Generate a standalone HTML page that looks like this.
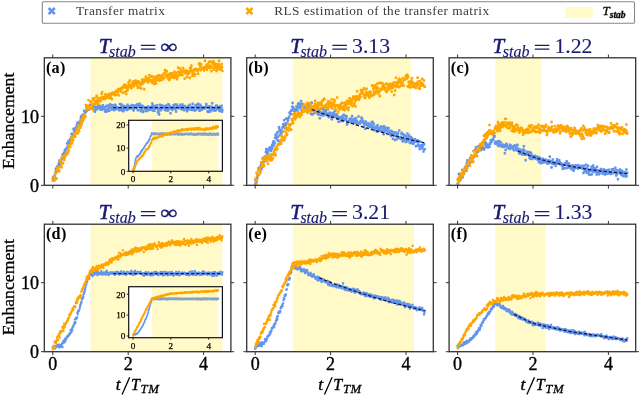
<!DOCTYPE html>
<html><head><meta charset="utf-8"><title>Enhancement vs time</title>
<style>html,body{margin:0;padding:0;background:#fff;}body{width:640px;height:395px;overflow:hidden;position:relative;font-family:"Liberation Serif",serif;}</style>
</head><body>
<svg width="640" height="395" viewBox="0 0 640 395" style="position:absolute;left:0;top:0;will-change:transform"><rect x="42.3" y="1.8" width="592.2" height="21.4" rx="1" fill="#fff" stroke="#888" stroke-width="1.1"/><path d="M48.6 8l6.2 6.2m0-6.2l-6.2 6.2" stroke="#6495ed" stroke-width="2.6"/><path d="M246.3 8l6.2 6.2m0-6.2l-6.2 6.2" stroke="#ffa500" stroke-width="2.6"/><text x="76.0" y="15.1" font-family="Liberation Serif" font-size="13.3" letter-spacing="0.45" fill="#3c3c3c">Transfer matrix</text><text x="274.2" y="15.1" font-family="Liberation Serif" font-size="13.3" letter-spacing="0.44" fill="#3c3c3c">RLS estimation of the transfer matrix</text><rect x="565.3" y="7" width="27.5" height="10.5" fill="#fffac8"/><text x="602.5" y="15.4" font-family="Liberation Serif" font-style="italic" font-size="13" fill="#000" stroke="#000" stroke-width="0.3">T<tspan font-size="9.5" font-weight="bold" dy="2.2">stab</tspan></text><rect x="90.5" y="57.8" width="131.9" height="127.5" fill="#fffac8"/><path d="M51.8 178.1l2.0 2.0m0 -2.0l-2.0 2.0M52.2 176.4l2.0 2.0m0 -2.0l-2.0 2.0M52.6 176.5l2.0 2.0m0 -2.0l-2.0 2.0M53.1 176.7l2.0 2.0m0 -2.0l-2.0 2.0M53.5 174.7l2.0 2.0m0 -2.0l-2.0 2.0M53.9 174.7l2.0 2.0m0 -2.0l-2.0 2.0M54.3 171.5l2.0 2.0m0 -2.0l-2.0 2.0M54.8 167.8l2.0 2.0m0 -2.0l-2.0 2.0M55.2 170.5l2.0 2.0m0 -2.0l-2.0 2.0M55.6 169.6l2.0 2.0m0 -2.0l-2.0 2.0M56.0 166.3l2.0 2.0m0 -2.0l-2.0 2.0M56.5 165.5l2.0 2.0m0 -2.0l-2.0 2.0M56.9 164.9l2.0 2.0m0 -2.0l-2.0 2.0M57.3 166.0l2.0 2.0m0 -2.0l-2.0 2.0M57.7 163.0l2.0 2.0m0 -2.0l-2.0 2.0M58.2 160.4l2.0 2.0m0 -2.0l-2.0 2.0M58.6 163.6l2.0 2.0m0 -2.0l-2.0 2.0M59.0 160.9l2.0 2.0m0 -2.0l-2.0 2.0M59.4 162.9l2.0 2.0m0 -2.0l-2.0 2.0M59.9 160.8l2.0 2.0m0 -2.0l-2.0 2.0M60.3 161.0l2.0 2.0m0 -2.0l-2.0 2.0M60.7 156.8l2.0 2.0m0 -2.0l-2.0 2.0M61.1 158.0l2.0 2.0m0 -2.0l-2.0 2.0M61.6 153.9l2.0 2.0m0 -2.0l-2.0 2.0M62.0 153.3l2.0 2.0m0 -2.0l-2.0 2.0M62.4 153.1l2.0 2.0m0 -2.0l-2.0 2.0M62.8 157.0l2.0 2.0m0 -2.0l-2.0 2.0M63.3 152.0l2.0 2.0m0 -2.0l-2.0 2.0M63.7 150.1l2.0 2.0m0 -2.0l-2.0 2.0M64.1 148.8l2.0 2.0m0 -2.0l-2.0 2.0M64.5 151.3l2.0 2.0m0 -2.0l-2.0 2.0M65.0 148.3l2.0 2.0m0 -2.0l-2.0 2.0M65.4 148.4l2.0 2.0m0 -2.0l-2.0 2.0M65.8 147.1l2.0 2.0m0 -2.0l-2.0 2.0M66.2 142.4l2.0 2.0m0 -2.0l-2.0 2.0M66.7 145.3l2.0 2.0m0 -2.0l-2.0 2.0M67.1 142.8l2.0 2.0m0 -2.0l-2.0 2.0M67.5 140.0l2.0 2.0m0 -2.0l-2.0 2.0M67.9 142.2l2.0 2.0m0 -2.0l-2.0 2.0M68.4 140.4l2.0 2.0m0 -2.0l-2.0 2.0M68.8 139.1l2.0 2.0m0 -2.0l-2.0 2.0M69.2 138.4l2.0 2.0m0 -2.0l-2.0 2.0M69.6 140.2l2.0 2.0m0 -2.0l-2.0 2.0M70.1 136.7l2.0 2.0m0 -2.0l-2.0 2.0M70.5 133.3l2.0 2.0m0 -2.0l-2.0 2.0M70.9 138.5l2.0 2.0m0 -2.0l-2.0 2.0M71.3 132.7l2.0 2.0m0 -2.0l-2.0 2.0M71.8 133.4l2.0 2.0m0 -2.0l-2.0 2.0M72.2 134.2l2.0 2.0m0 -2.0l-2.0 2.0M72.6 127.9l2.0 2.0m0 -2.0l-2.0 2.0M73.0 129.7l2.0 2.0m0 -2.0l-2.0 2.0M73.5 132.9l2.0 2.0m0 -2.0l-2.0 2.0M73.9 129.5l2.0 2.0m0 -2.0l-2.0 2.0M74.3 127.6l2.0 2.0m0 -2.0l-2.0 2.0M74.7 128.4l2.0 2.0m0 -2.0l-2.0 2.0M75.2 125.8l2.0 2.0m0 -2.0l-2.0 2.0M75.6 126.5l2.0 2.0m0 -2.0l-2.0 2.0M76.0 124.2l2.0 2.0m0 -2.0l-2.0 2.0M76.4 121.8l2.0 2.0m0 -2.0l-2.0 2.0M76.9 125.4l2.0 2.0m0 -2.0l-2.0 2.0M77.3 122.7l2.0 2.0m0 -2.0l-2.0 2.0M77.7 123.3l2.0 2.0m0 -2.0l-2.0 2.0M78.1 121.3l2.0 2.0m0 -2.0l-2.0 2.0M78.6 123.2l2.0 2.0m0 -2.0l-2.0 2.0M79.0 121.2l2.0 2.0m0 -2.0l-2.0 2.0M79.4 119.6l2.0 2.0m0 -2.0l-2.0 2.0M79.8 116.6l2.0 2.0m0 -2.0l-2.0 2.0M80.3 115.3l2.0 2.0m0 -2.0l-2.0 2.0M80.7 119.6l2.0 2.0m0 -2.0l-2.0 2.0M81.1 117.8l2.0 2.0m0 -2.0l-2.0 2.0M81.5 114.0l2.0 2.0m0 -2.0l-2.0 2.0M82.0 118.7l2.0 2.0m0 -2.0l-2.0 2.0M82.4 114.7l2.0 2.0m0 -2.0l-2.0 2.0M82.8 113.3l2.0 2.0m0 -2.0l-2.0 2.0M83.2 109.9l2.0 2.0m0 -2.0l-2.0 2.0M83.7 110.4l2.0 2.0m0 -2.0l-2.0 2.0M84.1 111.9l2.0 2.0m0 -2.0l-2.0 2.0M84.5 111.4l2.0 2.0m0 -2.0l-2.0 2.0M84.9 110.6l2.0 2.0m0 -2.0l-2.0 2.0M85.4 106.3l2.0 2.0m0 -2.0l-2.0 2.0M85.8 109.8l2.0 2.0m0 -2.0l-2.0 2.0M86.2 108.9l2.0 2.0m0 -2.0l-2.0 2.0M86.6 106.9l2.0 2.0m0 -2.0l-2.0 2.0M87.1 107.3l2.0 2.0m0 -2.0l-2.0 2.0M87.5 106.9l2.0 2.0m0 -2.0l-2.0 2.0M87.9 108.6l2.0 2.0m0 -2.0l-2.0 2.0M88.3 106.4l2.0 2.0m0 -2.0l-2.0 2.0M88.8 107.3l2.0 2.0m0 -2.0l-2.0 2.0M89.2 103.9l2.0 2.0m0 -2.0l-2.0 2.0M89.6 105.0l2.0 2.0m0 -2.0l-2.0 2.0M90.0 106.4l2.0 2.0m0 -2.0l-2.0 2.0M90.5 105.0l2.0 2.0m0 -2.0l-2.0 2.0M90.9 107.0l2.0 2.0m0 -2.0l-2.0 2.0M91.3 104.2l2.0 2.0m0 -2.0l-2.0 2.0M91.7 106.4l2.0 2.0m0 -2.0l-2.0 2.0M92.2 105.1l2.0 2.0m0 -2.0l-2.0 2.0M92.6 109.0l2.0 2.0m0 -2.0l-2.0 2.0M93.0 105.6l2.0 2.0m0 -2.0l-2.0 2.0M93.4 109.8l2.0 2.0m0 -2.0l-2.0 2.0M93.9 110.6l2.0 2.0m0 -2.0l-2.0 2.0M94.3 107.0l2.0 2.0m0 -2.0l-2.0 2.0M94.7 108.2l2.0 2.0m0 -2.0l-2.0 2.0M95.1 106.0l2.0 2.0m0 -2.0l-2.0 2.0M95.6 101.7l2.0 2.0m0 -2.0l-2.0 2.0M96.0 108.1l2.0 2.0m0 -2.0l-2.0 2.0M96.4 107.7l2.0 2.0m0 -2.0l-2.0 2.0M96.8 105.9l2.0 2.0m0 -2.0l-2.0 2.0M97.3 105.3l2.0 2.0m0 -2.0l-2.0 2.0M97.7 106.7l2.0 2.0m0 -2.0l-2.0 2.0M98.1 106.8l2.0 2.0m0 -2.0l-2.0 2.0M98.5 104.9l2.0 2.0m0 -2.0l-2.0 2.0M99.0 105.3l2.0 2.0m0 -2.0l-2.0 2.0M99.4 108.5l2.0 2.0m0 -2.0l-2.0 2.0M99.8 106.5l2.0 2.0m0 -2.0l-2.0 2.0M100.2 106.3l2.0 2.0m0 -2.0l-2.0 2.0M100.7 108.6l2.0 2.0m0 -2.0l-2.0 2.0M101.1 105.9l2.0 2.0m0 -2.0l-2.0 2.0M101.5 108.2l2.0 2.0m0 -2.0l-2.0 2.0M101.9 104.4l2.0 2.0m0 -2.0l-2.0 2.0M102.4 106.0l2.0 2.0m0 -2.0l-2.0 2.0M102.8 106.2l2.0 2.0m0 -2.0l-2.0 2.0M103.2 107.6l2.0 2.0m0 -2.0l-2.0 2.0M103.7 106.6l2.0 2.0m0 -2.0l-2.0 2.0M104.1 110.5l2.0 2.0m0 -2.0l-2.0 2.0M104.5 108.7l2.0 2.0m0 -2.0l-2.0 2.0M104.9 105.7l2.0 2.0m0 -2.0l-2.0 2.0M105.4 110.8l2.0 2.0m0 -2.0l-2.0 2.0M105.8 104.7l2.0 2.0m0 -2.0l-2.0 2.0M106.2 110.0l2.0 2.0m0 -2.0l-2.0 2.0M106.6 104.9l2.0 2.0m0 -2.0l-2.0 2.0M107.1 108.2l2.0 2.0m0 -2.0l-2.0 2.0M107.5 104.8l2.0 2.0m0 -2.0l-2.0 2.0M107.9 106.2l2.0 2.0m0 -2.0l-2.0 2.0M108.3 109.6l2.0 2.0m0 -2.0l-2.0 2.0M108.8 103.8l2.0 2.0m0 -2.0l-2.0 2.0M109.2 103.4l2.0 2.0m0 -2.0l-2.0 2.0M109.6 106.6l2.0 2.0m0 -2.0l-2.0 2.0M110.0 107.0l2.0 2.0m0 -2.0l-2.0 2.0M110.5 106.8l2.0 2.0m0 -2.0l-2.0 2.0M110.9 108.5l2.0 2.0m0 -2.0l-2.0 2.0M111.3 104.2l2.0 2.0m0 -2.0l-2.0 2.0M111.7 107.6l2.0 2.0m0 -2.0l-2.0 2.0M112.2 106.6l2.0 2.0m0 -2.0l-2.0 2.0M112.6 108.1l2.0 2.0m0 -2.0l-2.0 2.0M113.0 107.7l2.0 2.0m0 -2.0l-2.0 2.0M113.4 109.1l2.0 2.0m0 -2.0l-2.0 2.0M113.9 103.9l2.0 2.0m0 -2.0l-2.0 2.0M114.3 106.8l2.0 2.0m0 -2.0l-2.0 2.0M114.7 104.5l2.0 2.0m0 -2.0l-2.0 2.0M115.1 106.4l2.0 2.0m0 -2.0l-2.0 2.0M115.6 107.9l2.0 2.0m0 -2.0l-2.0 2.0M116.0 107.1l2.0 2.0m0 -2.0l-2.0 2.0M116.4 107.6l2.0 2.0m0 -2.0l-2.0 2.0M116.8 106.5l2.0 2.0m0 -2.0l-2.0 2.0M117.3 107.3l2.0 2.0m0 -2.0l-2.0 2.0M117.7 107.1l2.0 2.0m0 -2.0l-2.0 2.0M118.1 109.3l2.0 2.0m0 -2.0l-2.0 2.0M118.5 108.2l2.0 2.0m0 -2.0l-2.0 2.0M119.0 103.1l2.0 2.0m0 -2.0l-2.0 2.0M119.4 107.9l2.0 2.0m0 -2.0l-2.0 2.0M119.8 108.7l2.0 2.0m0 -2.0l-2.0 2.0M120.2 105.8l2.0 2.0m0 -2.0l-2.0 2.0M120.7 103.6l2.0 2.0m0 -2.0l-2.0 2.0M121.1 109.5l2.0 2.0m0 -2.0l-2.0 2.0M121.5 106.9l2.0 2.0m0 -2.0l-2.0 2.0M121.9 107.8l2.0 2.0m0 -2.0l-2.0 2.0M122.4 110.1l2.0 2.0m0 -2.0l-2.0 2.0M122.8 105.0l2.0 2.0m0 -2.0l-2.0 2.0M123.2 106.6l2.0 2.0m0 -2.0l-2.0 2.0M123.6 106.4l2.0 2.0m0 -2.0l-2.0 2.0M124.1 108.1l2.0 2.0m0 -2.0l-2.0 2.0M124.5 105.6l2.0 2.0m0 -2.0l-2.0 2.0M124.9 107.6l2.0 2.0m0 -2.0l-2.0 2.0M125.3 106.8l2.0 2.0m0 -2.0l-2.0 2.0M125.8 108.8l2.0 2.0m0 -2.0l-2.0 2.0M126.2 109.0l2.0 2.0m0 -2.0l-2.0 2.0M126.6 103.8l2.0 2.0m0 -2.0l-2.0 2.0M127.0 107.6l2.0 2.0m0 -2.0l-2.0 2.0M127.5 105.9l2.0 2.0m0 -2.0l-2.0 2.0M127.9 106.6l2.0 2.0m0 -2.0l-2.0 2.0M128.3 107.4l2.0 2.0m0 -2.0l-2.0 2.0M128.7 107.6l2.0 2.0m0 -2.0l-2.0 2.0M129.2 105.2l2.0 2.0m0 -2.0l-2.0 2.0M129.6 107.2l2.0 2.0m0 -2.0l-2.0 2.0M130.0 106.9l2.0 2.0m0 -2.0l-2.0 2.0M130.4 106.5l2.0 2.0m0 -2.0l-2.0 2.0M130.9 104.1l2.0 2.0m0 -2.0l-2.0 2.0M131.3 105.1l2.0 2.0m0 -2.0l-2.0 2.0M131.7 105.8l2.0 2.0m0 -2.0l-2.0 2.0M132.1 107.7l2.0 2.0m0 -2.0l-2.0 2.0M132.6 109.4l2.0 2.0m0 -2.0l-2.0 2.0M133.0 104.6l2.0 2.0m0 -2.0l-2.0 2.0M133.4 104.6l2.0 2.0m0 -2.0l-2.0 2.0M133.8 106.9l2.0 2.0m0 -2.0l-2.0 2.0M134.3 105.4l2.0 2.0m0 -2.0l-2.0 2.0M134.7 104.9l2.0 2.0m0 -2.0l-2.0 2.0M135.1 104.8l2.0 2.0m0 -2.0l-2.0 2.0M135.5 104.7l2.0 2.0m0 -2.0l-2.0 2.0M136.0 107.5l2.0 2.0m0 -2.0l-2.0 2.0M136.4 103.4l2.0 2.0m0 -2.0l-2.0 2.0M136.8 109.2l2.0 2.0m0 -2.0l-2.0 2.0M137.2 104.8l2.0 2.0m0 -2.0l-2.0 2.0M137.7 105.6l2.0 2.0m0 -2.0l-2.0 2.0M138.1 104.8l2.0 2.0m0 -2.0l-2.0 2.0M138.5 102.7l2.0 2.0m0 -2.0l-2.0 2.0M138.9 103.5l2.0 2.0m0 -2.0l-2.0 2.0M139.4 109.0l2.0 2.0m0 -2.0l-2.0 2.0M139.8 110.1l2.0 2.0m0 -2.0l-2.0 2.0M140.2 104.9l2.0 2.0m0 -2.0l-2.0 2.0M140.6 108.7l2.0 2.0m0 -2.0l-2.0 2.0M141.1 106.6l2.0 2.0m0 -2.0l-2.0 2.0M141.5 104.9l2.0 2.0m0 -2.0l-2.0 2.0M141.9 110.0l2.0 2.0m0 -2.0l-2.0 2.0M142.3 111.0l2.0 2.0m0 -2.0l-2.0 2.0M142.8 106.1l2.0 2.0m0 -2.0l-2.0 2.0M143.2 106.5l2.0 2.0m0 -2.0l-2.0 2.0M143.6 107.1l2.0 2.0m0 -2.0l-2.0 2.0M144.0 106.5l2.0 2.0m0 -2.0l-2.0 2.0M144.5 108.4l2.0 2.0m0 -2.0l-2.0 2.0M144.9 109.8l2.0 2.0m0 -2.0l-2.0 2.0M145.3 107.0l2.0 2.0m0 -2.0l-2.0 2.0M145.7 108.6l2.0 2.0m0 -2.0l-2.0 2.0M146.2 110.0l2.0 2.0m0 -2.0l-2.0 2.0M146.6 105.6l2.0 2.0m0 -2.0l-2.0 2.0M147.0 106.8l2.0 2.0m0 -2.0l-2.0 2.0M147.4 105.8l2.0 2.0m0 -2.0l-2.0 2.0M147.9 108.7l2.0 2.0m0 -2.0l-2.0 2.0M148.3 108.0l2.0 2.0m0 -2.0l-2.0 2.0M148.7 108.7l2.0 2.0m0 -2.0l-2.0 2.0M149.1 108.5l2.0 2.0m0 -2.0l-2.0 2.0M149.6 106.2l2.0 2.0m0 -2.0l-2.0 2.0M150.0 108.3l2.0 2.0m0 -2.0l-2.0 2.0M150.4 105.9l2.0 2.0m0 -2.0l-2.0 2.0M150.8 105.9l2.0 2.0m0 -2.0l-2.0 2.0M151.3 102.5l2.0 2.0m0 -2.0l-2.0 2.0M151.7 109.5l2.0 2.0m0 -2.0l-2.0 2.0M152.1 104.8l2.0 2.0m0 -2.0l-2.0 2.0M152.5 106.8l2.0 2.0m0 -2.0l-2.0 2.0M153.0 106.7l2.0 2.0m0 -2.0l-2.0 2.0M153.4 109.7l2.0 2.0m0 -2.0l-2.0 2.0M153.8 107.6l2.0 2.0m0 -2.0l-2.0 2.0M154.2 105.1l2.0 2.0m0 -2.0l-2.0 2.0M154.7 106.8l2.0 2.0m0 -2.0l-2.0 2.0M155.1 106.5l2.0 2.0m0 -2.0l-2.0 2.0M155.5 107.3l2.0 2.0m0 -2.0l-2.0 2.0M155.9 104.3l2.0 2.0m0 -2.0l-2.0 2.0M156.4 106.7l2.0 2.0m0 -2.0l-2.0 2.0M156.8 111.2l2.0 2.0m0 -2.0l-2.0 2.0M157.2 108.1l2.0 2.0m0 -2.0l-2.0 2.0M157.6 110.8l2.0 2.0m0 -2.0l-2.0 2.0M158.1 113.4l2.0 2.0m0 -2.0l-2.0 2.0M158.5 107.8l2.0 2.0m0 -2.0l-2.0 2.0M158.9 103.9l2.0 2.0m0 -2.0l-2.0 2.0M159.3 106.6l2.0 2.0m0 -2.0l-2.0 2.0M159.8 109.1l2.0 2.0m0 -2.0l-2.0 2.0M160.2 108.6l2.0 2.0m0 -2.0l-2.0 2.0M160.6 104.4l2.0 2.0m0 -2.0l-2.0 2.0M161.0 106.4l2.0 2.0m0 -2.0l-2.0 2.0M161.5 106.6l2.0 2.0m0 -2.0l-2.0 2.0M161.9 106.8l2.0 2.0m0 -2.0l-2.0 2.0M162.3 106.6l2.0 2.0m0 -2.0l-2.0 2.0M162.7 105.0l2.0 2.0m0 -2.0l-2.0 2.0M163.2 105.6l2.0 2.0m0 -2.0l-2.0 2.0M163.6 106.3l2.0 2.0m0 -2.0l-2.0 2.0M164.0 108.9l2.0 2.0m0 -2.0l-2.0 2.0M164.4 105.7l2.0 2.0m0 -2.0l-2.0 2.0M164.9 108.1l2.0 2.0m0 -2.0l-2.0 2.0M165.3 104.5l2.0 2.0m0 -2.0l-2.0 2.0M165.7 109.4l2.0 2.0m0 -2.0l-2.0 2.0M166.1 107.0l2.0 2.0m0 -2.0l-2.0 2.0M166.6 106.8l2.0 2.0m0 -2.0l-2.0 2.0M167.0 109.5l2.0 2.0m0 -2.0l-2.0 2.0M167.4 103.2l2.0 2.0m0 -2.0l-2.0 2.0M167.8 103.7l2.0 2.0m0 -2.0l-2.0 2.0M168.3 107.7l2.0 2.0m0 -2.0l-2.0 2.0M168.7 105.2l2.0 2.0m0 -2.0l-2.0 2.0M169.1 106.0l2.0 2.0m0 -2.0l-2.0 2.0M169.5 112.2l2.0 2.0m0 -2.0l-2.0 2.0M170.0 106.2l2.0 2.0m0 -2.0l-2.0 2.0M170.4 106.9l2.0 2.0m0 -2.0l-2.0 2.0M170.8 106.6l2.0 2.0m0 -2.0l-2.0 2.0M171.3 109.0l2.0 2.0m0 -2.0l-2.0 2.0M171.7 107.3l2.0 2.0m0 -2.0l-2.0 2.0M172.1 107.1l2.0 2.0m0 -2.0l-2.0 2.0M172.5 104.3l2.0 2.0m0 -2.0l-2.0 2.0M173.0 106.1l2.0 2.0m0 -2.0l-2.0 2.0M173.4 106.8l2.0 2.0m0 -2.0l-2.0 2.0M173.8 103.6l2.0 2.0m0 -2.0l-2.0 2.0M174.2 107.9l2.0 2.0m0 -2.0l-2.0 2.0M174.7 107.6l2.0 2.0m0 -2.0l-2.0 2.0M175.1 110.5l2.0 2.0m0 -2.0l-2.0 2.0M175.5 103.5l2.0 2.0m0 -2.0l-2.0 2.0M175.9 104.8l2.0 2.0m0 -2.0l-2.0 2.0M176.4 104.9l2.0 2.0m0 -2.0l-2.0 2.0M176.8 105.4l2.0 2.0m0 -2.0l-2.0 2.0M177.2 106.6l2.0 2.0m0 -2.0l-2.0 2.0M177.6 106.3l2.0 2.0m0 -2.0l-2.0 2.0M178.1 107.3l2.0 2.0m0 -2.0l-2.0 2.0M178.5 107.2l2.0 2.0m0 -2.0l-2.0 2.0M178.9 106.7l2.0 2.0m0 -2.0l-2.0 2.0M179.3 103.7l2.0 2.0m0 -2.0l-2.0 2.0M179.8 105.7l2.0 2.0m0 -2.0l-2.0 2.0M180.2 106.9l2.0 2.0m0 -2.0l-2.0 2.0M180.6 108.0l2.0 2.0m0 -2.0l-2.0 2.0M181.0 108.1l2.0 2.0m0 -2.0l-2.0 2.0M181.5 103.5l2.0 2.0m0 -2.0l-2.0 2.0M181.9 105.8l2.0 2.0m0 -2.0l-2.0 2.0M182.3 106.7l2.0 2.0m0 -2.0l-2.0 2.0M182.7 107.5l2.0 2.0m0 -2.0l-2.0 2.0M183.2 109.1l2.0 2.0m0 -2.0l-2.0 2.0M183.6 107.0l2.0 2.0m0 -2.0l-2.0 2.0M184.0 105.0l2.0 2.0m0 -2.0l-2.0 2.0M184.4 107.6l2.0 2.0m0 -2.0l-2.0 2.0M184.9 107.3l2.0 2.0m0 -2.0l-2.0 2.0M185.3 107.3l2.0 2.0m0 -2.0l-2.0 2.0M185.7 106.6l2.0 2.0m0 -2.0l-2.0 2.0M186.1 110.1l2.0 2.0m0 -2.0l-2.0 2.0M186.6 107.3l2.0 2.0m0 -2.0l-2.0 2.0M187.0 108.6l2.0 2.0m0 -2.0l-2.0 2.0M187.4 105.0l2.0 2.0m0 -2.0l-2.0 2.0M187.8 108.4l2.0 2.0m0 -2.0l-2.0 2.0M188.3 105.7l2.0 2.0m0 -2.0l-2.0 2.0M188.7 103.7l2.0 2.0m0 -2.0l-2.0 2.0M189.1 107.5l2.0 2.0m0 -2.0l-2.0 2.0M189.5 108.1l2.0 2.0m0 -2.0l-2.0 2.0M190.0 106.5l2.0 2.0m0 -2.0l-2.0 2.0M190.4 106.9l2.0 2.0m0 -2.0l-2.0 2.0M190.8 108.9l2.0 2.0m0 -2.0l-2.0 2.0M191.2 105.9l2.0 2.0m0 -2.0l-2.0 2.0M191.7 102.7l2.0 2.0m0 -2.0l-2.0 2.0M192.1 107.4l2.0 2.0m0 -2.0l-2.0 2.0M192.5 107.3l2.0 2.0m0 -2.0l-2.0 2.0M192.9 109.0l2.0 2.0m0 -2.0l-2.0 2.0M193.4 106.2l2.0 2.0m0 -2.0l-2.0 2.0M193.8 109.5l2.0 2.0m0 -2.0l-2.0 2.0M194.2 109.2l2.0 2.0m0 -2.0l-2.0 2.0M194.6 104.2l2.0 2.0m0 -2.0l-2.0 2.0M195.1 108.8l2.0 2.0m0 -2.0l-2.0 2.0M195.5 104.7l2.0 2.0m0 -2.0l-2.0 2.0M195.9 103.7l2.0 2.0m0 -2.0l-2.0 2.0M196.3 106.4l2.0 2.0m0 -2.0l-2.0 2.0M196.8 105.8l2.0 2.0m0 -2.0l-2.0 2.0M197.2 102.9l2.0 2.0m0 -2.0l-2.0 2.0M197.6 107.3l2.0 2.0m0 -2.0l-2.0 2.0M198.0 108.1l2.0 2.0m0 -2.0l-2.0 2.0M198.5 109.7l2.0 2.0m0 -2.0l-2.0 2.0M198.9 106.8l2.0 2.0m0 -2.0l-2.0 2.0M199.3 103.8l2.0 2.0m0 -2.0l-2.0 2.0M199.7 104.9l2.0 2.0m0 -2.0l-2.0 2.0M200.2 108.9l2.0 2.0m0 -2.0l-2.0 2.0M200.6 108.7l2.0 2.0m0 -2.0l-2.0 2.0M201.0 108.0l2.0 2.0m0 -2.0l-2.0 2.0M201.4 106.3l2.0 2.0m0 -2.0l-2.0 2.0M201.9 107.3l2.0 2.0m0 -2.0l-2.0 2.0M202.3 106.5l2.0 2.0m0 -2.0l-2.0 2.0M202.7 106.3l2.0 2.0m0 -2.0l-2.0 2.0M203.1 107.5l2.0 2.0m0 -2.0l-2.0 2.0M203.6 107.0l2.0 2.0m0 -2.0l-2.0 2.0M204.0 106.5l2.0 2.0m0 -2.0l-2.0 2.0M204.4 107.1l2.0 2.0m0 -2.0l-2.0 2.0M204.8 105.9l2.0 2.0m0 -2.0l-2.0 2.0M205.3 103.1l2.0 2.0m0 -2.0l-2.0 2.0M205.7 105.7l2.0 2.0m0 -2.0l-2.0 2.0M206.1 106.8l2.0 2.0m0 -2.0l-2.0 2.0M206.5 110.4l2.0 2.0m0 -2.0l-2.0 2.0M207.0 106.1l2.0 2.0m0 -2.0l-2.0 2.0M207.4 111.0l2.0 2.0m0 -2.0l-2.0 2.0M207.8 109.9l2.0 2.0m0 -2.0l-2.0 2.0M208.2 105.2l2.0 2.0m0 -2.0l-2.0 2.0M208.7 105.5l2.0 2.0m0 -2.0l-2.0 2.0M209.1 107.3l2.0 2.0m0 -2.0l-2.0 2.0M209.5 110.5l2.0 2.0m0 -2.0l-2.0 2.0M209.9 107.7l2.0 2.0m0 -2.0l-2.0 2.0M210.4 108.4l2.0 2.0m0 -2.0l-2.0 2.0M210.8 105.7l2.0 2.0m0 -2.0l-2.0 2.0M211.2 102.3l2.0 2.0m0 -2.0l-2.0 2.0M211.6 106.5l2.0 2.0m0 -2.0l-2.0 2.0M212.1 108.6l2.0 2.0m0 -2.0l-2.0 2.0M212.5 109.4l2.0 2.0m0 -2.0l-2.0 2.0M212.9 107.1l2.0 2.0m0 -2.0l-2.0 2.0M213.3 107.4l2.0 2.0m0 -2.0l-2.0 2.0M213.8 109.4l2.0 2.0m0 -2.0l-2.0 2.0M214.2 106.7l2.0 2.0m0 -2.0l-2.0 2.0M214.6 109.4l2.0 2.0m0 -2.0l-2.0 2.0M215.0 104.7l2.0 2.0m0 -2.0l-2.0 2.0M215.5 104.8l2.0 2.0m0 -2.0l-2.0 2.0M215.9 104.8l2.0 2.0m0 -2.0l-2.0 2.0M216.3 108.0l2.0 2.0m0 -2.0l-2.0 2.0M216.7 105.9l2.0 2.0m0 -2.0l-2.0 2.0M217.2 107.3l2.0 2.0m0 -2.0l-2.0 2.0M217.6 107.8l2.0 2.0m0 -2.0l-2.0 2.0M218.0 107.7l2.0 2.0m0 -2.0l-2.0 2.0M218.4 109.7l2.0 2.0m0 -2.0l-2.0 2.0M218.9 110.0l2.0 2.0m0 -2.0l-2.0 2.0M219.3 105.4l2.0 2.0m0 -2.0l-2.0 2.0M219.7 107.4l2.0 2.0m0 -2.0l-2.0 2.0M220.1 106.6l2.0 2.0m0 -2.0l-2.0 2.0M220.6 104.9l2.0 2.0m0 -2.0l-2.0 2.0M221.0 110.6l2.0 2.0m0 -2.0l-2.0 2.0M221.4 108.7l2.0 2.0m0 -2.0l-2.0 2.0" stroke="#6495ed" stroke-width="1.5" fill="none" opacity="1.0"/><path d="M51.8 179.7l2.0 2.0m0 -2.0l-2.0 2.0M52.2 178.2l2.0 2.0m0 -2.0l-2.0 2.0M52.6 179.5l2.0 2.0m0 -2.0l-2.0 2.0M53.1 174.7l2.0 2.0m0 -2.0l-2.0 2.0M53.5 176.1l2.0 2.0m0 -2.0l-2.0 2.0M53.9 179.2l2.0 2.0m0 -2.0l-2.0 2.0M54.3 177.5l2.0 2.0m0 -2.0l-2.0 2.0M54.8 171.9l2.0 2.0m0 -2.0l-2.0 2.0M55.2 172.0l2.0 2.0m0 -2.0l-2.0 2.0M55.6 177.6l2.0 2.0m0 -2.0l-2.0 2.0M56.0 167.8l2.0 2.0m0 -2.0l-2.0 2.0M56.5 169.0l2.0 2.0m0 -2.0l-2.0 2.0M56.9 166.1l2.0 2.0m0 -2.0l-2.0 2.0M57.3 170.0l2.0 2.0m0 -2.0l-2.0 2.0M57.7 168.9l2.0 2.0m0 -2.0l-2.0 2.0M58.2 170.3l2.0 2.0m0 -2.0l-2.0 2.0M58.6 159.3l2.0 2.0m0 -2.0l-2.0 2.0M59.0 165.9l2.0 2.0m0 -2.0l-2.0 2.0M59.4 160.1l2.0 2.0m0 -2.0l-2.0 2.0M59.9 165.3l2.0 2.0m0 -2.0l-2.0 2.0M60.3 162.1l2.0 2.0m0 -2.0l-2.0 2.0M60.7 166.3l2.0 2.0m0 -2.0l-2.0 2.0M61.1 161.8l2.0 2.0m0 -2.0l-2.0 2.0M61.6 157.1l2.0 2.0m0 -2.0l-2.0 2.0M62.0 162.3l2.0 2.0m0 -2.0l-2.0 2.0M62.4 155.0l2.0 2.0m0 -2.0l-2.0 2.0M62.8 156.1l2.0 2.0m0 -2.0l-2.0 2.0M63.3 158.9l2.0 2.0m0 -2.0l-2.0 2.0M63.7 156.5l2.0 2.0m0 -2.0l-2.0 2.0M64.1 155.5l2.0 2.0m0 -2.0l-2.0 2.0M64.5 153.4l2.0 2.0m0 -2.0l-2.0 2.0M65.0 153.8l2.0 2.0m0 -2.0l-2.0 2.0M65.4 153.7l2.0 2.0m0 -2.0l-2.0 2.0M65.8 151.3l2.0 2.0m0 -2.0l-2.0 2.0M66.2 152.4l2.0 2.0m0 -2.0l-2.0 2.0M66.7 152.1l2.0 2.0m0 -2.0l-2.0 2.0M67.1 147.8l2.0 2.0m0 -2.0l-2.0 2.0M67.5 144.3l2.0 2.0m0 -2.0l-2.0 2.0M67.9 150.0l2.0 2.0m0 -2.0l-2.0 2.0M68.4 144.9l2.0 2.0m0 -2.0l-2.0 2.0M68.8 145.8l2.0 2.0m0 -2.0l-2.0 2.0M69.2 145.9l2.0 2.0m0 -2.0l-2.0 2.0M69.6 139.9l2.0 2.0m0 -2.0l-2.0 2.0M70.1 142.9l2.0 2.0m0 -2.0l-2.0 2.0M70.5 136.4l2.0 2.0m0 -2.0l-2.0 2.0M70.9 141.9l2.0 2.0m0 -2.0l-2.0 2.0M71.3 137.8l2.0 2.0m0 -2.0l-2.0 2.0M71.8 138.6l2.0 2.0m0 -2.0l-2.0 2.0M72.2 139.2l2.0 2.0m0 -2.0l-2.0 2.0M72.6 134.6l2.0 2.0m0 -2.0l-2.0 2.0M73.0 135.8l2.0 2.0m0 -2.0l-2.0 2.0M73.5 132.8l2.0 2.0m0 -2.0l-2.0 2.0M73.9 133.8l2.0 2.0m0 -2.0l-2.0 2.0M74.3 135.8l2.0 2.0m0 -2.0l-2.0 2.0M74.7 132.2l2.0 2.0m0 -2.0l-2.0 2.0M75.2 130.9l2.0 2.0m0 -2.0l-2.0 2.0M75.6 127.5l2.0 2.0m0 -2.0l-2.0 2.0M76.0 131.8l2.0 2.0m0 -2.0l-2.0 2.0M76.4 128.5l2.0 2.0m0 -2.0l-2.0 2.0M76.9 132.3l2.0 2.0m0 -2.0l-2.0 2.0M77.3 124.9l2.0 2.0m0 -2.0l-2.0 2.0M77.7 128.8l2.0 2.0m0 -2.0l-2.0 2.0M78.1 130.0l2.0 2.0m0 -2.0l-2.0 2.0M78.6 124.3l2.0 2.0m0 -2.0l-2.0 2.0M79.0 120.2l2.0 2.0m0 -2.0l-2.0 2.0M79.4 126.7l2.0 2.0m0 -2.0l-2.0 2.0M79.8 124.6l2.0 2.0m0 -2.0l-2.0 2.0M80.3 122.8l2.0 2.0m0 -2.0l-2.0 2.0M80.7 123.1l2.0 2.0m0 -2.0l-2.0 2.0M81.1 118.1l2.0 2.0m0 -2.0l-2.0 2.0M81.5 120.5l2.0 2.0m0 -2.0l-2.0 2.0M82.0 119.4l2.0 2.0m0 -2.0l-2.0 2.0M82.4 115.0l2.0 2.0m0 -2.0l-2.0 2.0M82.8 117.7l2.0 2.0m0 -2.0l-2.0 2.0M83.2 113.1l2.0 2.0m0 -2.0l-2.0 2.0M83.7 115.7l2.0 2.0m0 -2.0l-2.0 2.0M84.1 115.1l2.0 2.0m0 -2.0l-2.0 2.0M84.5 115.5l2.0 2.0m0 -2.0l-2.0 2.0M84.9 104.0l2.0 2.0m0 -2.0l-2.0 2.0M85.4 108.7l2.0 2.0m0 -2.0l-2.0 2.0M85.8 105.9l2.0 2.0m0 -2.0l-2.0 2.0M86.2 105.6l2.0 2.0m0 -2.0l-2.0 2.0M86.6 104.8l2.0 2.0m0 -2.0l-2.0 2.0M87.1 104.8l2.0 2.0m0 -2.0l-2.0 2.0M87.5 99.3l2.0 2.0m0 -2.0l-2.0 2.0M87.9 107.1l2.0 2.0m0 -2.0l-2.0 2.0M88.3 108.2l2.0 2.0m0 -2.0l-2.0 2.0M88.8 106.4l2.0 2.0m0 -2.0l-2.0 2.0M89.2 107.0l2.0 2.0m0 -2.0l-2.0 2.0M89.6 100.9l2.0 2.0m0 -2.0l-2.0 2.0M90.0 100.4l2.0 2.0m0 -2.0l-2.0 2.0M90.5 105.0l2.0 2.0m0 -2.0l-2.0 2.0M90.9 105.9l2.0 2.0m0 -2.0l-2.0 2.0M91.3 102.7l2.0 2.0m0 -2.0l-2.0 2.0M91.7 97.5l2.0 2.0m0 -2.0l-2.0 2.0M92.2 108.8l2.0 2.0m0 -2.0l-2.0 2.0M92.6 99.3l2.0 2.0m0 -2.0l-2.0 2.0M93.0 103.4l2.0 2.0m0 -2.0l-2.0 2.0M93.4 97.2l2.0 2.0m0 -2.0l-2.0 2.0M93.9 102.8l2.0 2.0m0 -2.0l-2.0 2.0M94.3 100.2l2.0 2.0m0 -2.0l-2.0 2.0M94.7 103.3l2.0 2.0m0 -2.0l-2.0 2.0M95.1 101.5l2.0 2.0m0 -2.0l-2.0 2.0M95.6 94.7l2.0 2.0m0 -2.0l-2.0 2.0M96.0 96.1l2.0 2.0m0 -2.0l-2.0 2.0M96.4 99.3l2.0 2.0m0 -2.0l-2.0 2.0M96.8 100.4l2.0 2.0m0 -2.0l-2.0 2.0M97.3 103.1l2.0 2.0m0 -2.0l-2.0 2.0M97.7 98.8l2.0 2.0m0 -2.0l-2.0 2.0M98.1 97.6l2.0 2.0m0 -2.0l-2.0 2.0M98.5 97.6l2.0 2.0m0 -2.0l-2.0 2.0M99.0 97.4l2.0 2.0m0 -2.0l-2.0 2.0M99.4 100.1l2.0 2.0m0 -2.0l-2.0 2.0M99.8 97.0l2.0 2.0m0 -2.0l-2.0 2.0M100.2 96.8l2.0 2.0m0 -2.0l-2.0 2.0M100.7 92.9l2.0 2.0m0 -2.0l-2.0 2.0M101.1 91.2l2.0 2.0m0 -2.0l-2.0 2.0M101.5 96.5l2.0 2.0m0 -2.0l-2.0 2.0M101.9 98.1l2.0 2.0m0 -2.0l-2.0 2.0M102.4 96.0l2.0 2.0m0 -2.0l-2.0 2.0M102.8 97.3l2.0 2.0m0 -2.0l-2.0 2.0M103.2 97.5l2.0 2.0m0 -2.0l-2.0 2.0M103.7 95.5l2.0 2.0m0 -2.0l-2.0 2.0M104.1 98.0l2.0 2.0m0 -2.0l-2.0 2.0M104.5 93.3l2.0 2.0m0 -2.0l-2.0 2.0M104.9 95.1l2.0 2.0m0 -2.0l-2.0 2.0M105.4 94.0l2.0 2.0m0 -2.0l-2.0 2.0M105.8 95.0l2.0 2.0m0 -2.0l-2.0 2.0M106.2 96.3l2.0 2.0m0 -2.0l-2.0 2.0M106.6 96.8l2.0 2.0m0 -2.0l-2.0 2.0M107.1 94.6l2.0 2.0m0 -2.0l-2.0 2.0M107.5 95.3l2.0 2.0m0 -2.0l-2.0 2.0M107.9 93.0l2.0 2.0m0 -2.0l-2.0 2.0M108.3 93.5l2.0 2.0m0 -2.0l-2.0 2.0M108.8 97.0l2.0 2.0m0 -2.0l-2.0 2.0M109.2 92.9l2.0 2.0m0 -2.0l-2.0 2.0M109.6 96.6l2.0 2.0m0 -2.0l-2.0 2.0M110.0 94.4l2.0 2.0m0 -2.0l-2.0 2.0M110.5 93.4l2.0 2.0m0 -2.0l-2.0 2.0M110.9 98.1l2.0 2.0m0 -2.0l-2.0 2.0M111.3 92.0l2.0 2.0m0 -2.0l-2.0 2.0M111.7 91.6l2.0 2.0m0 -2.0l-2.0 2.0M112.2 92.3l2.0 2.0m0 -2.0l-2.0 2.0M112.6 92.9l2.0 2.0m0 -2.0l-2.0 2.0M113.0 92.5l2.0 2.0m0 -2.0l-2.0 2.0M113.4 94.0l2.0 2.0m0 -2.0l-2.0 2.0M113.9 91.9l2.0 2.0m0 -2.0l-2.0 2.0M114.3 92.5l2.0 2.0m0 -2.0l-2.0 2.0M114.7 90.6l2.0 2.0m0 -2.0l-2.0 2.0M115.1 94.0l2.0 2.0m0 -2.0l-2.0 2.0M115.6 89.8l2.0 2.0m0 -2.0l-2.0 2.0M116.0 89.9l2.0 2.0m0 -2.0l-2.0 2.0M116.4 90.5l2.0 2.0m0 -2.0l-2.0 2.0M116.8 91.1l2.0 2.0m0 -2.0l-2.0 2.0M117.3 88.2l2.0 2.0m0 -2.0l-2.0 2.0M117.7 94.2l2.0 2.0m0 -2.0l-2.0 2.0M118.1 88.1l2.0 2.0m0 -2.0l-2.0 2.0M118.5 88.6l2.0 2.0m0 -2.0l-2.0 2.0M119.0 88.3l2.0 2.0m0 -2.0l-2.0 2.0M119.4 87.8l2.0 2.0m0 -2.0l-2.0 2.0M119.8 90.5l2.0 2.0m0 -2.0l-2.0 2.0M120.2 89.2l2.0 2.0m0 -2.0l-2.0 2.0M120.7 86.5l2.0 2.0m0 -2.0l-2.0 2.0M121.1 86.9l2.0 2.0m0 -2.0l-2.0 2.0M121.5 87.3l2.0 2.0m0 -2.0l-2.0 2.0M121.9 91.8l2.0 2.0m0 -2.0l-2.0 2.0M122.4 86.0l2.0 2.0m0 -2.0l-2.0 2.0M122.8 84.0l2.0 2.0m0 -2.0l-2.0 2.0M123.2 84.3l2.0 2.0m0 -2.0l-2.0 2.0M123.6 86.2l2.0 2.0m0 -2.0l-2.0 2.0M124.1 90.9l2.0 2.0m0 -2.0l-2.0 2.0M124.5 83.8l2.0 2.0m0 -2.0l-2.0 2.0M124.9 86.6l2.0 2.0m0 -2.0l-2.0 2.0M125.3 93.0l2.0 2.0m0 -2.0l-2.0 2.0M125.8 84.8l2.0 2.0m0 -2.0l-2.0 2.0M126.2 89.8l2.0 2.0m0 -2.0l-2.0 2.0M126.6 89.0l2.0 2.0m0 -2.0l-2.0 2.0M127.0 87.0l2.0 2.0m0 -2.0l-2.0 2.0M127.5 81.5l2.0 2.0m0 -2.0l-2.0 2.0M127.9 85.9l2.0 2.0m0 -2.0l-2.0 2.0M128.3 83.9l2.0 2.0m0 -2.0l-2.0 2.0M128.7 79.6l2.0 2.0m0 -2.0l-2.0 2.0M129.2 79.8l2.0 2.0m0 -2.0l-2.0 2.0M129.6 84.3l2.0 2.0m0 -2.0l-2.0 2.0M130.0 84.5l2.0 2.0m0 -2.0l-2.0 2.0M130.4 87.1l2.0 2.0m0 -2.0l-2.0 2.0M130.9 85.4l2.0 2.0m0 -2.0l-2.0 2.0M131.3 82.2l2.0 2.0m0 -2.0l-2.0 2.0M131.7 82.2l2.0 2.0m0 -2.0l-2.0 2.0M132.1 82.9l2.0 2.0m0 -2.0l-2.0 2.0M132.6 80.4l2.0 2.0m0 -2.0l-2.0 2.0M133.0 85.1l2.0 2.0m0 -2.0l-2.0 2.0M133.4 83.1l2.0 2.0m0 -2.0l-2.0 2.0M133.8 80.8l2.0 2.0m0 -2.0l-2.0 2.0M134.3 81.1l2.0 2.0m0 -2.0l-2.0 2.0M134.7 79.6l2.0 2.0m0 -2.0l-2.0 2.0M135.1 81.4l2.0 2.0m0 -2.0l-2.0 2.0M135.5 83.2l2.0 2.0m0 -2.0l-2.0 2.0M136.0 81.3l2.0 2.0m0 -2.0l-2.0 2.0M136.4 85.0l2.0 2.0m0 -2.0l-2.0 2.0M136.8 86.6l2.0 2.0m0 -2.0l-2.0 2.0M137.2 80.4l2.0 2.0m0 -2.0l-2.0 2.0M137.7 82.0l2.0 2.0m0 -2.0l-2.0 2.0M138.1 80.9l2.0 2.0m0 -2.0l-2.0 2.0M138.5 86.4l2.0 2.0m0 -2.0l-2.0 2.0M138.9 82.6l2.0 2.0m0 -2.0l-2.0 2.0M139.4 83.1l2.0 2.0m0 -2.0l-2.0 2.0M139.8 83.8l2.0 2.0m0 -2.0l-2.0 2.0M140.2 87.5l2.0 2.0m0 -2.0l-2.0 2.0M140.6 82.1l2.0 2.0m0 -2.0l-2.0 2.0M141.1 78.6l2.0 2.0m0 -2.0l-2.0 2.0M141.5 79.9l2.0 2.0m0 -2.0l-2.0 2.0M141.9 82.5l2.0 2.0m0 -2.0l-2.0 2.0M142.3 80.8l2.0 2.0m0 -2.0l-2.0 2.0M142.8 78.6l2.0 2.0m0 -2.0l-2.0 2.0M143.2 88.3l2.0 2.0m0 -2.0l-2.0 2.0M143.6 80.9l2.0 2.0m0 -2.0l-2.0 2.0M144.0 79.0l2.0 2.0m0 -2.0l-2.0 2.0M144.5 78.5l2.0 2.0m0 -2.0l-2.0 2.0M144.9 75.6l2.0 2.0m0 -2.0l-2.0 2.0M145.3 77.1l2.0 2.0m0 -2.0l-2.0 2.0M145.7 79.3l2.0 2.0m0 -2.0l-2.0 2.0M146.2 79.3l2.0 2.0m0 -2.0l-2.0 2.0M146.6 77.9l2.0 2.0m0 -2.0l-2.0 2.0M147.0 81.5l2.0 2.0m0 -2.0l-2.0 2.0M147.4 80.0l2.0 2.0m0 -2.0l-2.0 2.0M147.9 77.3l2.0 2.0m0 -2.0l-2.0 2.0M148.3 74.3l2.0 2.0m0 -2.0l-2.0 2.0M148.7 80.1l2.0 2.0m0 -2.0l-2.0 2.0M149.1 79.7l2.0 2.0m0 -2.0l-2.0 2.0M149.6 79.0l2.0 2.0m0 -2.0l-2.0 2.0M150.0 75.7l2.0 2.0m0 -2.0l-2.0 2.0M150.4 79.4l2.0 2.0m0 -2.0l-2.0 2.0M150.8 75.2l2.0 2.0m0 -2.0l-2.0 2.0M151.3 81.9l2.0 2.0m0 -2.0l-2.0 2.0M151.7 79.7l2.0 2.0m0 -2.0l-2.0 2.0M152.1 79.6l2.0 2.0m0 -2.0l-2.0 2.0M152.5 76.8l2.0 2.0m0 -2.0l-2.0 2.0M153.0 76.0l2.0 2.0m0 -2.0l-2.0 2.0M153.4 83.0l2.0 2.0m0 -2.0l-2.0 2.0M153.8 81.3l2.0 2.0m0 -2.0l-2.0 2.0M154.2 77.7l2.0 2.0m0 -2.0l-2.0 2.0M154.7 80.3l2.0 2.0m0 -2.0l-2.0 2.0M155.1 82.5l2.0 2.0m0 -2.0l-2.0 2.0M155.5 75.3l2.0 2.0m0 -2.0l-2.0 2.0M155.9 76.7l2.0 2.0m0 -2.0l-2.0 2.0M156.4 76.5l2.0 2.0m0 -2.0l-2.0 2.0M156.8 79.0l2.0 2.0m0 -2.0l-2.0 2.0M157.2 74.7l2.0 2.0m0 -2.0l-2.0 2.0M157.6 78.1l2.0 2.0m0 -2.0l-2.0 2.0M158.1 74.3l2.0 2.0m0 -2.0l-2.0 2.0M158.5 79.6l2.0 2.0m0 -2.0l-2.0 2.0M158.9 79.3l2.0 2.0m0 -2.0l-2.0 2.0M159.3 76.3l2.0 2.0m0 -2.0l-2.0 2.0M159.8 78.6l2.0 2.0m0 -2.0l-2.0 2.0M160.2 74.7l2.0 2.0m0 -2.0l-2.0 2.0M160.6 75.7l2.0 2.0m0 -2.0l-2.0 2.0M161.0 78.8l2.0 2.0m0 -2.0l-2.0 2.0M161.5 75.9l2.0 2.0m0 -2.0l-2.0 2.0M161.9 76.9l2.0 2.0m0 -2.0l-2.0 2.0M162.3 73.2l2.0 2.0m0 -2.0l-2.0 2.0M162.7 77.4l2.0 2.0m0 -2.0l-2.0 2.0M163.2 76.7l2.0 2.0m0 -2.0l-2.0 2.0M163.6 72.0l2.0 2.0m0 -2.0l-2.0 2.0M164.0 69.0l2.0 2.0m0 -2.0l-2.0 2.0M164.4 69.5l2.0 2.0m0 -2.0l-2.0 2.0M164.9 74.7l2.0 2.0m0 -2.0l-2.0 2.0M165.3 74.1l2.0 2.0m0 -2.0l-2.0 2.0M165.7 70.4l2.0 2.0m0 -2.0l-2.0 2.0M166.1 74.9l2.0 2.0m0 -2.0l-2.0 2.0M166.6 77.2l2.0 2.0m0 -2.0l-2.0 2.0M167.0 74.2l2.0 2.0m0 -2.0l-2.0 2.0M167.4 73.2l2.0 2.0m0 -2.0l-2.0 2.0M167.8 76.7l2.0 2.0m0 -2.0l-2.0 2.0M168.3 78.9l2.0 2.0m0 -2.0l-2.0 2.0M168.7 78.3l2.0 2.0m0 -2.0l-2.0 2.0M169.1 72.5l2.0 2.0m0 -2.0l-2.0 2.0M169.5 76.3l2.0 2.0m0 -2.0l-2.0 2.0M170.0 74.6l2.0 2.0m0 -2.0l-2.0 2.0M170.4 73.6l2.0 2.0m0 -2.0l-2.0 2.0M170.8 72.4l2.0 2.0m0 -2.0l-2.0 2.0M171.3 75.0l2.0 2.0m0 -2.0l-2.0 2.0M171.7 72.7l2.0 2.0m0 -2.0l-2.0 2.0M172.1 76.5l2.0 2.0m0 -2.0l-2.0 2.0M172.5 75.0l2.0 2.0m0 -2.0l-2.0 2.0M173.0 76.8l2.0 2.0m0 -2.0l-2.0 2.0M173.4 70.8l2.0 2.0m0 -2.0l-2.0 2.0M173.8 74.0l2.0 2.0m0 -2.0l-2.0 2.0M174.2 75.9l2.0 2.0m0 -2.0l-2.0 2.0M174.7 74.8l2.0 2.0m0 -2.0l-2.0 2.0M175.1 74.4l2.0 2.0m0 -2.0l-2.0 2.0M175.5 71.8l2.0 2.0m0 -2.0l-2.0 2.0M175.9 78.1l2.0 2.0m0 -2.0l-2.0 2.0M176.4 76.5l2.0 2.0m0 -2.0l-2.0 2.0M176.8 74.7l2.0 2.0m0 -2.0l-2.0 2.0M177.2 66.6l2.0 2.0m0 -2.0l-2.0 2.0M177.6 70.8l2.0 2.0m0 -2.0l-2.0 2.0M178.1 73.7l2.0 2.0m0 -2.0l-2.0 2.0M178.5 71.3l2.0 2.0m0 -2.0l-2.0 2.0M178.9 67.5l2.0 2.0m0 -2.0l-2.0 2.0M179.3 73.7l2.0 2.0m0 -2.0l-2.0 2.0M179.8 73.9l2.0 2.0m0 -2.0l-2.0 2.0M180.2 69.5l2.0 2.0m0 -2.0l-2.0 2.0M180.6 71.3l2.0 2.0m0 -2.0l-2.0 2.0M181.0 70.7l2.0 2.0m0 -2.0l-2.0 2.0M181.5 73.9l2.0 2.0m0 -2.0l-2.0 2.0M181.9 67.0l2.0 2.0m0 -2.0l-2.0 2.0M182.3 67.5l2.0 2.0m0 -2.0l-2.0 2.0M182.7 70.6l2.0 2.0m0 -2.0l-2.0 2.0M183.2 70.1l2.0 2.0m0 -2.0l-2.0 2.0M183.6 77.5l2.0 2.0m0 -2.0l-2.0 2.0M184.0 70.0l2.0 2.0m0 -2.0l-2.0 2.0M184.4 72.2l2.0 2.0m0 -2.0l-2.0 2.0M184.9 70.4l2.0 2.0m0 -2.0l-2.0 2.0M185.3 69.6l2.0 2.0m0 -2.0l-2.0 2.0M185.7 72.3l2.0 2.0m0 -2.0l-2.0 2.0M186.1 75.9l2.0 2.0m0 -2.0l-2.0 2.0M186.6 70.1l2.0 2.0m0 -2.0l-2.0 2.0M187.0 73.0l2.0 2.0m0 -2.0l-2.0 2.0M187.4 71.8l2.0 2.0m0 -2.0l-2.0 2.0M187.8 72.4l2.0 2.0m0 -2.0l-2.0 2.0M188.3 71.6l2.0 2.0m0 -2.0l-2.0 2.0M188.7 76.9l2.0 2.0m0 -2.0l-2.0 2.0M189.1 67.1l2.0 2.0m0 -2.0l-2.0 2.0M189.5 69.6l2.0 2.0m0 -2.0l-2.0 2.0M190.0 67.1l2.0 2.0m0 -2.0l-2.0 2.0M190.4 64.6l2.0 2.0m0 -2.0l-2.0 2.0M190.8 69.9l2.0 2.0m0 -2.0l-2.0 2.0M191.2 74.8l2.0 2.0m0 -2.0l-2.0 2.0M191.7 72.1l2.0 2.0m0 -2.0l-2.0 2.0M192.1 72.9l2.0 2.0m0 -2.0l-2.0 2.0M192.5 70.8l2.0 2.0m0 -2.0l-2.0 2.0M192.9 69.1l2.0 2.0m0 -2.0l-2.0 2.0M193.4 74.7l2.0 2.0m0 -2.0l-2.0 2.0M193.8 68.1l2.0 2.0m0 -2.0l-2.0 2.0M194.2 73.1l2.0 2.0m0 -2.0l-2.0 2.0M194.6 68.0l2.0 2.0m0 -2.0l-2.0 2.0M195.1 69.0l2.0 2.0m0 -2.0l-2.0 2.0M195.5 69.4l2.0 2.0m0 -2.0l-2.0 2.0M195.9 68.6l2.0 2.0m0 -2.0l-2.0 2.0M196.3 69.8l2.0 2.0m0 -2.0l-2.0 2.0M196.8 69.9l2.0 2.0m0 -2.0l-2.0 2.0M197.2 72.7l2.0 2.0m0 -2.0l-2.0 2.0M197.6 68.0l2.0 2.0m0 -2.0l-2.0 2.0M198.0 62.7l2.0 2.0m0 -2.0l-2.0 2.0M198.5 62.2l2.0 2.0m0 -2.0l-2.0 2.0M198.9 63.9l2.0 2.0m0 -2.0l-2.0 2.0M199.3 65.5l2.0 2.0m0 -2.0l-2.0 2.0M199.7 69.2l2.0 2.0m0 -2.0l-2.0 2.0M200.2 63.2l2.0 2.0m0 -2.0l-2.0 2.0M200.6 67.2l2.0 2.0m0 -2.0l-2.0 2.0M201.0 67.1l2.0 2.0m0 -2.0l-2.0 2.0M201.4 67.6l2.0 2.0m0 -2.0l-2.0 2.0M201.9 66.5l2.0 2.0m0 -2.0l-2.0 2.0M202.3 67.8l2.0 2.0m0 -2.0l-2.0 2.0M202.7 66.8l2.0 2.0m0 -2.0l-2.0 2.0M203.1 69.4l2.0 2.0m0 -2.0l-2.0 2.0M203.6 67.4l2.0 2.0m0 -2.0l-2.0 2.0M204.0 59.9l2.0 2.0m0 -2.0l-2.0 2.0M204.4 66.3l2.0 2.0m0 -2.0l-2.0 2.0M204.8 66.7l2.0 2.0m0 -2.0l-2.0 2.0M205.3 64.5l2.0 2.0m0 -2.0l-2.0 2.0M205.7 63.9l2.0 2.0m0 -2.0l-2.0 2.0M206.1 68.8l2.0 2.0m0 -2.0l-2.0 2.0M206.5 66.2l2.0 2.0m0 -2.0l-2.0 2.0M207.0 63.0l2.0 2.0m0 -2.0l-2.0 2.0M207.4 64.7l2.0 2.0m0 -2.0l-2.0 2.0M207.8 65.0l2.0 2.0m0 -2.0l-2.0 2.0M208.2 60.9l2.0 2.0m0 -2.0l-2.0 2.0M208.7 67.0l2.0 2.0m0 -2.0l-2.0 2.0M209.1 64.8l2.0 2.0m0 -2.0l-2.0 2.0M209.5 66.4l2.0 2.0m0 -2.0l-2.0 2.0M209.9 60.7l2.0 2.0m0 -2.0l-2.0 2.0M210.4 70.1l2.0 2.0m0 -2.0l-2.0 2.0M210.8 66.5l2.0 2.0m0 -2.0l-2.0 2.0M211.2 66.0l2.0 2.0m0 -2.0l-2.0 2.0M211.6 62.6l2.0 2.0m0 -2.0l-2.0 2.0M212.1 62.7l2.0 2.0m0 -2.0l-2.0 2.0M212.5 60.4l2.0 2.0m0 -2.0l-2.0 2.0M212.9 68.6l2.0 2.0m0 -2.0l-2.0 2.0M213.3 62.2l2.0 2.0m0 -2.0l-2.0 2.0M213.8 65.1l2.0 2.0m0 -2.0l-2.0 2.0M214.2 66.1l2.0 2.0m0 -2.0l-2.0 2.0M214.6 62.8l2.0 2.0m0 -2.0l-2.0 2.0M215.0 66.8l2.0 2.0m0 -2.0l-2.0 2.0M215.5 70.0l2.0 2.0m0 -2.0l-2.0 2.0M215.9 65.3l2.0 2.0m0 -2.0l-2.0 2.0M216.3 68.4l2.0 2.0m0 -2.0l-2.0 2.0M216.7 66.0l2.0 2.0m0 -2.0l-2.0 2.0M217.2 63.2l2.0 2.0m0 -2.0l-2.0 2.0M217.6 63.4l2.0 2.0m0 -2.0l-2.0 2.0M218.0 59.9l2.0 2.0m0 -2.0l-2.0 2.0M218.4 64.8l2.0 2.0m0 -2.0l-2.0 2.0M218.9 68.5l2.0 2.0m0 -2.0l-2.0 2.0M219.3 66.3l2.0 2.0m0 -2.0l-2.0 2.0M219.7 66.8l2.0 2.0m0 -2.0l-2.0 2.0M220.1 67.6l2.0 2.0m0 -2.0l-2.0 2.0M220.6 63.0l2.0 2.0m0 -2.0l-2.0 2.0M221.0 66.0l2.0 2.0m0 -2.0l-2.0 2.0M221.4 69.7l2.0 2.0m0 -2.0l-2.0 2.0" stroke="#ffa500" stroke-width="1.5" fill="none" opacity="1.0"/><polyline points="113.1,107.6 115.9,107.6 118.7,107.6 121.5,107.6 124.3,107.6 127.1,107.6 129.9,107.6 132.7,107.6 135.5,107.6 138.3,107.6 141.1,107.6 143.9,107.6 146.7,107.6 149.5,107.6 152.3,107.6 155.1,107.6 157.9,107.6 160.7,107.6 163.6,107.6 166.4,107.6 169.2,107.6 172.0,107.6 174.8,107.6 177.6,107.6 180.4,107.6 183.2,107.6 186.0,107.6 188.8,107.6 191.6,107.6 194.4,107.6 197.2,107.6 200.0,107.6 202.8,107.6 205.6,107.6 208.4,107.6 211.2,107.6 214.0,107.6 216.8,107.6 219.6,107.6 222.4,107.6" stroke="#14144a" stroke-width="1.3" fill="none" opacity="1.0" stroke-dasharray="3.2,2"/><rect x="44.3" y="57.8" width="186.6" height="127.5" fill="none" stroke="#333" stroke-width="1.3"/><path d="M52.8 185.3v3.3M52.8 57.8v-3.3M128.2 185.3v3.3M128.2 57.8v-3.3M203.6 185.3v3.3M203.6 57.8v-3.3M44.3 185.3h-3.3M230.9 185.3h3.3M44.3 116.3h-3.3M230.9 116.3h3.3" stroke="#333" stroke-width="1"/><text x="45.9" y="72.8" font-family="Liberation Serif" font-weight="bold" font-size="16.2" letter-spacing="0.3">(a)</text><text x="98.8" y="52.9" font-family="Liberation Serif" font-style="italic" font-size="21" fill="#191970" stroke="#191970" stroke-width="0.55">T</text><text x="109.0" y="56.8" font-family="Liberation Serif" font-style="italic" font-size="16" fill="#191970" stroke="#191970" stroke-width="0.15">stab</text><path d="M140.9 45.3h14.5M140.9 49.2h14.5" stroke="#191970" stroke-width="1.3"/><text transform="translate(160.1 52.5) scale(1.08 0.9)" font-family="Liberation Serif" font-size="22" fill="#191970" stroke="#191970" stroke-width="0.5">∞</text><text x="39.1" y="191.6" text-anchor="end" font-family="Liberation Serif" font-size="18" stroke="#000" stroke-width="0.35">0</text><text x="39.1" y="122.6" text-anchor="end" font-family="Liberation Serif" font-size="18" stroke="#000" stroke-width="0.35">10</text><text transform="translate(13.9 120.8) rotate(-90)" text-anchor="middle" font-family="Liberation Serif" font-size="17.7" stroke="#000" stroke-width="0.3">Enhancement</text><rect x="128.7" y="120.3" width="93.7" height="51.0" fill="#fff"/><rect x="151.9" y="120.3" width="66.3" height="51.0" fill="#fffac8"/><path d="M132.4 169.5l1.2 1.2m0 -1.2l-1.2 1.2M132.6 169.2l1.2 1.2m0 -1.2l-1.2 1.2M132.9 168.4l1.2 1.2m0 -1.2l-1.2 1.2M133.2 167.9l1.2 1.2m0 -1.2l-1.2 1.2M133.5 166.4l1.2 1.2m0 -1.2l-1.2 1.2M133.8 165.1l1.2 1.2m0 -1.2l-1.2 1.2M134.1 163.1l1.2 1.2m0 -1.2l-1.2 1.2M134.4 161.9l1.2 1.2m0 -1.2l-1.2 1.2M134.6 160.4l1.2 1.2m0 -1.2l-1.2 1.2M134.9 158.8l1.2 1.2m0 -1.2l-1.2 1.2M135.2 158.0l1.2 1.2m0 -1.2l-1.2 1.2M135.5 157.2l1.2 1.2m0 -1.2l-1.2 1.2M135.8 157.0l1.2 1.2m0 -1.2l-1.2 1.2M136.1 156.5l1.2 1.2m0 -1.2l-1.2 1.2M136.3 156.7l1.2 1.2m0 -1.2l-1.2 1.2M136.6 155.4l1.2 1.2m0 -1.2l-1.2 1.2M136.9 155.6l1.2 1.2m0 -1.2l-1.2 1.2M137.2 155.8l1.2 1.2m0 -1.2l-1.2 1.2M137.5 155.6l1.2 1.2m0 -1.2l-1.2 1.2M137.8 154.8l1.2 1.2m0 -1.2l-1.2 1.2M138.1 154.5l1.2 1.2m0 -1.2l-1.2 1.2M138.3 154.4l1.2 1.2m0 -1.2l-1.2 1.2M138.6 153.8l1.2 1.2m0 -1.2l-1.2 1.2M138.9 153.7l1.2 1.2m0 -1.2l-1.2 1.2M139.2 153.0l1.2 1.2m0 -1.2l-1.2 1.2M139.5 153.1l1.2 1.2m0 -1.2l-1.2 1.2M139.8 152.6l1.2 1.2m0 -1.2l-1.2 1.2M140.1 151.8l1.2 1.2m0 -1.2l-1.2 1.2M140.3 150.7l1.2 1.2m0 -1.2l-1.2 1.2M140.6 151.5l1.2 1.2m0 -1.2l-1.2 1.2M140.9 150.9l1.2 1.2m0 -1.2l-1.2 1.2M141.2 150.5l1.2 1.2m0 -1.2l-1.2 1.2M141.5 149.5l1.2 1.2m0 -1.2l-1.2 1.2M141.8 149.7l1.2 1.2m0 -1.2l-1.2 1.2M142.0 149.0l1.2 1.2m0 -1.2l-1.2 1.2M142.3 148.4l1.2 1.2m0 -1.2l-1.2 1.2M142.6 148.2l1.2 1.2m0 -1.2l-1.2 1.2M142.9 147.7l1.2 1.2m0 -1.2l-1.2 1.2M143.2 147.1l1.2 1.2m0 -1.2l-1.2 1.2M143.5 147.2l1.2 1.2m0 -1.2l-1.2 1.2M143.8 146.5l1.2 1.2m0 -1.2l-1.2 1.2M144.0 145.7l1.2 1.2m0 -1.2l-1.2 1.2M144.3 145.1l1.2 1.2m0 -1.2l-1.2 1.2M144.6 144.8l1.2 1.2m0 -1.2l-1.2 1.2M144.9 145.0l1.2 1.2m0 -1.2l-1.2 1.2M145.2 144.2l1.2 1.2m0 -1.2l-1.2 1.2M145.5 143.4l1.2 1.2m0 -1.2l-1.2 1.2M145.7 143.1l1.2 1.2m0 -1.2l-1.2 1.2M146.0 143.0l1.2 1.2m0 -1.2l-1.2 1.2M146.3 142.9l1.2 1.2m0 -1.2l-1.2 1.2M146.6 142.0l1.2 1.2m0 -1.2l-1.2 1.2M146.9 142.1l1.2 1.2m0 -1.2l-1.2 1.2M147.2 141.9l1.2 1.2m0 -1.2l-1.2 1.2M147.5 141.4l1.2 1.2m0 -1.2l-1.2 1.2M147.7 140.3l1.2 1.2m0 -1.2l-1.2 1.2M148.0 140.3l1.2 1.2m0 -1.2l-1.2 1.2M148.3 139.6l1.2 1.2m0 -1.2l-1.2 1.2M148.6 139.9l1.2 1.2m0 -1.2l-1.2 1.2M148.9 138.6l1.2 1.2m0 -1.2l-1.2 1.2M149.2 138.4l1.2 1.2m0 -1.2l-1.2 1.2M149.5 137.5l1.2 1.2m0 -1.2l-1.2 1.2M149.7 135.8l1.2 1.2m0 -1.2l-1.2 1.2M150.0 135.6l1.2 1.2m0 -1.2l-1.2 1.2M150.3 135.3l1.2 1.2m0 -1.2l-1.2 1.2M150.6 134.4l1.2 1.2m0 -1.2l-1.2 1.2M150.9 133.5l1.2 1.2m0 -1.2l-1.2 1.2M151.2 132.4l1.2 1.2m0 -1.2l-1.2 1.2" stroke="#6495ed" stroke-width="1.1" fill="none" opacity="1.0"/><path d="M151.2 132.6l1.6 1.6m0 -1.6l-1.6 1.6M151.5 133.3l1.6 1.6m0 -1.6l-1.6 1.6M151.8 133.1l1.6 1.6m0 -1.6l-1.6 1.6M152.1 133.2l1.6 1.6m0 -1.6l-1.6 1.6M152.4 133.1l1.6 1.6m0 -1.6l-1.6 1.6M152.7 132.7l1.6 1.6m0 -1.6l-1.6 1.6M153.0 133.1l1.6 1.6m0 -1.6l-1.6 1.6M153.2 132.9l1.6 1.6m0 -1.6l-1.6 1.6M153.5 133.6l1.6 1.6m0 -1.6l-1.6 1.6M153.8 132.9l1.6 1.6m0 -1.6l-1.6 1.6M154.1 132.5l1.6 1.6m0 -1.6l-1.6 1.6M154.4 132.9l1.6 1.6m0 -1.6l-1.6 1.6M154.7 133.1l1.6 1.6m0 -1.6l-1.6 1.6M155.0 133.1l1.6 1.6m0 -1.6l-1.6 1.6M155.2 132.6l1.6 1.6m0 -1.6l-1.6 1.6M155.5 133.5l1.6 1.6m0 -1.6l-1.6 1.6M155.8 133.2l1.6 1.6m0 -1.6l-1.6 1.6M156.1 133.0l1.6 1.6m0 -1.6l-1.6 1.6M156.4 132.9l1.6 1.6m0 -1.6l-1.6 1.6M156.7 133.3l1.6 1.6m0 -1.6l-1.6 1.6M156.9 133.1l1.6 1.6m0 -1.6l-1.6 1.6M157.2 133.3l1.6 1.6m0 -1.6l-1.6 1.6M157.5 133.2l1.6 1.6m0 -1.6l-1.6 1.6M157.8 133.2l1.6 1.6m0 -1.6l-1.6 1.6M158.1 133.6l1.6 1.6m0 -1.6l-1.6 1.6M158.4 133.2l1.6 1.6m0 -1.6l-1.6 1.6M158.7 132.9l1.6 1.6m0 -1.6l-1.6 1.6M158.9 133.5l1.6 1.6m0 -1.6l-1.6 1.6M159.2 133.3l1.6 1.6m0 -1.6l-1.6 1.6M159.5 133.0l1.6 1.6m0 -1.6l-1.6 1.6M159.8 133.6l1.6 1.6m0 -1.6l-1.6 1.6M160.1 133.1l1.6 1.6m0 -1.6l-1.6 1.6M160.4 133.6l1.6 1.6m0 -1.6l-1.6 1.6M160.6 132.8l1.6 1.6m0 -1.6l-1.6 1.6M160.9 132.4l1.6 1.6m0 -1.6l-1.6 1.6M161.2 132.5l1.6 1.6m0 -1.6l-1.6 1.6M161.5 133.3l1.6 1.6m0 -1.6l-1.6 1.6M161.8 133.0l1.6 1.6m0 -1.6l-1.6 1.6M162.1 133.2l1.6 1.6m0 -1.6l-1.6 1.6M162.4 133.2l1.6 1.6m0 -1.6l-1.6 1.6M162.6 132.7l1.6 1.6m0 -1.6l-1.6 1.6M162.9 133.7l1.6 1.6m0 -1.6l-1.6 1.6M163.2 132.8l1.6 1.6m0 -1.6l-1.6 1.6M163.5 133.2l1.6 1.6m0 -1.6l-1.6 1.6M163.8 132.7l1.6 1.6m0 -1.6l-1.6 1.6M164.1 133.2l1.6 1.6m0 -1.6l-1.6 1.6M164.4 133.5l1.6 1.6m0 -1.6l-1.6 1.6M164.6 133.1l1.6 1.6m0 -1.6l-1.6 1.6M164.9 133.0l1.6 1.6m0 -1.6l-1.6 1.6M165.2 133.2l1.6 1.6m0 -1.6l-1.6 1.6M165.5 133.1l1.6 1.6m0 -1.6l-1.6 1.6M165.8 133.4l1.6 1.6m0 -1.6l-1.6 1.6M166.1 134.0l1.6 1.6m0 -1.6l-1.6 1.6M166.3 132.9l1.6 1.6m0 -1.6l-1.6 1.6M166.6 133.0l1.6 1.6m0 -1.6l-1.6 1.6M166.9 133.2l1.6 1.6m0 -1.6l-1.6 1.6M167.2 133.2l1.6 1.6m0 -1.6l-1.6 1.6M167.5 132.9l1.6 1.6m0 -1.6l-1.6 1.6M167.8 133.4l1.6 1.6m0 -1.6l-1.6 1.6M168.1 133.5l1.6 1.6m0 -1.6l-1.6 1.6M168.3 133.3l1.6 1.6m0 -1.6l-1.6 1.6M168.6 132.8l1.6 1.6m0 -1.6l-1.6 1.6M168.9 133.7l1.6 1.6m0 -1.6l-1.6 1.6M169.2 132.8l1.6 1.6m0 -1.6l-1.6 1.6M169.5 133.5l1.6 1.6m0 -1.6l-1.6 1.6M169.8 133.6l1.6 1.6m0 -1.6l-1.6 1.6M170.0 132.8l1.6 1.6m0 -1.6l-1.6 1.6M170.3 133.3l1.6 1.6m0 -1.6l-1.6 1.6M170.6 133.7l1.6 1.6m0 -1.6l-1.6 1.6M170.9 133.4l1.6 1.6m0 -1.6l-1.6 1.6M171.2 132.9l1.6 1.6m0 -1.6l-1.6 1.6M171.5 132.8l1.6 1.6m0 -1.6l-1.6 1.6M171.8 133.4l1.6 1.6m0 -1.6l-1.6 1.6M172.0 133.1l1.6 1.6m0 -1.6l-1.6 1.6M172.3 133.0l1.6 1.6m0 -1.6l-1.6 1.6M172.6 133.5l1.6 1.6m0 -1.6l-1.6 1.6M172.9 133.1l1.6 1.6m0 -1.6l-1.6 1.6M173.2 133.3l1.6 1.6m0 -1.6l-1.6 1.6M173.5 133.4l1.6 1.6m0 -1.6l-1.6 1.6M173.8 133.4l1.6 1.6m0 -1.6l-1.6 1.6M174.0 133.2l1.6 1.6m0 -1.6l-1.6 1.6M174.3 133.2l1.6 1.6m0 -1.6l-1.6 1.6M174.6 133.5l1.6 1.6m0 -1.6l-1.6 1.6M174.9 133.4l1.6 1.6m0 -1.6l-1.6 1.6M175.2 132.9l1.6 1.6m0 -1.6l-1.6 1.6M175.5 133.2l1.6 1.6m0 -1.6l-1.6 1.6M175.7 133.0l1.6 1.6m0 -1.6l-1.6 1.6M176.0 132.8l1.6 1.6m0 -1.6l-1.6 1.6M176.3 133.1l1.6 1.6m0 -1.6l-1.6 1.6M176.6 132.5l1.6 1.6m0 -1.6l-1.6 1.6M176.9 133.6l1.6 1.6m0 -1.6l-1.6 1.6M177.2 133.0l1.6 1.6m0 -1.6l-1.6 1.6M177.5 133.4l1.6 1.6m0 -1.6l-1.6 1.6M177.7 132.6l1.6 1.6m0 -1.6l-1.6 1.6M178.0 132.7l1.6 1.6m0 -1.6l-1.6 1.6M178.3 134.0l1.6 1.6m0 -1.6l-1.6 1.6M178.6 133.6l1.6 1.6m0 -1.6l-1.6 1.6M178.9 133.0l1.6 1.6m0 -1.6l-1.6 1.6M179.2 133.0l1.6 1.6m0 -1.6l-1.6 1.6M179.5 133.0l1.6 1.6m0 -1.6l-1.6 1.6M179.7 133.3l1.6 1.6m0 -1.6l-1.6 1.6M180.0 133.1l1.6 1.6m0 -1.6l-1.6 1.6M180.3 133.1l1.6 1.6m0 -1.6l-1.6 1.6M180.6 133.3l1.6 1.6m0 -1.6l-1.6 1.6M180.9 132.9l1.6 1.6m0 -1.6l-1.6 1.6M181.2 134.1l1.6 1.6m0 -1.6l-1.6 1.6M181.4 133.1l1.6 1.6m0 -1.6l-1.6 1.6M181.7 133.6l1.6 1.6m0 -1.6l-1.6 1.6M182.0 133.0l1.6 1.6m0 -1.6l-1.6 1.6M182.3 133.4l1.6 1.6m0 -1.6l-1.6 1.6M182.6 133.6l1.6 1.6m0 -1.6l-1.6 1.6M182.9 133.2l1.6 1.6m0 -1.6l-1.6 1.6M183.2 133.6l1.6 1.6m0 -1.6l-1.6 1.6M183.4 133.6l1.6 1.6m0 -1.6l-1.6 1.6M183.7 133.8l1.6 1.6m0 -1.6l-1.6 1.6M184.0 133.3l1.6 1.6m0 -1.6l-1.6 1.6M184.3 133.1l1.6 1.6m0 -1.6l-1.6 1.6M184.6 132.9l1.6 1.6m0 -1.6l-1.6 1.6M184.9 133.3l1.6 1.6m0 -1.6l-1.6 1.6M185.1 132.9l1.6 1.6m0 -1.6l-1.6 1.6M185.4 133.3l1.6 1.6m0 -1.6l-1.6 1.6M185.7 133.3l1.6 1.6m0 -1.6l-1.6 1.6M186.0 133.1l1.6 1.6m0 -1.6l-1.6 1.6M186.3 132.9l1.6 1.6m0 -1.6l-1.6 1.6M186.6 133.4l1.6 1.6m0 -1.6l-1.6 1.6M186.9 133.4l1.6 1.6m0 -1.6l-1.6 1.6M187.1 133.4l1.6 1.6m0 -1.6l-1.6 1.6M187.4 133.3l1.6 1.6m0 -1.6l-1.6 1.6M187.7 133.6l1.6 1.6m0 -1.6l-1.6 1.6M188.0 132.9l1.6 1.6m0 -1.6l-1.6 1.6M188.3 133.4l1.6 1.6m0 -1.6l-1.6 1.6M188.6 133.1l1.6 1.6m0 -1.6l-1.6 1.6M188.9 133.6l1.6 1.6m0 -1.6l-1.6 1.6M189.1 133.2l1.6 1.6m0 -1.6l-1.6 1.6M189.4 133.2l1.6 1.6m0 -1.6l-1.6 1.6M189.7 133.5l1.6 1.6m0 -1.6l-1.6 1.6M190.0 132.6l1.6 1.6m0 -1.6l-1.6 1.6M190.3 133.2l1.6 1.6m0 -1.6l-1.6 1.6M190.6 132.7l1.6 1.6m0 -1.6l-1.6 1.6M190.8 133.0l1.6 1.6m0 -1.6l-1.6 1.6M191.1 133.5l1.6 1.6m0 -1.6l-1.6 1.6M191.4 133.4l1.6 1.6m0 -1.6l-1.6 1.6M191.7 133.2l1.6 1.6m0 -1.6l-1.6 1.6M192.0 133.3l1.6 1.6m0 -1.6l-1.6 1.6M192.3 133.3l1.6 1.6m0 -1.6l-1.6 1.6M192.6 133.4l1.6 1.6m0 -1.6l-1.6 1.6M192.8 134.0l1.6 1.6m0 -1.6l-1.6 1.6M193.1 133.4l1.6 1.6m0 -1.6l-1.6 1.6M193.4 134.1l1.6 1.6m0 -1.6l-1.6 1.6M193.7 133.2l1.6 1.6m0 -1.6l-1.6 1.6M194.0 133.6l1.6 1.6m0 -1.6l-1.6 1.6M194.3 133.6l1.6 1.6m0 -1.6l-1.6 1.6M194.5 133.4l1.6 1.6m0 -1.6l-1.6 1.6M194.8 133.2l1.6 1.6m0 -1.6l-1.6 1.6M195.1 133.8l1.6 1.6m0 -1.6l-1.6 1.6M195.4 133.9l1.6 1.6m0 -1.6l-1.6 1.6M195.7 133.7l1.6 1.6m0 -1.6l-1.6 1.6M196.0 134.0l1.6 1.6m0 -1.6l-1.6 1.6M196.3 133.7l1.6 1.6m0 -1.6l-1.6 1.6M196.5 132.8l1.6 1.6m0 -1.6l-1.6 1.6M196.8 133.7l1.6 1.6m0 -1.6l-1.6 1.6M197.1 133.1l1.6 1.6m0 -1.6l-1.6 1.6M197.4 133.8l1.6 1.6m0 -1.6l-1.6 1.6M197.7 133.2l1.6 1.6m0 -1.6l-1.6 1.6M198.0 133.5l1.6 1.6m0 -1.6l-1.6 1.6M198.3 133.4l1.6 1.6m0 -1.6l-1.6 1.6M198.5 133.1l1.6 1.6m0 -1.6l-1.6 1.6M198.8 132.7l1.6 1.6m0 -1.6l-1.6 1.6M199.1 133.3l1.6 1.6m0 -1.6l-1.6 1.6M199.4 133.3l1.6 1.6m0 -1.6l-1.6 1.6M199.7 133.7l1.6 1.6m0 -1.6l-1.6 1.6M200.0 133.1l1.6 1.6m0 -1.6l-1.6 1.6M200.2 133.4l1.6 1.6m0 -1.6l-1.6 1.6M200.5 133.1l1.6 1.6m0 -1.6l-1.6 1.6M200.8 133.4l1.6 1.6m0 -1.6l-1.6 1.6M201.1 132.7l1.6 1.6m0 -1.6l-1.6 1.6M201.4 134.0l1.6 1.6m0 -1.6l-1.6 1.6M201.7 133.5l1.6 1.6m0 -1.6l-1.6 1.6M202.0 133.0l1.6 1.6m0 -1.6l-1.6 1.6M202.2 133.5l1.6 1.6m0 -1.6l-1.6 1.6M202.5 133.6l1.6 1.6m0 -1.6l-1.6 1.6M202.8 133.4l1.6 1.6m0 -1.6l-1.6 1.6M203.1 133.8l1.6 1.6m0 -1.6l-1.6 1.6M203.4 133.3l1.6 1.6m0 -1.6l-1.6 1.6M203.7 132.5l1.6 1.6m0 -1.6l-1.6 1.6M204.0 133.0l1.6 1.6m0 -1.6l-1.6 1.6M204.2 133.7l1.6 1.6m0 -1.6l-1.6 1.6M204.5 133.7l1.6 1.6m0 -1.6l-1.6 1.6M204.8 133.5l1.6 1.6m0 -1.6l-1.6 1.6M205.1 133.0l1.6 1.6m0 -1.6l-1.6 1.6M205.4 133.7l1.6 1.6m0 -1.6l-1.6 1.6M205.7 133.6l1.6 1.6m0 -1.6l-1.6 1.6M205.9 133.1l1.6 1.6m0 -1.6l-1.6 1.6M206.2 133.1l1.6 1.6m0 -1.6l-1.6 1.6M206.5 133.5l1.6 1.6m0 -1.6l-1.6 1.6M206.8 133.8l1.6 1.6m0 -1.6l-1.6 1.6M207.1 133.9l1.6 1.6m0 -1.6l-1.6 1.6M207.4 133.6l1.6 1.6m0 -1.6l-1.6 1.6M207.7 134.2l1.6 1.6m0 -1.6l-1.6 1.6M207.9 133.1l1.6 1.6m0 -1.6l-1.6 1.6M208.2 133.6l1.6 1.6m0 -1.6l-1.6 1.6M208.5 133.2l1.6 1.6m0 -1.6l-1.6 1.6M208.8 132.7l1.6 1.6m0 -1.6l-1.6 1.6M209.1 133.0l1.6 1.6m0 -1.6l-1.6 1.6M209.4 133.8l1.6 1.6m0 -1.6l-1.6 1.6M209.6 133.1l1.6 1.6m0 -1.6l-1.6 1.6M209.9 133.0l1.6 1.6m0 -1.6l-1.6 1.6M210.2 133.6l1.6 1.6m0 -1.6l-1.6 1.6M210.5 133.7l1.6 1.6m0 -1.6l-1.6 1.6M210.8 133.4l1.6 1.6m0 -1.6l-1.6 1.6M211.1 133.9l1.6 1.6m0 -1.6l-1.6 1.6M211.4 132.9l1.6 1.6m0 -1.6l-1.6 1.6M211.6 134.2l1.6 1.6m0 -1.6l-1.6 1.6M211.9 133.8l1.6 1.6m0 -1.6l-1.6 1.6M212.2 133.5l1.6 1.6m0 -1.6l-1.6 1.6M212.5 133.5l1.6 1.6m0 -1.6l-1.6 1.6M212.8 133.3l1.6 1.6m0 -1.6l-1.6 1.6M213.1 133.3l1.6 1.6m0 -1.6l-1.6 1.6M213.4 133.5l1.6 1.6m0 -1.6l-1.6 1.6M213.6 133.0l1.6 1.6m0 -1.6l-1.6 1.6M213.9 134.1l1.6 1.6m0 -1.6l-1.6 1.6M214.2 133.4l1.6 1.6m0 -1.6l-1.6 1.6M214.5 133.6l1.6 1.6m0 -1.6l-1.6 1.6M214.8 133.4l1.6 1.6m0 -1.6l-1.6 1.6M215.1 133.3l1.6 1.6m0 -1.6l-1.6 1.6M215.3 133.7l1.6 1.6m0 -1.6l-1.6 1.6M215.6 133.6l1.6 1.6m0 -1.6l-1.6 1.6M215.9 133.1l1.6 1.6m0 -1.6l-1.6 1.6M216.2 133.3l1.6 1.6m0 -1.6l-1.6 1.6M216.5 133.6l1.6 1.6m0 -1.6l-1.6 1.6M216.8 132.7l1.6 1.6m0 -1.6l-1.6 1.6M217.1 132.6l1.6 1.6m0 -1.6l-1.6 1.6M217.3 133.9l1.6 1.6m0 -1.6l-1.6 1.6" stroke="#86a3c3" stroke-width="1.3" fill="none" opacity="1.0"/><path d="M132.3 169.5l1.4 1.4m0 -1.4l-1.4 1.4M132.5 168.4l1.4 1.4m0 -1.4l-1.4 1.4M132.8 169.2l1.4 1.4m0 -1.4l-1.4 1.4M133.1 169.4l1.4 1.4m0 -1.4l-1.4 1.4M133.4 169.0l1.4 1.4m0 -1.4l-1.4 1.4M133.7 168.3l1.4 1.4m0 -1.4l-1.4 1.4M134.0 167.4l1.4 1.4m0 -1.4l-1.4 1.4M134.3 166.7l1.4 1.4m0 -1.4l-1.4 1.4M134.5 165.3l1.4 1.4m0 -1.4l-1.4 1.4M134.8 165.0l1.4 1.4m0 -1.4l-1.4 1.4M135.1 164.3l1.4 1.4m0 -1.4l-1.4 1.4M135.4 163.8l1.4 1.4m0 -1.4l-1.4 1.4M135.7 162.5l1.4 1.4m0 -1.4l-1.4 1.4M136.0 162.0l1.4 1.4m0 -1.4l-1.4 1.4M136.2 160.9l1.4 1.4m0 -1.4l-1.4 1.4M136.5 160.0l1.4 1.4m0 -1.4l-1.4 1.4M136.8 160.0l1.4 1.4m0 -1.4l-1.4 1.4M137.1 159.6l1.4 1.4m0 -1.4l-1.4 1.4M137.4 159.4l1.4 1.4m0 -1.4l-1.4 1.4M137.7 159.2l1.4 1.4m0 -1.4l-1.4 1.4M138.0 159.0l1.4 1.4m0 -1.4l-1.4 1.4M138.2 158.7l1.4 1.4m0 -1.4l-1.4 1.4M138.5 157.9l1.4 1.4m0 -1.4l-1.4 1.4M138.8 158.4l1.4 1.4m0 -1.4l-1.4 1.4M139.1 157.0l1.4 1.4m0 -1.4l-1.4 1.4M139.4 157.3l1.4 1.4m0 -1.4l-1.4 1.4M139.7 157.3l1.4 1.4m0 -1.4l-1.4 1.4M140.0 156.9l1.4 1.4m0 -1.4l-1.4 1.4M140.2 156.6l1.4 1.4m0 -1.4l-1.4 1.4M140.5 155.9l1.4 1.4m0 -1.4l-1.4 1.4M140.8 156.0l1.4 1.4m0 -1.4l-1.4 1.4M141.1 154.8l1.4 1.4m0 -1.4l-1.4 1.4M141.4 155.4l1.4 1.4m0 -1.4l-1.4 1.4M141.7 155.7l1.4 1.4m0 -1.4l-1.4 1.4M141.9 154.6l1.4 1.4m0 -1.4l-1.4 1.4M142.2 154.9l1.4 1.4m0 -1.4l-1.4 1.4M142.5 153.6l1.4 1.4m0 -1.4l-1.4 1.4M142.8 152.7l1.4 1.4m0 -1.4l-1.4 1.4M143.1 152.5l1.4 1.4m0 -1.4l-1.4 1.4M143.4 153.0l1.4 1.4m0 -1.4l-1.4 1.4M143.7 152.3l1.4 1.4m0 -1.4l-1.4 1.4M143.9 150.8l1.4 1.4m0 -1.4l-1.4 1.4M144.2 151.1l1.4 1.4m0 -1.4l-1.4 1.4M144.5 150.8l1.4 1.4m0 -1.4l-1.4 1.4M144.8 150.0l1.4 1.4m0 -1.4l-1.4 1.4M145.1 148.9l1.4 1.4m0 -1.4l-1.4 1.4M145.4 149.1l1.4 1.4m0 -1.4l-1.4 1.4M145.6 149.3l1.4 1.4m0 -1.4l-1.4 1.4M145.9 148.9l1.4 1.4m0 -1.4l-1.4 1.4M146.2 148.5l1.4 1.4m0 -1.4l-1.4 1.4M146.5 148.7l1.4 1.4m0 -1.4l-1.4 1.4M146.8 148.6l1.4 1.4m0 -1.4l-1.4 1.4M147.1 147.8l1.4 1.4m0 -1.4l-1.4 1.4M147.4 148.0l1.4 1.4m0 -1.4l-1.4 1.4M147.6 147.3l1.4 1.4m0 -1.4l-1.4 1.4M147.9 146.9l1.4 1.4m0 -1.4l-1.4 1.4M148.2 145.5l1.4 1.4m0 -1.4l-1.4 1.4M148.5 146.7l1.4 1.4m0 -1.4l-1.4 1.4M148.8 145.7l1.4 1.4m0 -1.4l-1.4 1.4M149.1 145.0l1.4 1.4m0 -1.4l-1.4 1.4M149.4 144.1l1.4 1.4m0 -1.4l-1.4 1.4M149.6 143.1l1.4 1.4m0 -1.4l-1.4 1.4M149.9 143.1l1.4 1.4m0 -1.4l-1.4 1.4M150.2 142.6l1.4 1.4m0 -1.4l-1.4 1.4M150.5 142.2l1.4 1.4m0 -1.4l-1.4 1.4M150.8 141.2l1.4 1.4m0 -1.4l-1.4 1.4M151.1 139.8l1.4 1.4m0 -1.4l-1.4 1.4M151.3 139.4l1.4 1.4m0 -1.4l-1.4 1.4M151.6 139.2l1.4 1.4m0 -1.4l-1.4 1.4M151.9 138.2l1.4 1.4m0 -1.4l-1.4 1.4M152.2 137.8l1.4 1.4m0 -1.4l-1.4 1.4M152.5 137.5l1.4 1.4m0 -1.4l-1.4 1.4M152.8 138.0l1.4 1.4m0 -1.4l-1.4 1.4M153.1 137.7l1.4 1.4m0 -1.4l-1.4 1.4M153.3 138.4l1.4 1.4m0 -1.4l-1.4 1.4M153.6 138.0l1.4 1.4m0 -1.4l-1.4 1.4M153.9 136.6l1.4 1.4m0 -1.4l-1.4 1.4M154.2 138.3l1.4 1.4m0 -1.4l-1.4 1.4M154.5 137.4l1.4 1.4m0 -1.4l-1.4 1.4M154.8 137.1l1.4 1.4m0 -1.4l-1.4 1.4M155.1 137.3l1.4 1.4m0 -1.4l-1.4 1.4M155.3 137.4l1.4 1.4m0 -1.4l-1.4 1.4M155.6 137.0l1.4 1.4m0 -1.4l-1.4 1.4M155.9 136.9l1.4 1.4m0 -1.4l-1.4 1.4M156.2 136.8l1.4 1.4m0 -1.4l-1.4 1.4M156.5 137.6l1.4 1.4m0 -1.4l-1.4 1.4M156.8 136.7l1.4 1.4m0 -1.4l-1.4 1.4M157.0 137.0l1.4 1.4m0 -1.4l-1.4 1.4M157.3 136.7l1.4 1.4m0 -1.4l-1.4 1.4M157.6 136.3l1.4 1.4m0 -1.4l-1.4 1.4M157.9 136.0l1.4 1.4m0 -1.4l-1.4 1.4M158.2 135.8l1.4 1.4m0 -1.4l-1.4 1.4M158.5 136.3l1.4 1.4m0 -1.4l-1.4 1.4M158.8 135.5l1.4 1.4m0 -1.4l-1.4 1.4M159.0 135.3l1.4 1.4m0 -1.4l-1.4 1.4M159.3 135.2l1.4 1.4m0 -1.4l-1.4 1.4M159.6 135.0l1.4 1.4m0 -1.4l-1.4 1.4M159.9 135.6l1.4 1.4m0 -1.4l-1.4 1.4M160.2 135.5l1.4 1.4m0 -1.4l-1.4 1.4M160.5 135.0l1.4 1.4m0 -1.4l-1.4 1.4M160.7 135.9l1.4 1.4m0 -1.4l-1.4 1.4M161.0 135.0l1.4 1.4m0 -1.4l-1.4 1.4M161.3 135.3l1.4 1.4m0 -1.4l-1.4 1.4M161.6 135.1l1.4 1.4m0 -1.4l-1.4 1.4M161.9 135.6l1.4 1.4m0 -1.4l-1.4 1.4M162.2 135.1l1.4 1.4m0 -1.4l-1.4 1.4M162.5 134.6l1.4 1.4m0 -1.4l-1.4 1.4M162.7 134.1l1.4 1.4m0 -1.4l-1.4 1.4M163.0 134.0l1.4 1.4m0 -1.4l-1.4 1.4M163.3 134.4l1.4 1.4m0 -1.4l-1.4 1.4M163.6 134.3l1.4 1.4m0 -1.4l-1.4 1.4M163.9 134.5l1.4 1.4m0 -1.4l-1.4 1.4M164.2 133.8l1.4 1.4m0 -1.4l-1.4 1.4M164.5 134.0l1.4 1.4m0 -1.4l-1.4 1.4M164.7 133.6l1.4 1.4m0 -1.4l-1.4 1.4M165.0 132.9l1.4 1.4m0 -1.4l-1.4 1.4M165.3 133.7l1.4 1.4m0 -1.4l-1.4 1.4M165.6 134.3l1.4 1.4m0 -1.4l-1.4 1.4M165.9 133.9l1.4 1.4m0 -1.4l-1.4 1.4M166.2 134.1l1.4 1.4m0 -1.4l-1.4 1.4M166.4 133.9l1.4 1.4m0 -1.4l-1.4 1.4M166.7 132.7l1.4 1.4m0 -1.4l-1.4 1.4M167.0 133.1l1.4 1.4m0 -1.4l-1.4 1.4M167.3 133.8l1.4 1.4m0 -1.4l-1.4 1.4M167.6 132.7l1.4 1.4m0 -1.4l-1.4 1.4M167.9 132.4l1.4 1.4m0 -1.4l-1.4 1.4M168.2 133.0l1.4 1.4m0 -1.4l-1.4 1.4M168.4 133.1l1.4 1.4m0 -1.4l-1.4 1.4M168.7 132.9l1.4 1.4m0 -1.4l-1.4 1.4M169.0 132.5l1.4 1.4m0 -1.4l-1.4 1.4M169.3 132.3l1.4 1.4m0 -1.4l-1.4 1.4M169.6 131.9l1.4 1.4m0 -1.4l-1.4 1.4M169.9 131.8l1.4 1.4m0 -1.4l-1.4 1.4M170.1 131.8l1.4 1.4m0 -1.4l-1.4 1.4M170.4 131.6l1.4 1.4m0 -1.4l-1.4 1.4M170.7 131.9l1.4 1.4m0 -1.4l-1.4 1.4M171.0 132.8l1.4 1.4m0 -1.4l-1.4 1.4M171.3 132.1l1.4 1.4m0 -1.4l-1.4 1.4M171.6 131.8l1.4 1.4m0 -1.4l-1.4 1.4M171.9 132.0l1.4 1.4m0 -1.4l-1.4 1.4M172.1 131.3l1.4 1.4m0 -1.4l-1.4 1.4M172.4 131.9l1.4 1.4m0 -1.4l-1.4 1.4M172.7 132.0l1.4 1.4m0 -1.4l-1.4 1.4M173.0 130.9l1.4 1.4m0 -1.4l-1.4 1.4M173.3 131.1l1.4 1.4m0 -1.4l-1.4 1.4M173.6 131.3l1.4 1.4m0 -1.4l-1.4 1.4M173.9 130.9l1.4 1.4m0 -1.4l-1.4 1.4M174.1 130.7l1.4 1.4m0 -1.4l-1.4 1.4M174.4 131.0l1.4 1.4m0 -1.4l-1.4 1.4M174.7 132.2l1.4 1.4m0 -1.4l-1.4 1.4M175.0 131.3l1.4 1.4m0 -1.4l-1.4 1.4M175.3 131.1l1.4 1.4m0 -1.4l-1.4 1.4M175.6 131.3l1.4 1.4m0 -1.4l-1.4 1.4M175.8 130.6l1.4 1.4m0 -1.4l-1.4 1.4M176.1 130.1l1.4 1.4m0 -1.4l-1.4 1.4M176.4 130.8l1.4 1.4m0 -1.4l-1.4 1.4M176.7 131.0l1.4 1.4m0 -1.4l-1.4 1.4M177.0 129.5l1.4 1.4m0 -1.4l-1.4 1.4M177.3 130.5l1.4 1.4m0 -1.4l-1.4 1.4M177.6 130.8l1.4 1.4m0 -1.4l-1.4 1.4M177.8 130.1l1.4 1.4m0 -1.4l-1.4 1.4M178.1 129.9l1.4 1.4m0 -1.4l-1.4 1.4M178.4 130.3l1.4 1.4m0 -1.4l-1.4 1.4M178.7 129.6l1.4 1.4m0 -1.4l-1.4 1.4M179.0 130.1l1.4 1.4m0 -1.4l-1.4 1.4M179.3 130.2l1.4 1.4m0 -1.4l-1.4 1.4M179.6 129.7l1.4 1.4m0 -1.4l-1.4 1.4M179.8 129.4l1.4 1.4m0 -1.4l-1.4 1.4M180.1 130.0l1.4 1.4m0 -1.4l-1.4 1.4M180.4 129.5l1.4 1.4m0 -1.4l-1.4 1.4M180.7 129.7l1.4 1.4m0 -1.4l-1.4 1.4M181.0 128.3l1.4 1.4m0 -1.4l-1.4 1.4M181.3 129.9l1.4 1.4m0 -1.4l-1.4 1.4M181.5 128.9l1.4 1.4m0 -1.4l-1.4 1.4M181.8 129.5l1.4 1.4m0 -1.4l-1.4 1.4M182.1 129.5l1.4 1.4m0 -1.4l-1.4 1.4M182.4 129.1l1.4 1.4m0 -1.4l-1.4 1.4M182.7 129.0l1.4 1.4m0 -1.4l-1.4 1.4M183.0 128.7l1.4 1.4m0 -1.4l-1.4 1.4M183.3 129.1l1.4 1.4m0 -1.4l-1.4 1.4M183.5 129.5l1.4 1.4m0 -1.4l-1.4 1.4M183.8 129.5l1.4 1.4m0 -1.4l-1.4 1.4M184.1 129.0l1.4 1.4m0 -1.4l-1.4 1.4M184.4 128.9l1.4 1.4m0 -1.4l-1.4 1.4M184.7 128.5l1.4 1.4m0 -1.4l-1.4 1.4M185.0 128.9l1.4 1.4m0 -1.4l-1.4 1.4M185.2 128.6l1.4 1.4m0 -1.4l-1.4 1.4M185.5 128.3l1.4 1.4m0 -1.4l-1.4 1.4M185.8 128.9l1.4 1.4m0 -1.4l-1.4 1.4M186.1 129.6l1.4 1.4m0 -1.4l-1.4 1.4M186.4 129.5l1.4 1.4m0 -1.4l-1.4 1.4M186.7 129.5l1.4 1.4m0 -1.4l-1.4 1.4M187.0 128.1l1.4 1.4m0 -1.4l-1.4 1.4M187.2 129.2l1.4 1.4m0 -1.4l-1.4 1.4M187.5 128.2l1.4 1.4m0 -1.4l-1.4 1.4M187.8 128.5l1.4 1.4m0 -1.4l-1.4 1.4M188.1 127.9l1.4 1.4m0 -1.4l-1.4 1.4M188.4 128.2l1.4 1.4m0 -1.4l-1.4 1.4M188.7 128.7l1.4 1.4m0 -1.4l-1.4 1.4M189.0 128.7l1.4 1.4m0 -1.4l-1.4 1.4M189.2 128.5l1.4 1.4m0 -1.4l-1.4 1.4M189.5 128.4l1.4 1.4m0 -1.4l-1.4 1.4M189.8 128.7l1.4 1.4m0 -1.4l-1.4 1.4M190.1 128.5l1.4 1.4m0 -1.4l-1.4 1.4M190.4 127.7l1.4 1.4m0 -1.4l-1.4 1.4M190.7 129.2l1.4 1.4m0 -1.4l-1.4 1.4M190.9 128.2l1.4 1.4m0 -1.4l-1.4 1.4M191.2 128.7l1.4 1.4m0 -1.4l-1.4 1.4M191.5 128.2l1.4 1.4m0 -1.4l-1.4 1.4M191.8 127.8l1.4 1.4m0 -1.4l-1.4 1.4M192.1 128.2l1.4 1.4m0 -1.4l-1.4 1.4M192.4 127.8l1.4 1.4m0 -1.4l-1.4 1.4M192.7 128.9l1.4 1.4m0 -1.4l-1.4 1.4M192.9 127.6l1.4 1.4m0 -1.4l-1.4 1.4M193.2 128.3l1.4 1.4m0 -1.4l-1.4 1.4M193.5 127.7l1.4 1.4m0 -1.4l-1.4 1.4M193.8 127.9l1.4 1.4m0 -1.4l-1.4 1.4M194.1 129.2l1.4 1.4m0 -1.4l-1.4 1.4M194.4 128.3l1.4 1.4m0 -1.4l-1.4 1.4M194.6 127.9l1.4 1.4m0 -1.4l-1.4 1.4M194.9 127.3l1.4 1.4m0 -1.4l-1.4 1.4M195.2 127.9l1.4 1.4m0 -1.4l-1.4 1.4M195.5 127.9l1.4 1.4m0 -1.4l-1.4 1.4M195.8 128.7l1.4 1.4m0 -1.4l-1.4 1.4M196.1 127.4l1.4 1.4m0 -1.4l-1.4 1.4M196.4 127.3l1.4 1.4m0 -1.4l-1.4 1.4M196.6 128.1l1.4 1.4m0 -1.4l-1.4 1.4M196.9 128.2l1.4 1.4m0 -1.4l-1.4 1.4M197.2 128.9l1.4 1.4m0 -1.4l-1.4 1.4M197.5 127.8l1.4 1.4m0 -1.4l-1.4 1.4M197.8 126.9l1.4 1.4m0 -1.4l-1.4 1.4M198.1 127.9l1.4 1.4m0 -1.4l-1.4 1.4M198.4 127.7l1.4 1.4m0 -1.4l-1.4 1.4M198.6 128.0l1.4 1.4m0 -1.4l-1.4 1.4M198.9 128.7l1.4 1.4m0 -1.4l-1.4 1.4M199.2 127.7l1.4 1.4m0 -1.4l-1.4 1.4M199.5 128.9l1.4 1.4m0 -1.4l-1.4 1.4M199.8 128.4l1.4 1.4m0 -1.4l-1.4 1.4M200.1 128.2l1.4 1.4m0 -1.4l-1.4 1.4M200.3 128.0l1.4 1.4m0 -1.4l-1.4 1.4M200.6 128.2l1.4 1.4m0 -1.4l-1.4 1.4M200.9 128.2l1.4 1.4m0 -1.4l-1.4 1.4M201.2 128.8l1.4 1.4m0 -1.4l-1.4 1.4M201.5 129.1l1.4 1.4m0 -1.4l-1.4 1.4M201.8 128.4l1.4 1.4m0 -1.4l-1.4 1.4M202.1 128.8l1.4 1.4m0 -1.4l-1.4 1.4M202.3 129.1l1.4 1.4m0 -1.4l-1.4 1.4M202.6 129.1l1.4 1.4m0 -1.4l-1.4 1.4M202.9 128.8l1.4 1.4m0 -1.4l-1.4 1.4M203.2 129.4l1.4 1.4m0 -1.4l-1.4 1.4M203.5 129.2l1.4 1.4m0 -1.4l-1.4 1.4M203.8 129.4l1.4 1.4m0 -1.4l-1.4 1.4M204.1 128.5l1.4 1.4m0 -1.4l-1.4 1.4M204.3 128.4l1.4 1.4m0 -1.4l-1.4 1.4M204.6 127.6l1.4 1.4m0 -1.4l-1.4 1.4M204.9 129.2l1.4 1.4m0 -1.4l-1.4 1.4M205.2 128.8l1.4 1.4m0 -1.4l-1.4 1.4M205.5 128.0l1.4 1.4m0 -1.4l-1.4 1.4M205.8 128.5l1.4 1.4m0 -1.4l-1.4 1.4M206.0 128.5l1.4 1.4m0 -1.4l-1.4 1.4M206.3 127.5l1.4 1.4m0 -1.4l-1.4 1.4M206.6 128.4l1.4 1.4m0 -1.4l-1.4 1.4M206.9 128.7l1.4 1.4m0 -1.4l-1.4 1.4M207.2 128.7l1.4 1.4m0 -1.4l-1.4 1.4M207.5 127.9l1.4 1.4m0 -1.4l-1.4 1.4M207.8 127.9l1.4 1.4m0 -1.4l-1.4 1.4M208.0 128.6l1.4 1.4m0 -1.4l-1.4 1.4M208.3 128.4l1.4 1.4m0 -1.4l-1.4 1.4M208.6 127.6l1.4 1.4m0 -1.4l-1.4 1.4M208.9 127.5l1.4 1.4m0 -1.4l-1.4 1.4M209.2 128.1l1.4 1.4m0 -1.4l-1.4 1.4M209.5 127.4l1.4 1.4m0 -1.4l-1.4 1.4M209.7 127.4l1.4 1.4m0 -1.4l-1.4 1.4M210.0 128.4l1.4 1.4m0 -1.4l-1.4 1.4M210.3 127.7l1.4 1.4m0 -1.4l-1.4 1.4M210.6 127.3l1.4 1.4m0 -1.4l-1.4 1.4M210.9 127.7l1.4 1.4m0 -1.4l-1.4 1.4M211.2 128.4l1.4 1.4m0 -1.4l-1.4 1.4M211.5 127.5l1.4 1.4m0 -1.4l-1.4 1.4M211.7 127.0l1.4 1.4m0 -1.4l-1.4 1.4M212.0 126.5l1.4 1.4m0 -1.4l-1.4 1.4M212.3 128.2l1.4 1.4m0 -1.4l-1.4 1.4M212.6 125.9l1.4 1.4m0 -1.4l-1.4 1.4M212.9 127.6l1.4 1.4m0 -1.4l-1.4 1.4M213.2 126.6l1.4 1.4m0 -1.4l-1.4 1.4M213.5 126.4l1.4 1.4m0 -1.4l-1.4 1.4M213.7 126.5l1.4 1.4m0 -1.4l-1.4 1.4M214.0 126.8l1.4 1.4m0 -1.4l-1.4 1.4M214.3 127.4l1.4 1.4m0 -1.4l-1.4 1.4M214.6 126.5l1.4 1.4m0 -1.4l-1.4 1.4M214.9 127.1l1.4 1.4m0 -1.4l-1.4 1.4M215.2 127.9l1.4 1.4m0 -1.4l-1.4 1.4M215.4 125.3l1.4 1.4m0 -1.4l-1.4 1.4M215.7 126.3l1.4 1.4m0 -1.4l-1.4 1.4M216.0 125.7l1.4 1.4m0 -1.4l-1.4 1.4M216.3 126.9l1.4 1.4m0 -1.4l-1.4 1.4M216.6 125.8l1.4 1.4m0 -1.4l-1.4 1.4M216.9 125.7l1.4 1.4m0 -1.4l-1.4 1.4M217.2 125.6l1.4 1.4m0 -1.4l-1.4 1.4M217.4 126.3l1.4 1.4m0 -1.4l-1.4 1.4" stroke="#ffa500" stroke-width="1.2" fill="none" opacity="1.0"/><rect x="128.7" y="120.3" width="93.7" height="51.0" fill="none" stroke="#111" stroke-width="1.2"/><path d="M133.0 171.3v2M170.8 171.3v2M208.7 171.3v2M128.7 171.3h-2M128.7 148.1h-2M128.7 124.9h-2" stroke="#111" stroke-width="0.9"/><text x="133.0" y="182.1" text-anchor="middle" font-family="Liberation Serif" font-size="9.2" stroke="#000" stroke-width="0.25">0</text><text x="170.8" y="182.1" text-anchor="middle" font-family="Liberation Serif" font-size="9.2" stroke="#000" stroke-width="0.25">2</text><text x="208.7" y="182.1" text-anchor="middle" font-family="Liberation Serif" font-size="9.2" stroke="#000" stroke-width="0.25">4</text><text x="125.4" y="174.6" text-anchor="end" font-family="Liberation Serif" font-size="9.2" stroke="#000" stroke-width="0.25">0</text><text x="125.4" y="151.4" text-anchor="end" font-family="Liberation Serif" font-size="9.2" stroke="#000" stroke-width="0.25">10</text><text x="125.4" y="128.2" text-anchor="end" font-family="Liberation Serif" font-size="9.2" stroke="#000" stroke-width="0.25">20</text><rect x="292.9" y="57.8" width="118.0" height="127.5" fill="#fffac8"/><path d="M254.2 183.1l2.0 2.0m0 -2.0l-2.0 2.0M254.6 179.6l2.0 2.0m0 -2.0l-2.0 2.0M255.0 183.4l2.0 2.0m0 -2.0l-2.0 2.0M255.5 181.2l2.0 2.0m0 -2.0l-2.0 2.0M255.9 175.8l2.0 2.0m0 -2.0l-2.0 2.0M256.3 177.4l2.0 2.0m0 -2.0l-2.0 2.0M256.7 174.4l2.0 2.0m0 -2.0l-2.0 2.0M257.2 173.2l2.0 2.0m0 -2.0l-2.0 2.0M257.6 167.3l2.0 2.0m0 -2.0l-2.0 2.0M258.0 167.8l2.0 2.0m0 -2.0l-2.0 2.0M258.4 170.0l2.0 2.0m0 -2.0l-2.0 2.0M258.9 165.9l2.0 2.0m0 -2.0l-2.0 2.0M259.3 169.7l2.0 2.0m0 -2.0l-2.0 2.0M259.7 167.6l2.0 2.0m0 -2.0l-2.0 2.0M260.1 163.6l2.0 2.0m0 -2.0l-2.0 2.0M260.6 167.7l2.0 2.0m0 -2.0l-2.0 2.0M261.0 164.4l2.0 2.0m0 -2.0l-2.0 2.0M261.4 165.9l2.0 2.0m0 -2.0l-2.0 2.0M261.8 161.4l2.0 2.0m0 -2.0l-2.0 2.0M262.3 156.7l2.0 2.0m0 -2.0l-2.0 2.0M262.7 161.4l2.0 2.0m0 -2.0l-2.0 2.0M263.1 158.0l2.0 2.0m0 -2.0l-2.0 2.0M263.5 159.7l2.0 2.0m0 -2.0l-2.0 2.0M264.0 159.3l2.0 2.0m0 -2.0l-2.0 2.0M264.4 158.5l2.0 2.0m0 -2.0l-2.0 2.0M264.8 151.0l2.0 2.0m0 -2.0l-2.0 2.0M265.2 148.1l2.0 2.0m0 -2.0l-2.0 2.0M265.7 151.9l2.0 2.0m0 -2.0l-2.0 2.0M266.1 154.1l2.0 2.0m0 -2.0l-2.0 2.0M266.5 149.9l2.0 2.0m0 -2.0l-2.0 2.0M266.9 151.7l2.0 2.0m0 -2.0l-2.0 2.0M267.4 148.2l2.0 2.0m0 -2.0l-2.0 2.0M267.8 148.8l2.0 2.0m0 -2.0l-2.0 2.0M268.2 148.1l2.0 2.0m0 -2.0l-2.0 2.0M268.6 146.6l2.0 2.0m0 -2.0l-2.0 2.0M269.1 148.7l2.0 2.0m0 -2.0l-2.0 2.0M269.5 147.6l2.0 2.0m0 -2.0l-2.0 2.0M269.9 150.0l2.0 2.0m0 -2.0l-2.0 2.0M270.3 146.2l2.0 2.0m0 -2.0l-2.0 2.0M270.8 147.9l2.0 2.0m0 -2.0l-2.0 2.0M271.2 144.1l2.0 2.0m0 -2.0l-2.0 2.0M271.6 145.3l2.0 2.0m0 -2.0l-2.0 2.0M272.0 142.0l2.0 2.0m0 -2.0l-2.0 2.0M272.5 140.4l2.0 2.0m0 -2.0l-2.0 2.0M272.9 144.2l2.0 2.0m0 -2.0l-2.0 2.0M273.3 142.1l2.0 2.0m0 -2.0l-2.0 2.0M273.7 141.7l2.0 2.0m0 -2.0l-2.0 2.0M274.2 136.9l2.0 2.0m0 -2.0l-2.0 2.0M274.6 133.8l2.0 2.0m0 -2.0l-2.0 2.0M275.0 135.2l2.0 2.0m0 -2.0l-2.0 2.0M275.4 137.4l2.0 2.0m0 -2.0l-2.0 2.0M275.9 132.4l2.0 2.0m0 -2.0l-2.0 2.0M276.3 139.0l2.0 2.0m0 -2.0l-2.0 2.0M276.7 131.0l2.0 2.0m0 -2.0l-2.0 2.0M277.1 135.6l2.0 2.0m0 -2.0l-2.0 2.0M277.6 140.1l2.0 2.0m0 -2.0l-2.0 2.0M278.0 126.3l2.0 2.0m0 -2.0l-2.0 2.0M278.4 128.3l2.0 2.0m0 -2.0l-2.0 2.0M278.8 133.9l2.0 2.0m0 -2.0l-2.0 2.0M279.3 130.4l2.0 2.0m0 -2.0l-2.0 2.0M279.7 130.7l2.0 2.0m0 -2.0l-2.0 2.0M280.1 129.3l2.0 2.0m0 -2.0l-2.0 2.0M280.5 132.5l2.0 2.0m0 -2.0l-2.0 2.0M281.0 129.9l2.0 2.0m0 -2.0l-2.0 2.0M281.4 126.5l2.0 2.0m0 -2.0l-2.0 2.0M281.8 126.4l2.0 2.0m0 -2.0l-2.0 2.0M282.2 123.4l2.0 2.0m0 -2.0l-2.0 2.0M282.7 125.5l2.0 2.0m0 -2.0l-2.0 2.0M283.1 119.3l2.0 2.0m0 -2.0l-2.0 2.0M283.5 126.1l2.0 2.0m0 -2.0l-2.0 2.0M283.9 122.9l2.0 2.0m0 -2.0l-2.0 2.0M284.4 127.3l2.0 2.0m0 -2.0l-2.0 2.0M284.8 124.8l2.0 2.0m0 -2.0l-2.0 2.0M285.2 117.6l2.0 2.0m0 -2.0l-2.0 2.0M285.6 122.2l2.0 2.0m0 -2.0l-2.0 2.0M286.1 117.8l2.0 2.0m0 -2.0l-2.0 2.0M286.5 118.3l2.0 2.0m0 -2.0l-2.0 2.0M286.9 119.8l2.0 2.0m0 -2.0l-2.0 2.0M287.3 117.2l2.0 2.0m0 -2.0l-2.0 2.0M287.8 116.7l2.0 2.0m0 -2.0l-2.0 2.0M288.2 115.8l2.0 2.0m0 -2.0l-2.0 2.0M288.6 111.9l2.0 2.0m0 -2.0l-2.0 2.0M289.0 111.2l2.0 2.0m0 -2.0l-2.0 2.0M289.5 113.3l2.0 2.0m0 -2.0l-2.0 2.0M289.9 113.2l2.0 2.0m0 -2.0l-2.0 2.0M290.3 109.4l2.0 2.0m0 -2.0l-2.0 2.0M290.7 109.4l2.0 2.0m0 -2.0l-2.0 2.0M291.2 105.9l2.0 2.0m0 -2.0l-2.0 2.0M291.6 101.9l2.0 2.0m0 -2.0l-2.0 2.0M292.0 106.1l2.0 2.0m0 -2.0l-2.0 2.0M292.4 108.2l2.0 2.0m0 -2.0l-2.0 2.0M292.9 108.4l2.0 2.0m0 -2.0l-2.0 2.0M293.3 109.9l2.0 2.0m0 -2.0l-2.0 2.0M293.7 109.9l2.0 2.0m0 -2.0l-2.0 2.0M294.1 110.1l2.0 2.0m0 -2.0l-2.0 2.0M294.6 108.5l2.0 2.0m0 -2.0l-2.0 2.0M295.0 108.5l2.0 2.0m0 -2.0l-2.0 2.0M295.4 105.5l2.0 2.0m0 -2.0l-2.0 2.0M295.8 108.2l2.0 2.0m0 -2.0l-2.0 2.0M296.3 107.6l2.0 2.0m0 -2.0l-2.0 2.0M296.7 110.0l2.0 2.0m0 -2.0l-2.0 2.0M297.1 102.9l2.0 2.0m0 -2.0l-2.0 2.0M297.5 105.6l2.0 2.0m0 -2.0l-2.0 2.0M298.0 102.4l2.0 2.0m0 -2.0l-2.0 2.0M298.4 104.7l2.0 2.0m0 -2.0l-2.0 2.0M298.8 102.9l2.0 2.0m0 -2.0l-2.0 2.0M299.2 107.0l2.0 2.0m0 -2.0l-2.0 2.0M299.7 104.7l2.0 2.0m0 -2.0l-2.0 2.0M300.1 100.0l2.0 2.0m0 -2.0l-2.0 2.0M300.5 109.5l2.0 2.0m0 -2.0l-2.0 2.0M300.9 103.8l2.0 2.0m0 -2.0l-2.0 2.0M301.4 102.7l2.0 2.0m0 -2.0l-2.0 2.0M301.8 105.8l2.0 2.0m0 -2.0l-2.0 2.0M302.2 105.1l2.0 2.0m0 -2.0l-2.0 2.0M302.6 103.9l2.0 2.0m0 -2.0l-2.0 2.0M303.1 108.7l2.0 2.0m0 -2.0l-2.0 2.0M303.5 106.2l2.0 2.0m0 -2.0l-2.0 2.0M303.9 109.5l2.0 2.0m0 -2.0l-2.0 2.0M304.3 109.1l2.0 2.0m0 -2.0l-2.0 2.0M304.8 109.0l2.0 2.0m0 -2.0l-2.0 2.0M305.2 107.9l2.0 2.0m0 -2.0l-2.0 2.0M305.6 107.3l2.0 2.0m0 -2.0l-2.0 2.0M306.1 106.6l2.0 2.0m0 -2.0l-2.0 2.0M306.5 111.4l2.0 2.0m0 -2.0l-2.0 2.0M306.9 103.1l2.0 2.0m0 -2.0l-2.0 2.0M307.3 105.2l2.0 2.0m0 -2.0l-2.0 2.0M307.8 106.3l2.0 2.0m0 -2.0l-2.0 2.0M308.2 109.1l2.0 2.0m0 -2.0l-2.0 2.0M308.6 108.5l2.0 2.0m0 -2.0l-2.0 2.0M309.0 107.1l2.0 2.0m0 -2.0l-2.0 2.0M309.5 107.5l2.0 2.0m0 -2.0l-2.0 2.0M309.9 112.7l2.0 2.0m0 -2.0l-2.0 2.0M310.3 106.8l2.0 2.0m0 -2.0l-2.0 2.0M310.7 101.6l2.0 2.0m0 -2.0l-2.0 2.0M311.2 113.4l2.0 2.0m0 -2.0l-2.0 2.0M311.6 106.5l2.0 2.0m0 -2.0l-2.0 2.0M312.0 108.1l2.0 2.0m0 -2.0l-2.0 2.0M312.4 109.4l2.0 2.0m0 -2.0l-2.0 2.0M312.9 105.9l2.0 2.0m0 -2.0l-2.0 2.0M313.3 112.3l2.0 2.0m0 -2.0l-2.0 2.0M313.7 109.1l2.0 2.0m0 -2.0l-2.0 2.0M314.1 106.0l2.0 2.0m0 -2.0l-2.0 2.0M314.6 110.2l2.0 2.0m0 -2.0l-2.0 2.0M315.0 110.9l2.0 2.0m0 -2.0l-2.0 2.0M315.4 109.7l2.0 2.0m0 -2.0l-2.0 2.0M315.8 111.2l2.0 2.0m0 -2.0l-2.0 2.0M316.3 106.3l2.0 2.0m0 -2.0l-2.0 2.0M316.7 112.5l2.0 2.0m0 -2.0l-2.0 2.0M317.1 108.2l2.0 2.0m0 -2.0l-2.0 2.0M317.5 113.6l2.0 2.0m0 -2.0l-2.0 2.0M318.0 109.0l2.0 2.0m0 -2.0l-2.0 2.0M318.4 111.0l2.0 2.0m0 -2.0l-2.0 2.0M318.8 117.3l2.0 2.0m0 -2.0l-2.0 2.0M319.2 111.0l2.0 2.0m0 -2.0l-2.0 2.0M319.7 113.7l2.0 2.0m0 -2.0l-2.0 2.0M320.1 112.3l2.0 2.0m0 -2.0l-2.0 2.0M320.5 107.5l2.0 2.0m0 -2.0l-2.0 2.0M320.9 114.2l2.0 2.0m0 -2.0l-2.0 2.0M321.4 114.2l2.0 2.0m0 -2.0l-2.0 2.0M321.8 108.1l2.0 2.0m0 -2.0l-2.0 2.0M322.2 111.5l2.0 2.0m0 -2.0l-2.0 2.0M322.6 108.0l2.0 2.0m0 -2.0l-2.0 2.0M323.1 111.2l2.0 2.0m0 -2.0l-2.0 2.0M323.5 114.3l2.0 2.0m0 -2.0l-2.0 2.0M323.9 112.4l2.0 2.0m0 -2.0l-2.0 2.0M324.3 109.3l2.0 2.0m0 -2.0l-2.0 2.0M324.8 110.1l2.0 2.0m0 -2.0l-2.0 2.0M325.2 112.5l2.0 2.0m0 -2.0l-2.0 2.0M325.6 112.5l2.0 2.0m0 -2.0l-2.0 2.0M326.0 113.0l2.0 2.0m0 -2.0l-2.0 2.0M326.5 114.3l2.0 2.0m0 -2.0l-2.0 2.0M326.9 108.2l2.0 2.0m0 -2.0l-2.0 2.0M327.3 113.1l2.0 2.0m0 -2.0l-2.0 2.0M327.7 116.0l2.0 2.0m0 -2.0l-2.0 2.0M328.2 114.5l2.0 2.0m0 -2.0l-2.0 2.0M328.6 111.6l2.0 2.0m0 -2.0l-2.0 2.0M329.0 112.0l2.0 2.0m0 -2.0l-2.0 2.0M329.4 114.0l2.0 2.0m0 -2.0l-2.0 2.0M329.9 115.4l2.0 2.0m0 -2.0l-2.0 2.0M330.3 113.8l2.0 2.0m0 -2.0l-2.0 2.0M330.7 118.2l2.0 2.0m0 -2.0l-2.0 2.0M331.1 117.4l2.0 2.0m0 -2.0l-2.0 2.0M331.6 112.2l2.0 2.0m0 -2.0l-2.0 2.0M332.0 115.5l2.0 2.0m0 -2.0l-2.0 2.0M332.4 113.5l2.0 2.0m0 -2.0l-2.0 2.0M332.8 111.5l2.0 2.0m0 -2.0l-2.0 2.0M333.3 113.1l2.0 2.0m0 -2.0l-2.0 2.0M333.7 114.7l2.0 2.0m0 -2.0l-2.0 2.0M334.1 109.6l2.0 2.0m0 -2.0l-2.0 2.0M334.5 113.4l2.0 2.0m0 -2.0l-2.0 2.0M335.0 116.0l2.0 2.0m0 -2.0l-2.0 2.0M335.4 113.4l2.0 2.0m0 -2.0l-2.0 2.0M335.8 114.3l2.0 2.0m0 -2.0l-2.0 2.0M336.2 117.6l2.0 2.0m0 -2.0l-2.0 2.0M336.7 115.4l2.0 2.0m0 -2.0l-2.0 2.0M337.1 116.1l2.0 2.0m0 -2.0l-2.0 2.0M337.5 120.7l2.0 2.0m0 -2.0l-2.0 2.0M337.9 116.3l2.0 2.0m0 -2.0l-2.0 2.0M338.4 116.7l2.0 2.0m0 -2.0l-2.0 2.0M338.8 117.2l2.0 2.0m0 -2.0l-2.0 2.0M339.2 120.3l2.0 2.0m0 -2.0l-2.0 2.0M339.6 117.2l2.0 2.0m0 -2.0l-2.0 2.0M340.1 116.5l2.0 2.0m0 -2.0l-2.0 2.0M340.5 116.3l2.0 2.0m0 -2.0l-2.0 2.0M340.9 119.5l2.0 2.0m0 -2.0l-2.0 2.0M341.3 115.2l2.0 2.0m0 -2.0l-2.0 2.0M341.8 119.9l2.0 2.0m0 -2.0l-2.0 2.0M342.2 117.5l2.0 2.0m0 -2.0l-2.0 2.0M342.6 113.8l2.0 2.0m0 -2.0l-2.0 2.0M343.0 118.9l2.0 2.0m0 -2.0l-2.0 2.0M343.5 118.5l2.0 2.0m0 -2.0l-2.0 2.0M343.9 114.7l2.0 2.0m0 -2.0l-2.0 2.0M344.3 118.4l2.0 2.0m0 -2.0l-2.0 2.0M344.7 118.3l2.0 2.0m0 -2.0l-2.0 2.0M345.2 117.2l2.0 2.0m0 -2.0l-2.0 2.0M345.6 115.2l2.0 2.0m0 -2.0l-2.0 2.0M346.0 123.4l2.0 2.0m0 -2.0l-2.0 2.0M346.4 120.1l2.0 2.0m0 -2.0l-2.0 2.0M346.9 120.6l2.0 2.0m0 -2.0l-2.0 2.0M347.3 120.9l2.0 2.0m0 -2.0l-2.0 2.0M347.7 120.5l2.0 2.0m0 -2.0l-2.0 2.0M348.1 120.5l2.0 2.0m0 -2.0l-2.0 2.0M348.6 117.8l2.0 2.0m0 -2.0l-2.0 2.0M349.0 120.9l2.0 2.0m0 -2.0l-2.0 2.0M349.4 118.5l2.0 2.0m0 -2.0l-2.0 2.0M349.8 117.9l2.0 2.0m0 -2.0l-2.0 2.0M350.3 120.8l2.0 2.0m0 -2.0l-2.0 2.0M350.7 118.8l2.0 2.0m0 -2.0l-2.0 2.0M351.1 115.1l2.0 2.0m0 -2.0l-2.0 2.0M351.5 118.5l2.0 2.0m0 -2.0l-2.0 2.0M352.0 121.0l2.0 2.0m0 -2.0l-2.0 2.0M352.4 119.7l2.0 2.0m0 -2.0l-2.0 2.0M352.8 121.9l2.0 2.0m0 -2.0l-2.0 2.0M353.2 119.1l2.0 2.0m0 -2.0l-2.0 2.0M353.7 117.7l2.0 2.0m0 -2.0l-2.0 2.0M354.1 122.0l2.0 2.0m0 -2.0l-2.0 2.0M354.5 120.6l2.0 2.0m0 -2.0l-2.0 2.0M354.9 117.4l2.0 2.0m0 -2.0l-2.0 2.0M355.4 121.5l2.0 2.0m0 -2.0l-2.0 2.0M355.8 119.9l2.0 2.0m0 -2.0l-2.0 2.0M356.2 123.0l2.0 2.0m0 -2.0l-2.0 2.0M356.6 122.6l2.0 2.0m0 -2.0l-2.0 2.0M357.1 122.0l2.0 2.0m0 -2.0l-2.0 2.0M357.5 115.5l2.0 2.0m0 -2.0l-2.0 2.0M357.9 121.9l2.0 2.0m0 -2.0l-2.0 2.0M358.3 122.3l2.0 2.0m0 -2.0l-2.0 2.0M358.8 122.5l2.0 2.0m0 -2.0l-2.0 2.0M359.2 121.6l2.0 2.0m0 -2.0l-2.0 2.0M359.6 119.7l2.0 2.0m0 -2.0l-2.0 2.0M360.0 121.0l2.0 2.0m0 -2.0l-2.0 2.0M360.5 116.6l2.0 2.0m0 -2.0l-2.0 2.0M360.9 121.1l2.0 2.0m0 -2.0l-2.0 2.0M361.3 118.3l2.0 2.0m0 -2.0l-2.0 2.0M361.7 121.2l2.0 2.0m0 -2.0l-2.0 2.0M362.2 120.5l2.0 2.0m0 -2.0l-2.0 2.0M362.6 125.6l2.0 2.0m0 -2.0l-2.0 2.0M363.0 122.5l2.0 2.0m0 -2.0l-2.0 2.0M363.4 122.5l2.0 2.0m0 -2.0l-2.0 2.0M363.9 123.0l2.0 2.0m0 -2.0l-2.0 2.0M364.3 127.7l2.0 2.0m0 -2.0l-2.0 2.0M364.7 120.5l2.0 2.0m0 -2.0l-2.0 2.0M365.1 123.7l2.0 2.0m0 -2.0l-2.0 2.0M365.6 123.9l2.0 2.0m0 -2.0l-2.0 2.0M366.0 123.6l2.0 2.0m0 -2.0l-2.0 2.0M366.4 123.6l2.0 2.0m0 -2.0l-2.0 2.0M366.8 122.2l2.0 2.0m0 -2.0l-2.0 2.0M367.3 126.3l2.0 2.0m0 -2.0l-2.0 2.0M367.7 125.6l2.0 2.0m0 -2.0l-2.0 2.0M368.1 122.8l2.0 2.0m0 -2.0l-2.0 2.0M368.5 123.2l2.0 2.0m0 -2.0l-2.0 2.0M369.0 124.6l2.0 2.0m0 -2.0l-2.0 2.0M369.4 125.2l2.0 2.0m0 -2.0l-2.0 2.0M369.8 125.9l2.0 2.0m0 -2.0l-2.0 2.0M370.2 124.2l2.0 2.0m0 -2.0l-2.0 2.0M370.7 121.3l2.0 2.0m0 -2.0l-2.0 2.0M371.1 126.8l2.0 2.0m0 -2.0l-2.0 2.0M371.5 120.7l2.0 2.0m0 -2.0l-2.0 2.0M371.9 122.4l2.0 2.0m0 -2.0l-2.0 2.0M372.4 125.6l2.0 2.0m0 -2.0l-2.0 2.0M372.8 122.8l2.0 2.0m0 -2.0l-2.0 2.0M373.2 128.3l2.0 2.0m0 -2.0l-2.0 2.0M373.7 129.1l2.0 2.0m0 -2.0l-2.0 2.0M374.1 128.1l2.0 2.0m0 -2.0l-2.0 2.0M374.5 126.1l2.0 2.0m0 -2.0l-2.0 2.0M374.9 126.0l2.0 2.0m0 -2.0l-2.0 2.0M375.4 126.5l2.0 2.0m0 -2.0l-2.0 2.0M375.8 125.2l2.0 2.0m0 -2.0l-2.0 2.0M376.2 130.7l2.0 2.0m0 -2.0l-2.0 2.0M376.6 124.4l2.0 2.0m0 -2.0l-2.0 2.0M377.1 129.2l2.0 2.0m0 -2.0l-2.0 2.0M377.5 127.4l2.0 2.0m0 -2.0l-2.0 2.0M377.9 127.0l2.0 2.0m0 -2.0l-2.0 2.0M378.3 129.0l2.0 2.0m0 -2.0l-2.0 2.0M378.8 129.7l2.0 2.0m0 -2.0l-2.0 2.0M379.2 129.0l2.0 2.0m0 -2.0l-2.0 2.0M379.6 126.8l2.0 2.0m0 -2.0l-2.0 2.0M380.0 125.6l2.0 2.0m0 -2.0l-2.0 2.0M380.5 125.8l2.0 2.0m0 -2.0l-2.0 2.0M380.9 129.8l2.0 2.0m0 -2.0l-2.0 2.0M381.3 129.5l2.0 2.0m0 -2.0l-2.0 2.0M381.7 130.0l2.0 2.0m0 -2.0l-2.0 2.0M382.2 126.9l2.0 2.0m0 -2.0l-2.0 2.0M382.6 133.1l2.0 2.0m0 -2.0l-2.0 2.0M383.0 125.4l2.0 2.0m0 -2.0l-2.0 2.0M383.4 129.8l2.0 2.0m0 -2.0l-2.0 2.0M383.9 130.7l2.0 2.0m0 -2.0l-2.0 2.0M384.3 128.2l2.0 2.0m0 -2.0l-2.0 2.0M384.7 126.7l2.0 2.0m0 -2.0l-2.0 2.0M385.1 128.6l2.0 2.0m0 -2.0l-2.0 2.0M385.6 127.1l2.0 2.0m0 -2.0l-2.0 2.0M386.0 129.5l2.0 2.0m0 -2.0l-2.0 2.0M386.4 127.1l2.0 2.0m0 -2.0l-2.0 2.0M386.8 127.2l2.0 2.0m0 -2.0l-2.0 2.0M387.3 130.7l2.0 2.0m0 -2.0l-2.0 2.0M387.7 127.2l2.0 2.0m0 -2.0l-2.0 2.0M388.1 130.5l2.0 2.0m0 -2.0l-2.0 2.0M388.5 130.9l2.0 2.0m0 -2.0l-2.0 2.0M389.0 133.5l2.0 2.0m0 -2.0l-2.0 2.0M389.4 132.1l2.0 2.0m0 -2.0l-2.0 2.0M389.8 129.7l2.0 2.0m0 -2.0l-2.0 2.0M390.2 134.9l2.0 2.0m0 -2.0l-2.0 2.0M390.7 130.3l2.0 2.0m0 -2.0l-2.0 2.0M391.1 131.2l2.0 2.0m0 -2.0l-2.0 2.0M391.5 131.6l2.0 2.0m0 -2.0l-2.0 2.0M391.9 137.7l2.0 2.0m0 -2.0l-2.0 2.0M392.4 132.8l2.0 2.0m0 -2.0l-2.0 2.0M392.8 131.2l2.0 2.0m0 -2.0l-2.0 2.0M393.2 134.7l2.0 2.0m0 -2.0l-2.0 2.0M393.6 132.9l2.0 2.0m0 -2.0l-2.0 2.0M394.1 139.0l2.0 2.0m0 -2.0l-2.0 2.0M394.5 131.8l2.0 2.0m0 -2.0l-2.0 2.0M394.9 135.2l2.0 2.0m0 -2.0l-2.0 2.0M395.3 131.6l2.0 2.0m0 -2.0l-2.0 2.0M395.8 138.3l2.0 2.0m0 -2.0l-2.0 2.0M396.2 132.4l2.0 2.0m0 -2.0l-2.0 2.0M396.6 134.8l2.0 2.0m0 -2.0l-2.0 2.0M397.0 132.4l2.0 2.0m0 -2.0l-2.0 2.0M397.5 136.8l2.0 2.0m0 -2.0l-2.0 2.0M397.9 136.2l2.0 2.0m0 -2.0l-2.0 2.0M398.3 129.5l2.0 2.0m0 -2.0l-2.0 2.0M398.7 137.1l2.0 2.0m0 -2.0l-2.0 2.0M399.2 136.9l2.0 2.0m0 -2.0l-2.0 2.0M399.6 136.1l2.0 2.0m0 -2.0l-2.0 2.0M400.0 138.0l2.0 2.0m0 -2.0l-2.0 2.0M400.4 132.8l2.0 2.0m0 -2.0l-2.0 2.0M400.9 131.7l2.0 2.0m0 -2.0l-2.0 2.0M401.3 137.7l2.0 2.0m0 -2.0l-2.0 2.0M401.7 140.4l2.0 2.0m0 -2.0l-2.0 2.0M402.1 133.5l2.0 2.0m0 -2.0l-2.0 2.0M402.6 133.9l2.0 2.0m0 -2.0l-2.0 2.0M403.0 134.7l2.0 2.0m0 -2.0l-2.0 2.0M403.4 134.1l2.0 2.0m0 -2.0l-2.0 2.0M403.8 139.1l2.0 2.0m0 -2.0l-2.0 2.0M404.3 137.6l2.0 2.0m0 -2.0l-2.0 2.0M404.7 140.7l2.0 2.0m0 -2.0l-2.0 2.0M405.1 141.0l2.0 2.0m0 -2.0l-2.0 2.0M405.5 135.3l2.0 2.0m0 -2.0l-2.0 2.0M406.0 139.5l2.0 2.0m0 -2.0l-2.0 2.0M406.4 132.5l2.0 2.0m0 -2.0l-2.0 2.0M406.8 138.0l2.0 2.0m0 -2.0l-2.0 2.0M407.2 139.9l2.0 2.0m0 -2.0l-2.0 2.0M407.7 136.6l2.0 2.0m0 -2.0l-2.0 2.0M408.1 134.3l2.0 2.0m0 -2.0l-2.0 2.0M408.5 137.7l2.0 2.0m0 -2.0l-2.0 2.0M408.9 142.0l2.0 2.0m0 -2.0l-2.0 2.0M409.4 138.3l2.0 2.0m0 -2.0l-2.0 2.0M409.8 136.0l2.0 2.0m0 -2.0l-2.0 2.0M410.2 140.7l2.0 2.0m0 -2.0l-2.0 2.0M410.6 141.6l2.0 2.0m0 -2.0l-2.0 2.0M411.1 137.4l2.0 2.0m0 -2.0l-2.0 2.0M411.5 139.7l2.0 2.0m0 -2.0l-2.0 2.0M411.9 142.8l2.0 2.0m0 -2.0l-2.0 2.0M412.3 141.3l2.0 2.0m0 -2.0l-2.0 2.0M412.8 142.3l2.0 2.0m0 -2.0l-2.0 2.0M413.2 140.0l2.0 2.0m0 -2.0l-2.0 2.0M413.6 140.6l2.0 2.0m0 -2.0l-2.0 2.0M414.0 138.2l2.0 2.0m0 -2.0l-2.0 2.0M414.5 139.5l2.0 2.0m0 -2.0l-2.0 2.0M414.9 145.1l2.0 2.0m0 -2.0l-2.0 2.0M415.3 140.5l2.0 2.0m0 -2.0l-2.0 2.0M415.7 139.5l2.0 2.0m0 -2.0l-2.0 2.0M416.2 140.7l2.0 2.0m0 -2.0l-2.0 2.0M416.6 139.5l2.0 2.0m0 -2.0l-2.0 2.0M417.0 143.5l2.0 2.0m0 -2.0l-2.0 2.0M417.4 144.6l2.0 2.0m0 -2.0l-2.0 2.0M417.9 140.2l2.0 2.0m0 -2.0l-2.0 2.0M418.3 145.2l2.0 2.0m0 -2.0l-2.0 2.0M418.7 148.0l2.0 2.0m0 -2.0l-2.0 2.0M419.1 140.6l2.0 2.0m0 -2.0l-2.0 2.0M419.6 145.0l2.0 2.0m0 -2.0l-2.0 2.0M420.0 144.2l2.0 2.0m0 -2.0l-2.0 2.0M420.4 147.1l2.0 2.0m0 -2.0l-2.0 2.0M420.8 147.2l2.0 2.0m0 -2.0l-2.0 2.0M421.3 147.0l2.0 2.0m0 -2.0l-2.0 2.0M421.7 145.3l2.0 2.0m0 -2.0l-2.0 2.0M422.1 143.8l2.0 2.0m0 -2.0l-2.0 2.0M422.5 150.5l2.0 2.0m0 -2.0l-2.0 2.0M423.0 143.4l2.0 2.0m0 -2.0l-2.0 2.0M423.4 148.3l2.0 2.0m0 -2.0l-2.0 2.0M423.8 148.2l2.0 2.0m0 -2.0l-2.0 2.0" stroke="#6495ed" stroke-width="1.5" fill="none" opacity="1.0"/><path d="M254.2 178.1l2.0 2.0m0 -2.0l-2.0 2.0M254.6 179.5l2.0 2.0m0 -2.0l-2.0 2.0M255.0 183.1l2.0 2.0m0 -2.0l-2.0 2.0M255.5 171.7l2.0 2.0m0 -2.0l-2.0 2.0M255.9 179.2l2.0 2.0m0 -2.0l-2.0 2.0M256.3 174.8l2.0 2.0m0 -2.0l-2.0 2.0M256.7 174.0l2.0 2.0m0 -2.0l-2.0 2.0M257.2 169.4l2.0 2.0m0 -2.0l-2.0 2.0M257.6 174.2l2.0 2.0m0 -2.0l-2.0 2.0M258.0 168.8l2.0 2.0m0 -2.0l-2.0 2.0M258.4 173.3l2.0 2.0m0 -2.0l-2.0 2.0M258.9 166.6l2.0 2.0m0 -2.0l-2.0 2.0M259.3 171.5l2.0 2.0m0 -2.0l-2.0 2.0M259.7 169.4l2.0 2.0m0 -2.0l-2.0 2.0M260.1 161.4l2.0 2.0m0 -2.0l-2.0 2.0M260.6 165.4l2.0 2.0m0 -2.0l-2.0 2.0M261.0 165.1l2.0 2.0m0 -2.0l-2.0 2.0M261.4 157.6l2.0 2.0m0 -2.0l-2.0 2.0M261.8 162.5l2.0 2.0m0 -2.0l-2.0 2.0M262.3 165.3l2.0 2.0m0 -2.0l-2.0 2.0M262.7 159.5l2.0 2.0m0 -2.0l-2.0 2.0M263.1 164.6l2.0 2.0m0 -2.0l-2.0 2.0M263.5 156.5l2.0 2.0m0 -2.0l-2.0 2.0M264.0 155.3l2.0 2.0m0 -2.0l-2.0 2.0M264.4 159.9l2.0 2.0m0 -2.0l-2.0 2.0M264.8 159.3l2.0 2.0m0 -2.0l-2.0 2.0M265.2 156.6l2.0 2.0m0 -2.0l-2.0 2.0M265.7 157.0l2.0 2.0m0 -2.0l-2.0 2.0M266.1 159.9l2.0 2.0m0 -2.0l-2.0 2.0M266.5 154.9l2.0 2.0m0 -2.0l-2.0 2.0M266.9 162.8l2.0 2.0m0 -2.0l-2.0 2.0M267.4 157.6l2.0 2.0m0 -2.0l-2.0 2.0M267.8 157.4l2.0 2.0m0 -2.0l-2.0 2.0M268.2 156.8l2.0 2.0m0 -2.0l-2.0 2.0M268.6 154.8l2.0 2.0m0 -2.0l-2.0 2.0M269.1 159.4l2.0 2.0m0 -2.0l-2.0 2.0M269.5 153.6l2.0 2.0m0 -2.0l-2.0 2.0M269.9 155.8l2.0 2.0m0 -2.0l-2.0 2.0M270.3 157.1l2.0 2.0m0 -2.0l-2.0 2.0M270.8 159.1l2.0 2.0m0 -2.0l-2.0 2.0M271.2 158.4l2.0 2.0m0 -2.0l-2.0 2.0M271.6 153.4l2.0 2.0m0 -2.0l-2.0 2.0M272.0 157.3l2.0 2.0m0 -2.0l-2.0 2.0M272.5 154.0l2.0 2.0m0 -2.0l-2.0 2.0M272.9 150.7l2.0 2.0m0 -2.0l-2.0 2.0M273.3 150.2l2.0 2.0m0 -2.0l-2.0 2.0M273.7 147.8l2.0 2.0m0 -2.0l-2.0 2.0M274.2 152.8l2.0 2.0m0 -2.0l-2.0 2.0M274.6 154.5l2.0 2.0m0 -2.0l-2.0 2.0M275.0 147.1l2.0 2.0m0 -2.0l-2.0 2.0M275.4 148.6l2.0 2.0m0 -2.0l-2.0 2.0M275.9 145.3l2.0 2.0m0 -2.0l-2.0 2.0M276.3 147.9l2.0 2.0m0 -2.0l-2.0 2.0M276.7 143.5l2.0 2.0m0 -2.0l-2.0 2.0M277.1 143.8l2.0 2.0m0 -2.0l-2.0 2.0M277.6 143.5l2.0 2.0m0 -2.0l-2.0 2.0M278.0 143.4l2.0 2.0m0 -2.0l-2.0 2.0M278.4 143.0l2.0 2.0m0 -2.0l-2.0 2.0M278.8 142.7l2.0 2.0m0 -2.0l-2.0 2.0M279.3 142.0l2.0 2.0m0 -2.0l-2.0 2.0M279.7 138.9l2.0 2.0m0 -2.0l-2.0 2.0M280.1 142.8l2.0 2.0m0 -2.0l-2.0 2.0M280.5 135.1l2.0 2.0m0 -2.0l-2.0 2.0M281.0 140.0l2.0 2.0m0 -2.0l-2.0 2.0M281.4 135.9l2.0 2.0m0 -2.0l-2.0 2.0M281.8 138.5l2.0 2.0m0 -2.0l-2.0 2.0M282.2 138.2l2.0 2.0m0 -2.0l-2.0 2.0M282.7 130.4l2.0 2.0m0 -2.0l-2.0 2.0M283.1 136.9l2.0 2.0m0 -2.0l-2.0 2.0M283.5 139.2l2.0 2.0m0 -2.0l-2.0 2.0M283.9 136.7l2.0 2.0m0 -2.0l-2.0 2.0M284.4 134.7l2.0 2.0m0 -2.0l-2.0 2.0M284.8 126.3l2.0 2.0m0 -2.0l-2.0 2.0M285.2 131.6l2.0 2.0m0 -2.0l-2.0 2.0M285.6 128.6l2.0 2.0m0 -2.0l-2.0 2.0M286.1 133.8l2.0 2.0m0 -2.0l-2.0 2.0M286.5 128.9l2.0 2.0m0 -2.0l-2.0 2.0M286.9 127.1l2.0 2.0m0 -2.0l-2.0 2.0M287.3 122.7l2.0 2.0m0 -2.0l-2.0 2.0M287.8 129.5l2.0 2.0m0 -2.0l-2.0 2.0M288.2 124.5l2.0 2.0m0 -2.0l-2.0 2.0M288.6 124.5l2.0 2.0m0 -2.0l-2.0 2.0M289.0 127.6l2.0 2.0m0 -2.0l-2.0 2.0M289.5 123.6l2.0 2.0m0 -2.0l-2.0 2.0M289.9 123.4l2.0 2.0m0 -2.0l-2.0 2.0M290.3 128.8l2.0 2.0m0 -2.0l-2.0 2.0M290.7 118.8l2.0 2.0m0 -2.0l-2.0 2.0M291.2 118.0l2.0 2.0m0 -2.0l-2.0 2.0M291.6 120.1l2.0 2.0m0 -2.0l-2.0 2.0M292.0 122.1l2.0 2.0m0 -2.0l-2.0 2.0M292.4 113.1l2.0 2.0m0 -2.0l-2.0 2.0M292.9 116.5l2.0 2.0m0 -2.0l-2.0 2.0M293.3 113.9l2.0 2.0m0 -2.0l-2.0 2.0M293.7 112.4l2.0 2.0m0 -2.0l-2.0 2.0M294.1 118.1l2.0 2.0m0 -2.0l-2.0 2.0M294.6 113.6l2.0 2.0m0 -2.0l-2.0 2.0M295.0 116.6l2.0 2.0m0 -2.0l-2.0 2.0M295.4 115.7l2.0 2.0m0 -2.0l-2.0 2.0M295.8 115.5l2.0 2.0m0 -2.0l-2.0 2.0M296.3 114.9l2.0 2.0m0 -2.0l-2.0 2.0M296.7 111.2l2.0 2.0m0 -2.0l-2.0 2.0M297.1 113.9l2.0 2.0m0 -2.0l-2.0 2.0M297.5 114.5l2.0 2.0m0 -2.0l-2.0 2.0M298.0 114.6l2.0 2.0m0 -2.0l-2.0 2.0M298.4 112.3l2.0 2.0m0 -2.0l-2.0 2.0M298.8 115.9l2.0 2.0m0 -2.0l-2.0 2.0M299.2 114.3l2.0 2.0m0 -2.0l-2.0 2.0M299.7 112.6l2.0 2.0m0 -2.0l-2.0 2.0M300.1 113.9l2.0 2.0m0 -2.0l-2.0 2.0M300.5 112.2l2.0 2.0m0 -2.0l-2.0 2.0M300.9 113.5l2.0 2.0m0 -2.0l-2.0 2.0M301.4 105.1l2.0 2.0m0 -2.0l-2.0 2.0M301.8 107.0l2.0 2.0m0 -2.0l-2.0 2.0M302.2 109.5l2.0 2.0m0 -2.0l-2.0 2.0M302.6 110.8l2.0 2.0m0 -2.0l-2.0 2.0M303.1 103.6l2.0 2.0m0 -2.0l-2.0 2.0M303.5 109.1l2.0 2.0m0 -2.0l-2.0 2.0M303.9 110.1l2.0 2.0m0 -2.0l-2.0 2.0M304.3 108.7l2.0 2.0m0 -2.0l-2.0 2.0M304.8 108.4l2.0 2.0m0 -2.0l-2.0 2.0M305.2 104.7l2.0 2.0m0 -2.0l-2.0 2.0M305.6 108.9l2.0 2.0m0 -2.0l-2.0 2.0M306.1 102.1l2.0 2.0m0 -2.0l-2.0 2.0M306.5 111.1l2.0 2.0m0 -2.0l-2.0 2.0M306.9 106.0l2.0 2.0m0 -2.0l-2.0 2.0M307.3 111.0l2.0 2.0m0 -2.0l-2.0 2.0M307.8 102.0l2.0 2.0m0 -2.0l-2.0 2.0M308.2 108.4l2.0 2.0m0 -2.0l-2.0 2.0M308.6 107.3l2.0 2.0m0 -2.0l-2.0 2.0M309.0 104.0l2.0 2.0m0 -2.0l-2.0 2.0M309.5 102.7l2.0 2.0m0 -2.0l-2.0 2.0M309.9 109.8l2.0 2.0m0 -2.0l-2.0 2.0M310.3 107.2l2.0 2.0m0 -2.0l-2.0 2.0M310.7 110.2l2.0 2.0m0 -2.0l-2.0 2.0M311.2 105.2l2.0 2.0m0 -2.0l-2.0 2.0M311.6 105.7l2.0 2.0m0 -2.0l-2.0 2.0M312.0 106.2l2.0 2.0m0 -2.0l-2.0 2.0M312.4 107.0l2.0 2.0m0 -2.0l-2.0 2.0M312.9 106.0l2.0 2.0m0 -2.0l-2.0 2.0M313.3 107.1l2.0 2.0m0 -2.0l-2.0 2.0M313.7 103.0l2.0 2.0m0 -2.0l-2.0 2.0M314.1 99.9l2.0 2.0m0 -2.0l-2.0 2.0M314.6 110.5l2.0 2.0m0 -2.0l-2.0 2.0M315.0 104.8l2.0 2.0m0 -2.0l-2.0 2.0M315.4 105.6l2.0 2.0m0 -2.0l-2.0 2.0M315.8 102.7l2.0 2.0m0 -2.0l-2.0 2.0M316.3 107.1l2.0 2.0m0 -2.0l-2.0 2.0M316.7 104.5l2.0 2.0m0 -2.0l-2.0 2.0M317.1 107.2l2.0 2.0m0 -2.0l-2.0 2.0M317.5 101.7l2.0 2.0m0 -2.0l-2.0 2.0M318.0 103.5l2.0 2.0m0 -2.0l-2.0 2.0M318.4 104.2l2.0 2.0m0 -2.0l-2.0 2.0M318.8 102.5l2.0 2.0m0 -2.0l-2.0 2.0M319.2 104.3l2.0 2.0m0 -2.0l-2.0 2.0M319.7 108.2l2.0 2.0m0 -2.0l-2.0 2.0M320.1 101.5l2.0 2.0m0 -2.0l-2.0 2.0M320.5 102.4l2.0 2.0m0 -2.0l-2.0 2.0M320.9 103.6l2.0 2.0m0 -2.0l-2.0 2.0M321.4 100.0l2.0 2.0m0 -2.0l-2.0 2.0M321.8 99.2l2.0 2.0m0 -2.0l-2.0 2.0M322.2 106.3l2.0 2.0m0 -2.0l-2.0 2.0M322.6 105.2l2.0 2.0m0 -2.0l-2.0 2.0M323.1 97.9l2.0 2.0m0 -2.0l-2.0 2.0M323.5 98.2l2.0 2.0m0 -2.0l-2.0 2.0M323.9 104.8l2.0 2.0m0 -2.0l-2.0 2.0M324.3 106.3l2.0 2.0m0 -2.0l-2.0 2.0M324.8 104.7l2.0 2.0m0 -2.0l-2.0 2.0M325.2 104.3l2.0 2.0m0 -2.0l-2.0 2.0M325.6 107.8l2.0 2.0m0 -2.0l-2.0 2.0M326.0 102.9l2.0 2.0m0 -2.0l-2.0 2.0M326.5 107.0l2.0 2.0m0 -2.0l-2.0 2.0M326.9 106.9l2.0 2.0m0 -2.0l-2.0 2.0M327.3 100.4l2.0 2.0m0 -2.0l-2.0 2.0M327.7 105.5l2.0 2.0m0 -2.0l-2.0 2.0M328.2 103.6l2.0 2.0m0 -2.0l-2.0 2.0M328.6 101.6l2.0 2.0m0 -2.0l-2.0 2.0M329.0 101.1l2.0 2.0m0 -2.0l-2.0 2.0M329.4 104.7l2.0 2.0m0 -2.0l-2.0 2.0M329.9 103.6l2.0 2.0m0 -2.0l-2.0 2.0M330.3 106.4l2.0 2.0m0 -2.0l-2.0 2.0M330.7 98.5l2.0 2.0m0 -2.0l-2.0 2.0M331.1 102.0l2.0 2.0m0 -2.0l-2.0 2.0M331.6 107.5l2.0 2.0m0 -2.0l-2.0 2.0M332.0 104.2l2.0 2.0m0 -2.0l-2.0 2.0M332.4 102.1l2.0 2.0m0 -2.0l-2.0 2.0M332.8 102.9l2.0 2.0m0 -2.0l-2.0 2.0M333.3 98.8l2.0 2.0m0 -2.0l-2.0 2.0M333.7 100.3l2.0 2.0m0 -2.0l-2.0 2.0M334.1 106.3l2.0 2.0m0 -2.0l-2.0 2.0M334.5 105.0l2.0 2.0m0 -2.0l-2.0 2.0M335.0 108.8l2.0 2.0m0 -2.0l-2.0 2.0M335.4 104.1l2.0 2.0m0 -2.0l-2.0 2.0M335.8 104.5l2.0 2.0m0 -2.0l-2.0 2.0M336.2 96.5l2.0 2.0m0 -2.0l-2.0 2.0M336.7 104.5l2.0 2.0m0 -2.0l-2.0 2.0M337.1 111.3l2.0 2.0m0 -2.0l-2.0 2.0M337.5 106.8l2.0 2.0m0 -2.0l-2.0 2.0M337.9 104.3l2.0 2.0m0 -2.0l-2.0 2.0M338.4 108.5l2.0 2.0m0 -2.0l-2.0 2.0M338.8 107.3l2.0 2.0m0 -2.0l-2.0 2.0M339.2 105.7l2.0 2.0m0 -2.0l-2.0 2.0M339.6 103.4l2.0 2.0m0 -2.0l-2.0 2.0M340.1 104.9l2.0 2.0m0 -2.0l-2.0 2.0M340.5 107.1l2.0 2.0m0 -2.0l-2.0 2.0M340.9 101.9l2.0 2.0m0 -2.0l-2.0 2.0M341.3 106.0l2.0 2.0m0 -2.0l-2.0 2.0M341.8 105.8l2.0 2.0m0 -2.0l-2.0 2.0M342.2 108.5l2.0 2.0m0 -2.0l-2.0 2.0M342.6 106.6l2.0 2.0m0 -2.0l-2.0 2.0M343.0 102.1l2.0 2.0m0 -2.0l-2.0 2.0M343.5 109.1l2.0 2.0m0 -2.0l-2.0 2.0M343.9 104.2l2.0 2.0m0 -2.0l-2.0 2.0M344.3 101.7l2.0 2.0m0 -2.0l-2.0 2.0M344.7 105.0l2.0 2.0m0 -2.0l-2.0 2.0M345.2 103.1l2.0 2.0m0 -2.0l-2.0 2.0M345.6 107.2l2.0 2.0m0 -2.0l-2.0 2.0M346.0 99.7l2.0 2.0m0 -2.0l-2.0 2.0M346.4 100.3l2.0 2.0m0 -2.0l-2.0 2.0M346.9 102.9l2.0 2.0m0 -2.0l-2.0 2.0M347.3 109.0l2.0 2.0m0 -2.0l-2.0 2.0M347.7 106.5l2.0 2.0m0 -2.0l-2.0 2.0M348.1 99.9l2.0 2.0m0 -2.0l-2.0 2.0M348.6 97.3l2.0 2.0m0 -2.0l-2.0 2.0M349.0 101.4l2.0 2.0m0 -2.0l-2.0 2.0M349.4 98.1l2.0 2.0m0 -2.0l-2.0 2.0M349.8 103.5l2.0 2.0m0 -2.0l-2.0 2.0M350.3 101.9l2.0 2.0m0 -2.0l-2.0 2.0M350.7 101.0l2.0 2.0m0 -2.0l-2.0 2.0M351.1 99.3l2.0 2.0m0 -2.0l-2.0 2.0M351.5 105.1l2.0 2.0m0 -2.0l-2.0 2.0M352.0 97.1l2.0 2.0m0 -2.0l-2.0 2.0M352.4 95.6l2.0 2.0m0 -2.0l-2.0 2.0M352.8 102.9l2.0 2.0m0 -2.0l-2.0 2.0M353.2 103.2l2.0 2.0m0 -2.0l-2.0 2.0M353.7 97.6l2.0 2.0m0 -2.0l-2.0 2.0M354.1 100.4l2.0 2.0m0 -2.0l-2.0 2.0M354.5 105.4l2.0 2.0m0 -2.0l-2.0 2.0M354.9 95.2l2.0 2.0m0 -2.0l-2.0 2.0M355.4 96.9l2.0 2.0m0 -2.0l-2.0 2.0M355.8 98.5l2.0 2.0m0 -2.0l-2.0 2.0M356.2 90.2l2.0 2.0m0 -2.0l-2.0 2.0M356.6 96.0l2.0 2.0m0 -2.0l-2.0 2.0M357.1 98.4l2.0 2.0m0 -2.0l-2.0 2.0M357.5 95.4l2.0 2.0m0 -2.0l-2.0 2.0M357.9 98.7l2.0 2.0m0 -2.0l-2.0 2.0M358.3 97.5l2.0 2.0m0 -2.0l-2.0 2.0M358.8 93.6l2.0 2.0m0 -2.0l-2.0 2.0M359.2 96.3l2.0 2.0m0 -2.0l-2.0 2.0M359.6 95.8l2.0 2.0m0 -2.0l-2.0 2.0M360.0 89.0l2.0 2.0m0 -2.0l-2.0 2.0M360.5 91.4l2.0 2.0m0 -2.0l-2.0 2.0M360.9 91.4l2.0 2.0m0 -2.0l-2.0 2.0M361.3 92.1l2.0 2.0m0 -2.0l-2.0 2.0M361.7 92.1l2.0 2.0m0 -2.0l-2.0 2.0M362.2 89.0l2.0 2.0m0 -2.0l-2.0 2.0M362.6 93.4l2.0 2.0m0 -2.0l-2.0 2.0M363.0 87.4l2.0 2.0m0 -2.0l-2.0 2.0M363.4 96.0l2.0 2.0m0 -2.0l-2.0 2.0M363.9 93.7l2.0 2.0m0 -2.0l-2.0 2.0M364.3 97.0l2.0 2.0m0 -2.0l-2.0 2.0M364.7 93.6l2.0 2.0m0 -2.0l-2.0 2.0M365.1 90.8l2.0 2.0m0 -2.0l-2.0 2.0M365.6 87.8l2.0 2.0m0 -2.0l-2.0 2.0M366.0 94.2l2.0 2.0m0 -2.0l-2.0 2.0M366.4 92.0l2.0 2.0m0 -2.0l-2.0 2.0M366.8 92.9l2.0 2.0m0 -2.0l-2.0 2.0M367.3 94.0l2.0 2.0m0 -2.0l-2.0 2.0M367.7 95.2l2.0 2.0m0 -2.0l-2.0 2.0M368.1 91.2l2.0 2.0m0 -2.0l-2.0 2.0M368.5 96.6l2.0 2.0m0 -2.0l-2.0 2.0M369.0 90.7l2.0 2.0m0 -2.0l-2.0 2.0M369.4 90.9l2.0 2.0m0 -2.0l-2.0 2.0M369.8 92.8l2.0 2.0m0 -2.0l-2.0 2.0M370.2 93.8l2.0 2.0m0 -2.0l-2.0 2.0M370.7 94.8l2.0 2.0m0 -2.0l-2.0 2.0M371.1 84.5l2.0 2.0m0 -2.0l-2.0 2.0M371.5 94.4l2.0 2.0m0 -2.0l-2.0 2.0M371.9 85.3l2.0 2.0m0 -2.0l-2.0 2.0M372.4 88.1l2.0 2.0m0 -2.0l-2.0 2.0M372.8 91.0l2.0 2.0m0 -2.0l-2.0 2.0M373.2 93.4l2.0 2.0m0 -2.0l-2.0 2.0M373.7 86.4l2.0 2.0m0 -2.0l-2.0 2.0M374.1 84.2l2.0 2.0m0 -2.0l-2.0 2.0M374.5 92.3l2.0 2.0m0 -2.0l-2.0 2.0M374.9 90.2l2.0 2.0m0 -2.0l-2.0 2.0M375.4 85.9l2.0 2.0m0 -2.0l-2.0 2.0M375.8 88.0l2.0 2.0m0 -2.0l-2.0 2.0M376.2 82.7l2.0 2.0m0 -2.0l-2.0 2.0M376.6 90.6l2.0 2.0m0 -2.0l-2.0 2.0M377.1 87.0l2.0 2.0m0 -2.0l-2.0 2.0M377.5 92.5l2.0 2.0m0 -2.0l-2.0 2.0M377.9 82.0l2.0 2.0m0 -2.0l-2.0 2.0M378.3 90.6l2.0 2.0m0 -2.0l-2.0 2.0M378.8 95.1l2.0 2.0m0 -2.0l-2.0 2.0M379.2 88.5l2.0 2.0m0 -2.0l-2.0 2.0M379.6 88.4l2.0 2.0m0 -2.0l-2.0 2.0M380.0 81.9l2.0 2.0m0 -2.0l-2.0 2.0M380.5 88.8l2.0 2.0m0 -2.0l-2.0 2.0M380.9 87.7l2.0 2.0m0 -2.0l-2.0 2.0M381.3 85.7l2.0 2.0m0 -2.0l-2.0 2.0M381.7 82.5l2.0 2.0m0 -2.0l-2.0 2.0M382.2 87.5l2.0 2.0m0 -2.0l-2.0 2.0M382.6 84.0l2.0 2.0m0 -2.0l-2.0 2.0M383.0 85.5l2.0 2.0m0 -2.0l-2.0 2.0M383.4 87.9l2.0 2.0m0 -2.0l-2.0 2.0M383.9 86.7l2.0 2.0m0 -2.0l-2.0 2.0M384.3 86.8l2.0 2.0m0 -2.0l-2.0 2.0M384.7 89.6l2.0 2.0m0 -2.0l-2.0 2.0M385.1 82.9l2.0 2.0m0 -2.0l-2.0 2.0M385.6 90.9l2.0 2.0m0 -2.0l-2.0 2.0M386.0 82.9l2.0 2.0m0 -2.0l-2.0 2.0M386.4 83.5l2.0 2.0m0 -2.0l-2.0 2.0M386.8 86.6l2.0 2.0m0 -2.0l-2.0 2.0M387.3 88.6l2.0 2.0m0 -2.0l-2.0 2.0M387.7 86.9l2.0 2.0m0 -2.0l-2.0 2.0M388.1 84.6l2.0 2.0m0 -2.0l-2.0 2.0M388.5 83.7l2.0 2.0m0 -2.0l-2.0 2.0M389.0 85.0l2.0 2.0m0 -2.0l-2.0 2.0M389.4 82.8l2.0 2.0m0 -2.0l-2.0 2.0M389.8 87.5l2.0 2.0m0 -2.0l-2.0 2.0M390.2 85.0l2.0 2.0m0 -2.0l-2.0 2.0M390.7 90.5l2.0 2.0m0 -2.0l-2.0 2.0M391.1 83.2l2.0 2.0m0 -2.0l-2.0 2.0M391.5 85.0l2.0 2.0m0 -2.0l-2.0 2.0M391.9 86.6l2.0 2.0m0 -2.0l-2.0 2.0M392.4 81.7l2.0 2.0m0 -2.0l-2.0 2.0M392.8 83.0l2.0 2.0m0 -2.0l-2.0 2.0M393.2 93.9l2.0 2.0m0 -2.0l-2.0 2.0M393.6 84.9l2.0 2.0m0 -2.0l-2.0 2.0M394.1 89.5l2.0 2.0m0 -2.0l-2.0 2.0M394.5 81.4l2.0 2.0m0 -2.0l-2.0 2.0M394.9 76.8l2.0 2.0m0 -2.0l-2.0 2.0M395.3 85.9l2.0 2.0m0 -2.0l-2.0 2.0M395.8 83.8l2.0 2.0m0 -2.0l-2.0 2.0M396.2 84.6l2.0 2.0m0 -2.0l-2.0 2.0M396.6 82.6l2.0 2.0m0 -2.0l-2.0 2.0M397.0 81.4l2.0 2.0m0 -2.0l-2.0 2.0M397.5 79.2l2.0 2.0m0 -2.0l-2.0 2.0M397.9 86.1l2.0 2.0m0 -2.0l-2.0 2.0M398.3 77.9l2.0 2.0m0 -2.0l-2.0 2.0M398.7 85.5l2.0 2.0m0 -2.0l-2.0 2.0M399.2 81.5l2.0 2.0m0 -2.0l-2.0 2.0M399.6 78.5l2.0 2.0m0 -2.0l-2.0 2.0M400.0 79.7l2.0 2.0m0 -2.0l-2.0 2.0M400.4 84.6l2.0 2.0m0 -2.0l-2.0 2.0M400.9 83.7l2.0 2.0m0 -2.0l-2.0 2.0M401.3 82.7l2.0 2.0m0 -2.0l-2.0 2.0M401.7 81.2l2.0 2.0m0 -2.0l-2.0 2.0M402.1 77.3l2.0 2.0m0 -2.0l-2.0 2.0M402.6 84.6l2.0 2.0m0 -2.0l-2.0 2.0M403.0 79.0l2.0 2.0m0 -2.0l-2.0 2.0M403.4 78.3l2.0 2.0m0 -2.0l-2.0 2.0M403.8 78.2l2.0 2.0m0 -2.0l-2.0 2.0M404.3 78.3l2.0 2.0m0 -2.0l-2.0 2.0M404.7 74.8l2.0 2.0m0 -2.0l-2.0 2.0M405.1 77.8l2.0 2.0m0 -2.0l-2.0 2.0M405.5 76.5l2.0 2.0m0 -2.0l-2.0 2.0M406.0 77.4l2.0 2.0m0 -2.0l-2.0 2.0M406.4 73.8l2.0 2.0m0 -2.0l-2.0 2.0M406.8 85.4l2.0 2.0m0 -2.0l-2.0 2.0M407.2 75.8l2.0 2.0m0 -2.0l-2.0 2.0M407.7 80.8l2.0 2.0m0 -2.0l-2.0 2.0M408.1 81.0l2.0 2.0m0 -2.0l-2.0 2.0M408.5 83.4l2.0 2.0m0 -2.0l-2.0 2.0M408.9 86.4l2.0 2.0m0 -2.0l-2.0 2.0M409.4 82.0l2.0 2.0m0 -2.0l-2.0 2.0M409.8 83.1l2.0 2.0m0 -2.0l-2.0 2.0M410.2 79.7l2.0 2.0m0 -2.0l-2.0 2.0M410.6 86.0l2.0 2.0m0 -2.0l-2.0 2.0M411.1 77.2l2.0 2.0m0 -2.0l-2.0 2.0M411.5 81.0l2.0 2.0m0 -2.0l-2.0 2.0M411.9 82.8l2.0 2.0m0 -2.0l-2.0 2.0M412.3 84.5l2.0 2.0m0 -2.0l-2.0 2.0M412.8 84.9l2.0 2.0m0 -2.0l-2.0 2.0M413.2 86.0l2.0 2.0m0 -2.0l-2.0 2.0M413.6 84.2l2.0 2.0m0 -2.0l-2.0 2.0M414.0 82.5l2.0 2.0m0 -2.0l-2.0 2.0M414.5 83.0l2.0 2.0m0 -2.0l-2.0 2.0M414.9 86.9l2.0 2.0m0 -2.0l-2.0 2.0M415.3 83.3l2.0 2.0m0 -2.0l-2.0 2.0M415.7 85.2l2.0 2.0m0 -2.0l-2.0 2.0M416.2 81.9l2.0 2.0m0 -2.0l-2.0 2.0M416.6 76.6l2.0 2.0m0 -2.0l-2.0 2.0M417.0 80.5l2.0 2.0m0 -2.0l-2.0 2.0M417.4 83.4l2.0 2.0m0 -2.0l-2.0 2.0M417.9 87.4l2.0 2.0m0 -2.0l-2.0 2.0M418.3 86.8l2.0 2.0m0 -2.0l-2.0 2.0M418.7 87.6l2.0 2.0m0 -2.0l-2.0 2.0M419.1 80.1l2.0 2.0m0 -2.0l-2.0 2.0M419.6 84.7l2.0 2.0m0 -2.0l-2.0 2.0M420.0 82.1l2.0 2.0m0 -2.0l-2.0 2.0M420.4 84.2l2.0 2.0m0 -2.0l-2.0 2.0M420.8 82.0l2.0 2.0m0 -2.0l-2.0 2.0M421.3 77.9l2.0 2.0m0 -2.0l-2.0 2.0M421.7 84.4l2.0 2.0m0 -2.0l-2.0 2.0M422.1 83.3l2.0 2.0m0 -2.0l-2.0 2.0M422.5 84.7l2.0 2.0m0 -2.0l-2.0 2.0M423.0 79.5l2.0 2.0m0 -2.0l-2.0 2.0M423.4 85.4l2.0 2.0m0 -2.0l-2.0 2.0M423.8 85.7l2.0 2.0m0 -2.0l-2.0 2.0" stroke="#ffa500" stroke-width="1.5" fill="none" opacity="1.0"/><polyline points="311.7,109.4 314.6,110.5 317.5,111.6 320.4,112.7 323.3,113.8 326.2,114.9 329.1,115.9 332.0,116.9 334.9,117.9 337.8,118.9 340.7,119.9 343.6,120.9 346.5,121.8 349.4,122.8 352.3,123.7 355.2,124.6 358.1,125.5 361.0,126.4 363.9,127.3 366.8,128.1 369.7,129.0 372.6,129.8 375.5,130.6 378.4,131.4 381.3,132.2 384.2,133.0 387.1,133.8 390.0,134.6 392.9,135.3 395.8,136.0 398.7,136.8 401.6,137.5 404.5,138.2 407.4,138.9 410.3,139.6 413.2,140.3 416.1,140.9 419.0,141.6 421.9,142.2 424.8,142.9" stroke="#14144a" stroke-width="1.3" fill="none" opacity="1.0" stroke-dasharray="3.2,2"/><rect x="246.7" y="57.8" width="186.6" height="127.5" fill="none" stroke="#333" stroke-width="1.3"/><path d="M255.2 185.3v3.3M255.2 57.8v-3.3M330.6 185.3v3.3M330.6 57.8v-3.3M406.0 185.3v3.3M406.0 57.8v-3.3M246.7 185.3h-3.3M433.3 185.3h3.3M246.7 116.3h-3.3M433.3 116.3h3.3" stroke="#333" stroke-width="1"/><text x="248.3" y="72.8" font-family="Liberation Serif" font-weight="bold" font-size="16.2" letter-spacing="0.3">(b)</text><text x="290.2" y="52.9" font-family="Liberation Serif" font-style="italic" font-size="21" fill="#191970" stroke="#191970" stroke-width="0.55">T</text><text x="300.4" y="56.8" font-family="Liberation Serif" font-style="italic" font-size="16" fill="#191970" stroke="#191970" stroke-width="0.15">stab</text><path d="M332.4 45.3h14.5M332.4 49.2h14.5" stroke="#191970" stroke-width="1.3"/><text x="352.1" y="52.9" font-family="Liberation Serif" font-size="21.7" fill="#191970" stroke="#191970" stroke-width="0.1">3.13</text><rect x="495.3" y="57.8" width="46.0" height="127.5" fill="#fffac8"/><path d="M456.6 183.0l2.0 2.0m0 -2.0l-2.0 2.0M457.0 182.4l2.0 2.0m0 -2.0l-2.0 2.0M457.4 177.9l2.0 2.0m0 -2.0l-2.0 2.0M457.9 172.9l2.0 2.0m0 -2.0l-2.0 2.0M458.3 179.6l2.0 2.0m0 -2.0l-2.0 2.0M458.7 174.9l2.0 2.0m0 -2.0l-2.0 2.0M459.1 175.8l2.0 2.0m0 -2.0l-2.0 2.0M459.6 177.9l2.0 2.0m0 -2.0l-2.0 2.0M460.0 175.5l2.0 2.0m0 -2.0l-2.0 2.0M460.4 174.8l2.0 2.0m0 -2.0l-2.0 2.0M460.8 175.1l2.0 2.0m0 -2.0l-2.0 2.0M461.3 169.0l2.0 2.0m0 -2.0l-2.0 2.0M461.7 176.2l2.0 2.0m0 -2.0l-2.0 2.0M462.1 170.7l2.0 2.0m0 -2.0l-2.0 2.0M462.5 170.1l2.0 2.0m0 -2.0l-2.0 2.0M463.0 171.2l2.0 2.0m0 -2.0l-2.0 2.0M463.4 169.0l2.0 2.0m0 -2.0l-2.0 2.0M463.8 166.7l2.0 2.0m0 -2.0l-2.0 2.0M464.2 167.5l2.0 2.0m0 -2.0l-2.0 2.0M464.7 166.2l2.0 2.0m0 -2.0l-2.0 2.0M465.1 164.9l2.0 2.0m0 -2.0l-2.0 2.0M465.5 169.8l2.0 2.0m0 -2.0l-2.0 2.0M465.9 161.8l2.0 2.0m0 -2.0l-2.0 2.0M466.4 159.4l2.0 2.0m0 -2.0l-2.0 2.0M466.8 161.3l2.0 2.0m0 -2.0l-2.0 2.0M467.2 160.5l2.0 2.0m0 -2.0l-2.0 2.0M467.6 164.8l2.0 2.0m0 -2.0l-2.0 2.0M468.1 161.4l2.0 2.0m0 -2.0l-2.0 2.0M468.5 162.0l2.0 2.0m0 -2.0l-2.0 2.0M468.9 160.8l2.0 2.0m0 -2.0l-2.0 2.0M469.3 156.9l2.0 2.0m0 -2.0l-2.0 2.0M469.8 159.9l2.0 2.0m0 -2.0l-2.0 2.0M470.2 157.9l2.0 2.0m0 -2.0l-2.0 2.0M470.6 160.9l2.0 2.0m0 -2.0l-2.0 2.0M471.0 156.7l2.0 2.0m0 -2.0l-2.0 2.0M471.5 155.5l2.0 2.0m0 -2.0l-2.0 2.0M471.9 156.5l2.0 2.0m0 -2.0l-2.0 2.0M472.3 155.9l2.0 2.0m0 -2.0l-2.0 2.0M472.7 149.9l2.0 2.0m0 -2.0l-2.0 2.0M473.2 155.7l2.0 2.0m0 -2.0l-2.0 2.0M473.6 154.7l2.0 2.0m0 -2.0l-2.0 2.0M474.0 153.6l2.0 2.0m0 -2.0l-2.0 2.0M474.4 148.8l2.0 2.0m0 -2.0l-2.0 2.0M474.9 146.3l2.0 2.0m0 -2.0l-2.0 2.0M475.3 149.3l2.0 2.0m0 -2.0l-2.0 2.0M475.7 151.1l2.0 2.0m0 -2.0l-2.0 2.0M476.1 150.2l2.0 2.0m0 -2.0l-2.0 2.0M476.6 146.8l2.0 2.0m0 -2.0l-2.0 2.0M477.0 150.6l2.0 2.0m0 -2.0l-2.0 2.0M477.4 145.4l2.0 2.0m0 -2.0l-2.0 2.0M477.8 145.2l2.0 2.0m0 -2.0l-2.0 2.0M478.3 147.7l2.0 2.0m0 -2.0l-2.0 2.0M478.7 146.2l2.0 2.0m0 -2.0l-2.0 2.0M479.1 145.7l2.0 2.0m0 -2.0l-2.0 2.0M479.5 143.8l2.0 2.0m0 -2.0l-2.0 2.0M480.0 148.9l2.0 2.0m0 -2.0l-2.0 2.0M480.4 144.0l2.0 2.0m0 -2.0l-2.0 2.0M480.8 146.9l2.0 2.0m0 -2.0l-2.0 2.0M481.2 147.4l2.0 2.0m0 -2.0l-2.0 2.0M481.7 145.4l2.0 2.0m0 -2.0l-2.0 2.0M482.1 145.9l2.0 2.0m0 -2.0l-2.0 2.0M482.5 147.4l2.0 2.0m0 -2.0l-2.0 2.0M482.9 148.5l2.0 2.0m0 -2.0l-2.0 2.0M483.4 147.1l2.0 2.0m0 -2.0l-2.0 2.0M483.8 142.0l2.0 2.0m0 -2.0l-2.0 2.0M484.2 140.8l2.0 2.0m0 -2.0l-2.0 2.0M484.6 143.4l2.0 2.0m0 -2.0l-2.0 2.0M485.1 142.2l2.0 2.0m0 -2.0l-2.0 2.0M485.5 145.6l2.0 2.0m0 -2.0l-2.0 2.0M485.9 144.5l2.0 2.0m0 -2.0l-2.0 2.0M486.3 143.7l2.0 2.0m0 -2.0l-2.0 2.0M486.8 146.4l2.0 2.0m0 -2.0l-2.0 2.0M487.2 146.1l2.0 2.0m0 -2.0l-2.0 2.0M487.6 143.7l2.0 2.0m0 -2.0l-2.0 2.0M488.0 144.4l2.0 2.0m0 -2.0l-2.0 2.0M488.5 145.8l2.0 2.0m0 -2.0l-2.0 2.0M488.9 142.3l2.0 2.0m0 -2.0l-2.0 2.0M489.3 142.9l2.0 2.0m0 -2.0l-2.0 2.0M489.7 139.4l2.0 2.0m0 -2.0l-2.0 2.0M490.2 140.8l2.0 2.0m0 -2.0l-2.0 2.0M490.6 140.6l2.0 2.0m0 -2.0l-2.0 2.0M491.0 138.9l2.0 2.0m0 -2.0l-2.0 2.0M491.4 138.8l2.0 2.0m0 -2.0l-2.0 2.0M491.9 139.0l2.0 2.0m0 -2.0l-2.0 2.0M492.3 137.7l2.0 2.0m0 -2.0l-2.0 2.0M492.7 134.5l2.0 2.0m0 -2.0l-2.0 2.0M493.1 135.6l2.0 2.0m0 -2.0l-2.0 2.0M493.6 135.3l2.0 2.0m0 -2.0l-2.0 2.0M494.0 142.5l2.0 2.0m0 -2.0l-2.0 2.0M494.4 140.8l2.0 2.0m0 -2.0l-2.0 2.0M494.8 141.9l2.0 2.0m0 -2.0l-2.0 2.0M495.3 141.3l2.0 2.0m0 -2.0l-2.0 2.0M495.7 142.8l2.0 2.0m0 -2.0l-2.0 2.0M496.1 143.1l2.0 2.0m0 -2.0l-2.0 2.0M496.5 140.6l2.0 2.0m0 -2.0l-2.0 2.0M497.0 142.0l2.0 2.0m0 -2.0l-2.0 2.0M497.4 145.0l2.0 2.0m0 -2.0l-2.0 2.0M497.8 140.0l2.0 2.0m0 -2.0l-2.0 2.0M498.2 140.9l2.0 2.0m0 -2.0l-2.0 2.0M498.7 144.3l2.0 2.0m0 -2.0l-2.0 2.0M499.1 141.5l2.0 2.0m0 -2.0l-2.0 2.0M499.5 144.9l2.0 2.0m0 -2.0l-2.0 2.0M499.9 141.2l2.0 2.0m0 -2.0l-2.0 2.0M500.4 144.1l2.0 2.0m0 -2.0l-2.0 2.0M500.8 145.4l2.0 2.0m0 -2.0l-2.0 2.0M501.2 144.7l2.0 2.0m0 -2.0l-2.0 2.0M501.6 145.6l2.0 2.0m0 -2.0l-2.0 2.0M502.1 143.7l2.0 2.0m0 -2.0l-2.0 2.0M502.5 143.9l2.0 2.0m0 -2.0l-2.0 2.0M502.9 144.3l2.0 2.0m0 -2.0l-2.0 2.0M503.3 145.7l2.0 2.0m0 -2.0l-2.0 2.0M503.8 152.2l2.0 2.0m0 -2.0l-2.0 2.0M504.2 144.6l2.0 2.0m0 -2.0l-2.0 2.0M504.6 148.9l2.0 2.0m0 -2.0l-2.0 2.0M505.0 144.6l2.0 2.0m0 -2.0l-2.0 2.0M505.5 142.9l2.0 2.0m0 -2.0l-2.0 2.0M505.9 144.8l2.0 2.0m0 -2.0l-2.0 2.0M506.3 146.3l2.0 2.0m0 -2.0l-2.0 2.0M506.7 146.0l2.0 2.0m0 -2.0l-2.0 2.0M507.2 146.0l2.0 2.0m0 -2.0l-2.0 2.0M507.6 147.0l2.0 2.0m0 -2.0l-2.0 2.0M508.0 147.2l2.0 2.0m0 -2.0l-2.0 2.0M508.5 148.0l2.0 2.0m0 -2.0l-2.0 2.0M508.9 143.8l2.0 2.0m0 -2.0l-2.0 2.0M509.3 146.4l2.0 2.0m0 -2.0l-2.0 2.0M509.7 144.5l2.0 2.0m0 -2.0l-2.0 2.0M510.2 147.2l2.0 2.0m0 -2.0l-2.0 2.0M510.6 146.6l2.0 2.0m0 -2.0l-2.0 2.0M511.0 147.3l2.0 2.0m0 -2.0l-2.0 2.0M511.4 146.1l2.0 2.0m0 -2.0l-2.0 2.0M511.9 145.5l2.0 2.0m0 -2.0l-2.0 2.0M512.3 146.9l2.0 2.0m0 -2.0l-2.0 2.0M512.7 148.9l2.0 2.0m0 -2.0l-2.0 2.0M513.1 149.3l2.0 2.0m0 -2.0l-2.0 2.0M513.6 144.4l2.0 2.0m0 -2.0l-2.0 2.0M514.0 148.5l2.0 2.0m0 -2.0l-2.0 2.0M514.4 148.7l2.0 2.0m0 -2.0l-2.0 2.0M514.8 145.2l2.0 2.0m0 -2.0l-2.0 2.0M515.3 146.1l2.0 2.0m0 -2.0l-2.0 2.0M515.7 147.4l2.0 2.0m0 -2.0l-2.0 2.0M516.1 149.5l2.0 2.0m0 -2.0l-2.0 2.0M516.5 143.9l2.0 2.0m0 -2.0l-2.0 2.0M517.0 148.1l2.0 2.0m0 -2.0l-2.0 2.0M517.4 147.9l2.0 2.0m0 -2.0l-2.0 2.0M517.8 149.6l2.0 2.0m0 -2.0l-2.0 2.0M518.2 152.3l2.0 2.0m0 -2.0l-2.0 2.0M518.7 152.3l2.0 2.0m0 -2.0l-2.0 2.0M519.1 148.8l2.0 2.0m0 -2.0l-2.0 2.0M519.5 149.0l2.0 2.0m0 -2.0l-2.0 2.0M519.9 150.4l2.0 2.0m0 -2.0l-2.0 2.0M520.4 152.5l2.0 2.0m0 -2.0l-2.0 2.0M520.8 153.2l2.0 2.0m0 -2.0l-2.0 2.0M521.2 151.1l2.0 2.0m0 -2.0l-2.0 2.0M521.6 153.5l2.0 2.0m0 -2.0l-2.0 2.0M522.1 148.8l2.0 2.0m0 -2.0l-2.0 2.0M522.5 148.5l2.0 2.0m0 -2.0l-2.0 2.0M522.9 145.3l2.0 2.0m0 -2.0l-2.0 2.0M523.3 149.6l2.0 2.0m0 -2.0l-2.0 2.0M523.8 152.8l2.0 2.0m0 -2.0l-2.0 2.0M524.2 153.7l2.0 2.0m0 -2.0l-2.0 2.0M524.6 159.3l2.0 2.0m0 -2.0l-2.0 2.0M525.0 153.6l2.0 2.0m0 -2.0l-2.0 2.0M525.5 153.0l2.0 2.0m0 -2.0l-2.0 2.0M525.9 150.8l2.0 2.0m0 -2.0l-2.0 2.0M526.3 151.8l2.0 2.0m0 -2.0l-2.0 2.0M526.7 152.1l2.0 2.0m0 -2.0l-2.0 2.0M527.2 153.1l2.0 2.0m0 -2.0l-2.0 2.0M527.6 152.5l2.0 2.0m0 -2.0l-2.0 2.0M528.0 151.1l2.0 2.0m0 -2.0l-2.0 2.0M528.4 156.5l2.0 2.0m0 -2.0l-2.0 2.0M528.9 155.5l2.0 2.0m0 -2.0l-2.0 2.0M529.3 157.6l2.0 2.0m0 -2.0l-2.0 2.0M529.7 151.6l2.0 2.0m0 -2.0l-2.0 2.0M530.1 152.4l2.0 2.0m0 -2.0l-2.0 2.0M530.6 153.7l2.0 2.0m0 -2.0l-2.0 2.0M531.0 157.9l2.0 2.0m0 -2.0l-2.0 2.0M531.4 155.2l2.0 2.0m0 -2.0l-2.0 2.0M531.8 156.2l2.0 2.0m0 -2.0l-2.0 2.0M532.3 155.8l2.0 2.0m0 -2.0l-2.0 2.0M532.7 156.5l2.0 2.0m0 -2.0l-2.0 2.0M533.1 155.2l2.0 2.0m0 -2.0l-2.0 2.0M533.5 157.2l2.0 2.0m0 -2.0l-2.0 2.0M534.0 154.8l2.0 2.0m0 -2.0l-2.0 2.0M534.4 156.3l2.0 2.0m0 -2.0l-2.0 2.0M534.8 157.5l2.0 2.0m0 -2.0l-2.0 2.0M535.2 157.3l2.0 2.0m0 -2.0l-2.0 2.0M535.7 158.2l2.0 2.0m0 -2.0l-2.0 2.0M536.1 155.7l2.0 2.0m0 -2.0l-2.0 2.0M536.5 158.2l2.0 2.0m0 -2.0l-2.0 2.0M536.9 157.2l2.0 2.0m0 -2.0l-2.0 2.0M537.4 158.7l2.0 2.0m0 -2.0l-2.0 2.0M537.8 161.2l2.0 2.0m0 -2.0l-2.0 2.0M538.2 156.4l2.0 2.0m0 -2.0l-2.0 2.0M538.6 160.6l2.0 2.0m0 -2.0l-2.0 2.0M539.1 157.2l2.0 2.0m0 -2.0l-2.0 2.0M539.5 157.9l2.0 2.0m0 -2.0l-2.0 2.0M539.9 162.3l2.0 2.0m0 -2.0l-2.0 2.0M540.3 160.9l2.0 2.0m0 -2.0l-2.0 2.0M540.8 160.1l2.0 2.0m0 -2.0l-2.0 2.0M541.2 160.8l2.0 2.0m0 -2.0l-2.0 2.0M541.6 161.7l2.0 2.0m0 -2.0l-2.0 2.0M542.0 157.8l2.0 2.0m0 -2.0l-2.0 2.0M542.5 159.9l2.0 2.0m0 -2.0l-2.0 2.0M542.9 158.7l2.0 2.0m0 -2.0l-2.0 2.0M543.3 160.5l2.0 2.0m0 -2.0l-2.0 2.0M543.7 159.0l2.0 2.0m0 -2.0l-2.0 2.0M544.2 161.3l2.0 2.0m0 -2.0l-2.0 2.0M544.6 159.9l2.0 2.0m0 -2.0l-2.0 2.0M545.0 158.7l2.0 2.0m0 -2.0l-2.0 2.0M545.4 159.9l2.0 2.0m0 -2.0l-2.0 2.0M545.9 161.1l2.0 2.0m0 -2.0l-2.0 2.0M546.3 162.5l2.0 2.0m0 -2.0l-2.0 2.0M546.7 159.9l2.0 2.0m0 -2.0l-2.0 2.0M547.1 159.7l2.0 2.0m0 -2.0l-2.0 2.0M547.6 161.0l2.0 2.0m0 -2.0l-2.0 2.0M548.0 162.2l2.0 2.0m0 -2.0l-2.0 2.0M548.4 159.5l2.0 2.0m0 -2.0l-2.0 2.0M548.8 155.6l2.0 2.0m0 -2.0l-2.0 2.0M549.3 161.5l2.0 2.0m0 -2.0l-2.0 2.0M549.7 160.2l2.0 2.0m0 -2.0l-2.0 2.0M550.1 160.2l2.0 2.0m0 -2.0l-2.0 2.0M550.5 166.4l2.0 2.0m0 -2.0l-2.0 2.0M551.0 160.9l2.0 2.0m0 -2.0l-2.0 2.0M551.4 162.7l2.0 2.0m0 -2.0l-2.0 2.0M551.8 158.5l2.0 2.0m0 -2.0l-2.0 2.0M552.2 162.0l2.0 2.0m0 -2.0l-2.0 2.0M552.7 163.2l2.0 2.0m0 -2.0l-2.0 2.0M553.1 162.1l2.0 2.0m0 -2.0l-2.0 2.0M553.5 161.4l2.0 2.0m0 -2.0l-2.0 2.0M553.9 163.0l2.0 2.0m0 -2.0l-2.0 2.0M554.4 162.0l2.0 2.0m0 -2.0l-2.0 2.0M554.8 164.8l2.0 2.0m0 -2.0l-2.0 2.0M555.2 162.6l2.0 2.0m0 -2.0l-2.0 2.0M555.6 160.6l2.0 2.0m0 -2.0l-2.0 2.0M556.1 158.2l2.0 2.0m0 -2.0l-2.0 2.0M556.5 160.9l2.0 2.0m0 -2.0l-2.0 2.0M556.9 161.9l2.0 2.0m0 -2.0l-2.0 2.0M557.3 160.1l2.0 2.0m0 -2.0l-2.0 2.0M557.8 160.5l2.0 2.0m0 -2.0l-2.0 2.0M558.2 159.3l2.0 2.0m0 -2.0l-2.0 2.0M558.6 160.6l2.0 2.0m0 -2.0l-2.0 2.0M559.0 163.1l2.0 2.0m0 -2.0l-2.0 2.0M559.5 162.4l2.0 2.0m0 -2.0l-2.0 2.0M559.9 162.7l2.0 2.0m0 -2.0l-2.0 2.0M560.3 162.5l2.0 2.0m0 -2.0l-2.0 2.0M560.7 162.8l2.0 2.0m0 -2.0l-2.0 2.0M561.2 165.0l2.0 2.0m0 -2.0l-2.0 2.0M561.6 167.8l2.0 2.0m0 -2.0l-2.0 2.0M562.0 164.9l2.0 2.0m0 -2.0l-2.0 2.0M562.4 167.8l2.0 2.0m0 -2.0l-2.0 2.0M562.9 163.5l2.0 2.0m0 -2.0l-2.0 2.0M563.3 163.8l2.0 2.0m0 -2.0l-2.0 2.0M563.7 167.3l2.0 2.0m0 -2.0l-2.0 2.0M564.1 162.5l2.0 2.0m0 -2.0l-2.0 2.0M564.6 162.2l2.0 2.0m0 -2.0l-2.0 2.0M565.0 163.9l2.0 2.0m0 -2.0l-2.0 2.0M565.4 160.8l2.0 2.0m0 -2.0l-2.0 2.0M565.8 160.4l2.0 2.0m0 -2.0l-2.0 2.0M566.3 166.9l2.0 2.0m0 -2.0l-2.0 2.0M566.7 162.3l2.0 2.0m0 -2.0l-2.0 2.0M567.1 163.6l2.0 2.0m0 -2.0l-2.0 2.0M567.5 163.8l2.0 2.0m0 -2.0l-2.0 2.0M568.0 162.8l2.0 2.0m0 -2.0l-2.0 2.0M568.4 166.3l2.0 2.0m0 -2.0l-2.0 2.0M568.8 166.1l2.0 2.0m0 -2.0l-2.0 2.0M569.2 166.7l2.0 2.0m0 -2.0l-2.0 2.0M569.7 166.6l2.0 2.0m0 -2.0l-2.0 2.0M570.1 165.4l2.0 2.0m0 -2.0l-2.0 2.0M570.5 168.3l2.0 2.0m0 -2.0l-2.0 2.0M570.9 167.5l2.0 2.0m0 -2.0l-2.0 2.0M571.4 164.2l2.0 2.0m0 -2.0l-2.0 2.0M571.8 165.7l2.0 2.0m0 -2.0l-2.0 2.0M572.2 164.8l2.0 2.0m0 -2.0l-2.0 2.0M572.6 169.6l2.0 2.0m0 -2.0l-2.0 2.0M573.1 167.4l2.0 2.0m0 -2.0l-2.0 2.0M573.5 167.0l2.0 2.0m0 -2.0l-2.0 2.0M573.9 165.9l2.0 2.0m0 -2.0l-2.0 2.0M574.3 167.3l2.0 2.0m0 -2.0l-2.0 2.0M574.8 164.2l2.0 2.0m0 -2.0l-2.0 2.0M575.2 166.3l2.0 2.0m0 -2.0l-2.0 2.0M575.6 166.3l2.0 2.0m0 -2.0l-2.0 2.0M576.1 166.4l2.0 2.0m0 -2.0l-2.0 2.0M576.5 165.0l2.0 2.0m0 -2.0l-2.0 2.0M576.9 167.5l2.0 2.0m0 -2.0l-2.0 2.0M577.3 164.3l2.0 2.0m0 -2.0l-2.0 2.0M577.8 165.8l2.0 2.0m0 -2.0l-2.0 2.0M578.2 166.5l2.0 2.0m0 -2.0l-2.0 2.0M578.6 166.8l2.0 2.0m0 -2.0l-2.0 2.0M579.0 165.9l2.0 2.0m0 -2.0l-2.0 2.0M579.5 165.0l2.0 2.0m0 -2.0l-2.0 2.0M579.9 165.2l2.0 2.0m0 -2.0l-2.0 2.0M580.3 166.5l2.0 2.0m0 -2.0l-2.0 2.0M580.7 165.5l2.0 2.0m0 -2.0l-2.0 2.0M581.2 167.2l2.0 2.0m0 -2.0l-2.0 2.0M581.6 164.9l2.0 2.0m0 -2.0l-2.0 2.0M582.0 167.7l2.0 2.0m0 -2.0l-2.0 2.0M582.4 172.0l2.0 2.0m0 -2.0l-2.0 2.0M582.9 165.0l2.0 2.0m0 -2.0l-2.0 2.0M583.3 167.7l2.0 2.0m0 -2.0l-2.0 2.0M583.7 170.4l2.0 2.0m0 -2.0l-2.0 2.0M584.1 168.5l2.0 2.0m0 -2.0l-2.0 2.0M584.6 170.0l2.0 2.0m0 -2.0l-2.0 2.0M585.0 163.9l2.0 2.0m0 -2.0l-2.0 2.0M585.4 167.3l2.0 2.0m0 -2.0l-2.0 2.0M585.8 171.7l2.0 2.0m0 -2.0l-2.0 2.0M586.3 167.4l2.0 2.0m0 -2.0l-2.0 2.0M586.7 169.4l2.0 2.0m0 -2.0l-2.0 2.0M587.1 164.7l2.0 2.0m0 -2.0l-2.0 2.0M587.5 170.9l2.0 2.0m0 -2.0l-2.0 2.0M588.0 173.5l2.0 2.0m0 -2.0l-2.0 2.0M588.4 168.8l2.0 2.0m0 -2.0l-2.0 2.0M588.8 169.7l2.0 2.0m0 -2.0l-2.0 2.0M589.2 170.0l2.0 2.0m0 -2.0l-2.0 2.0M589.7 173.6l2.0 2.0m0 -2.0l-2.0 2.0M590.1 168.3l2.0 2.0m0 -2.0l-2.0 2.0M590.5 165.8l2.0 2.0m0 -2.0l-2.0 2.0M590.9 173.3l2.0 2.0m0 -2.0l-2.0 2.0M591.4 166.9l2.0 2.0m0 -2.0l-2.0 2.0M591.8 170.6l2.0 2.0m0 -2.0l-2.0 2.0M592.2 164.6l2.0 2.0m0 -2.0l-2.0 2.0M592.6 168.6l2.0 2.0m0 -2.0l-2.0 2.0M593.1 169.9l2.0 2.0m0 -2.0l-2.0 2.0M593.5 167.3l2.0 2.0m0 -2.0l-2.0 2.0M593.9 168.5l2.0 2.0m0 -2.0l-2.0 2.0M594.3 170.9l2.0 2.0m0 -2.0l-2.0 2.0M594.8 168.3l2.0 2.0m0 -2.0l-2.0 2.0M595.2 170.8l2.0 2.0m0 -2.0l-2.0 2.0M595.6 173.5l2.0 2.0m0 -2.0l-2.0 2.0M596.0 165.7l2.0 2.0m0 -2.0l-2.0 2.0M596.5 170.6l2.0 2.0m0 -2.0l-2.0 2.0M596.9 171.2l2.0 2.0m0 -2.0l-2.0 2.0M597.3 169.3l2.0 2.0m0 -2.0l-2.0 2.0M597.7 173.3l2.0 2.0m0 -2.0l-2.0 2.0M598.2 172.9l2.0 2.0m0 -2.0l-2.0 2.0M598.6 171.2l2.0 2.0m0 -2.0l-2.0 2.0M599.0 171.3l2.0 2.0m0 -2.0l-2.0 2.0M599.4 170.1l2.0 2.0m0 -2.0l-2.0 2.0M599.9 168.0l2.0 2.0m0 -2.0l-2.0 2.0M600.3 171.3l2.0 2.0m0 -2.0l-2.0 2.0M600.7 169.4l2.0 2.0m0 -2.0l-2.0 2.0M601.1 169.2l2.0 2.0m0 -2.0l-2.0 2.0M601.6 172.7l2.0 2.0m0 -2.0l-2.0 2.0M602.0 170.1l2.0 2.0m0 -2.0l-2.0 2.0M602.4 172.5l2.0 2.0m0 -2.0l-2.0 2.0M602.8 168.4l2.0 2.0m0 -2.0l-2.0 2.0M603.3 169.7l2.0 2.0m0 -2.0l-2.0 2.0M603.7 170.7l2.0 2.0m0 -2.0l-2.0 2.0M604.1 173.5l2.0 2.0m0 -2.0l-2.0 2.0M604.5 170.6l2.0 2.0m0 -2.0l-2.0 2.0M605.0 172.4l2.0 2.0m0 -2.0l-2.0 2.0M605.4 169.4l2.0 2.0m0 -2.0l-2.0 2.0M605.8 171.2l2.0 2.0m0 -2.0l-2.0 2.0M606.2 172.7l2.0 2.0m0 -2.0l-2.0 2.0M606.7 169.1l2.0 2.0m0 -2.0l-2.0 2.0M607.1 169.6l2.0 2.0m0 -2.0l-2.0 2.0M607.5 172.4l2.0 2.0m0 -2.0l-2.0 2.0M607.9 168.8l2.0 2.0m0 -2.0l-2.0 2.0M608.4 171.9l2.0 2.0m0 -2.0l-2.0 2.0M608.8 171.9l2.0 2.0m0 -2.0l-2.0 2.0M609.2 171.1l2.0 2.0m0 -2.0l-2.0 2.0M609.6 172.9l2.0 2.0m0 -2.0l-2.0 2.0M610.1 172.3l2.0 2.0m0 -2.0l-2.0 2.0M610.5 171.8l2.0 2.0m0 -2.0l-2.0 2.0M610.9 168.4l2.0 2.0m0 -2.0l-2.0 2.0M611.3 168.5l2.0 2.0m0 -2.0l-2.0 2.0M611.8 172.2l2.0 2.0m0 -2.0l-2.0 2.0M612.2 168.3l2.0 2.0m0 -2.0l-2.0 2.0M612.6 171.8l2.0 2.0m0 -2.0l-2.0 2.0M613.0 171.0l2.0 2.0m0 -2.0l-2.0 2.0M613.5 170.0l2.0 2.0m0 -2.0l-2.0 2.0M613.9 171.2l2.0 2.0m0 -2.0l-2.0 2.0M614.3 166.9l2.0 2.0m0 -2.0l-2.0 2.0M614.7 171.4l2.0 2.0m0 -2.0l-2.0 2.0M615.2 174.4l2.0 2.0m0 -2.0l-2.0 2.0M615.6 169.2l2.0 2.0m0 -2.0l-2.0 2.0M616.0 172.8l2.0 2.0m0 -2.0l-2.0 2.0M616.4 172.6l2.0 2.0m0 -2.0l-2.0 2.0M616.9 178.2l2.0 2.0m0 -2.0l-2.0 2.0M617.3 169.9l2.0 2.0m0 -2.0l-2.0 2.0M617.7 170.3l2.0 2.0m0 -2.0l-2.0 2.0M618.1 170.3l2.0 2.0m0 -2.0l-2.0 2.0M618.6 170.0l2.0 2.0m0 -2.0l-2.0 2.0M619.0 168.5l2.0 2.0m0 -2.0l-2.0 2.0M619.4 172.1l2.0 2.0m0 -2.0l-2.0 2.0M619.8 170.1l2.0 2.0m0 -2.0l-2.0 2.0M620.3 173.6l2.0 2.0m0 -2.0l-2.0 2.0M620.7 172.8l2.0 2.0m0 -2.0l-2.0 2.0M621.1 169.9l2.0 2.0m0 -2.0l-2.0 2.0M621.5 171.3l2.0 2.0m0 -2.0l-2.0 2.0M622.0 174.9l2.0 2.0m0 -2.0l-2.0 2.0M622.4 171.4l2.0 2.0m0 -2.0l-2.0 2.0M622.8 172.5l2.0 2.0m0 -2.0l-2.0 2.0M623.2 173.8l2.0 2.0m0 -2.0l-2.0 2.0M623.7 171.3l2.0 2.0m0 -2.0l-2.0 2.0M624.1 173.0l2.0 2.0m0 -2.0l-2.0 2.0M624.5 175.4l2.0 2.0m0 -2.0l-2.0 2.0M624.9 174.5l2.0 2.0m0 -2.0l-2.0 2.0M625.4 168.5l2.0 2.0m0 -2.0l-2.0 2.0M625.8 175.3l2.0 2.0m0 -2.0l-2.0 2.0M626.2 171.8l2.0 2.0m0 -2.0l-2.0 2.0" stroke="#6495ed" stroke-width="1.5" fill="none" opacity="1.0"/><path d="M456.6 178.7l2.0 2.0m0 -2.0l-2.0 2.0M457.0 178.0l2.0 2.0m0 -2.0l-2.0 2.0M457.4 182.0l2.0 2.0m0 -2.0l-2.0 2.0M457.9 179.2l2.0 2.0m0 -2.0l-2.0 2.0M458.3 177.5l2.0 2.0m0 -2.0l-2.0 2.0M458.7 175.3l2.0 2.0m0 -2.0l-2.0 2.0M459.1 178.2l2.0 2.0m0 -2.0l-2.0 2.0M459.6 178.9l2.0 2.0m0 -2.0l-2.0 2.0M460.0 173.1l2.0 2.0m0 -2.0l-2.0 2.0M460.4 172.2l2.0 2.0m0 -2.0l-2.0 2.0M460.8 173.4l2.0 2.0m0 -2.0l-2.0 2.0M461.3 175.1l2.0 2.0m0 -2.0l-2.0 2.0M461.7 171.7l2.0 2.0m0 -2.0l-2.0 2.0M462.1 171.5l2.0 2.0m0 -2.0l-2.0 2.0M462.5 168.8l2.0 2.0m0 -2.0l-2.0 2.0M463.0 173.0l2.0 2.0m0 -2.0l-2.0 2.0M463.4 168.7l2.0 2.0m0 -2.0l-2.0 2.0M463.8 168.5l2.0 2.0m0 -2.0l-2.0 2.0M464.2 169.9l2.0 2.0m0 -2.0l-2.0 2.0M464.7 165.7l2.0 2.0m0 -2.0l-2.0 2.0M465.1 165.3l2.0 2.0m0 -2.0l-2.0 2.0M465.5 165.7l2.0 2.0m0 -2.0l-2.0 2.0M465.9 163.3l2.0 2.0m0 -2.0l-2.0 2.0M466.4 167.2l2.0 2.0m0 -2.0l-2.0 2.0M466.8 163.4l2.0 2.0m0 -2.0l-2.0 2.0M467.2 161.7l2.0 2.0m0 -2.0l-2.0 2.0M467.6 161.6l2.0 2.0m0 -2.0l-2.0 2.0M468.1 159.2l2.0 2.0m0 -2.0l-2.0 2.0M468.5 164.2l2.0 2.0m0 -2.0l-2.0 2.0M468.9 164.5l2.0 2.0m0 -2.0l-2.0 2.0M469.3 159.8l2.0 2.0m0 -2.0l-2.0 2.0M469.8 158.8l2.0 2.0m0 -2.0l-2.0 2.0M470.2 154.3l2.0 2.0m0 -2.0l-2.0 2.0M470.6 157.4l2.0 2.0m0 -2.0l-2.0 2.0M471.0 160.5l2.0 2.0m0 -2.0l-2.0 2.0M471.5 156.0l2.0 2.0m0 -2.0l-2.0 2.0M471.9 159.5l2.0 2.0m0 -2.0l-2.0 2.0M472.3 160.6l2.0 2.0m0 -2.0l-2.0 2.0M472.7 150.2l2.0 2.0m0 -2.0l-2.0 2.0M473.2 155.2l2.0 2.0m0 -2.0l-2.0 2.0M473.6 153.7l2.0 2.0m0 -2.0l-2.0 2.0M474.0 153.4l2.0 2.0m0 -2.0l-2.0 2.0M474.4 149.7l2.0 2.0m0 -2.0l-2.0 2.0M474.9 152.8l2.0 2.0m0 -2.0l-2.0 2.0M475.3 149.9l2.0 2.0m0 -2.0l-2.0 2.0M475.7 154.7l2.0 2.0m0 -2.0l-2.0 2.0M476.1 154.9l2.0 2.0m0 -2.0l-2.0 2.0M476.6 147.5l2.0 2.0m0 -2.0l-2.0 2.0M477.0 146.7l2.0 2.0m0 -2.0l-2.0 2.0M477.4 148.4l2.0 2.0m0 -2.0l-2.0 2.0M477.8 148.5l2.0 2.0m0 -2.0l-2.0 2.0M478.3 148.0l2.0 2.0m0 -2.0l-2.0 2.0M478.7 149.4l2.0 2.0m0 -2.0l-2.0 2.0M479.1 143.4l2.0 2.0m0 -2.0l-2.0 2.0M479.5 144.9l2.0 2.0m0 -2.0l-2.0 2.0M480.0 144.6l2.0 2.0m0 -2.0l-2.0 2.0M480.4 144.3l2.0 2.0m0 -2.0l-2.0 2.0M480.8 142.0l2.0 2.0m0 -2.0l-2.0 2.0M481.2 142.7l2.0 2.0m0 -2.0l-2.0 2.0M481.7 141.3l2.0 2.0m0 -2.0l-2.0 2.0M482.1 144.8l2.0 2.0m0 -2.0l-2.0 2.0M482.5 139.7l2.0 2.0m0 -2.0l-2.0 2.0M482.9 134.6l2.0 2.0m0 -2.0l-2.0 2.0M483.4 140.1l2.0 2.0m0 -2.0l-2.0 2.0M483.8 138.1l2.0 2.0m0 -2.0l-2.0 2.0M484.2 134.6l2.0 2.0m0 -2.0l-2.0 2.0M484.6 133.3l2.0 2.0m0 -2.0l-2.0 2.0M485.1 133.1l2.0 2.0m0 -2.0l-2.0 2.0M485.5 137.4l2.0 2.0m0 -2.0l-2.0 2.0M485.9 131.9l2.0 2.0m0 -2.0l-2.0 2.0M486.3 135.7l2.0 2.0m0 -2.0l-2.0 2.0M486.8 134.6l2.0 2.0m0 -2.0l-2.0 2.0M487.2 131.0l2.0 2.0m0 -2.0l-2.0 2.0M487.6 132.8l2.0 2.0m0 -2.0l-2.0 2.0M488.0 129.9l2.0 2.0m0 -2.0l-2.0 2.0M488.5 124.0l2.0 2.0m0 -2.0l-2.0 2.0M488.9 129.5l2.0 2.0m0 -2.0l-2.0 2.0M489.3 129.3l2.0 2.0m0 -2.0l-2.0 2.0M489.7 133.0l2.0 2.0m0 -2.0l-2.0 2.0M490.2 132.1l2.0 2.0m0 -2.0l-2.0 2.0M490.6 132.9l2.0 2.0m0 -2.0l-2.0 2.0M491.0 131.4l2.0 2.0m0 -2.0l-2.0 2.0M491.4 132.5l2.0 2.0m0 -2.0l-2.0 2.0M491.9 131.2l2.0 2.0m0 -2.0l-2.0 2.0M492.3 129.9l2.0 2.0m0 -2.0l-2.0 2.0M492.7 131.5l2.0 2.0m0 -2.0l-2.0 2.0M493.1 132.3l2.0 2.0m0 -2.0l-2.0 2.0M493.6 131.9l2.0 2.0m0 -2.0l-2.0 2.0M494.0 127.3l2.0 2.0m0 -2.0l-2.0 2.0M494.4 127.9l2.0 2.0m0 -2.0l-2.0 2.0M494.8 125.3l2.0 2.0m0 -2.0l-2.0 2.0M495.3 125.0l2.0 2.0m0 -2.0l-2.0 2.0M495.7 128.1l2.0 2.0m0 -2.0l-2.0 2.0M496.1 125.4l2.0 2.0m0 -2.0l-2.0 2.0M496.5 130.2l2.0 2.0m0 -2.0l-2.0 2.0M497.0 121.0l2.0 2.0m0 -2.0l-2.0 2.0M497.4 123.3l2.0 2.0m0 -2.0l-2.0 2.0M497.8 126.5l2.0 2.0m0 -2.0l-2.0 2.0M498.2 128.5l2.0 2.0m0 -2.0l-2.0 2.0M498.7 124.5l2.0 2.0m0 -2.0l-2.0 2.0M499.1 129.6l2.0 2.0m0 -2.0l-2.0 2.0M499.5 126.7l2.0 2.0m0 -2.0l-2.0 2.0M499.9 122.8l2.0 2.0m0 -2.0l-2.0 2.0M500.4 124.1l2.0 2.0m0 -2.0l-2.0 2.0M500.8 125.2l2.0 2.0m0 -2.0l-2.0 2.0M501.2 121.5l2.0 2.0m0 -2.0l-2.0 2.0M501.6 126.0l2.0 2.0m0 -2.0l-2.0 2.0M502.1 122.6l2.0 2.0m0 -2.0l-2.0 2.0M502.5 124.2l2.0 2.0m0 -2.0l-2.0 2.0M502.9 124.7l2.0 2.0m0 -2.0l-2.0 2.0M503.3 121.3l2.0 2.0m0 -2.0l-2.0 2.0M503.8 124.6l2.0 2.0m0 -2.0l-2.0 2.0M504.2 117.8l2.0 2.0m0 -2.0l-2.0 2.0M504.6 124.1l2.0 2.0m0 -2.0l-2.0 2.0M505.0 118.0l2.0 2.0m0 -2.0l-2.0 2.0M505.5 125.7l2.0 2.0m0 -2.0l-2.0 2.0M505.9 121.8l2.0 2.0m0 -2.0l-2.0 2.0M506.3 126.3l2.0 2.0m0 -2.0l-2.0 2.0M506.7 126.9l2.0 2.0m0 -2.0l-2.0 2.0M507.2 123.5l2.0 2.0m0 -2.0l-2.0 2.0M507.6 122.4l2.0 2.0m0 -2.0l-2.0 2.0M508.0 127.3l2.0 2.0m0 -2.0l-2.0 2.0M508.5 121.6l2.0 2.0m0 -2.0l-2.0 2.0M508.9 126.6l2.0 2.0m0 -2.0l-2.0 2.0M509.3 124.5l2.0 2.0m0 -2.0l-2.0 2.0M509.7 124.1l2.0 2.0m0 -2.0l-2.0 2.0M510.2 123.8l2.0 2.0m0 -2.0l-2.0 2.0M510.6 129.8l2.0 2.0m0 -2.0l-2.0 2.0M511.0 121.8l2.0 2.0m0 -2.0l-2.0 2.0M511.4 124.5l2.0 2.0m0 -2.0l-2.0 2.0M511.9 127.1l2.0 2.0m0 -2.0l-2.0 2.0M512.3 128.7l2.0 2.0m0 -2.0l-2.0 2.0M512.7 130.6l2.0 2.0m0 -2.0l-2.0 2.0M513.1 130.0l2.0 2.0m0 -2.0l-2.0 2.0M513.6 125.6l2.0 2.0m0 -2.0l-2.0 2.0M514.0 127.9l2.0 2.0m0 -2.0l-2.0 2.0M514.4 129.9l2.0 2.0m0 -2.0l-2.0 2.0M514.8 128.5l2.0 2.0m0 -2.0l-2.0 2.0M515.3 123.5l2.0 2.0m0 -2.0l-2.0 2.0M515.7 128.1l2.0 2.0m0 -2.0l-2.0 2.0M516.1 128.8l2.0 2.0m0 -2.0l-2.0 2.0M516.5 124.2l2.0 2.0m0 -2.0l-2.0 2.0M517.0 126.4l2.0 2.0m0 -2.0l-2.0 2.0M517.4 127.5l2.0 2.0m0 -2.0l-2.0 2.0M517.8 129.2l2.0 2.0m0 -2.0l-2.0 2.0M518.2 131.5l2.0 2.0m0 -2.0l-2.0 2.0M518.7 130.7l2.0 2.0m0 -2.0l-2.0 2.0M519.1 129.1l2.0 2.0m0 -2.0l-2.0 2.0M519.5 128.5l2.0 2.0m0 -2.0l-2.0 2.0M519.9 127.2l2.0 2.0m0 -2.0l-2.0 2.0M520.4 126.8l2.0 2.0m0 -2.0l-2.0 2.0M520.8 127.7l2.0 2.0m0 -2.0l-2.0 2.0M521.2 127.7l2.0 2.0m0 -2.0l-2.0 2.0M521.6 130.8l2.0 2.0m0 -2.0l-2.0 2.0M522.1 133.6l2.0 2.0m0 -2.0l-2.0 2.0M522.5 129.7l2.0 2.0m0 -2.0l-2.0 2.0M522.9 130.9l2.0 2.0m0 -2.0l-2.0 2.0M523.3 130.2l2.0 2.0m0 -2.0l-2.0 2.0M523.8 129.4l2.0 2.0m0 -2.0l-2.0 2.0M524.2 131.8l2.0 2.0m0 -2.0l-2.0 2.0M524.6 131.5l2.0 2.0m0 -2.0l-2.0 2.0M525.0 129.2l2.0 2.0m0 -2.0l-2.0 2.0M525.5 128.7l2.0 2.0m0 -2.0l-2.0 2.0M525.9 130.6l2.0 2.0m0 -2.0l-2.0 2.0M526.3 127.9l2.0 2.0m0 -2.0l-2.0 2.0M526.7 129.7l2.0 2.0m0 -2.0l-2.0 2.0M527.2 131.7l2.0 2.0m0 -2.0l-2.0 2.0M527.6 129.2l2.0 2.0m0 -2.0l-2.0 2.0M528.0 124.9l2.0 2.0m0 -2.0l-2.0 2.0M528.4 131.0l2.0 2.0m0 -2.0l-2.0 2.0M528.9 126.5l2.0 2.0m0 -2.0l-2.0 2.0M529.3 126.0l2.0 2.0m0 -2.0l-2.0 2.0M529.7 125.6l2.0 2.0m0 -2.0l-2.0 2.0M530.1 131.1l2.0 2.0m0 -2.0l-2.0 2.0M530.6 124.2l2.0 2.0m0 -2.0l-2.0 2.0M531.0 128.7l2.0 2.0m0 -2.0l-2.0 2.0M531.4 129.6l2.0 2.0m0 -2.0l-2.0 2.0M531.8 129.5l2.0 2.0m0 -2.0l-2.0 2.0M532.3 127.4l2.0 2.0m0 -2.0l-2.0 2.0M532.7 128.6l2.0 2.0m0 -2.0l-2.0 2.0M533.1 129.1l2.0 2.0m0 -2.0l-2.0 2.0M533.5 125.5l2.0 2.0m0 -2.0l-2.0 2.0M534.0 130.3l2.0 2.0m0 -2.0l-2.0 2.0M534.4 131.0l2.0 2.0m0 -2.0l-2.0 2.0M534.8 126.5l2.0 2.0m0 -2.0l-2.0 2.0M535.2 126.7l2.0 2.0m0 -2.0l-2.0 2.0M535.7 125.7l2.0 2.0m0 -2.0l-2.0 2.0M536.1 130.8l2.0 2.0m0 -2.0l-2.0 2.0M536.5 125.6l2.0 2.0m0 -2.0l-2.0 2.0M536.9 127.0l2.0 2.0m0 -2.0l-2.0 2.0M537.4 123.8l2.0 2.0m0 -2.0l-2.0 2.0M537.8 131.0l2.0 2.0m0 -2.0l-2.0 2.0M538.2 127.4l2.0 2.0m0 -2.0l-2.0 2.0M538.6 128.5l2.0 2.0m0 -2.0l-2.0 2.0M539.1 131.6l2.0 2.0m0 -2.0l-2.0 2.0M539.5 129.5l2.0 2.0m0 -2.0l-2.0 2.0M539.9 125.0l2.0 2.0m0 -2.0l-2.0 2.0M540.3 128.8l2.0 2.0m0 -2.0l-2.0 2.0M540.8 129.4l2.0 2.0m0 -2.0l-2.0 2.0M541.2 125.6l2.0 2.0m0 -2.0l-2.0 2.0M541.6 125.3l2.0 2.0m0 -2.0l-2.0 2.0M542.0 125.3l2.0 2.0m0 -2.0l-2.0 2.0M542.5 129.6l2.0 2.0m0 -2.0l-2.0 2.0M542.9 127.8l2.0 2.0m0 -2.0l-2.0 2.0M543.3 125.2l2.0 2.0m0 -2.0l-2.0 2.0M543.7 129.2l2.0 2.0m0 -2.0l-2.0 2.0M544.2 129.4l2.0 2.0m0 -2.0l-2.0 2.0M544.6 125.6l2.0 2.0m0 -2.0l-2.0 2.0M545.0 123.8l2.0 2.0m0 -2.0l-2.0 2.0M545.4 130.4l2.0 2.0m0 -2.0l-2.0 2.0M545.9 133.9l2.0 2.0m0 -2.0l-2.0 2.0M546.3 131.1l2.0 2.0m0 -2.0l-2.0 2.0M546.7 130.0l2.0 2.0m0 -2.0l-2.0 2.0M547.1 127.9l2.0 2.0m0 -2.0l-2.0 2.0M547.6 126.1l2.0 2.0m0 -2.0l-2.0 2.0M548.0 127.9l2.0 2.0m0 -2.0l-2.0 2.0M548.4 129.2l2.0 2.0m0 -2.0l-2.0 2.0M548.8 127.2l2.0 2.0m0 -2.0l-2.0 2.0M549.3 129.8l2.0 2.0m0 -2.0l-2.0 2.0M549.7 127.6l2.0 2.0m0 -2.0l-2.0 2.0M550.1 129.1l2.0 2.0m0 -2.0l-2.0 2.0M550.5 121.0l2.0 2.0m0 -2.0l-2.0 2.0M551.0 125.5l2.0 2.0m0 -2.0l-2.0 2.0M551.4 129.5l2.0 2.0m0 -2.0l-2.0 2.0M551.8 129.9l2.0 2.0m0 -2.0l-2.0 2.0M552.2 128.5l2.0 2.0m0 -2.0l-2.0 2.0M552.7 131.4l2.0 2.0m0 -2.0l-2.0 2.0M553.1 129.2l2.0 2.0m0 -2.0l-2.0 2.0M553.5 129.2l2.0 2.0m0 -2.0l-2.0 2.0M553.9 125.3l2.0 2.0m0 -2.0l-2.0 2.0M554.4 128.4l2.0 2.0m0 -2.0l-2.0 2.0M554.8 129.3l2.0 2.0m0 -2.0l-2.0 2.0M555.2 130.6l2.0 2.0m0 -2.0l-2.0 2.0M555.6 130.2l2.0 2.0m0 -2.0l-2.0 2.0M556.1 127.5l2.0 2.0m0 -2.0l-2.0 2.0M556.5 127.9l2.0 2.0m0 -2.0l-2.0 2.0M556.9 124.6l2.0 2.0m0 -2.0l-2.0 2.0M557.3 128.9l2.0 2.0m0 -2.0l-2.0 2.0M557.8 124.8l2.0 2.0m0 -2.0l-2.0 2.0M558.2 126.7l2.0 2.0m0 -2.0l-2.0 2.0M558.6 127.3l2.0 2.0m0 -2.0l-2.0 2.0M559.0 132.2l2.0 2.0m0 -2.0l-2.0 2.0M559.5 130.5l2.0 2.0m0 -2.0l-2.0 2.0M559.9 125.7l2.0 2.0m0 -2.0l-2.0 2.0M560.3 124.3l2.0 2.0m0 -2.0l-2.0 2.0M560.7 127.3l2.0 2.0m0 -2.0l-2.0 2.0M561.2 126.0l2.0 2.0m0 -2.0l-2.0 2.0M561.6 129.0l2.0 2.0m0 -2.0l-2.0 2.0M562.0 129.0l2.0 2.0m0 -2.0l-2.0 2.0M562.4 129.8l2.0 2.0m0 -2.0l-2.0 2.0M562.9 126.0l2.0 2.0m0 -2.0l-2.0 2.0M563.3 127.6l2.0 2.0m0 -2.0l-2.0 2.0M563.7 129.1l2.0 2.0m0 -2.0l-2.0 2.0M564.1 129.5l2.0 2.0m0 -2.0l-2.0 2.0M564.6 127.4l2.0 2.0m0 -2.0l-2.0 2.0M565.0 128.1l2.0 2.0m0 -2.0l-2.0 2.0M565.4 131.0l2.0 2.0m0 -2.0l-2.0 2.0M565.8 125.0l2.0 2.0m0 -2.0l-2.0 2.0M566.3 128.6l2.0 2.0m0 -2.0l-2.0 2.0M566.7 129.3l2.0 2.0m0 -2.0l-2.0 2.0M567.1 125.9l2.0 2.0m0 -2.0l-2.0 2.0M567.5 127.1l2.0 2.0m0 -2.0l-2.0 2.0M568.0 129.9l2.0 2.0m0 -2.0l-2.0 2.0M568.4 128.5l2.0 2.0m0 -2.0l-2.0 2.0M568.8 132.5l2.0 2.0m0 -2.0l-2.0 2.0M569.2 131.6l2.0 2.0m0 -2.0l-2.0 2.0M569.7 135.6l2.0 2.0m0 -2.0l-2.0 2.0M570.1 127.3l2.0 2.0m0 -2.0l-2.0 2.0M570.5 135.0l2.0 2.0m0 -2.0l-2.0 2.0M570.9 128.9l2.0 2.0m0 -2.0l-2.0 2.0M571.4 132.6l2.0 2.0m0 -2.0l-2.0 2.0M571.8 133.1l2.0 2.0m0 -2.0l-2.0 2.0M572.2 131.3l2.0 2.0m0 -2.0l-2.0 2.0M572.6 130.3l2.0 2.0m0 -2.0l-2.0 2.0M573.1 129.6l2.0 2.0m0 -2.0l-2.0 2.0M573.5 126.9l2.0 2.0m0 -2.0l-2.0 2.0M573.9 130.3l2.0 2.0m0 -2.0l-2.0 2.0M574.3 129.0l2.0 2.0m0 -2.0l-2.0 2.0M574.8 132.6l2.0 2.0m0 -2.0l-2.0 2.0M575.2 129.5l2.0 2.0m0 -2.0l-2.0 2.0M575.6 130.8l2.0 2.0m0 -2.0l-2.0 2.0M576.1 132.3l2.0 2.0m0 -2.0l-2.0 2.0M576.5 131.4l2.0 2.0m0 -2.0l-2.0 2.0M576.9 131.3l2.0 2.0m0 -2.0l-2.0 2.0M577.3 130.7l2.0 2.0m0 -2.0l-2.0 2.0M577.8 130.2l2.0 2.0m0 -2.0l-2.0 2.0M578.2 132.4l2.0 2.0m0 -2.0l-2.0 2.0M578.6 133.0l2.0 2.0m0 -2.0l-2.0 2.0M579.0 129.4l2.0 2.0m0 -2.0l-2.0 2.0M579.5 135.3l2.0 2.0m0 -2.0l-2.0 2.0M579.9 132.7l2.0 2.0m0 -2.0l-2.0 2.0M580.3 127.4l2.0 2.0m0 -2.0l-2.0 2.0M580.7 137.7l2.0 2.0m0 -2.0l-2.0 2.0M581.2 132.8l2.0 2.0m0 -2.0l-2.0 2.0M581.6 129.5l2.0 2.0m0 -2.0l-2.0 2.0M582.0 135.2l2.0 2.0m0 -2.0l-2.0 2.0M582.4 124.9l2.0 2.0m0 -2.0l-2.0 2.0M582.9 137.4l2.0 2.0m0 -2.0l-2.0 2.0M583.3 127.7l2.0 2.0m0 -2.0l-2.0 2.0M583.7 127.4l2.0 2.0m0 -2.0l-2.0 2.0M584.1 129.0l2.0 2.0m0 -2.0l-2.0 2.0M584.6 131.7l2.0 2.0m0 -2.0l-2.0 2.0M585.0 130.3l2.0 2.0m0 -2.0l-2.0 2.0M585.4 133.3l2.0 2.0m0 -2.0l-2.0 2.0M585.8 129.2l2.0 2.0m0 -2.0l-2.0 2.0M586.3 133.9l2.0 2.0m0 -2.0l-2.0 2.0M586.7 131.8l2.0 2.0m0 -2.0l-2.0 2.0M587.1 128.8l2.0 2.0m0 -2.0l-2.0 2.0M587.5 133.9l2.0 2.0m0 -2.0l-2.0 2.0M588.0 132.1l2.0 2.0m0 -2.0l-2.0 2.0M588.4 130.8l2.0 2.0m0 -2.0l-2.0 2.0M588.8 134.3l2.0 2.0m0 -2.0l-2.0 2.0M589.2 128.2l2.0 2.0m0 -2.0l-2.0 2.0M589.7 130.1l2.0 2.0m0 -2.0l-2.0 2.0M590.1 134.5l2.0 2.0m0 -2.0l-2.0 2.0M590.5 130.8l2.0 2.0m0 -2.0l-2.0 2.0M590.9 132.5l2.0 2.0m0 -2.0l-2.0 2.0M591.4 132.1l2.0 2.0m0 -2.0l-2.0 2.0M591.8 130.2l2.0 2.0m0 -2.0l-2.0 2.0M592.2 132.0l2.0 2.0m0 -2.0l-2.0 2.0M592.6 127.8l2.0 2.0m0 -2.0l-2.0 2.0M593.1 131.8l2.0 2.0m0 -2.0l-2.0 2.0M593.5 127.6l2.0 2.0m0 -2.0l-2.0 2.0M593.9 130.0l2.0 2.0m0 -2.0l-2.0 2.0M594.3 127.7l2.0 2.0m0 -2.0l-2.0 2.0M594.8 131.0l2.0 2.0m0 -2.0l-2.0 2.0M595.2 130.8l2.0 2.0m0 -2.0l-2.0 2.0M595.6 132.2l2.0 2.0m0 -2.0l-2.0 2.0M596.0 127.9l2.0 2.0m0 -2.0l-2.0 2.0M596.5 127.0l2.0 2.0m0 -2.0l-2.0 2.0M596.9 124.0l2.0 2.0m0 -2.0l-2.0 2.0M597.3 125.9l2.0 2.0m0 -2.0l-2.0 2.0M597.7 128.3l2.0 2.0m0 -2.0l-2.0 2.0M598.2 129.3l2.0 2.0m0 -2.0l-2.0 2.0M598.6 127.8l2.0 2.0m0 -2.0l-2.0 2.0M599.0 128.7l2.0 2.0m0 -2.0l-2.0 2.0M599.4 125.0l2.0 2.0m0 -2.0l-2.0 2.0M599.9 126.1l2.0 2.0m0 -2.0l-2.0 2.0M600.3 130.4l2.0 2.0m0 -2.0l-2.0 2.0M600.7 130.0l2.0 2.0m0 -2.0l-2.0 2.0M601.1 125.0l2.0 2.0m0 -2.0l-2.0 2.0M601.6 127.5l2.0 2.0m0 -2.0l-2.0 2.0M602.0 128.7l2.0 2.0m0 -2.0l-2.0 2.0M602.4 125.3l2.0 2.0m0 -2.0l-2.0 2.0M602.8 129.0l2.0 2.0m0 -2.0l-2.0 2.0M603.3 128.7l2.0 2.0m0 -2.0l-2.0 2.0M603.7 129.1l2.0 2.0m0 -2.0l-2.0 2.0M604.1 132.7l2.0 2.0m0 -2.0l-2.0 2.0M604.5 125.8l2.0 2.0m0 -2.0l-2.0 2.0M605.0 130.8l2.0 2.0m0 -2.0l-2.0 2.0M605.4 129.2l2.0 2.0m0 -2.0l-2.0 2.0M605.8 129.6l2.0 2.0m0 -2.0l-2.0 2.0M606.2 126.0l2.0 2.0m0 -2.0l-2.0 2.0M606.7 127.9l2.0 2.0m0 -2.0l-2.0 2.0M607.1 127.6l2.0 2.0m0 -2.0l-2.0 2.0M607.5 131.7l2.0 2.0m0 -2.0l-2.0 2.0M607.9 127.8l2.0 2.0m0 -2.0l-2.0 2.0M608.4 131.1l2.0 2.0m0 -2.0l-2.0 2.0M608.8 126.7l2.0 2.0m0 -2.0l-2.0 2.0M609.2 126.5l2.0 2.0m0 -2.0l-2.0 2.0M609.6 127.4l2.0 2.0m0 -2.0l-2.0 2.0M610.1 122.4l2.0 2.0m0 -2.0l-2.0 2.0M610.5 126.0l2.0 2.0m0 -2.0l-2.0 2.0M610.9 125.8l2.0 2.0m0 -2.0l-2.0 2.0M611.3 126.9l2.0 2.0m0 -2.0l-2.0 2.0M611.8 127.6l2.0 2.0m0 -2.0l-2.0 2.0M612.2 124.8l2.0 2.0m0 -2.0l-2.0 2.0M612.6 124.4l2.0 2.0m0 -2.0l-2.0 2.0M613.0 130.2l2.0 2.0m0 -2.0l-2.0 2.0M613.5 124.5l2.0 2.0m0 -2.0l-2.0 2.0M613.9 125.9l2.0 2.0m0 -2.0l-2.0 2.0M614.3 124.9l2.0 2.0m0 -2.0l-2.0 2.0M614.7 126.1l2.0 2.0m0 -2.0l-2.0 2.0M615.2 130.3l2.0 2.0m0 -2.0l-2.0 2.0M615.6 130.1l2.0 2.0m0 -2.0l-2.0 2.0M616.0 122.9l2.0 2.0m0 -2.0l-2.0 2.0M616.4 126.8l2.0 2.0m0 -2.0l-2.0 2.0M616.9 130.9l2.0 2.0m0 -2.0l-2.0 2.0M617.3 126.6l2.0 2.0m0 -2.0l-2.0 2.0M617.7 128.4l2.0 2.0m0 -2.0l-2.0 2.0M618.1 132.0l2.0 2.0m0 -2.0l-2.0 2.0M618.6 133.1l2.0 2.0m0 -2.0l-2.0 2.0M619.0 131.5l2.0 2.0m0 -2.0l-2.0 2.0M619.4 127.0l2.0 2.0m0 -2.0l-2.0 2.0M619.8 127.9l2.0 2.0m0 -2.0l-2.0 2.0M620.3 128.4l2.0 2.0m0 -2.0l-2.0 2.0M620.7 127.1l2.0 2.0m0 -2.0l-2.0 2.0M621.1 126.4l2.0 2.0m0 -2.0l-2.0 2.0M621.5 133.0l2.0 2.0m0 -2.0l-2.0 2.0M622.0 128.7l2.0 2.0m0 -2.0l-2.0 2.0M622.4 130.0l2.0 2.0m0 -2.0l-2.0 2.0M622.8 131.0l2.0 2.0m0 -2.0l-2.0 2.0M623.2 129.4l2.0 2.0m0 -2.0l-2.0 2.0M623.7 128.4l2.0 2.0m0 -2.0l-2.0 2.0M624.1 128.8l2.0 2.0m0 -2.0l-2.0 2.0M624.5 131.8l2.0 2.0m0 -2.0l-2.0 2.0M624.9 129.4l2.0 2.0m0 -2.0l-2.0 2.0M625.4 123.5l2.0 2.0m0 -2.0l-2.0 2.0M625.8 130.9l2.0 2.0m0 -2.0l-2.0 2.0M626.2 132.5l2.0 2.0m0 -2.0l-2.0 2.0" stroke="#ffa500" stroke-width="1.5" fill="none" opacity="1.0"/><polyline points="517.9,151.1 520.7,152.2 523.5,153.2 526.3,154.2 529.1,155.3 531.9,156.3 534.7,157.3 537.5,158.3 540.3,159.4 543.1,160.1 545.9,160.8 548.7,161.5 551.5,162.1 554.3,162.8 557.1,163.5 559.9,164.2 562.7,164.7 565.5,165.3 568.4,165.8 571.2,166.3 574.0,166.8 576.8,167.3 579.6,167.8 582.4,168.3 585.2,168.8 588.0,169.4 590.8,169.8 593.6,170.1 596.4,170.5 599.2,170.8 602.0,171.1 604.8,171.4 607.6,171.7 610.4,172.0 613.2,172.3 616.0,172.6 618.8,172.8 621.6,173.1 624.4,173.3 627.2,173.6" stroke="#14144a" stroke-width="1.3" fill="none" opacity="1.0" stroke-dasharray="3.2,2"/><rect x="449.1" y="57.8" width="186.6" height="127.5" fill="none" stroke="#333" stroke-width="1.3"/><path d="M457.6 185.3v3.3M457.6 57.8v-3.3M533.0 185.3v3.3M533.0 57.8v-3.3M608.4 185.3v3.3M608.4 57.8v-3.3M449.1 185.3h-3.3M635.7 185.3h3.3M449.1 116.3h-3.3M635.7 116.3h3.3" stroke="#333" stroke-width="1"/><text x="450.7" y="72.8" font-family="Liberation Serif" font-weight="bold" font-size="16.2" letter-spacing="0.3">(c)</text><text x="492.6" y="52.9" font-family="Liberation Serif" font-style="italic" font-size="21" fill="#191970" stroke="#191970" stroke-width="0.55">T</text><text x="502.8" y="56.8" font-family="Liberation Serif" font-style="italic" font-size="16" fill="#191970" stroke="#191970" stroke-width="0.15">stab</text><path d="M534.8 45.3h14.5M534.8 49.2h14.5" stroke="#191970" stroke-width="1.3"/><text x="554.5" y="52.9" font-family="Liberation Serif" font-size="21.7" fill="#191970" stroke="#191970" stroke-width="0.1">1.22</text><rect x="90.5" y="224.2" width="131.9" height="127.5" fill="#fffac8"/><path d="M51.9 346.4l1.7 1.7m0 -1.7l-1.7 1.7M52.3 346.0l1.7 1.7m0 -1.7l-1.7 1.7M52.7 346.0l1.7 1.7m0 -1.7l-1.7 1.7M53.1 347.5l1.7 1.7m0 -1.7l-1.7 1.7M53.6 345.2l1.7 1.7m0 -1.7l-1.7 1.7M54.0 346.9l1.7 1.7m0 -1.7l-1.7 1.7M54.4 347.2l1.7 1.7m0 -1.7l-1.7 1.7M54.8 346.5l1.7 1.7m0 -1.7l-1.7 1.7M55.2 345.9l1.7 1.7m0 -1.7l-1.7 1.7M55.6 344.9l1.7 1.7m0 -1.7l-1.7 1.7M56.0 344.9l1.7 1.7m0 -1.7l-1.7 1.7M56.4 345.5l1.7 1.7m0 -1.7l-1.7 1.7M56.8 344.3l1.7 1.7m0 -1.7l-1.7 1.7M57.2 345.1l1.7 1.7m0 -1.7l-1.7 1.7M57.6 344.1l1.7 1.7m0 -1.7l-1.7 1.7M58.0 346.4l1.7 1.7m0 -1.7l-1.7 1.7M58.4 346.5l1.7 1.7m0 -1.7l-1.7 1.7M58.8 343.9l1.7 1.7m0 -1.7l-1.7 1.7M59.2 346.0l1.7 1.7m0 -1.7l-1.7 1.7M59.6 344.8l1.7 1.7m0 -1.7l-1.7 1.7M60.0 344.5l1.7 1.7m0 -1.7l-1.7 1.7M60.4 344.8l1.7 1.7m0 -1.7l-1.7 1.7M60.8 344.6l1.7 1.7m0 -1.7l-1.7 1.7M61.2 342.6l1.7 1.7m0 -1.7l-1.7 1.7M61.6 346.3l1.7 1.7m0 -1.7l-1.7 1.7M62.1 342.2l1.7 1.7m0 -1.7l-1.7 1.7M62.5 340.1l1.7 1.7m0 -1.7l-1.7 1.7M62.9 341.8l1.7 1.7m0 -1.7l-1.7 1.7M63.3 341.2l1.7 1.7m0 -1.7l-1.7 1.7M63.7 339.8l1.7 1.7m0 -1.7l-1.7 1.7M64.1 338.0l1.7 1.7m0 -1.7l-1.7 1.7M64.5 340.5l1.7 1.7m0 -1.7l-1.7 1.7M64.9 338.5l1.7 1.7m0 -1.7l-1.7 1.7M65.3 338.2l1.7 1.7m0 -1.7l-1.7 1.7M65.7 336.8l1.7 1.7m0 -1.7l-1.7 1.7M66.1 336.6l1.7 1.7m0 -1.7l-1.7 1.7M66.5 335.4l1.7 1.7m0 -1.7l-1.7 1.7M66.9 335.9l1.7 1.7m0 -1.7l-1.7 1.7M67.3 334.8l1.7 1.7m0 -1.7l-1.7 1.7M67.7 334.9l1.7 1.7m0 -1.7l-1.7 1.7M68.1 334.2l1.7 1.7m0 -1.7l-1.7 1.7M68.5 333.0l1.7 1.7m0 -1.7l-1.7 1.7M68.9 332.4l1.7 1.7m0 -1.7l-1.7 1.7M69.3 332.8l1.7 1.7m0 -1.7l-1.7 1.7M69.7 329.4l1.7 1.7m0 -1.7l-1.7 1.7M70.2 330.5l1.7 1.7m0 -1.7l-1.7 1.7M70.6 331.2l1.7 1.7m0 -1.7l-1.7 1.7M71.0 327.9l1.7 1.7m0 -1.7l-1.7 1.7M71.4 329.0l1.7 1.7m0 -1.7l-1.7 1.7M71.8 326.6l1.7 1.7m0 -1.7l-1.7 1.7M72.2 326.0l1.7 1.7m0 -1.7l-1.7 1.7M72.6 324.7l1.7 1.7m0 -1.7l-1.7 1.7M73.0 323.7l1.7 1.7m0 -1.7l-1.7 1.7M73.4 323.3l1.7 1.7m0 -1.7l-1.7 1.7M73.8 321.6l1.7 1.7m0 -1.7l-1.7 1.7M74.2 318.5l1.7 1.7m0 -1.7l-1.7 1.7M74.6 321.8l1.7 1.7m0 -1.7l-1.7 1.7M75.0 318.3l1.7 1.7m0 -1.7l-1.7 1.7M75.4 316.8l1.7 1.7m0 -1.7l-1.7 1.7M75.8 317.3l1.7 1.7m0 -1.7l-1.7 1.7M76.2 316.5l1.7 1.7m0 -1.7l-1.7 1.7M76.6 311.8l1.7 1.7m0 -1.7l-1.7 1.7M77.0 313.3l1.7 1.7m0 -1.7l-1.7 1.7M77.4 309.7l1.7 1.7m0 -1.7l-1.7 1.7M77.8 310.2l1.7 1.7m0 -1.7l-1.7 1.7M78.2 309.6l1.7 1.7m0 -1.7l-1.7 1.7M78.7 307.8l1.7 1.7m0 -1.7l-1.7 1.7M79.1 306.1l1.7 1.7m0 -1.7l-1.7 1.7M79.5 304.1l1.7 1.7m0 -1.7l-1.7 1.7M79.9 303.4l1.7 1.7m0 -1.7l-1.7 1.7M80.3 302.3l1.7 1.7m0 -1.7l-1.7 1.7M80.7 300.8l1.7 1.7m0 -1.7l-1.7 1.7M81.1 298.1l1.7 1.7m0 -1.7l-1.7 1.7M81.5 297.2l1.7 1.7m0 -1.7l-1.7 1.7M81.9 297.6l1.7 1.7m0 -1.7l-1.7 1.7M82.3 295.7l1.7 1.7m0 -1.7l-1.7 1.7M82.7 293.3l1.7 1.7m0 -1.7l-1.7 1.7M83.1 292.8l1.7 1.7m0 -1.7l-1.7 1.7M83.5 291.1l1.7 1.7m0 -1.7l-1.7 1.7M83.9 290.2l1.7 1.7m0 -1.7l-1.7 1.7M84.3 288.0l1.7 1.7m0 -1.7l-1.7 1.7M84.7 285.9l1.7 1.7m0 -1.7l-1.7 1.7M85.1 283.8l1.7 1.7m0 -1.7l-1.7 1.7M85.5 283.4l1.7 1.7m0 -1.7l-1.7 1.7M85.9 280.1l1.7 1.7m0 -1.7l-1.7 1.7M86.3 281.1l1.7 1.7m0 -1.7l-1.7 1.7M86.7 276.4l1.7 1.7m0 -1.7l-1.7 1.7M87.2 277.5l1.7 1.7m0 -1.7l-1.7 1.7M87.6 276.8l1.7 1.7m0 -1.7l-1.7 1.7M88.0 276.6l1.7 1.7m0 -1.7l-1.7 1.7M88.4 277.8l1.7 1.7m0 -1.7l-1.7 1.7M88.8 273.8l1.7 1.7m0 -1.7l-1.7 1.7M89.2 272.2l1.7 1.7m0 -1.7l-1.7 1.7M89.6 270.3l1.7 1.7m0 -1.7l-1.7 1.7M90.0 273.7l1.7 1.7m0 -1.7l-1.7 1.7M90.4 270.4l1.7 1.7m0 -1.7l-1.7 1.7M90.8 272.7l1.7 1.7m0 -1.7l-1.7 1.7M91.2 271.7l1.7 1.7m0 -1.7l-1.7 1.7M91.6 275.2l1.7 1.7m0 -1.7l-1.7 1.7M92.0 272.4l1.7 1.7m0 -1.7l-1.7 1.7M92.4 272.9l1.7 1.7m0 -1.7l-1.7 1.7M92.8 271.8l1.7 1.7m0 -1.7l-1.7 1.7M93.2 272.5l1.7 1.7m0 -1.7l-1.7 1.7M93.6 273.7l1.7 1.7m0 -1.7l-1.7 1.7M94.0 271.6l1.7 1.7m0 -1.7l-1.7 1.7M94.4 271.8l1.7 1.7m0 -1.7l-1.7 1.7M94.8 271.9l1.7 1.7m0 -1.7l-1.7 1.7M95.3 271.5l1.7 1.7m0 -1.7l-1.7 1.7M95.7 271.4l1.7 1.7m0 -1.7l-1.7 1.7M96.1 272.6l1.7 1.7m0 -1.7l-1.7 1.7M96.5 274.0l1.7 1.7m0 -1.7l-1.7 1.7M96.9 274.0l1.7 1.7m0 -1.7l-1.7 1.7M97.3 271.2l1.7 1.7m0 -1.7l-1.7 1.7M97.7 271.8l1.7 1.7m0 -1.7l-1.7 1.7M98.1 272.5l1.7 1.7m0 -1.7l-1.7 1.7M98.5 273.0l1.7 1.7m0 -1.7l-1.7 1.7M98.9 272.5l1.7 1.7m0 -1.7l-1.7 1.7M99.3 272.5l1.7 1.7m0 -1.7l-1.7 1.7M99.7 272.9l1.7 1.7m0 -1.7l-1.7 1.7M100.1 273.3l1.7 1.7m0 -1.7l-1.7 1.7M100.5 270.3l1.7 1.7m0 -1.7l-1.7 1.7M100.9 272.3l1.7 1.7m0 -1.7l-1.7 1.7M101.3 273.2l1.7 1.7m0 -1.7l-1.7 1.7M101.7 273.9l1.7 1.7m0 -1.7l-1.7 1.7M102.1 273.3l1.7 1.7m0 -1.7l-1.7 1.7M102.5 271.8l1.7 1.7m0 -1.7l-1.7 1.7M102.9 271.8l1.7 1.7m0 -1.7l-1.7 1.7M103.3 272.8l1.7 1.7m0 -1.7l-1.7 1.7M103.8 272.5l1.7 1.7m0 -1.7l-1.7 1.7M104.2 272.9l1.7 1.7m0 -1.7l-1.7 1.7M104.6 273.7l1.7 1.7m0 -1.7l-1.7 1.7M105.0 271.2l1.7 1.7m0 -1.7l-1.7 1.7M105.4 272.2l1.7 1.7m0 -1.7l-1.7 1.7M105.8 270.0l1.7 1.7m0 -1.7l-1.7 1.7M106.2 273.4l1.7 1.7m0 -1.7l-1.7 1.7M106.6 272.7l1.7 1.7m0 -1.7l-1.7 1.7M107.0 271.7l1.7 1.7m0 -1.7l-1.7 1.7M107.4 272.8l1.7 1.7m0 -1.7l-1.7 1.7M107.8 274.0l1.7 1.7m0 -1.7l-1.7 1.7M108.2 273.6l1.7 1.7m0 -1.7l-1.7 1.7M108.6 272.5l1.7 1.7m0 -1.7l-1.7 1.7M109.0 272.2l1.7 1.7m0 -1.7l-1.7 1.7M109.4 272.7l1.7 1.7m0 -1.7l-1.7 1.7M109.8 271.6l1.7 1.7m0 -1.7l-1.7 1.7M110.2 271.6l1.7 1.7m0 -1.7l-1.7 1.7M110.6 272.3l1.7 1.7m0 -1.7l-1.7 1.7M111.0 272.6l1.7 1.7m0 -1.7l-1.7 1.7M111.4 272.9l1.7 1.7m0 -1.7l-1.7 1.7M111.9 272.0l1.7 1.7m0 -1.7l-1.7 1.7M112.3 271.6l1.7 1.7m0 -1.7l-1.7 1.7M112.7 272.5l1.7 1.7m0 -1.7l-1.7 1.7M113.1 272.1l1.7 1.7m0 -1.7l-1.7 1.7M113.5 272.9l1.7 1.7m0 -1.7l-1.7 1.7M113.9 274.1l1.7 1.7m0 -1.7l-1.7 1.7M114.3 273.6l1.7 1.7m0 -1.7l-1.7 1.7M114.7 271.8l1.7 1.7m0 -1.7l-1.7 1.7M115.1 272.1l1.7 1.7m0 -1.7l-1.7 1.7M115.5 271.0l1.7 1.7m0 -1.7l-1.7 1.7M115.9 272.5l1.7 1.7m0 -1.7l-1.7 1.7M116.3 271.7l1.7 1.7m0 -1.7l-1.7 1.7M116.7 271.2l1.7 1.7m0 -1.7l-1.7 1.7M117.1 271.6l1.7 1.7m0 -1.7l-1.7 1.7M117.5 273.2l1.7 1.7m0 -1.7l-1.7 1.7M117.9 272.8l1.7 1.7m0 -1.7l-1.7 1.7M118.3 272.5l1.7 1.7m0 -1.7l-1.7 1.7M118.7 273.6l1.7 1.7m0 -1.7l-1.7 1.7M119.1 272.1l1.7 1.7m0 -1.7l-1.7 1.7M119.5 271.6l1.7 1.7m0 -1.7l-1.7 1.7M119.9 273.1l1.7 1.7m0 -1.7l-1.7 1.7M120.4 270.6l1.7 1.7m0 -1.7l-1.7 1.7M120.8 272.9l1.7 1.7m0 -1.7l-1.7 1.7M121.2 272.8l1.7 1.7m0 -1.7l-1.7 1.7M121.6 272.9l1.7 1.7m0 -1.7l-1.7 1.7M122.0 273.4l1.7 1.7m0 -1.7l-1.7 1.7M122.4 272.2l1.7 1.7m0 -1.7l-1.7 1.7M122.8 272.6l1.7 1.7m0 -1.7l-1.7 1.7M123.2 270.9l1.7 1.7m0 -1.7l-1.7 1.7M123.6 272.0l1.7 1.7m0 -1.7l-1.7 1.7M124.0 272.1l1.7 1.7m0 -1.7l-1.7 1.7M124.4 272.9l1.7 1.7m0 -1.7l-1.7 1.7M124.8 274.1l1.7 1.7m0 -1.7l-1.7 1.7M125.2 272.7l1.7 1.7m0 -1.7l-1.7 1.7M125.6 273.5l1.7 1.7m0 -1.7l-1.7 1.7M126.0 271.6l1.7 1.7m0 -1.7l-1.7 1.7M126.4 272.7l1.7 1.7m0 -1.7l-1.7 1.7M126.8 270.9l1.7 1.7m0 -1.7l-1.7 1.7M127.2 271.9l1.7 1.7m0 -1.7l-1.7 1.7M127.6 271.8l1.7 1.7m0 -1.7l-1.7 1.7M128.0 272.4l1.7 1.7m0 -1.7l-1.7 1.7M128.5 272.4l1.7 1.7m0 -1.7l-1.7 1.7M128.9 272.0l1.7 1.7m0 -1.7l-1.7 1.7M129.3 271.7l1.7 1.7m0 -1.7l-1.7 1.7M129.7 273.4l1.7 1.7m0 -1.7l-1.7 1.7M130.1 272.1l1.7 1.7m0 -1.7l-1.7 1.7M130.5 269.9l1.7 1.7m0 -1.7l-1.7 1.7M130.9 272.7l1.7 1.7m0 -1.7l-1.7 1.7M131.3 272.9l1.7 1.7m0 -1.7l-1.7 1.7M131.7 273.4l1.7 1.7m0 -1.7l-1.7 1.7M132.1 274.1l1.7 1.7m0 -1.7l-1.7 1.7M132.5 271.4l1.7 1.7m0 -1.7l-1.7 1.7M132.9 272.6l1.7 1.7m0 -1.7l-1.7 1.7M133.3 272.3l1.7 1.7m0 -1.7l-1.7 1.7M133.7 270.7l1.7 1.7m0 -1.7l-1.7 1.7M134.1 270.1l1.7 1.7m0 -1.7l-1.7 1.7M134.5 273.6l1.7 1.7m0 -1.7l-1.7 1.7M134.9 271.6l1.7 1.7m0 -1.7l-1.7 1.7M135.3 272.0l1.7 1.7m0 -1.7l-1.7 1.7M135.7 272.2l1.7 1.7m0 -1.7l-1.7 1.7M136.1 272.2l1.7 1.7m0 -1.7l-1.7 1.7M136.5 272.7l1.7 1.7m0 -1.7l-1.7 1.7M137.0 271.0l1.7 1.7m0 -1.7l-1.7 1.7M137.4 272.0l1.7 1.7m0 -1.7l-1.7 1.7M137.8 272.3l1.7 1.7m0 -1.7l-1.7 1.7M138.2 271.4l1.7 1.7m0 -1.7l-1.7 1.7M138.6 271.7l1.7 1.7m0 -1.7l-1.7 1.7M139.0 272.2l1.7 1.7m0 -1.7l-1.7 1.7M139.4 272.3l1.7 1.7m0 -1.7l-1.7 1.7M139.8 270.9l1.7 1.7m0 -1.7l-1.7 1.7M140.2 272.1l1.7 1.7m0 -1.7l-1.7 1.7M140.6 272.8l1.7 1.7m0 -1.7l-1.7 1.7M141.0 273.6l1.7 1.7m0 -1.7l-1.7 1.7M141.4 273.0l1.7 1.7m0 -1.7l-1.7 1.7M141.8 273.8l1.7 1.7m0 -1.7l-1.7 1.7M142.2 272.6l1.7 1.7m0 -1.7l-1.7 1.7M142.6 272.4l1.7 1.7m0 -1.7l-1.7 1.7M143.0 274.8l1.7 1.7m0 -1.7l-1.7 1.7M143.4 272.7l1.7 1.7m0 -1.7l-1.7 1.7M143.8 272.0l1.7 1.7m0 -1.7l-1.7 1.7M144.2 272.5l1.7 1.7m0 -1.7l-1.7 1.7M144.6 273.7l1.7 1.7m0 -1.7l-1.7 1.7M145.0 271.4l1.7 1.7m0 -1.7l-1.7 1.7M145.5 273.4l1.7 1.7m0 -1.7l-1.7 1.7M145.9 274.0l1.7 1.7m0 -1.7l-1.7 1.7M146.3 273.8l1.7 1.7m0 -1.7l-1.7 1.7M146.7 272.7l1.7 1.7m0 -1.7l-1.7 1.7M147.1 271.7l1.7 1.7m0 -1.7l-1.7 1.7M147.5 271.5l1.7 1.7m0 -1.7l-1.7 1.7M147.9 272.5l1.7 1.7m0 -1.7l-1.7 1.7M148.3 273.9l1.7 1.7m0 -1.7l-1.7 1.7M148.7 273.4l1.7 1.7m0 -1.7l-1.7 1.7M149.1 273.6l1.7 1.7m0 -1.7l-1.7 1.7M149.5 272.9l1.7 1.7m0 -1.7l-1.7 1.7M149.9 274.5l1.7 1.7m0 -1.7l-1.7 1.7M150.3 272.6l1.7 1.7m0 -1.7l-1.7 1.7M150.7 272.0l1.7 1.7m0 -1.7l-1.7 1.7M151.1 272.9l1.7 1.7m0 -1.7l-1.7 1.7M151.5 272.2l1.7 1.7m0 -1.7l-1.7 1.7M151.9 273.7l1.7 1.7m0 -1.7l-1.7 1.7M152.3 274.2l1.7 1.7m0 -1.7l-1.7 1.7M152.7 273.4l1.7 1.7m0 -1.7l-1.7 1.7M153.1 271.5l1.7 1.7m0 -1.7l-1.7 1.7M153.6 271.6l1.7 1.7m0 -1.7l-1.7 1.7M154.0 273.2l1.7 1.7m0 -1.7l-1.7 1.7M154.4 271.5l1.7 1.7m0 -1.7l-1.7 1.7M154.8 273.0l1.7 1.7m0 -1.7l-1.7 1.7M155.2 271.1l1.7 1.7m0 -1.7l-1.7 1.7M155.6 272.2l1.7 1.7m0 -1.7l-1.7 1.7M156.0 273.2l1.7 1.7m0 -1.7l-1.7 1.7M156.4 271.9l1.7 1.7m0 -1.7l-1.7 1.7M156.8 273.5l1.7 1.7m0 -1.7l-1.7 1.7M157.2 273.7l1.7 1.7m0 -1.7l-1.7 1.7M157.6 274.2l1.7 1.7m0 -1.7l-1.7 1.7M158.0 272.5l1.7 1.7m0 -1.7l-1.7 1.7M158.4 272.8l1.7 1.7m0 -1.7l-1.7 1.7M158.8 272.8l1.7 1.7m0 -1.7l-1.7 1.7M159.2 273.1l1.7 1.7m0 -1.7l-1.7 1.7M159.6 271.2l1.7 1.7m0 -1.7l-1.7 1.7M160.0 273.2l1.7 1.7m0 -1.7l-1.7 1.7M160.4 273.5l1.7 1.7m0 -1.7l-1.7 1.7M160.8 271.4l1.7 1.7m0 -1.7l-1.7 1.7M161.2 271.3l1.7 1.7m0 -1.7l-1.7 1.7M161.6 272.4l1.7 1.7m0 -1.7l-1.7 1.7M162.1 274.5l1.7 1.7m0 -1.7l-1.7 1.7M162.5 273.4l1.7 1.7m0 -1.7l-1.7 1.7M162.9 272.1l1.7 1.7m0 -1.7l-1.7 1.7M163.3 272.7l1.7 1.7m0 -1.7l-1.7 1.7M163.7 271.1l1.7 1.7m0 -1.7l-1.7 1.7M164.1 274.1l1.7 1.7m0 -1.7l-1.7 1.7M164.5 272.0l1.7 1.7m0 -1.7l-1.7 1.7M164.9 273.4l1.7 1.7m0 -1.7l-1.7 1.7M165.3 271.4l1.7 1.7m0 -1.7l-1.7 1.7M165.7 272.8l1.7 1.7m0 -1.7l-1.7 1.7M166.1 271.7l1.7 1.7m0 -1.7l-1.7 1.7M166.5 273.4l1.7 1.7m0 -1.7l-1.7 1.7M166.9 274.2l1.7 1.7m0 -1.7l-1.7 1.7M167.3 273.9l1.7 1.7m0 -1.7l-1.7 1.7M167.7 273.4l1.7 1.7m0 -1.7l-1.7 1.7M168.1 273.8l1.7 1.7m0 -1.7l-1.7 1.7M168.5 271.5l1.7 1.7m0 -1.7l-1.7 1.7M168.9 271.4l1.7 1.7m0 -1.7l-1.7 1.7M169.3 272.5l1.7 1.7m0 -1.7l-1.7 1.7M169.7 273.8l1.7 1.7m0 -1.7l-1.7 1.7M170.2 272.9l1.7 1.7m0 -1.7l-1.7 1.7M170.6 273.5l1.7 1.7m0 -1.7l-1.7 1.7M171.0 271.2l1.7 1.7m0 -1.7l-1.7 1.7M171.4 272.4l1.7 1.7m0 -1.7l-1.7 1.7M171.8 272.2l1.7 1.7m0 -1.7l-1.7 1.7M172.2 273.2l1.7 1.7m0 -1.7l-1.7 1.7M172.6 274.8l1.7 1.7m0 -1.7l-1.7 1.7M173.0 273.6l1.7 1.7m0 -1.7l-1.7 1.7M173.4 273.9l1.7 1.7m0 -1.7l-1.7 1.7M173.8 272.4l1.7 1.7m0 -1.7l-1.7 1.7M174.2 272.7l1.7 1.7m0 -1.7l-1.7 1.7M174.6 273.6l1.7 1.7m0 -1.7l-1.7 1.7M175.0 273.2l1.7 1.7m0 -1.7l-1.7 1.7M175.4 271.1l1.7 1.7m0 -1.7l-1.7 1.7M175.8 273.8l1.7 1.7m0 -1.7l-1.7 1.7M176.2 273.7l1.7 1.7m0 -1.7l-1.7 1.7M176.6 273.0l1.7 1.7m0 -1.7l-1.7 1.7M177.0 273.5l1.7 1.7m0 -1.7l-1.7 1.7M177.4 273.2l1.7 1.7m0 -1.7l-1.7 1.7M177.8 272.2l1.7 1.7m0 -1.7l-1.7 1.7M178.2 271.0l1.7 1.7m0 -1.7l-1.7 1.7M178.7 274.6l1.7 1.7m0 -1.7l-1.7 1.7M179.1 272.8l1.7 1.7m0 -1.7l-1.7 1.7M179.5 272.7l1.7 1.7m0 -1.7l-1.7 1.7M179.9 272.9l1.7 1.7m0 -1.7l-1.7 1.7M180.3 273.0l1.7 1.7m0 -1.7l-1.7 1.7M180.7 273.1l1.7 1.7m0 -1.7l-1.7 1.7M181.1 271.7l1.7 1.7m0 -1.7l-1.7 1.7M181.5 273.3l1.7 1.7m0 -1.7l-1.7 1.7M181.9 272.9l1.7 1.7m0 -1.7l-1.7 1.7M182.3 272.8l1.7 1.7m0 -1.7l-1.7 1.7M182.7 272.7l1.7 1.7m0 -1.7l-1.7 1.7M183.1 273.0l1.7 1.7m0 -1.7l-1.7 1.7M183.5 271.8l1.7 1.7m0 -1.7l-1.7 1.7M183.9 272.8l1.7 1.7m0 -1.7l-1.7 1.7M184.3 272.6l1.7 1.7m0 -1.7l-1.7 1.7M184.7 272.8l1.7 1.7m0 -1.7l-1.7 1.7M185.1 273.8l1.7 1.7m0 -1.7l-1.7 1.7M185.5 273.7l1.7 1.7m0 -1.7l-1.7 1.7M185.9 273.9l1.7 1.7m0 -1.7l-1.7 1.7M186.3 272.6l1.7 1.7m0 -1.7l-1.7 1.7M186.8 273.5l1.7 1.7m0 -1.7l-1.7 1.7M187.2 273.9l1.7 1.7m0 -1.7l-1.7 1.7M187.6 272.6l1.7 1.7m0 -1.7l-1.7 1.7M188.0 272.3l1.7 1.7m0 -1.7l-1.7 1.7M188.4 274.6l1.7 1.7m0 -1.7l-1.7 1.7M188.8 271.1l1.7 1.7m0 -1.7l-1.7 1.7M189.2 272.8l1.7 1.7m0 -1.7l-1.7 1.7M189.6 272.9l1.7 1.7m0 -1.7l-1.7 1.7M190.0 271.7l1.7 1.7m0 -1.7l-1.7 1.7M190.4 272.7l1.7 1.7m0 -1.7l-1.7 1.7M190.8 273.4l1.7 1.7m0 -1.7l-1.7 1.7M191.2 270.5l1.7 1.7m0 -1.7l-1.7 1.7M191.6 273.9l1.7 1.7m0 -1.7l-1.7 1.7M192.0 272.9l1.7 1.7m0 -1.7l-1.7 1.7M192.4 271.9l1.7 1.7m0 -1.7l-1.7 1.7M192.8 273.9l1.7 1.7m0 -1.7l-1.7 1.7M193.2 272.9l1.7 1.7m0 -1.7l-1.7 1.7M193.6 272.4l1.7 1.7m0 -1.7l-1.7 1.7M194.0 270.3l1.7 1.7m0 -1.7l-1.7 1.7M194.4 273.7l1.7 1.7m0 -1.7l-1.7 1.7M194.8 272.9l1.7 1.7m0 -1.7l-1.7 1.7M195.3 272.1l1.7 1.7m0 -1.7l-1.7 1.7M195.7 272.7l1.7 1.7m0 -1.7l-1.7 1.7M196.1 274.1l1.7 1.7m0 -1.7l-1.7 1.7M196.5 272.4l1.7 1.7m0 -1.7l-1.7 1.7M196.9 272.7l1.7 1.7m0 -1.7l-1.7 1.7M197.3 272.4l1.7 1.7m0 -1.7l-1.7 1.7M197.7 271.7l1.7 1.7m0 -1.7l-1.7 1.7M198.1 271.8l1.7 1.7m0 -1.7l-1.7 1.7M198.5 272.4l1.7 1.7m0 -1.7l-1.7 1.7M198.9 272.5l1.7 1.7m0 -1.7l-1.7 1.7M199.3 274.0l1.7 1.7m0 -1.7l-1.7 1.7M199.7 273.0l1.7 1.7m0 -1.7l-1.7 1.7M200.1 272.6l1.7 1.7m0 -1.7l-1.7 1.7M200.5 273.2l1.7 1.7m0 -1.7l-1.7 1.7M200.9 272.7l1.7 1.7m0 -1.7l-1.7 1.7M201.3 273.7l1.7 1.7m0 -1.7l-1.7 1.7M201.7 271.2l1.7 1.7m0 -1.7l-1.7 1.7M202.1 270.6l1.7 1.7m0 -1.7l-1.7 1.7M202.5 273.2l1.7 1.7m0 -1.7l-1.7 1.7M202.9 272.4l1.7 1.7m0 -1.7l-1.7 1.7M203.3 273.1l1.7 1.7m0 -1.7l-1.7 1.7M203.8 271.5l1.7 1.7m0 -1.7l-1.7 1.7M204.2 272.4l1.7 1.7m0 -1.7l-1.7 1.7M204.6 272.8l1.7 1.7m0 -1.7l-1.7 1.7M205.0 273.1l1.7 1.7m0 -1.7l-1.7 1.7M205.4 272.7l1.7 1.7m0 -1.7l-1.7 1.7M205.8 273.9l1.7 1.7m0 -1.7l-1.7 1.7M206.2 272.1l1.7 1.7m0 -1.7l-1.7 1.7M206.6 273.6l1.7 1.7m0 -1.7l-1.7 1.7M207.0 272.3l1.7 1.7m0 -1.7l-1.7 1.7M207.4 272.7l1.7 1.7m0 -1.7l-1.7 1.7M207.8 271.7l1.7 1.7m0 -1.7l-1.7 1.7M208.2 272.9l1.7 1.7m0 -1.7l-1.7 1.7M208.6 271.8l1.7 1.7m0 -1.7l-1.7 1.7M209.0 273.8l1.7 1.7m0 -1.7l-1.7 1.7M209.4 272.2l1.7 1.7m0 -1.7l-1.7 1.7M209.8 273.1l1.7 1.7m0 -1.7l-1.7 1.7M210.2 272.7l1.7 1.7m0 -1.7l-1.7 1.7M210.6 272.8l1.7 1.7m0 -1.7l-1.7 1.7M211.0 271.9l1.7 1.7m0 -1.7l-1.7 1.7M211.4 275.0l1.7 1.7m0 -1.7l-1.7 1.7M211.9 272.5l1.7 1.7m0 -1.7l-1.7 1.7M212.3 274.4l1.7 1.7m0 -1.7l-1.7 1.7M212.7 271.6l1.7 1.7m0 -1.7l-1.7 1.7M213.1 274.9l1.7 1.7m0 -1.7l-1.7 1.7M213.5 273.9l1.7 1.7m0 -1.7l-1.7 1.7M213.9 274.6l1.7 1.7m0 -1.7l-1.7 1.7M214.3 271.2l1.7 1.7m0 -1.7l-1.7 1.7M214.7 274.2l1.7 1.7m0 -1.7l-1.7 1.7M215.1 272.8l1.7 1.7m0 -1.7l-1.7 1.7M215.5 273.4l1.7 1.7m0 -1.7l-1.7 1.7M215.9 274.7l1.7 1.7m0 -1.7l-1.7 1.7M216.3 273.2l1.7 1.7m0 -1.7l-1.7 1.7M216.7 272.2l1.7 1.7m0 -1.7l-1.7 1.7M217.1 273.1l1.7 1.7m0 -1.7l-1.7 1.7M217.5 271.9l1.7 1.7m0 -1.7l-1.7 1.7M217.9 273.3l1.7 1.7m0 -1.7l-1.7 1.7M218.3 272.9l1.7 1.7m0 -1.7l-1.7 1.7M218.7 273.3l1.7 1.7m0 -1.7l-1.7 1.7M219.1 272.5l1.7 1.7m0 -1.7l-1.7 1.7M219.5 270.9l1.7 1.7m0 -1.7l-1.7 1.7M219.9 272.5l1.7 1.7m0 -1.7l-1.7 1.7M220.4 272.7l1.7 1.7m0 -1.7l-1.7 1.7M220.8 273.5l1.7 1.7m0 -1.7l-1.7 1.7M221.2 273.7l1.7 1.7m0 -1.7l-1.7 1.7M221.6 271.4l1.7 1.7m0 -1.7l-1.7 1.7" stroke="#6495ed" stroke-width="1.45" fill="none" opacity="1.0"/><path d="M51.9 348.2l1.7 1.7m0 -1.7l-1.7 1.7M52.3 347.2l1.7 1.7m0 -1.7l-1.7 1.7M52.7 345.3l1.7 1.7m0 -1.7l-1.7 1.7M53.1 345.0l1.7 1.7m0 -1.7l-1.7 1.7M53.6 341.0l1.7 1.7m0 -1.7l-1.7 1.7M54.0 346.2l1.7 1.7m0 -1.7l-1.7 1.7M54.4 341.7l1.7 1.7m0 -1.7l-1.7 1.7M54.8 340.4l1.7 1.7m0 -1.7l-1.7 1.7M55.2 342.2l1.7 1.7m0 -1.7l-1.7 1.7M55.6 340.8l1.7 1.7m0 -1.7l-1.7 1.7M56.0 338.5l1.7 1.7m0 -1.7l-1.7 1.7M56.4 336.1l1.7 1.7m0 -1.7l-1.7 1.7M56.8 338.9l1.7 1.7m0 -1.7l-1.7 1.7M57.2 339.0l1.7 1.7m0 -1.7l-1.7 1.7M57.6 334.7l1.7 1.7m0 -1.7l-1.7 1.7M58.0 333.2l1.7 1.7m0 -1.7l-1.7 1.7M58.4 335.0l1.7 1.7m0 -1.7l-1.7 1.7M58.8 336.9l1.7 1.7m0 -1.7l-1.7 1.7M59.2 331.1l1.7 1.7m0 -1.7l-1.7 1.7M59.6 332.6l1.7 1.7m0 -1.7l-1.7 1.7M60.0 330.0l1.7 1.7m0 -1.7l-1.7 1.7M60.4 330.8l1.7 1.7m0 -1.7l-1.7 1.7M60.8 330.5l1.7 1.7m0 -1.7l-1.7 1.7M61.2 329.9l1.7 1.7m0 -1.7l-1.7 1.7M61.6 326.5l1.7 1.7m0 -1.7l-1.7 1.7M62.1 325.8l1.7 1.7m0 -1.7l-1.7 1.7M62.5 330.0l1.7 1.7m0 -1.7l-1.7 1.7M62.9 327.5l1.7 1.7m0 -1.7l-1.7 1.7M63.3 323.0l1.7 1.7m0 -1.7l-1.7 1.7M63.7 325.3l1.7 1.7m0 -1.7l-1.7 1.7M64.1 325.9l1.7 1.7m0 -1.7l-1.7 1.7M64.5 323.2l1.7 1.7m0 -1.7l-1.7 1.7M64.9 322.6l1.7 1.7m0 -1.7l-1.7 1.7M65.3 321.9l1.7 1.7m0 -1.7l-1.7 1.7M65.7 321.6l1.7 1.7m0 -1.7l-1.7 1.7M66.1 320.7l1.7 1.7m0 -1.7l-1.7 1.7M66.5 320.1l1.7 1.7m0 -1.7l-1.7 1.7M66.9 318.3l1.7 1.7m0 -1.7l-1.7 1.7M67.3 319.1l1.7 1.7m0 -1.7l-1.7 1.7M67.7 317.6l1.7 1.7m0 -1.7l-1.7 1.7M68.1 316.7l1.7 1.7m0 -1.7l-1.7 1.7M68.5 313.9l1.7 1.7m0 -1.7l-1.7 1.7M68.9 314.4l1.7 1.7m0 -1.7l-1.7 1.7M69.3 314.4l1.7 1.7m0 -1.7l-1.7 1.7M69.7 312.7l1.7 1.7m0 -1.7l-1.7 1.7M70.2 312.1l1.7 1.7m0 -1.7l-1.7 1.7M70.6 310.5l1.7 1.7m0 -1.7l-1.7 1.7M71.0 310.5l1.7 1.7m0 -1.7l-1.7 1.7M71.4 307.9l1.7 1.7m0 -1.7l-1.7 1.7M71.8 307.7l1.7 1.7m0 -1.7l-1.7 1.7M72.2 308.7l1.7 1.7m0 -1.7l-1.7 1.7M72.6 308.4l1.7 1.7m0 -1.7l-1.7 1.7M73.0 305.7l1.7 1.7m0 -1.7l-1.7 1.7M73.4 305.4l1.7 1.7m0 -1.7l-1.7 1.7M73.8 305.4l1.7 1.7m0 -1.7l-1.7 1.7M74.2 306.4l1.7 1.7m0 -1.7l-1.7 1.7M74.6 306.0l1.7 1.7m0 -1.7l-1.7 1.7M75.0 302.2l1.7 1.7m0 -1.7l-1.7 1.7M75.4 300.7l1.7 1.7m0 -1.7l-1.7 1.7M75.8 299.8l1.7 1.7m0 -1.7l-1.7 1.7M76.2 301.9l1.7 1.7m0 -1.7l-1.7 1.7M76.6 297.8l1.7 1.7m0 -1.7l-1.7 1.7M77.0 299.1l1.7 1.7m0 -1.7l-1.7 1.7M77.4 297.0l1.7 1.7m0 -1.7l-1.7 1.7M77.8 296.1l1.7 1.7m0 -1.7l-1.7 1.7M78.2 296.9l1.7 1.7m0 -1.7l-1.7 1.7M78.7 295.7l1.7 1.7m0 -1.7l-1.7 1.7M79.1 296.9l1.7 1.7m0 -1.7l-1.7 1.7M79.5 294.5l1.7 1.7m0 -1.7l-1.7 1.7M79.9 294.8l1.7 1.7m0 -1.7l-1.7 1.7M80.3 290.9l1.7 1.7m0 -1.7l-1.7 1.7M80.7 290.5l1.7 1.7m0 -1.7l-1.7 1.7M81.1 288.4l1.7 1.7m0 -1.7l-1.7 1.7M81.5 288.2l1.7 1.7m0 -1.7l-1.7 1.7M81.9 288.6l1.7 1.7m0 -1.7l-1.7 1.7M82.3 286.3l1.7 1.7m0 -1.7l-1.7 1.7M82.7 286.4l1.7 1.7m0 -1.7l-1.7 1.7M83.1 284.1l1.7 1.7m0 -1.7l-1.7 1.7M83.5 283.5l1.7 1.7m0 -1.7l-1.7 1.7M83.9 284.4l1.7 1.7m0 -1.7l-1.7 1.7M84.3 282.0l1.7 1.7m0 -1.7l-1.7 1.7M84.7 281.0l1.7 1.7m0 -1.7l-1.7 1.7M85.1 280.6l1.7 1.7m0 -1.7l-1.7 1.7M85.5 278.0l1.7 1.7m0 -1.7l-1.7 1.7M85.9 275.9l1.7 1.7m0 -1.7l-1.7 1.7M86.3 277.8l1.7 1.7m0 -1.7l-1.7 1.7M86.7 276.8l1.7 1.7m0 -1.7l-1.7 1.7M87.2 278.5l1.7 1.7m0 -1.7l-1.7 1.7M87.6 274.6l1.7 1.7m0 -1.7l-1.7 1.7M88.0 274.1l1.7 1.7m0 -1.7l-1.7 1.7M88.4 275.7l1.7 1.7m0 -1.7l-1.7 1.7M88.8 271.5l1.7 1.7m0 -1.7l-1.7 1.7M89.2 270.2l1.7 1.7m0 -1.7l-1.7 1.7M89.6 271.2l1.7 1.7m0 -1.7l-1.7 1.7M90.0 270.5l1.7 1.7m0 -1.7l-1.7 1.7M90.4 271.1l1.7 1.7m0 -1.7l-1.7 1.7M90.8 268.5l1.7 1.7m0 -1.7l-1.7 1.7M91.2 271.5l1.7 1.7m0 -1.7l-1.7 1.7M91.6 269.6l1.7 1.7m0 -1.7l-1.7 1.7M92.0 266.3l1.7 1.7m0 -1.7l-1.7 1.7M92.4 268.8l1.7 1.7m0 -1.7l-1.7 1.7M92.8 268.0l1.7 1.7m0 -1.7l-1.7 1.7M93.2 268.6l1.7 1.7m0 -1.7l-1.7 1.7M93.6 269.9l1.7 1.7m0 -1.7l-1.7 1.7M94.0 268.1l1.7 1.7m0 -1.7l-1.7 1.7M94.4 267.3l1.7 1.7m0 -1.7l-1.7 1.7M94.8 269.1l1.7 1.7m0 -1.7l-1.7 1.7M95.3 267.0l1.7 1.7m0 -1.7l-1.7 1.7M95.7 265.6l1.7 1.7m0 -1.7l-1.7 1.7M96.1 265.6l1.7 1.7m0 -1.7l-1.7 1.7M96.5 269.1l1.7 1.7m0 -1.7l-1.7 1.7M96.9 268.1l1.7 1.7m0 -1.7l-1.7 1.7M97.3 268.8l1.7 1.7m0 -1.7l-1.7 1.7M97.7 264.9l1.7 1.7m0 -1.7l-1.7 1.7M98.1 265.3l1.7 1.7m0 -1.7l-1.7 1.7M98.5 265.0l1.7 1.7m0 -1.7l-1.7 1.7M98.9 267.0l1.7 1.7m0 -1.7l-1.7 1.7M99.3 267.2l1.7 1.7m0 -1.7l-1.7 1.7M99.7 265.3l1.7 1.7m0 -1.7l-1.7 1.7M100.1 265.1l1.7 1.7m0 -1.7l-1.7 1.7M100.5 266.2l1.7 1.7m0 -1.7l-1.7 1.7M100.9 264.7l1.7 1.7m0 -1.7l-1.7 1.7M101.3 263.8l1.7 1.7m0 -1.7l-1.7 1.7M101.7 264.2l1.7 1.7m0 -1.7l-1.7 1.7M102.1 265.7l1.7 1.7m0 -1.7l-1.7 1.7M102.5 267.0l1.7 1.7m0 -1.7l-1.7 1.7M102.9 264.3l1.7 1.7m0 -1.7l-1.7 1.7M103.3 263.5l1.7 1.7m0 -1.7l-1.7 1.7M103.8 263.9l1.7 1.7m0 -1.7l-1.7 1.7M104.2 263.9l1.7 1.7m0 -1.7l-1.7 1.7M104.6 264.1l1.7 1.7m0 -1.7l-1.7 1.7M105.0 262.0l1.7 1.7m0 -1.7l-1.7 1.7M105.4 262.8l1.7 1.7m0 -1.7l-1.7 1.7M105.8 262.4l1.7 1.7m0 -1.7l-1.7 1.7M106.2 263.7l1.7 1.7m0 -1.7l-1.7 1.7M106.6 263.1l1.7 1.7m0 -1.7l-1.7 1.7M107.0 261.8l1.7 1.7m0 -1.7l-1.7 1.7M107.4 263.2l1.7 1.7m0 -1.7l-1.7 1.7M107.8 263.3l1.7 1.7m0 -1.7l-1.7 1.7M108.2 261.8l1.7 1.7m0 -1.7l-1.7 1.7M108.6 259.4l1.7 1.7m0 -1.7l-1.7 1.7M109.0 260.6l1.7 1.7m0 -1.7l-1.7 1.7M109.4 258.6l1.7 1.7m0 -1.7l-1.7 1.7M109.8 260.6l1.7 1.7m0 -1.7l-1.7 1.7M110.2 260.6l1.7 1.7m0 -1.7l-1.7 1.7M110.6 261.8l1.7 1.7m0 -1.7l-1.7 1.7M111.0 260.5l1.7 1.7m0 -1.7l-1.7 1.7M111.4 257.4l1.7 1.7m0 -1.7l-1.7 1.7M111.9 258.7l1.7 1.7m0 -1.7l-1.7 1.7M112.3 257.9l1.7 1.7m0 -1.7l-1.7 1.7M112.7 257.7l1.7 1.7m0 -1.7l-1.7 1.7M113.1 258.5l1.7 1.7m0 -1.7l-1.7 1.7M113.5 258.5l1.7 1.7m0 -1.7l-1.7 1.7M113.9 257.8l1.7 1.7m0 -1.7l-1.7 1.7M114.3 256.8l1.7 1.7m0 -1.7l-1.7 1.7M114.7 256.9l1.7 1.7m0 -1.7l-1.7 1.7M115.1 256.6l1.7 1.7m0 -1.7l-1.7 1.7M115.5 256.8l1.7 1.7m0 -1.7l-1.7 1.7M115.9 257.9l1.7 1.7m0 -1.7l-1.7 1.7M116.3 256.9l1.7 1.7m0 -1.7l-1.7 1.7M116.7 257.6l1.7 1.7m0 -1.7l-1.7 1.7M117.1 254.7l1.7 1.7m0 -1.7l-1.7 1.7M117.5 258.7l1.7 1.7m0 -1.7l-1.7 1.7M117.9 255.9l1.7 1.7m0 -1.7l-1.7 1.7M118.3 252.1l1.7 1.7m0 -1.7l-1.7 1.7M118.7 255.6l1.7 1.7m0 -1.7l-1.7 1.7M119.1 256.5l1.7 1.7m0 -1.7l-1.7 1.7M119.5 254.8l1.7 1.7m0 -1.7l-1.7 1.7M119.9 252.8l1.7 1.7m0 -1.7l-1.7 1.7M120.4 254.6l1.7 1.7m0 -1.7l-1.7 1.7M120.8 253.4l1.7 1.7m0 -1.7l-1.7 1.7M121.2 253.9l1.7 1.7m0 -1.7l-1.7 1.7M121.6 254.4l1.7 1.7m0 -1.7l-1.7 1.7M122.0 249.4l1.7 1.7m0 -1.7l-1.7 1.7M122.4 253.5l1.7 1.7m0 -1.7l-1.7 1.7M122.8 254.1l1.7 1.7m0 -1.7l-1.7 1.7M123.2 253.9l1.7 1.7m0 -1.7l-1.7 1.7M123.6 252.5l1.7 1.7m0 -1.7l-1.7 1.7M124.0 252.3l1.7 1.7m0 -1.7l-1.7 1.7M124.4 251.7l1.7 1.7m0 -1.7l-1.7 1.7M124.8 252.4l1.7 1.7m0 -1.7l-1.7 1.7M125.2 254.4l1.7 1.7m0 -1.7l-1.7 1.7M125.6 251.5l1.7 1.7m0 -1.7l-1.7 1.7M126.0 252.5l1.7 1.7m0 -1.7l-1.7 1.7M126.4 252.3l1.7 1.7m0 -1.7l-1.7 1.7M126.8 253.8l1.7 1.7m0 -1.7l-1.7 1.7M127.2 252.4l1.7 1.7m0 -1.7l-1.7 1.7M127.6 252.4l1.7 1.7m0 -1.7l-1.7 1.7M128.0 251.3l1.7 1.7m0 -1.7l-1.7 1.7M128.5 253.1l1.7 1.7m0 -1.7l-1.7 1.7M128.9 250.8l1.7 1.7m0 -1.7l-1.7 1.7M129.3 250.6l1.7 1.7m0 -1.7l-1.7 1.7M129.7 252.1l1.7 1.7m0 -1.7l-1.7 1.7M130.1 251.2l1.7 1.7m0 -1.7l-1.7 1.7M130.5 251.4l1.7 1.7m0 -1.7l-1.7 1.7M130.9 248.8l1.7 1.7m0 -1.7l-1.7 1.7M131.3 253.5l1.7 1.7m0 -1.7l-1.7 1.7M131.7 250.4l1.7 1.7m0 -1.7l-1.7 1.7M132.1 252.1l1.7 1.7m0 -1.7l-1.7 1.7M132.5 250.3l1.7 1.7m0 -1.7l-1.7 1.7M132.9 248.5l1.7 1.7m0 -1.7l-1.7 1.7M133.3 250.5l1.7 1.7m0 -1.7l-1.7 1.7M133.7 249.3l1.7 1.7m0 -1.7l-1.7 1.7M134.1 250.6l1.7 1.7m0 -1.7l-1.7 1.7M134.5 246.7l1.7 1.7m0 -1.7l-1.7 1.7M134.9 248.0l1.7 1.7m0 -1.7l-1.7 1.7M135.3 247.6l1.7 1.7m0 -1.7l-1.7 1.7M135.7 250.9l1.7 1.7m0 -1.7l-1.7 1.7M136.1 250.5l1.7 1.7m0 -1.7l-1.7 1.7M136.5 247.4l1.7 1.7m0 -1.7l-1.7 1.7M137.0 249.1l1.7 1.7m0 -1.7l-1.7 1.7M137.4 249.1l1.7 1.7m0 -1.7l-1.7 1.7M137.8 248.2l1.7 1.7m0 -1.7l-1.7 1.7M138.2 250.3l1.7 1.7m0 -1.7l-1.7 1.7M138.6 247.4l1.7 1.7m0 -1.7l-1.7 1.7M139.0 248.4l1.7 1.7m0 -1.7l-1.7 1.7M139.4 247.7l1.7 1.7m0 -1.7l-1.7 1.7M139.8 249.2l1.7 1.7m0 -1.7l-1.7 1.7M140.2 247.5l1.7 1.7m0 -1.7l-1.7 1.7M140.6 249.1l1.7 1.7m0 -1.7l-1.7 1.7M141.0 246.7l1.7 1.7m0 -1.7l-1.7 1.7M141.4 246.4l1.7 1.7m0 -1.7l-1.7 1.7M141.8 246.6l1.7 1.7m0 -1.7l-1.7 1.7M142.2 247.0l1.7 1.7m0 -1.7l-1.7 1.7M142.6 246.8l1.7 1.7m0 -1.7l-1.7 1.7M143.0 251.3l1.7 1.7m0 -1.7l-1.7 1.7M143.4 246.3l1.7 1.7m0 -1.7l-1.7 1.7M143.8 247.8l1.7 1.7m0 -1.7l-1.7 1.7M144.2 247.2l1.7 1.7m0 -1.7l-1.7 1.7M144.6 247.6l1.7 1.7m0 -1.7l-1.7 1.7M145.0 249.1l1.7 1.7m0 -1.7l-1.7 1.7M145.5 247.8l1.7 1.7m0 -1.7l-1.7 1.7M145.9 246.1l1.7 1.7m0 -1.7l-1.7 1.7M146.3 245.0l1.7 1.7m0 -1.7l-1.7 1.7M146.7 247.7l1.7 1.7m0 -1.7l-1.7 1.7M147.1 248.0l1.7 1.7m0 -1.7l-1.7 1.7M147.5 244.7l1.7 1.7m0 -1.7l-1.7 1.7M147.9 247.8l1.7 1.7m0 -1.7l-1.7 1.7M148.3 243.6l1.7 1.7m0 -1.7l-1.7 1.7M148.7 246.3l1.7 1.7m0 -1.7l-1.7 1.7M149.1 247.5l1.7 1.7m0 -1.7l-1.7 1.7M149.5 244.9l1.7 1.7m0 -1.7l-1.7 1.7M149.9 243.8l1.7 1.7m0 -1.7l-1.7 1.7M150.3 248.1l1.7 1.7m0 -1.7l-1.7 1.7M150.7 243.8l1.7 1.7m0 -1.7l-1.7 1.7M151.1 246.3l1.7 1.7m0 -1.7l-1.7 1.7M151.5 243.8l1.7 1.7m0 -1.7l-1.7 1.7M151.9 246.3l1.7 1.7m0 -1.7l-1.7 1.7M152.3 247.8l1.7 1.7m0 -1.7l-1.7 1.7M152.7 244.9l1.7 1.7m0 -1.7l-1.7 1.7M153.1 244.2l1.7 1.7m0 -1.7l-1.7 1.7M153.6 242.5l1.7 1.7m0 -1.7l-1.7 1.7M154.0 242.9l1.7 1.7m0 -1.7l-1.7 1.7M154.4 244.3l1.7 1.7m0 -1.7l-1.7 1.7M154.8 245.5l1.7 1.7m0 -1.7l-1.7 1.7M155.2 245.8l1.7 1.7m0 -1.7l-1.7 1.7M155.6 245.5l1.7 1.7m0 -1.7l-1.7 1.7M156.0 246.2l1.7 1.7m0 -1.7l-1.7 1.7M156.4 245.3l1.7 1.7m0 -1.7l-1.7 1.7M156.8 248.4l1.7 1.7m0 -1.7l-1.7 1.7M157.2 244.6l1.7 1.7m0 -1.7l-1.7 1.7M157.6 244.8l1.7 1.7m0 -1.7l-1.7 1.7M158.0 241.2l1.7 1.7m0 -1.7l-1.7 1.7M158.4 243.6l1.7 1.7m0 -1.7l-1.7 1.7M158.8 245.3l1.7 1.7m0 -1.7l-1.7 1.7M159.2 243.8l1.7 1.7m0 -1.7l-1.7 1.7M159.6 246.2l1.7 1.7m0 -1.7l-1.7 1.7M160.0 245.2l1.7 1.7m0 -1.7l-1.7 1.7M160.4 246.9l1.7 1.7m0 -1.7l-1.7 1.7M160.8 242.3l1.7 1.7m0 -1.7l-1.7 1.7M161.2 243.4l1.7 1.7m0 -1.7l-1.7 1.7M161.6 245.8l1.7 1.7m0 -1.7l-1.7 1.7M162.1 244.2l1.7 1.7m0 -1.7l-1.7 1.7M162.5 242.7l1.7 1.7m0 -1.7l-1.7 1.7M162.9 243.3l1.7 1.7m0 -1.7l-1.7 1.7M163.3 243.4l1.7 1.7m0 -1.7l-1.7 1.7M163.7 245.1l1.7 1.7m0 -1.7l-1.7 1.7M164.1 244.7l1.7 1.7m0 -1.7l-1.7 1.7M164.5 243.6l1.7 1.7m0 -1.7l-1.7 1.7M164.9 242.4l1.7 1.7m0 -1.7l-1.7 1.7M165.3 244.8l1.7 1.7m0 -1.7l-1.7 1.7M165.7 245.1l1.7 1.7m0 -1.7l-1.7 1.7M166.1 241.9l1.7 1.7m0 -1.7l-1.7 1.7M166.5 244.7l1.7 1.7m0 -1.7l-1.7 1.7M166.9 241.9l1.7 1.7m0 -1.7l-1.7 1.7M167.3 243.0l1.7 1.7m0 -1.7l-1.7 1.7M167.7 242.1l1.7 1.7m0 -1.7l-1.7 1.7M168.1 240.8l1.7 1.7m0 -1.7l-1.7 1.7M168.5 242.2l1.7 1.7m0 -1.7l-1.7 1.7M168.9 242.0l1.7 1.7m0 -1.7l-1.7 1.7M169.3 244.3l1.7 1.7m0 -1.7l-1.7 1.7M169.7 243.9l1.7 1.7m0 -1.7l-1.7 1.7M170.2 242.0l1.7 1.7m0 -1.7l-1.7 1.7M170.6 240.7l1.7 1.7m0 -1.7l-1.7 1.7M171.0 240.9l1.7 1.7m0 -1.7l-1.7 1.7M171.4 239.5l1.7 1.7m0 -1.7l-1.7 1.7M171.8 242.3l1.7 1.7m0 -1.7l-1.7 1.7M172.2 242.3l1.7 1.7m0 -1.7l-1.7 1.7M172.6 241.2l1.7 1.7m0 -1.7l-1.7 1.7M173.0 242.5l1.7 1.7m0 -1.7l-1.7 1.7M173.4 242.5l1.7 1.7m0 -1.7l-1.7 1.7M173.8 243.8l1.7 1.7m0 -1.7l-1.7 1.7M174.2 241.0l1.7 1.7m0 -1.7l-1.7 1.7M174.6 243.7l1.7 1.7m0 -1.7l-1.7 1.7M175.0 241.5l1.7 1.7m0 -1.7l-1.7 1.7M175.4 244.1l1.7 1.7m0 -1.7l-1.7 1.7M175.8 240.6l1.7 1.7m0 -1.7l-1.7 1.7M176.2 243.4l1.7 1.7m0 -1.7l-1.7 1.7M176.6 240.8l1.7 1.7m0 -1.7l-1.7 1.7M177.0 244.1l1.7 1.7m0 -1.7l-1.7 1.7M177.4 242.5l1.7 1.7m0 -1.7l-1.7 1.7M177.8 240.2l1.7 1.7m0 -1.7l-1.7 1.7M178.2 242.9l1.7 1.7m0 -1.7l-1.7 1.7M178.7 241.6l1.7 1.7m0 -1.7l-1.7 1.7M179.1 242.4l1.7 1.7m0 -1.7l-1.7 1.7M179.5 244.8l1.7 1.7m0 -1.7l-1.7 1.7M179.9 241.2l1.7 1.7m0 -1.7l-1.7 1.7M180.3 241.0l1.7 1.7m0 -1.7l-1.7 1.7M180.7 243.1l1.7 1.7m0 -1.7l-1.7 1.7M181.1 240.7l1.7 1.7m0 -1.7l-1.7 1.7M181.5 242.6l1.7 1.7m0 -1.7l-1.7 1.7M181.9 242.8l1.7 1.7m0 -1.7l-1.7 1.7M182.3 241.4l1.7 1.7m0 -1.7l-1.7 1.7M182.7 242.3l1.7 1.7m0 -1.7l-1.7 1.7M183.1 238.2l1.7 1.7m0 -1.7l-1.7 1.7M183.5 243.5l1.7 1.7m0 -1.7l-1.7 1.7M183.9 240.2l1.7 1.7m0 -1.7l-1.7 1.7M184.3 239.9l1.7 1.7m0 -1.7l-1.7 1.7M184.7 243.9l1.7 1.7m0 -1.7l-1.7 1.7M185.1 243.6l1.7 1.7m0 -1.7l-1.7 1.7M185.5 240.3l1.7 1.7m0 -1.7l-1.7 1.7M185.9 241.8l1.7 1.7m0 -1.7l-1.7 1.7M186.3 240.5l1.7 1.7m0 -1.7l-1.7 1.7M186.8 239.4l1.7 1.7m0 -1.7l-1.7 1.7M187.2 241.5l1.7 1.7m0 -1.7l-1.7 1.7M187.6 242.4l1.7 1.7m0 -1.7l-1.7 1.7M188.0 244.7l1.7 1.7m0 -1.7l-1.7 1.7M188.4 240.6l1.7 1.7m0 -1.7l-1.7 1.7M188.8 242.1l1.7 1.7m0 -1.7l-1.7 1.7M189.2 240.4l1.7 1.7m0 -1.7l-1.7 1.7M189.6 240.4l1.7 1.7m0 -1.7l-1.7 1.7M190.0 242.6l1.7 1.7m0 -1.7l-1.7 1.7M190.4 238.3l1.7 1.7m0 -1.7l-1.7 1.7M190.8 239.2l1.7 1.7m0 -1.7l-1.7 1.7M191.2 239.5l1.7 1.7m0 -1.7l-1.7 1.7M191.6 242.2l1.7 1.7m0 -1.7l-1.7 1.7M192.0 241.1l1.7 1.7m0 -1.7l-1.7 1.7M192.4 241.3l1.7 1.7m0 -1.7l-1.7 1.7M192.8 241.1l1.7 1.7m0 -1.7l-1.7 1.7M193.2 242.0l1.7 1.7m0 -1.7l-1.7 1.7M193.6 239.8l1.7 1.7m0 -1.7l-1.7 1.7M194.0 240.1l1.7 1.7m0 -1.7l-1.7 1.7M194.4 239.8l1.7 1.7m0 -1.7l-1.7 1.7M194.8 241.0l1.7 1.7m0 -1.7l-1.7 1.7M195.3 238.5l1.7 1.7m0 -1.7l-1.7 1.7M195.7 240.0l1.7 1.7m0 -1.7l-1.7 1.7M196.1 244.0l1.7 1.7m0 -1.7l-1.7 1.7M196.5 241.0l1.7 1.7m0 -1.7l-1.7 1.7M196.9 240.2l1.7 1.7m0 -1.7l-1.7 1.7M197.3 238.8l1.7 1.7m0 -1.7l-1.7 1.7M197.7 240.5l1.7 1.7m0 -1.7l-1.7 1.7M198.1 240.4l1.7 1.7m0 -1.7l-1.7 1.7M198.5 240.9l1.7 1.7m0 -1.7l-1.7 1.7M198.9 239.0l1.7 1.7m0 -1.7l-1.7 1.7M199.3 240.5l1.7 1.7m0 -1.7l-1.7 1.7M199.7 240.7l1.7 1.7m0 -1.7l-1.7 1.7M200.1 240.9l1.7 1.7m0 -1.7l-1.7 1.7M200.5 239.0l1.7 1.7m0 -1.7l-1.7 1.7M200.9 240.5l1.7 1.7m0 -1.7l-1.7 1.7M201.3 242.0l1.7 1.7m0 -1.7l-1.7 1.7M201.7 238.8l1.7 1.7m0 -1.7l-1.7 1.7M202.1 240.6l1.7 1.7m0 -1.7l-1.7 1.7M202.5 239.1l1.7 1.7m0 -1.7l-1.7 1.7M202.9 239.0l1.7 1.7m0 -1.7l-1.7 1.7M203.3 237.8l1.7 1.7m0 -1.7l-1.7 1.7M203.8 237.9l1.7 1.7m0 -1.7l-1.7 1.7M204.2 240.1l1.7 1.7m0 -1.7l-1.7 1.7M204.6 239.5l1.7 1.7m0 -1.7l-1.7 1.7M205.0 241.0l1.7 1.7m0 -1.7l-1.7 1.7M205.4 236.9l1.7 1.7m0 -1.7l-1.7 1.7M205.8 238.5l1.7 1.7m0 -1.7l-1.7 1.7M206.2 237.1l1.7 1.7m0 -1.7l-1.7 1.7M206.6 239.4l1.7 1.7m0 -1.7l-1.7 1.7M207.0 241.8l1.7 1.7m0 -1.7l-1.7 1.7M207.4 236.8l1.7 1.7m0 -1.7l-1.7 1.7M207.8 238.7l1.7 1.7m0 -1.7l-1.7 1.7M208.2 238.6l1.7 1.7m0 -1.7l-1.7 1.7M208.6 238.7l1.7 1.7m0 -1.7l-1.7 1.7M209.0 237.8l1.7 1.7m0 -1.7l-1.7 1.7M209.4 237.9l1.7 1.7m0 -1.7l-1.7 1.7M209.8 240.8l1.7 1.7m0 -1.7l-1.7 1.7M210.2 237.0l1.7 1.7m0 -1.7l-1.7 1.7M210.6 239.2l1.7 1.7m0 -1.7l-1.7 1.7M211.0 239.1l1.7 1.7m0 -1.7l-1.7 1.7M211.4 236.0l1.7 1.7m0 -1.7l-1.7 1.7M211.9 237.0l1.7 1.7m0 -1.7l-1.7 1.7M212.3 238.7l1.7 1.7m0 -1.7l-1.7 1.7M212.7 240.8l1.7 1.7m0 -1.7l-1.7 1.7M213.1 237.9l1.7 1.7m0 -1.7l-1.7 1.7M213.5 237.3l1.7 1.7m0 -1.7l-1.7 1.7M213.9 238.1l1.7 1.7m0 -1.7l-1.7 1.7M214.3 239.7l1.7 1.7m0 -1.7l-1.7 1.7M214.7 239.0l1.7 1.7m0 -1.7l-1.7 1.7M215.1 239.6l1.7 1.7m0 -1.7l-1.7 1.7M215.5 237.5l1.7 1.7m0 -1.7l-1.7 1.7M215.9 236.6l1.7 1.7m0 -1.7l-1.7 1.7M216.3 236.3l1.7 1.7m0 -1.7l-1.7 1.7M216.7 238.7l1.7 1.7m0 -1.7l-1.7 1.7M217.1 237.3l1.7 1.7m0 -1.7l-1.7 1.7M217.5 236.8l1.7 1.7m0 -1.7l-1.7 1.7M217.9 238.2l1.7 1.7m0 -1.7l-1.7 1.7M218.3 237.6l1.7 1.7m0 -1.7l-1.7 1.7M218.7 234.5l1.7 1.7m0 -1.7l-1.7 1.7M219.1 237.1l1.7 1.7m0 -1.7l-1.7 1.7M219.5 236.1l1.7 1.7m0 -1.7l-1.7 1.7M219.9 237.8l1.7 1.7m0 -1.7l-1.7 1.7M220.4 237.1l1.7 1.7m0 -1.7l-1.7 1.7M220.8 239.5l1.7 1.7m0 -1.7l-1.7 1.7M221.2 237.1l1.7 1.7m0 -1.7l-1.7 1.7M221.6 235.4l1.7 1.7m0 -1.7l-1.7 1.7" stroke="#ffa500" stroke-width="1.45" fill="none" opacity="1.0"/><polyline points="113.1,273.7 115.9,273.7 118.7,273.7 121.5,273.7 124.3,273.7 127.1,273.7 129.9,273.7 132.7,273.7 135.5,273.7 138.3,273.7 141.1,273.7 143.9,273.7 146.7,273.7 149.5,273.7 152.3,273.7 155.1,273.7 157.9,273.7 160.7,273.7 163.6,273.7 166.4,273.7 169.2,273.7 172.0,273.7 174.8,273.7 177.6,273.7 180.4,273.7 183.2,273.7 186.0,273.7 188.8,273.7 191.6,273.7 194.4,273.7 197.2,273.7 200.0,273.7 202.8,273.7 205.6,273.7 208.4,273.7 211.2,273.7 214.0,273.7 216.8,273.7 219.6,273.7 222.4,273.7" stroke="#14144a" stroke-width="1.3" fill="none" opacity="1.0" stroke-dasharray="3.2,2"/><rect x="44.3" y="224.2" width="186.6" height="127.5" fill="none" stroke="#333" stroke-width="1.3"/><path d="M52.8 351.7v3.3M52.8 224.2v-3.3M128.2 351.7v3.3M128.2 224.2v-3.3M203.6 351.7v3.3M203.6 224.2v-3.3M44.3 351.7h-3.3M230.9 351.7h3.3M44.3 282.7h-3.3M230.9 282.7h3.3" stroke="#333" stroke-width="1"/><text x="45.9" y="239.2" font-family="Liberation Serif" font-weight="bold" font-size="16.2" letter-spacing="0.3">(d)</text><text x="98.8" y="219.3" font-family="Liberation Serif" font-style="italic" font-size="21" fill="#191970" stroke="#191970" stroke-width="0.55">T</text><text x="109.0" y="223.2" font-family="Liberation Serif" font-style="italic" font-size="16" fill="#191970" stroke="#191970" stroke-width="0.15">stab</text><path d="M140.9 211.7h14.5M140.9 215.6h14.5" stroke="#191970" stroke-width="1.3"/><text transform="translate(160.1 218.9) scale(1.08 0.9)" font-family="Liberation Serif" font-size="22" fill="#191970" stroke="#191970" stroke-width="0.5">∞</text><text x="39.1" y="358.0" text-anchor="end" font-family="Liberation Serif" font-size="18" stroke="#000" stroke-width="0.35">0</text><text x="39.1" y="289.0" text-anchor="end" font-family="Liberation Serif" font-size="18" stroke="#000" stroke-width="0.35">10</text><text transform="translate(13.9 287.1) rotate(-90)" text-anchor="middle" font-family="Liberation Serif" font-size="17.7" stroke="#000" stroke-width="0.3">Enhancement</text><text x="52.8" y="370.1" text-anchor="middle" font-family="Liberation Serif" font-size="18" stroke="#000" stroke-width="0.35">0</text><text x="128.2" y="370.1" text-anchor="middle" font-family="Liberation Serif" font-size="18" stroke="#000" stroke-width="0.35">2</text><text x="203.6" y="370.1" text-anchor="middle" font-family="Liberation Serif" font-size="18" stroke="#000" stroke-width="0.35">4</text><text x="115.8" y="389.8" font-family="Liberation Serif" font-style="italic" font-size="17.5" stroke="#000" stroke-width="0.4">t</text><path d="M122.1 394.6L129.7 377.2" stroke="#000" stroke-width="1.3"/><text x="130.9" y="389.8" font-family="Liberation Serif" font-style="italic" font-size="16" stroke="#000" stroke-width="0.4">T</text><text x="140.5" y="392.6" font-family="Liberation Serif" font-style="italic" font-size="12.8" letter-spacing="0.6" stroke="#000" stroke-width="0.3">TM</text><rect x="128.7" y="286.7" width="93.7" height="51.0" fill="#fff"/><rect x="151.9" y="286.7" width="66.3" height="51.0" fill="#fffac8"/><path d="M132.4 334.1l1.2 1.2m0 -1.2l-1.2 1.2M132.6 334.2l1.2 1.2m0 -1.2l-1.2 1.2M132.9 334.2l1.2 1.2m0 -1.2l-1.2 1.2M133.2 334.2l1.2 1.2m0 -1.2l-1.2 1.2M133.5 334.3l1.2 1.2m0 -1.2l-1.2 1.2M133.8 334.1l1.2 1.2m0 -1.2l-1.2 1.2M134.1 333.8l1.2 1.2m0 -1.2l-1.2 1.2M134.4 334.0l1.2 1.2m0 -1.2l-1.2 1.2M134.6 333.5l1.2 1.2m0 -1.2l-1.2 1.2M134.9 333.8l1.2 1.2m0 -1.2l-1.2 1.2M135.2 333.9l1.2 1.2m0 -1.2l-1.2 1.2M135.5 333.6l1.2 1.2m0 -1.2l-1.2 1.2M135.8 333.7l1.2 1.2m0 -1.2l-1.2 1.2M136.1 333.5l1.2 1.2m0 -1.2l-1.2 1.2M136.3 332.7l1.2 1.2m0 -1.2l-1.2 1.2M136.6 332.9l1.2 1.2m0 -1.2l-1.2 1.2M136.9 332.7l1.2 1.2m0 -1.2l-1.2 1.2M137.2 332.3l1.2 1.2m0 -1.2l-1.2 1.2M137.5 331.8l1.2 1.2m0 -1.2l-1.2 1.2M137.8 331.8l1.2 1.2m0 -1.2l-1.2 1.2M138.1 331.0l1.2 1.2m0 -1.2l-1.2 1.2M138.3 330.8l1.2 1.2m0 -1.2l-1.2 1.2M138.6 330.5l1.2 1.2m0 -1.2l-1.2 1.2M138.9 329.9l1.2 1.2m0 -1.2l-1.2 1.2M139.2 330.0l1.2 1.2m0 -1.2l-1.2 1.2M139.5 329.4l1.2 1.2m0 -1.2l-1.2 1.2M139.8 328.8l1.2 1.2m0 -1.2l-1.2 1.2M140.1 328.2l1.2 1.2m0 -1.2l-1.2 1.2M140.3 328.1l1.2 1.2m0 -1.2l-1.2 1.2M140.6 327.6l1.2 1.2m0 -1.2l-1.2 1.2M140.9 326.9l1.2 1.2m0 -1.2l-1.2 1.2M141.2 326.4l1.2 1.2m0 -1.2l-1.2 1.2M141.5 326.1l1.2 1.2m0 -1.2l-1.2 1.2M141.8 325.6l1.2 1.2m0 -1.2l-1.2 1.2M142.0 325.4l1.2 1.2m0 -1.2l-1.2 1.2M142.3 324.8l1.2 1.2m0 -1.2l-1.2 1.2M142.6 324.0l1.2 1.2m0 -1.2l-1.2 1.2M142.9 323.5l1.2 1.2m0 -1.2l-1.2 1.2M143.2 322.9l1.2 1.2m0 -1.2l-1.2 1.2M143.5 321.8l1.2 1.2m0 -1.2l-1.2 1.2M143.8 321.6l1.2 1.2m0 -1.2l-1.2 1.2M144.0 321.2l1.2 1.2m0 -1.2l-1.2 1.2M144.3 320.2l1.2 1.2m0 -1.2l-1.2 1.2M144.6 319.2l1.2 1.2m0 -1.2l-1.2 1.2M144.9 319.0l1.2 1.2m0 -1.2l-1.2 1.2M145.2 318.1l1.2 1.2m0 -1.2l-1.2 1.2M145.5 317.9l1.2 1.2m0 -1.2l-1.2 1.2M145.7 317.3l1.2 1.2m0 -1.2l-1.2 1.2M146.0 316.7l1.2 1.2m0 -1.2l-1.2 1.2M146.3 315.9l1.2 1.2m0 -1.2l-1.2 1.2M146.6 314.7l1.2 1.2m0 -1.2l-1.2 1.2M146.9 314.5l1.2 1.2m0 -1.2l-1.2 1.2M147.2 312.8l1.2 1.2m0 -1.2l-1.2 1.2M147.5 312.4l1.2 1.2m0 -1.2l-1.2 1.2M147.7 311.2l1.2 1.2m0 -1.2l-1.2 1.2M148.0 310.0l1.2 1.2m0 -1.2l-1.2 1.2M148.3 309.0l1.2 1.2m0 -1.2l-1.2 1.2M148.6 308.1l1.2 1.2m0 -1.2l-1.2 1.2M148.9 307.6l1.2 1.2m0 -1.2l-1.2 1.2M149.2 306.0l1.2 1.2m0 -1.2l-1.2 1.2M149.5 305.4l1.2 1.2m0 -1.2l-1.2 1.2M149.7 303.5l1.2 1.2m0 -1.2l-1.2 1.2M150.0 303.2l1.2 1.2m0 -1.2l-1.2 1.2M150.3 302.1l1.2 1.2m0 -1.2l-1.2 1.2M150.6 301.4l1.2 1.2m0 -1.2l-1.2 1.2M150.9 300.2l1.2 1.2m0 -1.2l-1.2 1.2M151.2 299.4l1.2 1.2m0 -1.2l-1.2 1.2" stroke="#6495ed" stroke-width="1.1" fill="none" opacity="1.0"/><path d="M151.2 298.1l1.6 1.6m0 -1.6l-1.6 1.6M151.5 298.3l1.6 1.6m0 -1.6l-1.6 1.6M151.8 298.0l1.6 1.6m0 -1.6l-1.6 1.6M152.1 298.2l1.6 1.6m0 -1.6l-1.6 1.6M152.4 298.1l1.6 1.6m0 -1.6l-1.6 1.6M152.7 297.7l1.6 1.6m0 -1.6l-1.6 1.6M153.0 298.3l1.6 1.6m0 -1.6l-1.6 1.6M153.2 298.5l1.6 1.6m0 -1.6l-1.6 1.6M153.5 297.9l1.6 1.6m0 -1.6l-1.6 1.6M153.8 298.3l1.6 1.6m0 -1.6l-1.6 1.6M154.1 298.1l1.6 1.6m0 -1.6l-1.6 1.6M154.4 297.8l1.6 1.6m0 -1.6l-1.6 1.6M154.7 298.2l1.6 1.6m0 -1.6l-1.6 1.6M155.0 297.8l1.6 1.6m0 -1.6l-1.6 1.6M155.2 298.2l1.6 1.6m0 -1.6l-1.6 1.6M155.5 297.7l1.6 1.6m0 -1.6l-1.6 1.6M155.8 297.7l1.6 1.6m0 -1.6l-1.6 1.6M156.1 298.2l1.6 1.6m0 -1.6l-1.6 1.6M156.4 298.1l1.6 1.6m0 -1.6l-1.6 1.6M156.7 298.2l1.6 1.6m0 -1.6l-1.6 1.6M156.9 298.0l1.6 1.6m0 -1.6l-1.6 1.6M157.2 297.8l1.6 1.6m0 -1.6l-1.6 1.6M157.5 298.4l1.6 1.6m0 -1.6l-1.6 1.6M157.8 297.8l1.6 1.6m0 -1.6l-1.6 1.6M158.1 298.4l1.6 1.6m0 -1.6l-1.6 1.6M158.4 298.3l1.6 1.6m0 -1.6l-1.6 1.6M158.7 298.5l1.6 1.6m0 -1.6l-1.6 1.6M158.9 297.5l1.6 1.6m0 -1.6l-1.6 1.6M159.2 298.0l1.6 1.6m0 -1.6l-1.6 1.6M159.5 298.0l1.6 1.6m0 -1.6l-1.6 1.6M159.8 298.2l1.6 1.6m0 -1.6l-1.6 1.6M160.1 297.8l1.6 1.6m0 -1.6l-1.6 1.6M160.4 298.6l1.6 1.6m0 -1.6l-1.6 1.6M160.6 298.0l1.6 1.6m0 -1.6l-1.6 1.6M160.9 297.5l1.6 1.6m0 -1.6l-1.6 1.6M161.2 298.1l1.6 1.6m0 -1.6l-1.6 1.6M161.5 298.0l1.6 1.6m0 -1.6l-1.6 1.6M161.8 297.9l1.6 1.6m0 -1.6l-1.6 1.6M162.1 298.3l1.6 1.6m0 -1.6l-1.6 1.6M162.4 298.1l1.6 1.6m0 -1.6l-1.6 1.6M162.6 297.8l1.6 1.6m0 -1.6l-1.6 1.6M162.9 298.0l1.6 1.6m0 -1.6l-1.6 1.6M163.2 298.0l1.6 1.6m0 -1.6l-1.6 1.6M163.5 298.1l1.6 1.6m0 -1.6l-1.6 1.6M163.8 298.0l1.6 1.6m0 -1.6l-1.6 1.6M164.1 298.0l1.6 1.6m0 -1.6l-1.6 1.6M164.4 297.7l1.6 1.6m0 -1.6l-1.6 1.6M164.6 297.9l1.6 1.6m0 -1.6l-1.6 1.6M164.9 298.1l1.6 1.6m0 -1.6l-1.6 1.6M165.2 298.7l1.6 1.6m0 -1.6l-1.6 1.6M165.5 297.9l1.6 1.6m0 -1.6l-1.6 1.6M165.8 297.9l1.6 1.6m0 -1.6l-1.6 1.6M166.1 298.3l1.6 1.6m0 -1.6l-1.6 1.6M166.3 298.6l1.6 1.6m0 -1.6l-1.6 1.6M166.6 298.4l1.6 1.6m0 -1.6l-1.6 1.6M166.9 297.8l1.6 1.6m0 -1.6l-1.6 1.6M167.2 298.3l1.6 1.6m0 -1.6l-1.6 1.6M167.5 298.2l1.6 1.6m0 -1.6l-1.6 1.6M167.8 298.0l1.6 1.6m0 -1.6l-1.6 1.6M168.1 297.8l1.6 1.6m0 -1.6l-1.6 1.6M168.3 298.1l1.6 1.6m0 -1.6l-1.6 1.6M168.6 298.1l1.6 1.6m0 -1.6l-1.6 1.6M168.9 298.2l1.6 1.6m0 -1.6l-1.6 1.6M169.2 297.7l1.6 1.6m0 -1.6l-1.6 1.6M169.5 297.8l1.6 1.6m0 -1.6l-1.6 1.6M169.8 298.1l1.6 1.6m0 -1.6l-1.6 1.6M170.0 298.4l1.6 1.6m0 -1.6l-1.6 1.6M170.3 298.3l1.6 1.6m0 -1.6l-1.6 1.6M170.6 297.9l1.6 1.6m0 -1.6l-1.6 1.6M170.9 298.3l1.6 1.6m0 -1.6l-1.6 1.6M171.2 297.9l1.6 1.6m0 -1.6l-1.6 1.6M171.5 298.0l1.6 1.6m0 -1.6l-1.6 1.6M171.8 298.0l1.6 1.6m0 -1.6l-1.6 1.6M172.0 297.9l1.6 1.6m0 -1.6l-1.6 1.6M172.3 298.0l1.6 1.6m0 -1.6l-1.6 1.6M172.6 298.3l1.6 1.6m0 -1.6l-1.6 1.6M172.9 298.2l1.6 1.6m0 -1.6l-1.6 1.6M173.2 297.5l1.6 1.6m0 -1.6l-1.6 1.6M173.5 298.4l1.6 1.6m0 -1.6l-1.6 1.6M173.8 298.2l1.6 1.6m0 -1.6l-1.6 1.6M174.0 297.8l1.6 1.6m0 -1.6l-1.6 1.6M174.3 298.1l1.6 1.6m0 -1.6l-1.6 1.6M174.6 298.3l1.6 1.6m0 -1.6l-1.6 1.6M174.9 298.4l1.6 1.6m0 -1.6l-1.6 1.6M175.2 298.0l1.6 1.6m0 -1.6l-1.6 1.6M175.5 297.8l1.6 1.6m0 -1.6l-1.6 1.6M175.7 297.7l1.6 1.6m0 -1.6l-1.6 1.6M176.0 298.1l1.6 1.6m0 -1.6l-1.6 1.6M176.3 297.8l1.6 1.6m0 -1.6l-1.6 1.6M176.6 298.4l1.6 1.6m0 -1.6l-1.6 1.6M176.9 298.1l1.6 1.6m0 -1.6l-1.6 1.6M177.2 298.3l1.6 1.6m0 -1.6l-1.6 1.6M177.5 298.1l1.6 1.6m0 -1.6l-1.6 1.6M177.7 297.9l1.6 1.6m0 -1.6l-1.6 1.6M178.0 297.8l1.6 1.6m0 -1.6l-1.6 1.6M178.3 298.4l1.6 1.6m0 -1.6l-1.6 1.6M178.6 297.8l1.6 1.6m0 -1.6l-1.6 1.6M178.9 298.2l1.6 1.6m0 -1.6l-1.6 1.6M179.2 298.4l1.6 1.6m0 -1.6l-1.6 1.6M179.5 298.2l1.6 1.6m0 -1.6l-1.6 1.6M179.7 298.5l1.6 1.6m0 -1.6l-1.6 1.6M180.0 298.1l1.6 1.6m0 -1.6l-1.6 1.6M180.3 298.0l1.6 1.6m0 -1.6l-1.6 1.6M180.6 298.2l1.6 1.6m0 -1.6l-1.6 1.6M180.9 298.0l1.6 1.6m0 -1.6l-1.6 1.6M181.2 298.2l1.6 1.6m0 -1.6l-1.6 1.6M181.4 298.1l1.6 1.6m0 -1.6l-1.6 1.6M181.7 298.5l1.6 1.6m0 -1.6l-1.6 1.6M182.0 298.1l1.6 1.6m0 -1.6l-1.6 1.6M182.3 298.3l1.6 1.6m0 -1.6l-1.6 1.6M182.6 298.2l1.6 1.6m0 -1.6l-1.6 1.6M182.9 298.1l1.6 1.6m0 -1.6l-1.6 1.6M183.2 298.1l1.6 1.6m0 -1.6l-1.6 1.6M183.4 298.5l1.6 1.6m0 -1.6l-1.6 1.6M183.7 298.5l1.6 1.6m0 -1.6l-1.6 1.6M184.0 298.2l1.6 1.6m0 -1.6l-1.6 1.6M184.3 298.0l1.6 1.6m0 -1.6l-1.6 1.6M184.6 298.0l1.6 1.6m0 -1.6l-1.6 1.6M184.9 297.9l1.6 1.6m0 -1.6l-1.6 1.6M185.1 297.8l1.6 1.6m0 -1.6l-1.6 1.6M185.4 298.0l1.6 1.6m0 -1.6l-1.6 1.6M185.7 298.1l1.6 1.6m0 -1.6l-1.6 1.6M186.0 298.4l1.6 1.6m0 -1.6l-1.6 1.6M186.3 298.4l1.6 1.6m0 -1.6l-1.6 1.6M186.6 298.3l1.6 1.6m0 -1.6l-1.6 1.6M186.9 298.1l1.6 1.6m0 -1.6l-1.6 1.6M187.1 298.1l1.6 1.6m0 -1.6l-1.6 1.6M187.4 298.1l1.6 1.6m0 -1.6l-1.6 1.6M187.7 298.2l1.6 1.6m0 -1.6l-1.6 1.6M188.0 298.0l1.6 1.6m0 -1.6l-1.6 1.6M188.3 298.1l1.6 1.6m0 -1.6l-1.6 1.6M188.6 298.1l1.6 1.6m0 -1.6l-1.6 1.6M188.9 298.1l1.6 1.6m0 -1.6l-1.6 1.6M189.1 298.3l1.6 1.6m0 -1.6l-1.6 1.6M189.4 298.4l1.6 1.6m0 -1.6l-1.6 1.6M189.7 298.0l1.6 1.6m0 -1.6l-1.6 1.6M190.0 298.0l1.6 1.6m0 -1.6l-1.6 1.6M190.3 298.2l1.6 1.6m0 -1.6l-1.6 1.6M190.6 298.3l1.6 1.6m0 -1.6l-1.6 1.6M190.8 297.6l1.6 1.6m0 -1.6l-1.6 1.6M191.1 298.3l1.6 1.6m0 -1.6l-1.6 1.6M191.4 298.2l1.6 1.6m0 -1.6l-1.6 1.6M191.7 298.1l1.6 1.6m0 -1.6l-1.6 1.6M192.0 298.4l1.6 1.6m0 -1.6l-1.6 1.6M192.3 298.1l1.6 1.6m0 -1.6l-1.6 1.6M192.6 297.7l1.6 1.6m0 -1.6l-1.6 1.6M192.8 297.9l1.6 1.6m0 -1.6l-1.6 1.6M193.1 298.0l1.6 1.6m0 -1.6l-1.6 1.6M193.4 298.0l1.6 1.6m0 -1.6l-1.6 1.6M193.7 298.1l1.6 1.6m0 -1.6l-1.6 1.6M194.0 297.9l1.6 1.6m0 -1.6l-1.6 1.6M194.3 298.2l1.6 1.6m0 -1.6l-1.6 1.6M194.5 298.3l1.6 1.6m0 -1.6l-1.6 1.6M194.8 298.1l1.6 1.6m0 -1.6l-1.6 1.6M195.1 297.9l1.6 1.6m0 -1.6l-1.6 1.6M195.4 298.1l1.6 1.6m0 -1.6l-1.6 1.6M195.7 298.0l1.6 1.6m0 -1.6l-1.6 1.6M196.0 298.7l1.6 1.6m0 -1.6l-1.6 1.6M196.3 297.9l1.6 1.6m0 -1.6l-1.6 1.6M196.5 297.6l1.6 1.6m0 -1.6l-1.6 1.6M196.8 297.8l1.6 1.6m0 -1.6l-1.6 1.6M197.1 298.2l1.6 1.6m0 -1.6l-1.6 1.6M197.4 298.4l1.6 1.6m0 -1.6l-1.6 1.6M197.7 298.1l1.6 1.6m0 -1.6l-1.6 1.6M198.0 298.4l1.6 1.6m0 -1.6l-1.6 1.6M198.3 298.0l1.6 1.6m0 -1.6l-1.6 1.6M198.5 298.3l1.6 1.6m0 -1.6l-1.6 1.6M198.8 297.9l1.6 1.6m0 -1.6l-1.6 1.6M199.1 297.8l1.6 1.6m0 -1.6l-1.6 1.6M199.4 298.7l1.6 1.6m0 -1.6l-1.6 1.6M199.7 298.1l1.6 1.6m0 -1.6l-1.6 1.6M200.0 298.4l1.6 1.6m0 -1.6l-1.6 1.6M200.2 298.5l1.6 1.6m0 -1.6l-1.6 1.6M200.5 298.3l1.6 1.6m0 -1.6l-1.6 1.6M200.8 298.2l1.6 1.6m0 -1.6l-1.6 1.6M201.1 297.9l1.6 1.6m0 -1.6l-1.6 1.6M201.4 298.6l1.6 1.6m0 -1.6l-1.6 1.6M201.7 297.9l1.6 1.6m0 -1.6l-1.6 1.6M202.0 297.7l1.6 1.6m0 -1.6l-1.6 1.6M202.2 298.0l1.6 1.6m0 -1.6l-1.6 1.6M202.5 298.0l1.6 1.6m0 -1.6l-1.6 1.6M202.8 298.2l1.6 1.6m0 -1.6l-1.6 1.6M203.1 298.5l1.6 1.6m0 -1.6l-1.6 1.6M203.4 298.1l1.6 1.6m0 -1.6l-1.6 1.6M203.7 298.1l1.6 1.6m0 -1.6l-1.6 1.6M204.0 298.0l1.6 1.6m0 -1.6l-1.6 1.6M204.2 297.5l1.6 1.6m0 -1.6l-1.6 1.6M204.5 298.0l1.6 1.6m0 -1.6l-1.6 1.6M204.8 298.1l1.6 1.6m0 -1.6l-1.6 1.6M205.1 297.8l1.6 1.6m0 -1.6l-1.6 1.6M205.4 298.5l1.6 1.6m0 -1.6l-1.6 1.6M205.7 298.5l1.6 1.6m0 -1.6l-1.6 1.6M205.9 298.3l1.6 1.6m0 -1.6l-1.6 1.6M206.2 298.4l1.6 1.6m0 -1.6l-1.6 1.6M206.5 298.0l1.6 1.6m0 -1.6l-1.6 1.6M206.8 298.3l1.6 1.6m0 -1.6l-1.6 1.6M207.1 297.8l1.6 1.6m0 -1.6l-1.6 1.6M207.4 297.8l1.6 1.6m0 -1.6l-1.6 1.6M207.7 298.0l1.6 1.6m0 -1.6l-1.6 1.6M207.9 298.3l1.6 1.6m0 -1.6l-1.6 1.6M208.2 298.0l1.6 1.6m0 -1.6l-1.6 1.6M208.5 298.0l1.6 1.6m0 -1.6l-1.6 1.6M208.8 298.5l1.6 1.6m0 -1.6l-1.6 1.6M209.1 298.1l1.6 1.6m0 -1.6l-1.6 1.6M209.4 298.0l1.6 1.6m0 -1.6l-1.6 1.6M209.6 298.2l1.6 1.6m0 -1.6l-1.6 1.6M209.9 297.8l1.6 1.6m0 -1.6l-1.6 1.6M210.2 297.9l1.6 1.6m0 -1.6l-1.6 1.6M210.5 298.4l1.6 1.6m0 -1.6l-1.6 1.6M210.8 298.2l1.6 1.6m0 -1.6l-1.6 1.6M211.1 298.4l1.6 1.6m0 -1.6l-1.6 1.6M211.4 298.1l1.6 1.6m0 -1.6l-1.6 1.6M211.6 298.4l1.6 1.6m0 -1.6l-1.6 1.6M211.9 298.0l1.6 1.6m0 -1.6l-1.6 1.6M212.2 298.1l1.6 1.6m0 -1.6l-1.6 1.6M212.5 298.0l1.6 1.6m0 -1.6l-1.6 1.6M212.8 298.3l1.6 1.6m0 -1.6l-1.6 1.6M213.1 298.6l1.6 1.6m0 -1.6l-1.6 1.6M213.4 297.8l1.6 1.6m0 -1.6l-1.6 1.6M213.6 298.3l1.6 1.6m0 -1.6l-1.6 1.6M213.9 297.9l1.6 1.6m0 -1.6l-1.6 1.6M214.2 298.1l1.6 1.6m0 -1.6l-1.6 1.6M214.5 298.1l1.6 1.6m0 -1.6l-1.6 1.6M214.8 297.8l1.6 1.6m0 -1.6l-1.6 1.6M215.1 298.1l1.6 1.6m0 -1.6l-1.6 1.6M215.3 297.9l1.6 1.6m0 -1.6l-1.6 1.6M215.6 298.6l1.6 1.6m0 -1.6l-1.6 1.6M215.9 298.0l1.6 1.6m0 -1.6l-1.6 1.6M216.2 298.3l1.6 1.6m0 -1.6l-1.6 1.6M216.5 298.3l1.6 1.6m0 -1.6l-1.6 1.6M216.8 298.2l1.6 1.6m0 -1.6l-1.6 1.6M217.1 298.1l1.6 1.6m0 -1.6l-1.6 1.6M217.3 297.8l1.6 1.6m0 -1.6l-1.6 1.6" stroke="#86a3c3" stroke-width="1.3" fill="none" opacity="1.0"/><path d="M132.3 335.1l1.4 1.4m0 -1.4l-1.4 1.4M132.5 333.9l1.4 1.4m0 -1.4l-1.4 1.4M132.8 333.6l1.4 1.4m0 -1.4l-1.4 1.4M133.1 332.5l1.4 1.4m0 -1.4l-1.4 1.4M133.4 332.5l1.4 1.4m0 -1.4l-1.4 1.4M133.7 331.6l1.4 1.4m0 -1.4l-1.4 1.4M134.0 331.4l1.4 1.4m0 -1.4l-1.4 1.4M134.3 330.5l1.4 1.4m0 -1.4l-1.4 1.4M134.5 329.8l1.4 1.4m0 -1.4l-1.4 1.4M134.8 329.7l1.4 1.4m0 -1.4l-1.4 1.4M135.1 329.1l1.4 1.4m0 -1.4l-1.4 1.4M135.4 329.0l1.4 1.4m0 -1.4l-1.4 1.4M135.7 327.9l1.4 1.4m0 -1.4l-1.4 1.4M136.0 327.2l1.4 1.4m0 -1.4l-1.4 1.4M136.2 327.1l1.4 1.4m0 -1.4l-1.4 1.4M136.5 326.0l1.4 1.4m0 -1.4l-1.4 1.4M136.8 326.5l1.4 1.4m0 -1.4l-1.4 1.4M137.1 325.9l1.4 1.4m0 -1.4l-1.4 1.4M137.4 325.2l1.4 1.4m0 -1.4l-1.4 1.4M137.7 324.4l1.4 1.4m0 -1.4l-1.4 1.4M138.0 323.7l1.4 1.4m0 -1.4l-1.4 1.4M138.2 323.2l1.4 1.4m0 -1.4l-1.4 1.4M138.5 322.6l1.4 1.4m0 -1.4l-1.4 1.4M138.8 321.8l1.4 1.4m0 -1.4l-1.4 1.4M139.1 321.7l1.4 1.4m0 -1.4l-1.4 1.4M139.4 321.4l1.4 1.4m0 -1.4l-1.4 1.4M139.7 320.8l1.4 1.4m0 -1.4l-1.4 1.4M140.0 319.2l1.4 1.4m0 -1.4l-1.4 1.4M140.2 320.1l1.4 1.4m0 -1.4l-1.4 1.4M140.5 318.9l1.4 1.4m0 -1.4l-1.4 1.4M140.8 317.8l1.4 1.4m0 -1.4l-1.4 1.4M141.1 317.6l1.4 1.4m0 -1.4l-1.4 1.4M141.4 317.4l1.4 1.4m0 -1.4l-1.4 1.4M141.7 316.6l1.4 1.4m0 -1.4l-1.4 1.4M141.9 315.8l1.4 1.4m0 -1.4l-1.4 1.4M142.2 315.1l1.4 1.4m0 -1.4l-1.4 1.4M142.5 315.2l1.4 1.4m0 -1.4l-1.4 1.4M142.8 314.2l1.4 1.4m0 -1.4l-1.4 1.4M143.1 313.8l1.4 1.4m0 -1.4l-1.4 1.4M143.4 312.9l1.4 1.4m0 -1.4l-1.4 1.4M143.7 312.3l1.4 1.4m0 -1.4l-1.4 1.4M143.9 312.3l1.4 1.4m0 -1.4l-1.4 1.4M144.2 312.1l1.4 1.4m0 -1.4l-1.4 1.4M144.5 310.9l1.4 1.4m0 -1.4l-1.4 1.4M144.8 309.9l1.4 1.4m0 -1.4l-1.4 1.4M145.1 309.7l1.4 1.4m0 -1.4l-1.4 1.4M145.4 309.3l1.4 1.4m0 -1.4l-1.4 1.4M145.6 308.0l1.4 1.4m0 -1.4l-1.4 1.4M145.9 308.6l1.4 1.4m0 -1.4l-1.4 1.4M146.2 307.4l1.4 1.4m0 -1.4l-1.4 1.4M146.5 307.3l1.4 1.4m0 -1.4l-1.4 1.4M146.8 306.5l1.4 1.4m0 -1.4l-1.4 1.4M147.1 306.0l1.4 1.4m0 -1.4l-1.4 1.4M147.4 305.0l1.4 1.4m0 -1.4l-1.4 1.4M147.6 305.2l1.4 1.4m0 -1.4l-1.4 1.4M147.9 304.5l1.4 1.4m0 -1.4l-1.4 1.4M148.2 304.3l1.4 1.4m0 -1.4l-1.4 1.4M148.5 303.0l1.4 1.4m0 -1.4l-1.4 1.4M148.8 302.8l1.4 1.4m0 -1.4l-1.4 1.4M149.1 302.0l1.4 1.4m0 -1.4l-1.4 1.4M149.4 301.9l1.4 1.4m0 -1.4l-1.4 1.4M149.6 301.1l1.4 1.4m0 -1.4l-1.4 1.4M149.9 300.1l1.4 1.4m0 -1.4l-1.4 1.4M150.2 299.9l1.4 1.4m0 -1.4l-1.4 1.4M150.5 299.1l1.4 1.4m0 -1.4l-1.4 1.4M150.8 298.6l1.4 1.4m0 -1.4l-1.4 1.4M151.1 298.3l1.4 1.4m0 -1.4l-1.4 1.4M151.3 298.4l1.4 1.4m0 -1.4l-1.4 1.4M151.6 297.5l1.4 1.4m0 -1.4l-1.4 1.4M151.9 297.7l1.4 1.4m0 -1.4l-1.4 1.4M152.2 297.3l1.4 1.4m0 -1.4l-1.4 1.4M152.5 298.2l1.4 1.4m0 -1.4l-1.4 1.4M152.8 298.0l1.4 1.4m0 -1.4l-1.4 1.4M153.1 298.0l1.4 1.4m0 -1.4l-1.4 1.4M153.3 297.6l1.4 1.4m0 -1.4l-1.4 1.4M153.6 296.9l1.4 1.4m0 -1.4l-1.4 1.4M153.9 297.0l1.4 1.4m0 -1.4l-1.4 1.4M154.2 297.1l1.4 1.4m0 -1.4l-1.4 1.4M154.5 296.9l1.4 1.4m0 -1.4l-1.4 1.4M154.8 296.6l1.4 1.4m0 -1.4l-1.4 1.4M155.1 296.9l1.4 1.4m0 -1.4l-1.4 1.4M155.3 296.6l1.4 1.4m0 -1.4l-1.4 1.4M155.6 296.6l1.4 1.4m0 -1.4l-1.4 1.4M155.9 297.2l1.4 1.4m0 -1.4l-1.4 1.4M156.2 296.6l1.4 1.4m0 -1.4l-1.4 1.4M156.5 296.0l1.4 1.4m0 -1.4l-1.4 1.4M156.8 296.4l1.4 1.4m0 -1.4l-1.4 1.4M157.0 296.3l1.4 1.4m0 -1.4l-1.4 1.4M157.3 296.3l1.4 1.4m0 -1.4l-1.4 1.4M157.6 296.2l1.4 1.4m0 -1.4l-1.4 1.4M157.9 295.6l1.4 1.4m0 -1.4l-1.4 1.4M158.2 296.0l1.4 1.4m0 -1.4l-1.4 1.4M158.5 296.1l1.4 1.4m0 -1.4l-1.4 1.4M158.8 296.7l1.4 1.4m0 -1.4l-1.4 1.4M159.0 295.8l1.4 1.4m0 -1.4l-1.4 1.4M159.3 296.2l1.4 1.4m0 -1.4l-1.4 1.4M159.6 296.1l1.4 1.4m0 -1.4l-1.4 1.4M159.9 295.2l1.4 1.4m0 -1.4l-1.4 1.4M160.2 295.1l1.4 1.4m0 -1.4l-1.4 1.4M160.5 295.9l1.4 1.4m0 -1.4l-1.4 1.4M160.7 294.9l1.4 1.4m0 -1.4l-1.4 1.4M161.0 295.0l1.4 1.4m0 -1.4l-1.4 1.4M161.3 295.3l1.4 1.4m0 -1.4l-1.4 1.4M161.6 294.7l1.4 1.4m0 -1.4l-1.4 1.4M161.9 295.4l1.4 1.4m0 -1.4l-1.4 1.4M162.2 295.2l1.4 1.4m0 -1.4l-1.4 1.4M162.5 295.2l1.4 1.4m0 -1.4l-1.4 1.4M162.7 295.0l1.4 1.4m0 -1.4l-1.4 1.4M163.0 294.3l1.4 1.4m0 -1.4l-1.4 1.4M163.3 295.0l1.4 1.4m0 -1.4l-1.4 1.4M163.6 294.8l1.4 1.4m0 -1.4l-1.4 1.4M163.9 294.7l1.4 1.4m0 -1.4l-1.4 1.4M164.2 294.3l1.4 1.4m0 -1.4l-1.4 1.4M164.5 294.4l1.4 1.4m0 -1.4l-1.4 1.4M164.7 293.9l1.4 1.4m0 -1.4l-1.4 1.4M165.0 294.4l1.4 1.4m0 -1.4l-1.4 1.4M165.3 294.5l1.4 1.4m0 -1.4l-1.4 1.4M165.6 294.2l1.4 1.4m0 -1.4l-1.4 1.4M165.9 293.9l1.4 1.4m0 -1.4l-1.4 1.4M166.2 294.2l1.4 1.4m0 -1.4l-1.4 1.4M166.4 293.7l1.4 1.4m0 -1.4l-1.4 1.4M166.7 293.2l1.4 1.4m0 -1.4l-1.4 1.4M167.0 293.8l1.4 1.4m0 -1.4l-1.4 1.4M167.3 293.6l1.4 1.4m0 -1.4l-1.4 1.4M167.6 293.1l1.4 1.4m0 -1.4l-1.4 1.4M167.9 293.6l1.4 1.4m0 -1.4l-1.4 1.4M168.2 293.6l1.4 1.4m0 -1.4l-1.4 1.4M168.4 293.7l1.4 1.4m0 -1.4l-1.4 1.4M168.7 293.1l1.4 1.4m0 -1.4l-1.4 1.4M169.0 293.0l1.4 1.4m0 -1.4l-1.4 1.4M169.3 293.1l1.4 1.4m0 -1.4l-1.4 1.4M169.6 293.0l1.4 1.4m0 -1.4l-1.4 1.4M169.9 292.6l1.4 1.4m0 -1.4l-1.4 1.4M170.1 292.6l1.4 1.4m0 -1.4l-1.4 1.4M170.4 293.3l1.4 1.4m0 -1.4l-1.4 1.4M170.7 292.9l1.4 1.4m0 -1.4l-1.4 1.4M171.0 292.8l1.4 1.4m0 -1.4l-1.4 1.4M171.3 292.6l1.4 1.4m0 -1.4l-1.4 1.4M171.6 292.9l1.4 1.4m0 -1.4l-1.4 1.4M171.9 293.0l1.4 1.4m0 -1.4l-1.4 1.4M172.1 292.9l1.4 1.4m0 -1.4l-1.4 1.4M172.4 293.3l1.4 1.4m0 -1.4l-1.4 1.4M172.7 292.7l1.4 1.4m0 -1.4l-1.4 1.4M173.0 292.9l1.4 1.4m0 -1.4l-1.4 1.4M173.3 292.6l1.4 1.4m0 -1.4l-1.4 1.4M173.6 293.0l1.4 1.4m0 -1.4l-1.4 1.4M173.9 292.8l1.4 1.4m0 -1.4l-1.4 1.4M174.1 292.9l1.4 1.4m0 -1.4l-1.4 1.4M174.4 293.0l1.4 1.4m0 -1.4l-1.4 1.4M174.7 292.4l1.4 1.4m0 -1.4l-1.4 1.4M175.0 292.7l1.4 1.4m0 -1.4l-1.4 1.4M175.3 292.4l1.4 1.4m0 -1.4l-1.4 1.4M175.6 292.9l1.4 1.4m0 -1.4l-1.4 1.4M175.8 292.5l1.4 1.4m0 -1.4l-1.4 1.4M176.1 293.0l1.4 1.4m0 -1.4l-1.4 1.4M176.4 292.6l1.4 1.4m0 -1.4l-1.4 1.4M176.7 292.6l1.4 1.4m0 -1.4l-1.4 1.4M177.0 292.3l1.4 1.4m0 -1.4l-1.4 1.4M177.3 292.4l1.4 1.4m0 -1.4l-1.4 1.4M177.6 292.5l1.4 1.4m0 -1.4l-1.4 1.4M177.8 292.1l1.4 1.4m0 -1.4l-1.4 1.4M178.1 292.3l1.4 1.4m0 -1.4l-1.4 1.4M178.4 292.2l1.4 1.4m0 -1.4l-1.4 1.4M178.7 292.1l1.4 1.4m0 -1.4l-1.4 1.4M179.0 292.3l1.4 1.4m0 -1.4l-1.4 1.4M179.3 292.4l1.4 1.4m0 -1.4l-1.4 1.4M179.6 292.2l1.4 1.4m0 -1.4l-1.4 1.4M179.8 292.4l1.4 1.4m0 -1.4l-1.4 1.4M180.1 292.1l1.4 1.4m0 -1.4l-1.4 1.4M180.4 291.9l1.4 1.4m0 -1.4l-1.4 1.4M180.7 291.9l1.4 1.4m0 -1.4l-1.4 1.4M181.0 292.3l1.4 1.4m0 -1.4l-1.4 1.4M181.3 292.6l1.4 1.4m0 -1.4l-1.4 1.4M181.5 292.2l1.4 1.4m0 -1.4l-1.4 1.4M181.8 292.2l1.4 1.4m0 -1.4l-1.4 1.4M182.1 291.8l1.4 1.4m0 -1.4l-1.4 1.4M182.4 292.2l1.4 1.4m0 -1.4l-1.4 1.4M182.7 292.1l1.4 1.4m0 -1.4l-1.4 1.4M183.0 291.8l1.4 1.4m0 -1.4l-1.4 1.4M183.3 292.2l1.4 1.4m0 -1.4l-1.4 1.4M183.5 292.1l1.4 1.4m0 -1.4l-1.4 1.4M183.8 291.5l1.4 1.4m0 -1.4l-1.4 1.4M184.1 291.5l1.4 1.4m0 -1.4l-1.4 1.4M184.4 291.8l1.4 1.4m0 -1.4l-1.4 1.4M184.7 291.9l1.4 1.4m0 -1.4l-1.4 1.4M185.0 292.2l1.4 1.4m0 -1.4l-1.4 1.4M185.2 291.7l1.4 1.4m0 -1.4l-1.4 1.4M185.5 291.9l1.4 1.4m0 -1.4l-1.4 1.4M185.8 291.8l1.4 1.4m0 -1.4l-1.4 1.4M186.1 292.0l1.4 1.4m0 -1.4l-1.4 1.4M186.4 291.8l1.4 1.4m0 -1.4l-1.4 1.4M186.7 291.9l1.4 1.4m0 -1.4l-1.4 1.4M187.0 291.7l1.4 1.4m0 -1.4l-1.4 1.4M187.2 291.3l1.4 1.4m0 -1.4l-1.4 1.4M187.5 291.6l1.4 1.4m0 -1.4l-1.4 1.4M187.8 292.3l1.4 1.4m0 -1.4l-1.4 1.4M188.1 292.0l1.4 1.4m0 -1.4l-1.4 1.4M188.4 292.2l1.4 1.4m0 -1.4l-1.4 1.4M188.7 291.9l1.4 1.4m0 -1.4l-1.4 1.4M189.0 291.5l1.4 1.4m0 -1.4l-1.4 1.4M189.2 291.5l1.4 1.4m0 -1.4l-1.4 1.4M189.5 291.8l1.4 1.4m0 -1.4l-1.4 1.4M189.8 291.5l1.4 1.4m0 -1.4l-1.4 1.4M190.1 291.8l1.4 1.4m0 -1.4l-1.4 1.4M190.4 292.0l1.4 1.4m0 -1.4l-1.4 1.4M190.7 292.0l1.4 1.4m0 -1.4l-1.4 1.4M190.9 291.8l1.4 1.4m0 -1.4l-1.4 1.4M191.2 291.1l1.4 1.4m0 -1.4l-1.4 1.4M191.5 291.9l1.4 1.4m0 -1.4l-1.4 1.4M191.8 291.1l1.4 1.4m0 -1.4l-1.4 1.4M192.1 291.1l1.4 1.4m0 -1.4l-1.4 1.4M192.4 291.5l1.4 1.4m0 -1.4l-1.4 1.4M192.7 291.5l1.4 1.4m0 -1.4l-1.4 1.4M192.9 291.6l1.4 1.4m0 -1.4l-1.4 1.4M193.2 291.4l1.4 1.4m0 -1.4l-1.4 1.4M193.5 291.2l1.4 1.4m0 -1.4l-1.4 1.4M193.8 291.4l1.4 1.4m0 -1.4l-1.4 1.4M194.1 291.1l1.4 1.4m0 -1.4l-1.4 1.4M194.4 291.0l1.4 1.4m0 -1.4l-1.4 1.4M194.6 291.2l1.4 1.4m0 -1.4l-1.4 1.4M194.9 291.2l1.4 1.4m0 -1.4l-1.4 1.4M195.2 291.3l1.4 1.4m0 -1.4l-1.4 1.4M195.5 291.2l1.4 1.4m0 -1.4l-1.4 1.4M195.8 291.6l1.4 1.4m0 -1.4l-1.4 1.4M196.1 291.1l1.4 1.4m0 -1.4l-1.4 1.4M196.4 291.2l1.4 1.4m0 -1.4l-1.4 1.4M196.6 291.5l1.4 1.4m0 -1.4l-1.4 1.4M196.9 290.6l1.4 1.4m0 -1.4l-1.4 1.4M197.2 291.5l1.4 1.4m0 -1.4l-1.4 1.4M197.5 291.5l1.4 1.4m0 -1.4l-1.4 1.4M197.8 291.1l1.4 1.4m0 -1.4l-1.4 1.4M198.1 291.8l1.4 1.4m0 -1.4l-1.4 1.4M198.4 291.4l1.4 1.4m0 -1.4l-1.4 1.4M198.6 291.6l1.4 1.4m0 -1.4l-1.4 1.4M198.9 291.4l1.4 1.4m0 -1.4l-1.4 1.4M199.2 291.1l1.4 1.4m0 -1.4l-1.4 1.4M199.5 291.0l1.4 1.4m0 -1.4l-1.4 1.4M199.8 290.7l1.4 1.4m0 -1.4l-1.4 1.4M200.1 290.8l1.4 1.4m0 -1.4l-1.4 1.4M200.3 290.7l1.4 1.4m0 -1.4l-1.4 1.4M200.6 290.8l1.4 1.4m0 -1.4l-1.4 1.4M200.9 291.2l1.4 1.4m0 -1.4l-1.4 1.4M201.2 290.6l1.4 1.4m0 -1.4l-1.4 1.4M201.5 291.1l1.4 1.4m0 -1.4l-1.4 1.4M201.8 291.2l1.4 1.4m0 -1.4l-1.4 1.4M202.1 290.5l1.4 1.4m0 -1.4l-1.4 1.4M202.3 290.7l1.4 1.4m0 -1.4l-1.4 1.4M202.6 290.8l1.4 1.4m0 -1.4l-1.4 1.4M202.9 290.7l1.4 1.4m0 -1.4l-1.4 1.4M203.2 290.6l1.4 1.4m0 -1.4l-1.4 1.4M203.5 291.3l1.4 1.4m0 -1.4l-1.4 1.4M203.8 290.9l1.4 1.4m0 -1.4l-1.4 1.4M204.1 291.2l1.4 1.4m0 -1.4l-1.4 1.4M204.3 290.8l1.4 1.4m0 -1.4l-1.4 1.4M204.6 291.0l1.4 1.4m0 -1.4l-1.4 1.4M204.9 290.4l1.4 1.4m0 -1.4l-1.4 1.4M205.2 290.6l1.4 1.4m0 -1.4l-1.4 1.4M205.5 291.0l1.4 1.4m0 -1.4l-1.4 1.4M205.8 290.7l1.4 1.4m0 -1.4l-1.4 1.4M206.0 291.1l1.4 1.4m0 -1.4l-1.4 1.4M206.3 290.7l1.4 1.4m0 -1.4l-1.4 1.4M206.6 290.5l1.4 1.4m0 -1.4l-1.4 1.4M206.9 290.6l1.4 1.4m0 -1.4l-1.4 1.4M207.2 291.3l1.4 1.4m0 -1.4l-1.4 1.4M207.5 290.7l1.4 1.4m0 -1.4l-1.4 1.4M207.8 290.5l1.4 1.4m0 -1.4l-1.4 1.4M208.0 290.5l1.4 1.4m0 -1.4l-1.4 1.4M208.3 290.2l1.4 1.4m0 -1.4l-1.4 1.4M208.6 291.0l1.4 1.4m0 -1.4l-1.4 1.4M208.9 290.4l1.4 1.4m0 -1.4l-1.4 1.4M209.2 290.7l1.4 1.4m0 -1.4l-1.4 1.4M209.5 290.5l1.4 1.4m0 -1.4l-1.4 1.4M209.7 290.4l1.4 1.4m0 -1.4l-1.4 1.4M210.0 290.3l1.4 1.4m0 -1.4l-1.4 1.4M210.3 290.6l1.4 1.4m0 -1.4l-1.4 1.4M210.6 290.4l1.4 1.4m0 -1.4l-1.4 1.4M210.9 290.8l1.4 1.4m0 -1.4l-1.4 1.4M211.2 290.8l1.4 1.4m0 -1.4l-1.4 1.4M211.5 290.2l1.4 1.4m0 -1.4l-1.4 1.4M211.7 290.4l1.4 1.4m0 -1.4l-1.4 1.4M212.0 290.9l1.4 1.4m0 -1.4l-1.4 1.4M212.3 290.6l1.4 1.4m0 -1.4l-1.4 1.4M212.6 290.3l1.4 1.4m0 -1.4l-1.4 1.4M212.9 289.8l1.4 1.4m0 -1.4l-1.4 1.4M213.2 289.9l1.4 1.4m0 -1.4l-1.4 1.4M213.5 290.0l1.4 1.4m0 -1.4l-1.4 1.4M213.7 290.8l1.4 1.4m0 -1.4l-1.4 1.4M214.0 290.2l1.4 1.4m0 -1.4l-1.4 1.4M214.3 290.0l1.4 1.4m0 -1.4l-1.4 1.4M214.6 290.1l1.4 1.4m0 -1.4l-1.4 1.4M214.9 290.0l1.4 1.4m0 -1.4l-1.4 1.4M215.2 290.2l1.4 1.4m0 -1.4l-1.4 1.4M215.4 289.6l1.4 1.4m0 -1.4l-1.4 1.4M215.7 289.6l1.4 1.4m0 -1.4l-1.4 1.4M216.0 290.1l1.4 1.4m0 -1.4l-1.4 1.4M216.3 290.4l1.4 1.4m0 -1.4l-1.4 1.4M216.6 289.4l1.4 1.4m0 -1.4l-1.4 1.4M216.9 290.2l1.4 1.4m0 -1.4l-1.4 1.4M217.2 289.6l1.4 1.4m0 -1.4l-1.4 1.4M217.4 289.4l1.4 1.4m0 -1.4l-1.4 1.4" stroke="#ffa500" stroke-width="1.2" fill="none" opacity="1.0"/><rect x="128.7" y="286.7" width="93.7" height="51.0" fill="none" stroke="#111" stroke-width="1.2"/><path d="M133.0 337.7v2M170.8 337.7v2M208.7 337.7v2M128.7 336.0h-2M128.7 315.1h-2M128.7 294.2h-2" stroke="#111" stroke-width="0.9"/><text x="133.0" y="348.5" text-anchor="middle" font-family="Liberation Serif" font-size="9.2" stroke="#000" stroke-width="0.25">0</text><text x="170.8" y="348.5" text-anchor="middle" font-family="Liberation Serif" font-size="9.2" stroke="#000" stroke-width="0.25">2</text><text x="208.7" y="348.5" text-anchor="middle" font-family="Liberation Serif" font-size="9.2" stroke="#000" stroke-width="0.25">4</text><text x="125.4" y="339.3" text-anchor="end" font-family="Liberation Serif" font-size="9.2" stroke="#000" stroke-width="0.25">0</text><text x="125.4" y="318.4" text-anchor="end" font-family="Liberation Serif" font-size="9.2" stroke="#000" stroke-width="0.25">10</text><text x="125.4" y="297.5" text-anchor="end" font-family="Liberation Serif" font-size="9.2" stroke="#000" stroke-width="0.25">20</text><rect x="292.9" y="224.2" width="121.0" height="127.5" fill="#fffac8"/><path d="M254.3 347.7l1.7 1.7m0 -1.7l-1.7 1.7M254.7 346.2l1.7 1.7m0 -1.7l-1.7 1.7M255.1 346.7l1.7 1.7m0 -1.7l-1.7 1.7M255.5 345.5l1.7 1.7m0 -1.7l-1.7 1.7M256.0 345.5l1.7 1.7m0 -1.7l-1.7 1.7M256.4 343.6l1.7 1.7m0 -1.7l-1.7 1.7M256.8 344.7l1.7 1.7m0 -1.7l-1.7 1.7M257.2 345.1l1.7 1.7m0 -1.7l-1.7 1.7M257.6 343.7l1.7 1.7m0 -1.7l-1.7 1.7M258.0 344.9l1.7 1.7m0 -1.7l-1.7 1.7M258.4 344.8l1.7 1.7m0 -1.7l-1.7 1.7M258.8 341.8l1.7 1.7m0 -1.7l-1.7 1.7M259.2 344.8l1.7 1.7m0 -1.7l-1.7 1.7M259.6 344.2l1.7 1.7m0 -1.7l-1.7 1.7M260.0 343.4l1.7 1.7m0 -1.7l-1.7 1.7M260.4 344.3l1.7 1.7m0 -1.7l-1.7 1.7M260.8 345.2l1.7 1.7m0 -1.7l-1.7 1.7M261.2 341.6l1.7 1.7m0 -1.7l-1.7 1.7M261.6 343.3l1.7 1.7m0 -1.7l-1.7 1.7M262.0 342.8l1.7 1.7m0 -1.7l-1.7 1.7M262.4 342.4l1.7 1.7m0 -1.7l-1.7 1.7M262.8 342.8l1.7 1.7m0 -1.7l-1.7 1.7M263.2 342.7l1.7 1.7m0 -1.7l-1.7 1.7M263.6 341.2l1.7 1.7m0 -1.7l-1.7 1.7M264.0 338.3l1.7 1.7m0 -1.7l-1.7 1.7M264.5 339.3l1.7 1.7m0 -1.7l-1.7 1.7M264.9 338.5l1.7 1.7m0 -1.7l-1.7 1.7M265.3 340.2l1.7 1.7m0 -1.7l-1.7 1.7M265.7 337.9l1.7 1.7m0 -1.7l-1.7 1.7M266.1 338.4l1.7 1.7m0 -1.7l-1.7 1.7M266.5 335.7l1.7 1.7m0 -1.7l-1.7 1.7M266.9 336.0l1.7 1.7m0 -1.7l-1.7 1.7M267.3 335.0l1.7 1.7m0 -1.7l-1.7 1.7M267.7 334.4l1.7 1.7m0 -1.7l-1.7 1.7M268.1 334.2l1.7 1.7m0 -1.7l-1.7 1.7M268.5 334.5l1.7 1.7m0 -1.7l-1.7 1.7M268.9 331.6l1.7 1.7m0 -1.7l-1.7 1.7M269.3 332.9l1.7 1.7m0 -1.7l-1.7 1.7M269.7 332.0l1.7 1.7m0 -1.7l-1.7 1.7M270.1 330.4l1.7 1.7m0 -1.7l-1.7 1.7M270.5 330.1l1.7 1.7m0 -1.7l-1.7 1.7M270.9 328.4l1.7 1.7m0 -1.7l-1.7 1.7M271.3 326.9l1.7 1.7m0 -1.7l-1.7 1.7M271.7 327.0l1.7 1.7m0 -1.7l-1.7 1.7M272.1 326.3l1.7 1.7m0 -1.7l-1.7 1.7M272.6 325.8l1.7 1.7m0 -1.7l-1.7 1.7M273.0 324.2l1.7 1.7m0 -1.7l-1.7 1.7M273.4 326.2l1.7 1.7m0 -1.7l-1.7 1.7M273.8 322.9l1.7 1.7m0 -1.7l-1.7 1.7M274.2 323.2l1.7 1.7m0 -1.7l-1.7 1.7M274.6 322.5l1.7 1.7m0 -1.7l-1.7 1.7M275.0 320.2l1.7 1.7m0 -1.7l-1.7 1.7M275.4 319.6l1.7 1.7m0 -1.7l-1.7 1.7M275.8 317.6l1.7 1.7m0 -1.7l-1.7 1.7M276.2 316.1l1.7 1.7m0 -1.7l-1.7 1.7M276.6 318.6l1.7 1.7m0 -1.7l-1.7 1.7M277.0 315.3l1.7 1.7m0 -1.7l-1.7 1.7M277.4 312.1l1.7 1.7m0 -1.7l-1.7 1.7M277.8 312.3l1.7 1.7m0 -1.7l-1.7 1.7M278.2 310.7l1.7 1.7m0 -1.7l-1.7 1.7M278.6 311.0l1.7 1.7m0 -1.7l-1.7 1.7M279.0 311.6l1.7 1.7m0 -1.7l-1.7 1.7M279.4 310.3l1.7 1.7m0 -1.7l-1.7 1.7M279.8 307.4l1.7 1.7m0 -1.7l-1.7 1.7M280.2 306.1l1.7 1.7m0 -1.7l-1.7 1.7M280.6 306.9l1.7 1.7m0 -1.7l-1.7 1.7M281.1 305.4l1.7 1.7m0 -1.7l-1.7 1.7M281.5 303.8l1.7 1.7m0 -1.7l-1.7 1.7M281.9 304.9l1.7 1.7m0 -1.7l-1.7 1.7M282.3 302.4l1.7 1.7m0 -1.7l-1.7 1.7M282.7 299.3l1.7 1.7m0 -1.7l-1.7 1.7M283.1 297.1l1.7 1.7m0 -1.7l-1.7 1.7M283.5 297.9l1.7 1.7m0 -1.7l-1.7 1.7M283.9 294.3l1.7 1.7m0 -1.7l-1.7 1.7M284.3 295.1l1.7 1.7m0 -1.7l-1.7 1.7M284.7 293.8l1.7 1.7m0 -1.7l-1.7 1.7M285.1 293.7l1.7 1.7m0 -1.7l-1.7 1.7M285.5 288.8l1.7 1.7m0 -1.7l-1.7 1.7M285.9 288.6l1.7 1.7m0 -1.7l-1.7 1.7M286.3 284.1l1.7 1.7m0 -1.7l-1.7 1.7M286.7 284.6l1.7 1.7m0 -1.7l-1.7 1.7M287.1 283.2l1.7 1.7m0 -1.7l-1.7 1.7M287.5 283.6l1.7 1.7m0 -1.7l-1.7 1.7M287.9 278.6l1.7 1.7m0 -1.7l-1.7 1.7M288.3 278.9l1.7 1.7m0 -1.7l-1.7 1.7M288.7 277.1l1.7 1.7m0 -1.7l-1.7 1.7M289.1 277.6l1.7 1.7m0 -1.7l-1.7 1.7M289.6 272.8l1.7 1.7m0 -1.7l-1.7 1.7M290.0 271.1l1.7 1.7m0 -1.7l-1.7 1.7M290.4 271.2l1.7 1.7m0 -1.7l-1.7 1.7M290.8 268.9l1.7 1.7m0 -1.7l-1.7 1.7M291.2 267.0l1.7 1.7m0 -1.7l-1.7 1.7M291.6 264.8l1.7 1.7m0 -1.7l-1.7 1.7M292.0 264.0l1.7 1.7m0 -1.7l-1.7 1.7M292.4 262.4l1.7 1.7m0 -1.7l-1.7 1.7M292.8 264.6l1.7 1.7m0 -1.7l-1.7 1.7M293.2 265.2l1.7 1.7m0 -1.7l-1.7 1.7M293.6 265.3l1.7 1.7m0 -1.7l-1.7 1.7M294.0 267.7l1.7 1.7m0 -1.7l-1.7 1.7M294.4 266.1l1.7 1.7m0 -1.7l-1.7 1.7M294.8 264.5l1.7 1.7m0 -1.7l-1.7 1.7M295.2 265.5l1.7 1.7m0 -1.7l-1.7 1.7M295.6 266.8l1.7 1.7m0 -1.7l-1.7 1.7M296.0 265.8l1.7 1.7m0 -1.7l-1.7 1.7M296.4 268.5l1.7 1.7m0 -1.7l-1.7 1.7M296.8 266.9l1.7 1.7m0 -1.7l-1.7 1.7M297.2 266.3l1.7 1.7m0 -1.7l-1.7 1.7M297.7 266.3l1.7 1.7m0 -1.7l-1.7 1.7M298.1 268.1l1.7 1.7m0 -1.7l-1.7 1.7M298.5 266.6l1.7 1.7m0 -1.7l-1.7 1.7M298.9 265.8l1.7 1.7m0 -1.7l-1.7 1.7M299.3 268.4l1.7 1.7m0 -1.7l-1.7 1.7M299.7 267.4l1.7 1.7m0 -1.7l-1.7 1.7M300.1 270.0l1.7 1.7m0 -1.7l-1.7 1.7M300.5 270.6l1.7 1.7m0 -1.7l-1.7 1.7M300.9 268.2l1.7 1.7m0 -1.7l-1.7 1.7M301.3 269.0l1.7 1.7m0 -1.7l-1.7 1.7M301.7 269.1l1.7 1.7m0 -1.7l-1.7 1.7M302.1 270.1l1.7 1.7m0 -1.7l-1.7 1.7M302.5 270.0l1.7 1.7m0 -1.7l-1.7 1.7M302.9 269.1l1.7 1.7m0 -1.7l-1.7 1.7M303.3 268.4l1.7 1.7m0 -1.7l-1.7 1.7M303.7 270.6l1.7 1.7m0 -1.7l-1.7 1.7M304.1 272.3l1.7 1.7m0 -1.7l-1.7 1.7M304.5 269.5l1.7 1.7m0 -1.7l-1.7 1.7M304.9 270.4l1.7 1.7m0 -1.7l-1.7 1.7M305.3 270.6l1.7 1.7m0 -1.7l-1.7 1.7M305.7 271.3l1.7 1.7m0 -1.7l-1.7 1.7M306.2 269.3l1.7 1.7m0 -1.7l-1.7 1.7M306.6 271.9l1.7 1.7m0 -1.7l-1.7 1.7M307.0 271.6l1.7 1.7m0 -1.7l-1.7 1.7M307.4 274.3l1.7 1.7m0 -1.7l-1.7 1.7M307.8 273.2l1.7 1.7m0 -1.7l-1.7 1.7M308.2 273.5l1.7 1.7m0 -1.7l-1.7 1.7M308.6 273.1l1.7 1.7m0 -1.7l-1.7 1.7M309.0 272.9l1.7 1.7m0 -1.7l-1.7 1.7M309.4 274.3l1.7 1.7m0 -1.7l-1.7 1.7M309.8 271.9l1.7 1.7m0 -1.7l-1.7 1.7M310.2 275.1l1.7 1.7m0 -1.7l-1.7 1.7M310.6 274.6l1.7 1.7m0 -1.7l-1.7 1.7M311.0 274.1l1.7 1.7m0 -1.7l-1.7 1.7M311.4 275.9l1.7 1.7m0 -1.7l-1.7 1.7M311.8 274.2l1.7 1.7m0 -1.7l-1.7 1.7M312.2 274.3l1.7 1.7m0 -1.7l-1.7 1.7M312.6 275.5l1.7 1.7m0 -1.7l-1.7 1.7M313.0 273.4l1.7 1.7m0 -1.7l-1.7 1.7M313.4 275.5l1.7 1.7m0 -1.7l-1.7 1.7M313.8 275.4l1.7 1.7m0 -1.7l-1.7 1.7M314.3 276.9l1.7 1.7m0 -1.7l-1.7 1.7M314.7 277.9l1.7 1.7m0 -1.7l-1.7 1.7M315.1 277.0l1.7 1.7m0 -1.7l-1.7 1.7M315.5 276.8l1.7 1.7m0 -1.7l-1.7 1.7M315.9 277.2l1.7 1.7m0 -1.7l-1.7 1.7M316.3 276.1l1.7 1.7m0 -1.7l-1.7 1.7M316.7 279.6l1.7 1.7m0 -1.7l-1.7 1.7M317.1 278.4l1.7 1.7m0 -1.7l-1.7 1.7M317.5 279.4l1.7 1.7m0 -1.7l-1.7 1.7M317.9 276.3l1.7 1.7m0 -1.7l-1.7 1.7M318.3 278.4l1.7 1.7m0 -1.7l-1.7 1.7M318.7 278.6l1.7 1.7m0 -1.7l-1.7 1.7M319.1 279.4l1.7 1.7m0 -1.7l-1.7 1.7M319.5 277.5l1.7 1.7m0 -1.7l-1.7 1.7M319.9 279.0l1.7 1.7m0 -1.7l-1.7 1.7M320.3 278.6l1.7 1.7m0 -1.7l-1.7 1.7M320.7 281.1l1.7 1.7m0 -1.7l-1.7 1.7M321.1 278.0l1.7 1.7m0 -1.7l-1.7 1.7M321.5 279.0l1.7 1.7m0 -1.7l-1.7 1.7M321.9 279.0l1.7 1.7m0 -1.7l-1.7 1.7M322.3 278.5l1.7 1.7m0 -1.7l-1.7 1.7M322.8 280.2l1.7 1.7m0 -1.7l-1.7 1.7M323.2 280.3l1.7 1.7m0 -1.7l-1.7 1.7M323.6 279.6l1.7 1.7m0 -1.7l-1.7 1.7M324.0 280.1l1.7 1.7m0 -1.7l-1.7 1.7M324.4 281.0l1.7 1.7m0 -1.7l-1.7 1.7M324.8 280.9l1.7 1.7m0 -1.7l-1.7 1.7M325.2 281.6l1.7 1.7m0 -1.7l-1.7 1.7M325.6 280.6l1.7 1.7m0 -1.7l-1.7 1.7M326.0 280.5l1.7 1.7m0 -1.7l-1.7 1.7M326.4 281.7l1.7 1.7m0 -1.7l-1.7 1.7M326.8 279.9l1.7 1.7m0 -1.7l-1.7 1.7M327.2 283.7l1.7 1.7m0 -1.7l-1.7 1.7M327.6 282.5l1.7 1.7m0 -1.7l-1.7 1.7M328.0 280.7l1.7 1.7m0 -1.7l-1.7 1.7M328.4 283.1l1.7 1.7m0 -1.7l-1.7 1.7M328.8 284.5l1.7 1.7m0 -1.7l-1.7 1.7M329.2 281.6l1.7 1.7m0 -1.7l-1.7 1.7M329.6 282.7l1.7 1.7m0 -1.7l-1.7 1.7M330.0 284.6l1.7 1.7m0 -1.7l-1.7 1.7M330.4 282.7l1.7 1.7m0 -1.7l-1.7 1.7M330.9 284.7l1.7 1.7m0 -1.7l-1.7 1.7M331.3 285.1l1.7 1.7m0 -1.7l-1.7 1.7M331.7 284.0l1.7 1.7m0 -1.7l-1.7 1.7M332.1 284.4l1.7 1.7m0 -1.7l-1.7 1.7M332.5 285.2l1.7 1.7m0 -1.7l-1.7 1.7M332.9 284.6l1.7 1.7m0 -1.7l-1.7 1.7M333.3 285.3l1.7 1.7m0 -1.7l-1.7 1.7M333.7 284.3l1.7 1.7m0 -1.7l-1.7 1.7M334.1 284.5l1.7 1.7m0 -1.7l-1.7 1.7M334.5 283.9l1.7 1.7m0 -1.7l-1.7 1.7M334.9 285.2l1.7 1.7m0 -1.7l-1.7 1.7M335.3 286.2l1.7 1.7m0 -1.7l-1.7 1.7M335.7 286.3l1.7 1.7m0 -1.7l-1.7 1.7M336.1 285.3l1.7 1.7m0 -1.7l-1.7 1.7M336.5 283.6l1.7 1.7m0 -1.7l-1.7 1.7M336.9 284.4l1.7 1.7m0 -1.7l-1.7 1.7M337.3 286.1l1.7 1.7m0 -1.7l-1.7 1.7M337.7 284.6l1.7 1.7m0 -1.7l-1.7 1.7M338.1 286.9l1.7 1.7m0 -1.7l-1.7 1.7M338.5 284.7l1.7 1.7m0 -1.7l-1.7 1.7M338.9 286.3l1.7 1.7m0 -1.7l-1.7 1.7M339.4 285.2l1.7 1.7m0 -1.7l-1.7 1.7M339.8 285.5l1.7 1.7m0 -1.7l-1.7 1.7M340.2 286.5l1.7 1.7m0 -1.7l-1.7 1.7M340.6 286.0l1.7 1.7m0 -1.7l-1.7 1.7M341.0 287.6l1.7 1.7m0 -1.7l-1.7 1.7M341.4 286.6l1.7 1.7m0 -1.7l-1.7 1.7M341.8 285.6l1.7 1.7m0 -1.7l-1.7 1.7M342.2 282.5l1.7 1.7m0 -1.7l-1.7 1.7M342.6 286.2l1.7 1.7m0 -1.7l-1.7 1.7M343.0 286.9l1.7 1.7m0 -1.7l-1.7 1.7M343.4 288.2l1.7 1.7m0 -1.7l-1.7 1.7M343.8 286.2l1.7 1.7m0 -1.7l-1.7 1.7M344.2 289.1l1.7 1.7m0 -1.7l-1.7 1.7M344.6 288.3l1.7 1.7m0 -1.7l-1.7 1.7M345.0 287.2l1.7 1.7m0 -1.7l-1.7 1.7M345.4 289.0l1.7 1.7m0 -1.7l-1.7 1.7M345.8 286.2l1.7 1.7m0 -1.7l-1.7 1.7M346.2 286.8l1.7 1.7m0 -1.7l-1.7 1.7M346.6 288.6l1.7 1.7m0 -1.7l-1.7 1.7M347.0 288.7l1.7 1.7m0 -1.7l-1.7 1.7M347.4 289.6l1.7 1.7m0 -1.7l-1.7 1.7M347.9 289.8l1.7 1.7m0 -1.7l-1.7 1.7M348.3 288.0l1.7 1.7m0 -1.7l-1.7 1.7M348.7 288.0l1.7 1.7m0 -1.7l-1.7 1.7M349.1 288.4l1.7 1.7m0 -1.7l-1.7 1.7M349.5 288.6l1.7 1.7m0 -1.7l-1.7 1.7M349.9 289.5l1.7 1.7m0 -1.7l-1.7 1.7M350.3 288.7l1.7 1.7m0 -1.7l-1.7 1.7M350.7 290.7l1.7 1.7m0 -1.7l-1.7 1.7M351.1 289.3l1.7 1.7m0 -1.7l-1.7 1.7M351.5 287.9l1.7 1.7m0 -1.7l-1.7 1.7M351.9 288.2l1.7 1.7m0 -1.7l-1.7 1.7M352.3 290.1l1.7 1.7m0 -1.7l-1.7 1.7M352.7 290.1l1.7 1.7m0 -1.7l-1.7 1.7M353.1 288.4l1.7 1.7m0 -1.7l-1.7 1.7M353.5 288.1l1.7 1.7m0 -1.7l-1.7 1.7M353.9 291.7l1.7 1.7m0 -1.7l-1.7 1.7M354.3 290.7l1.7 1.7m0 -1.7l-1.7 1.7M354.7 290.1l1.7 1.7m0 -1.7l-1.7 1.7M355.1 289.2l1.7 1.7m0 -1.7l-1.7 1.7M355.5 291.4l1.7 1.7m0 -1.7l-1.7 1.7M356.0 290.0l1.7 1.7m0 -1.7l-1.7 1.7M356.4 291.1l1.7 1.7m0 -1.7l-1.7 1.7M356.8 288.4l1.7 1.7m0 -1.7l-1.7 1.7M357.2 290.6l1.7 1.7m0 -1.7l-1.7 1.7M357.6 291.3l1.7 1.7m0 -1.7l-1.7 1.7M358.0 291.6l1.7 1.7m0 -1.7l-1.7 1.7M358.4 290.3l1.7 1.7m0 -1.7l-1.7 1.7M358.8 290.8l1.7 1.7m0 -1.7l-1.7 1.7M359.2 292.7l1.7 1.7m0 -1.7l-1.7 1.7M359.6 291.5l1.7 1.7m0 -1.7l-1.7 1.7M360.0 293.2l1.7 1.7m0 -1.7l-1.7 1.7M360.4 292.7l1.7 1.7m0 -1.7l-1.7 1.7M360.8 293.4l1.7 1.7m0 -1.7l-1.7 1.7M361.2 293.5l1.7 1.7m0 -1.7l-1.7 1.7M361.6 293.0l1.7 1.7m0 -1.7l-1.7 1.7M362.0 293.4l1.7 1.7m0 -1.7l-1.7 1.7M362.4 292.0l1.7 1.7m0 -1.7l-1.7 1.7M362.8 291.8l1.7 1.7m0 -1.7l-1.7 1.7M363.2 293.0l1.7 1.7m0 -1.7l-1.7 1.7M363.6 294.0l1.7 1.7m0 -1.7l-1.7 1.7M364.0 292.1l1.7 1.7m0 -1.7l-1.7 1.7M364.5 295.2l1.7 1.7m0 -1.7l-1.7 1.7M364.9 295.2l1.7 1.7m0 -1.7l-1.7 1.7M365.3 292.5l1.7 1.7m0 -1.7l-1.7 1.7M365.7 292.7l1.7 1.7m0 -1.7l-1.7 1.7M366.1 292.5l1.7 1.7m0 -1.7l-1.7 1.7M366.5 293.9l1.7 1.7m0 -1.7l-1.7 1.7M366.9 295.1l1.7 1.7m0 -1.7l-1.7 1.7M367.3 294.4l1.7 1.7m0 -1.7l-1.7 1.7M367.7 293.4l1.7 1.7m0 -1.7l-1.7 1.7M368.1 294.9l1.7 1.7m0 -1.7l-1.7 1.7M368.5 294.9l1.7 1.7m0 -1.7l-1.7 1.7M368.9 295.8l1.7 1.7m0 -1.7l-1.7 1.7M369.3 295.6l1.7 1.7m0 -1.7l-1.7 1.7M369.7 293.6l1.7 1.7m0 -1.7l-1.7 1.7M370.1 294.2l1.7 1.7m0 -1.7l-1.7 1.7M370.5 295.9l1.7 1.7m0 -1.7l-1.7 1.7M370.9 296.0l1.7 1.7m0 -1.7l-1.7 1.7M371.3 295.5l1.7 1.7m0 -1.7l-1.7 1.7M371.7 294.5l1.7 1.7m0 -1.7l-1.7 1.7M372.1 296.4l1.7 1.7m0 -1.7l-1.7 1.7M372.6 295.5l1.7 1.7m0 -1.7l-1.7 1.7M373.0 297.6l1.7 1.7m0 -1.7l-1.7 1.7M373.4 296.8l1.7 1.7m0 -1.7l-1.7 1.7M373.8 295.2l1.7 1.7m0 -1.7l-1.7 1.7M374.2 294.8l1.7 1.7m0 -1.7l-1.7 1.7M374.6 297.0l1.7 1.7m0 -1.7l-1.7 1.7M375.0 296.7l1.7 1.7m0 -1.7l-1.7 1.7M375.4 295.2l1.7 1.7m0 -1.7l-1.7 1.7M375.8 296.5l1.7 1.7m0 -1.7l-1.7 1.7M376.2 296.8l1.7 1.7m0 -1.7l-1.7 1.7M376.6 295.8l1.7 1.7m0 -1.7l-1.7 1.7M377.0 296.3l1.7 1.7m0 -1.7l-1.7 1.7M377.4 295.4l1.7 1.7m0 -1.7l-1.7 1.7M377.8 295.9l1.7 1.7m0 -1.7l-1.7 1.7M378.2 297.4l1.7 1.7m0 -1.7l-1.7 1.7M378.6 297.0l1.7 1.7m0 -1.7l-1.7 1.7M379.0 297.1l1.7 1.7m0 -1.7l-1.7 1.7M379.4 298.5l1.7 1.7m0 -1.7l-1.7 1.7M379.8 298.2l1.7 1.7m0 -1.7l-1.7 1.7M380.2 296.3l1.7 1.7m0 -1.7l-1.7 1.7M380.6 299.1l1.7 1.7m0 -1.7l-1.7 1.7M381.1 296.5l1.7 1.7m0 -1.7l-1.7 1.7M381.5 297.4l1.7 1.7m0 -1.7l-1.7 1.7M381.9 297.9l1.7 1.7m0 -1.7l-1.7 1.7M382.3 297.3l1.7 1.7m0 -1.7l-1.7 1.7M382.7 297.5l1.7 1.7m0 -1.7l-1.7 1.7M383.1 296.8l1.7 1.7m0 -1.7l-1.7 1.7M383.5 298.6l1.7 1.7m0 -1.7l-1.7 1.7M383.9 298.5l1.7 1.7m0 -1.7l-1.7 1.7M384.3 298.7l1.7 1.7m0 -1.7l-1.7 1.7M384.7 296.6l1.7 1.7m0 -1.7l-1.7 1.7M385.1 297.6l1.7 1.7m0 -1.7l-1.7 1.7M385.5 299.7l1.7 1.7m0 -1.7l-1.7 1.7M385.9 299.2l1.7 1.7m0 -1.7l-1.7 1.7M386.3 299.7l1.7 1.7m0 -1.7l-1.7 1.7M386.7 299.0l1.7 1.7m0 -1.7l-1.7 1.7M387.1 298.9l1.7 1.7m0 -1.7l-1.7 1.7M387.5 296.9l1.7 1.7m0 -1.7l-1.7 1.7M387.9 301.3l1.7 1.7m0 -1.7l-1.7 1.7M388.3 298.4l1.7 1.7m0 -1.7l-1.7 1.7M388.7 299.1l1.7 1.7m0 -1.7l-1.7 1.7M389.2 300.4l1.7 1.7m0 -1.7l-1.7 1.7M389.6 300.0l1.7 1.7m0 -1.7l-1.7 1.7M390.0 300.4l1.7 1.7m0 -1.7l-1.7 1.7M390.4 300.0l1.7 1.7m0 -1.7l-1.7 1.7M390.8 299.1l1.7 1.7m0 -1.7l-1.7 1.7M391.2 301.8l1.7 1.7m0 -1.7l-1.7 1.7M391.6 299.0l1.7 1.7m0 -1.7l-1.7 1.7M392.0 300.9l1.7 1.7m0 -1.7l-1.7 1.7M392.4 299.0l1.7 1.7m0 -1.7l-1.7 1.7M392.8 300.3l1.7 1.7m0 -1.7l-1.7 1.7M393.2 299.5l1.7 1.7m0 -1.7l-1.7 1.7M393.6 300.3l1.7 1.7m0 -1.7l-1.7 1.7M394.0 299.9l1.7 1.7m0 -1.7l-1.7 1.7M394.4 301.1l1.7 1.7m0 -1.7l-1.7 1.7M394.8 302.1l1.7 1.7m0 -1.7l-1.7 1.7M395.2 300.6l1.7 1.7m0 -1.7l-1.7 1.7M395.6 300.7l1.7 1.7m0 -1.7l-1.7 1.7M396.0 299.4l1.7 1.7m0 -1.7l-1.7 1.7M396.4 303.7l1.7 1.7m0 -1.7l-1.7 1.7M396.8 302.0l1.7 1.7m0 -1.7l-1.7 1.7M397.2 300.8l1.7 1.7m0 -1.7l-1.7 1.7M397.7 303.3l1.7 1.7m0 -1.7l-1.7 1.7M398.1 302.3l1.7 1.7m0 -1.7l-1.7 1.7M398.5 300.0l1.7 1.7m0 -1.7l-1.7 1.7M398.9 300.8l1.7 1.7m0 -1.7l-1.7 1.7M399.3 303.3l1.7 1.7m0 -1.7l-1.7 1.7M399.7 301.0l1.7 1.7m0 -1.7l-1.7 1.7M400.1 301.4l1.7 1.7m0 -1.7l-1.7 1.7M400.5 301.9l1.7 1.7m0 -1.7l-1.7 1.7M400.9 302.4l1.7 1.7m0 -1.7l-1.7 1.7M401.3 302.7l1.7 1.7m0 -1.7l-1.7 1.7M401.7 304.0l1.7 1.7m0 -1.7l-1.7 1.7M402.1 303.7l1.7 1.7m0 -1.7l-1.7 1.7M402.5 302.5l1.7 1.7m0 -1.7l-1.7 1.7M402.9 303.2l1.7 1.7m0 -1.7l-1.7 1.7M403.3 301.6l1.7 1.7m0 -1.7l-1.7 1.7M403.7 303.9l1.7 1.7m0 -1.7l-1.7 1.7M404.1 306.2l1.7 1.7m0 -1.7l-1.7 1.7M404.5 304.2l1.7 1.7m0 -1.7l-1.7 1.7M404.9 303.6l1.7 1.7m0 -1.7l-1.7 1.7M405.3 303.6l1.7 1.7m0 -1.7l-1.7 1.7M405.7 304.1l1.7 1.7m0 -1.7l-1.7 1.7M406.2 305.2l1.7 1.7m0 -1.7l-1.7 1.7M406.6 302.9l1.7 1.7m0 -1.7l-1.7 1.7M407.0 305.3l1.7 1.7m0 -1.7l-1.7 1.7M407.4 304.0l1.7 1.7m0 -1.7l-1.7 1.7M407.8 305.1l1.7 1.7m0 -1.7l-1.7 1.7M408.2 306.2l1.7 1.7m0 -1.7l-1.7 1.7M408.6 303.6l1.7 1.7m0 -1.7l-1.7 1.7M409.0 307.8l1.7 1.7m0 -1.7l-1.7 1.7M409.4 306.3l1.7 1.7m0 -1.7l-1.7 1.7M409.8 305.1l1.7 1.7m0 -1.7l-1.7 1.7M410.2 306.0l1.7 1.7m0 -1.7l-1.7 1.7M410.6 305.0l1.7 1.7m0 -1.7l-1.7 1.7M411.0 306.0l1.7 1.7m0 -1.7l-1.7 1.7M411.4 306.5l1.7 1.7m0 -1.7l-1.7 1.7M411.8 303.9l1.7 1.7m0 -1.7l-1.7 1.7M412.2 306.5l1.7 1.7m0 -1.7l-1.7 1.7M412.6 306.6l1.7 1.7m0 -1.7l-1.7 1.7M413.0 307.7l1.7 1.7m0 -1.7l-1.7 1.7M413.4 307.5l1.7 1.7m0 -1.7l-1.7 1.7M413.8 306.2l1.7 1.7m0 -1.7l-1.7 1.7M414.3 306.4l1.7 1.7m0 -1.7l-1.7 1.7M414.7 307.1l1.7 1.7m0 -1.7l-1.7 1.7M415.1 308.0l1.7 1.7m0 -1.7l-1.7 1.7M415.5 306.7l1.7 1.7m0 -1.7l-1.7 1.7M415.9 309.3l1.7 1.7m0 -1.7l-1.7 1.7M416.3 308.0l1.7 1.7m0 -1.7l-1.7 1.7M416.7 308.0l1.7 1.7m0 -1.7l-1.7 1.7M417.1 308.8l1.7 1.7m0 -1.7l-1.7 1.7M417.5 307.9l1.7 1.7m0 -1.7l-1.7 1.7M417.9 308.9l1.7 1.7m0 -1.7l-1.7 1.7M418.3 309.1l1.7 1.7m0 -1.7l-1.7 1.7M418.7 306.6l1.7 1.7m0 -1.7l-1.7 1.7M419.1 307.8l1.7 1.7m0 -1.7l-1.7 1.7M419.5 307.5l1.7 1.7m0 -1.7l-1.7 1.7M419.9 308.8l1.7 1.7m0 -1.7l-1.7 1.7M420.3 308.0l1.7 1.7m0 -1.7l-1.7 1.7M420.7 308.3l1.7 1.7m0 -1.7l-1.7 1.7M421.1 308.0l1.7 1.7m0 -1.7l-1.7 1.7M421.5 306.9l1.7 1.7m0 -1.7l-1.7 1.7M421.9 309.7l1.7 1.7m0 -1.7l-1.7 1.7M422.3 309.4l1.7 1.7m0 -1.7l-1.7 1.7M422.8 309.8l1.7 1.7m0 -1.7l-1.7 1.7M423.2 313.5l1.7 1.7m0 -1.7l-1.7 1.7M423.6 311.5l1.7 1.7m0 -1.7l-1.7 1.7M424.0 310.1l1.7 1.7m0 -1.7l-1.7 1.7" stroke="#6495ed" stroke-width="1.45" fill="none" opacity="1.0"/><path d="M254.3 345.8l1.7 1.7m0 -1.7l-1.7 1.7M254.7 346.6l1.7 1.7m0 -1.7l-1.7 1.7M255.1 343.4l1.7 1.7m0 -1.7l-1.7 1.7M255.5 342.3l1.7 1.7m0 -1.7l-1.7 1.7M256.0 343.7l1.7 1.7m0 -1.7l-1.7 1.7M256.4 340.3l1.7 1.7m0 -1.7l-1.7 1.7M256.8 339.0l1.7 1.7m0 -1.7l-1.7 1.7M257.2 339.9l1.7 1.7m0 -1.7l-1.7 1.7M257.6 341.0l1.7 1.7m0 -1.7l-1.7 1.7M258.0 336.7l1.7 1.7m0 -1.7l-1.7 1.7M258.4 338.0l1.7 1.7m0 -1.7l-1.7 1.7M258.8 337.5l1.7 1.7m0 -1.7l-1.7 1.7M259.2 335.9l1.7 1.7m0 -1.7l-1.7 1.7M259.6 335.9l1.7 1.7m0 -1.7l-1.7 1.7M260.0 332.8l1.7 1.7m0 -1.7l-1.7 1.7M260.4 332.3l1.7 1.7m0 -1.7l-1.7 1.7M260.8 330.8l1.7 1.7m0 -1.7l-1.7 1.7M261.2 330.8l1.7 1.7m0 -1.7l-1.7 1.7M261.6 331.8l1.7 1.7m0 -1.7l-1.7 1.7M262.0 330.0l1.7 1.7m0 -1.7l-1.7 1.7M262.4 327.7l1.7 1.7m0 -1.7l-1.7 1.7M262.8 328.6l1.7 1.7m0 -1.7l-1.7 1.7M263.2 323.1l1.7 1.7m0 -1.7l-1.7 1.7M263.6 326.6l1.7 1.7m0 -1.7l-1.7 1.7M264.0 326.2l1.7 1.7m0 -1.7l-1.7 1.7M264.5 322.9l1.7 1.7m0 -1.7l-1.7 1.7M264.9 322.6l1.7 1.7m0 -1.7l-1.7 1.7M265.3 322.7l1.7 1.7m0 -1.7l-1.7 1.7M265.7 322.1l1.7 1.7m0 -1.7l-1.7 1.7M266.1 320.3l1.7 1.7m0 -1.7l-1.7 1.7M266.5 318.9l1.7 1.7m0 -1.7l-1.7 1.7M266.9 318.1l1.7 1.7m0 -1.7l-1.7 1.7M267.3 318.7l1.7 1.7m0 -1.7l-1.7 1.7M267.7 316.8l1.7 1.7m0 -1.7l-1.7 1.7M268.1 315.3l1.7 1.7m0 -1.7l-1.7 1.7M268.5 314.5l1.7 1.7m0 -1.7l-1.7 1.7M268.9 319.0l1.7 1.7m0 -1.7l-1.7 1.7M269.3 315.0l1.7 1.7m0 -1.7l-1.7 1.7M269.7 314.0l1.7 1.7m0 -1.7l-1.7 1.7M270.1 312.4l1.7 1.7m0 -1.7l-1.7 1.7M270.5 310.9l1.7 1.7m0 -1.7l-1.7 1.7M270.9 309.0l1.7 1.7m0 -1.7l-1.7 1.7M271.3 308.5l1.7 1.7m0 -1.7l-1.7 1.7M271.7 308.7l1.7 1.7m0 -1.7l-1.7 1.7M272.1 307.6l1.7 1.7m0 -1.7l-1.7 1.7M272.6 304.3l1.7 1.7m0 -1.7l-1.7 1.7M273.0 306.7l1.7 1.7m0 -1.7l-1.7 1.7M273.4 304.5l1.7 1.7m0 -1.7l-1.7 1.7M273.8 301.9l1.7 1.7m0 -1.7l-1.7 1.7M274.2 302.7l1.7 1.7m0 -1.7l-1.7 1.7M274.6 305.1l1.7 1.7m0 -1.7l-1.7 1.7M275.0 300.8l1.7 1.7m0 -1.7l-1.7 1.7M275.4 301.0l1.7 1.7m0 -1.7l-1.7 1.7M275.8 299.7l1.7 1.7m0 -1.7l-1.7 1.7M276.2 297.2l1.7 1.7m0 -1.7l-1.7 1.7M276.6 297.2l1.7 1.7m0 -1.7l-1.7 1.7M277.0 297.3l1.7 1.7m0 -1.7l-1.7 1.7M277.4 294.8l1.7 1.7m0 -1.7l-1.7 1.7M277.8 294.5l1.7 1.7m0 -1.7l-1.7 1.7M278.2 294.1l1.7 1.7m0 -1.7l-1.7 1.7M278.6 292.9l1.7 1.7m0 -1.7l-1.7 1.7M279.0 292.1l1.7 1.7m0 -1.7l-1.7 1.7M279.4 292.0l1.7 1.7m0 -1.7l-1.7 1.7M279.8 291.3l1.7 1.7m0 -1.7l-1.7 1.7M280.2 289.8l1.7 1.7m0 -1.7l-1.7 1.7M280.6 290.2l1.7 1.7m0 -1.7l-1.7 1.7M281.1 289.8l1.7 1.7m0 -1.7l-1.7 1.7M281.5 285.3l1.7 1.7m0 -1.7l-1.7 1.7M281.9 286.6l1.7 1.7m0 -1.7l-1.7 1.7M282.3 285.4l1.7 1.7m0 -1.7l-1.7 1.7M282.7 284.7l1.7 1.7m0 -1.7l-1.7 1.7M283.1 283.5l1.7 1.7m0 -1.7l-1.7 1.7M283.5 282.7l1.7 1.7m0 -1.7l-1.7 1.7M283.9 281.7l1.7 1.7m0 -1.7l-1.7 1.7M284.3 282.0l1.7 1.7m0 -1.7l-1.7 1.7M284.7 278.7l1.7 1.7m0 -1.7l-1.7 1.7M285.1 280.1l1.7 1.7m0 -1.7l-1.7 1.7M285.5 276.8l1.7 1.7m0 -1.7l-1.7 1.7M285.9 280.0l1.7 1.7m0 -1.7l-1.7 1.7M286.3 277.9l1.7 1.7m0 -1.7l-1.7 1.7M286.7 274.2l1.7 1.7m0 -1.7l-1.7 1.7M287.1 274.9l1.7 1.7m0 -1.7l-1.7 1.7M287.5 274.7l1.7 1.7m0 -1.7l-1.7 1.7M287.9 272.4l1.7 1.7m0 -1.7l-1.7 1.7M288.3 273.5l1.7 1.7m0 -1.7l-1.7 1.7M288.7 271.0l1.7 1.7m0 -1.7l-1.7 1.7M289.1 273.3l1.7 1.7m0 -1.7l-1.7 1.7M289.6 270.0l1.7 1.7m0 -1.7l-1.7 1.7M290.0 269.4l1.7 1.7m0 -1.7l-1.7 1.7M290.4 266.8l1.7 1.7m0 -1.7l-1.7 1.7M290.8 265.5l1.7 1.7m0 -1.7l-1.7 1.7M291.2 267.0l1.7 1.7m0 -1.7l-1.7 1.7M291.6 262.7l1.7 1.7m0 -1.7l-1.7 1.7M292.0 264.8l1.7 1.7m0 -1.7l-1.7 1.7M292.4 266.7l1.7 1.7m0 -1.7l-1.7 1.7M292.8 267.1l1.7 1.7m0 -1.7l-1.7 1.7M293.2 261.6l1.7 1.7m0 -1.7l-1.7 1.7M293.6 263.8l1.7 1.7m0 -1.7l-1.7 1.7M294.0 264.4l1.7 1.7m0 -1.7l-1.7 1.7M294.4 264.5l1.7 1.7m0 -1.7l-1.7 1.7M294.8 264.9l1.7 1.7m0 -1.7l-1.7 1.7M295.2 261.5l1.7 1.7m0 -1.7l-1.7 1.7M295.6 263.4l1.7 1.7m0 -1.7l-1.7 1.7M296.0 260.7l1.7 1.7m0 -1.7l-1.7 1.7M296.4 263.4l1.7 1.7m0 -1.7l-1.7 1.7M296.8 266.3l1.7 1.7m0 -1.7l-1.7 1.7M297.2 261.8l1.7 1.7m0 -1.7l-1.7 1.7M297.7 263.4l1.7 1.7m0 -1.7l-1.7 1.7M298.1 263.1l1.7 1.7m0 -1.7l-1.7 1.7M298.5 260.6l1.7 1.7m0 -1.7l-1.7 1.7M298.9 263.0l1.7 1.7m0 -1.7l-1.7 1.7M299.3 261.0l1.7 1.7m0 -1.7l-1.7 1.7M299.7 262.5l1.7 1.7m0 -1.7l-1.7 1.7M300.1 263.5l1.7 1.7m0 -1.7l-1.7 1.7M300.5 261.7l1.7 1.7m0 -1.7l-1.7 1.7M300.9 263.1l1.7 1.7m0 -1.7l-1.7 1.7M301.3 260.5l1.7 1.7m0 -1.7l-1.7 1.7M301.7 260.8l1.7 1.7m0 -1.7l-1.7 1.7M302.1 262.0l1.7 1.7m0 -1.7l-1.7 1.7M302.5 261.2l1.7 1.7m0 -1.7l-1.7 1.7M302.9 261.1l1.7 1.7m0 -1.7l-1.7 1.7M303.3 262.2l1.7 1.7m0 -1.7l-1.7 1.7M303.7 260.5l1.7 1.7m0 -1.7l-1.7 1.7M304.1 262.0l1.7 1.7m0 -1.7l-1.7 1.7M304.5 260.8l1.7 1.7m0 -1.7l-1.7 1.7M304.9 262.9l1.7 1.7m0 -1.7l-1.7 1.7M305.3 261.3l1.7 1.7m0 -1.7l-1.7 1.7M305.7 260.8l1.7 1.7m0 -1.7l-1.7 1.7M306.2 262.4l1.7 1.7m0 -1.7l-1.7 1.7M306.6 261.8l1.7 1.7m0 -1.7l-1.7 1.7M307.0 261.9l1.7 1.7m0 -1.7l-1.7 1.7M307.4 260.1l1.7 1.7m0 -1.7l-1.7 1.7M307.8 262.0l1.7 1.7m0 -1.7l-1.7 1.7M308.2 260.4l1.7 1.7m0 -1.7l-1.7 1.7M308.6 258.8l1.7 1.7m0 -1.7l-1.7 1.7M309.0 260.3l1.7 1.7m0 -1.7l-1.7 1.7M309.4 263.0l1.7 1.7m0 -1.7l-1.7 1.7M309.8 260.5l1.7 1.7m0 -1.7l-1.7 1.7M310.2 259.1l1.7 1.7m0 -1.7l-1.7 1.7M310.6 260.9l1.7 1.7m0 -1.7l-1.7 1.7M311.0 258.9l1.7 1.7m0 -1.7l-1.7 1.7M311.4 259.4l1.7 1.7m0 -1.7l-1.7 1.7M311.8 259.6l1.7 1.7m0 -1.7l-1.7 1.7M312.2 260.4l1.7 1.7m0 -1.7l-1.7 1.7M312.6 260.7l1.7 1.7m0 -1.7l-1.7 1.7M313.0 260.2l1.7 1.7m0 -1.7l-1.7 1.7M313.4 259.6l1.7 1.7m0 -1.7l-1.7 1.7M313.8 258.9l1.7 1.7m0 -1.7l-1.7 1.7M314.3 258.9l1.7 1.7m0 -1.7l-1.7 1.7M314.7 259.8l1.7 1.7m0 -1.7l-1.7 1.7M315.1 259.1l1.7 1.7m0 -1.7l-1.7 1.7M315.5 258.6l1.7 1.7m0 -1.7l-1.7 1.7M315.9 261.2l1.7 1.7m0 -1.7l-1.7 1.7M316.3 259.9l1.7 1.7m0 -1.7l-1.7 1.7M316.7 259.9l1.7 1.7m0 -1.7l-1.7 1.7M317.1 258.9l1.7 1.7m0 -1.7l-1.7 1.7M317.5 258.9l1.7 1.7m0 -1.7l-1.7 1.7M317.9 258.8l1.7 1.7m0 -1.7l-1.7 1.7M318.3 259.5l1.7 1.7m0 -1.7l-1.7 1.7M318.7 257.2l1.7 1.7m0 -1.7l-1.7 1.7M319.1 257.7l1.7 1.7m0 -1.7l-1.7 1.7M319.5 260.2l1.7 1.7m0 -1.7l-1.7 1.7M319.9 257.8l1.7 1.7m0 -1.7l-1.7 1.7M320.3 259.2l1.7 1.7m0 -1.7l-1.7 1.7M320.7 255.2l1.7 1.7m0 -1.7l-1.7 1.7M321.1 258.1l1.7 1.7m0 -1.7l-1.7 1.7M321.5 257.9l1.7 1.7m0 -1.7l-1.7 1.7M321.9 257.1l1.7 1.7m0 -1.7l-1.7 1.7M322.3 257.4l1.7 1.7m0 -1.7l-1.7 1.7M322.8 257.0l1.7 1.7m0 -1.7l-1.7 1.7M323.2 254.7l1.7 1.7m0 -1.7l-1.7 1.7M323.6 256.4l1.7 1.7m0 -1.7l-1.7 1.7M324.0 255.5l1.7 1.7m0 -1.7l-1.7 1.7M324.4 254.9l1.7 1.7m0 -1.7l-1.7 1.7M324.8 257.7l1.7 1.7m0 -1.7l-1.7 1.7M325.2 253.9l1.7 1.7m0 -1.7l-1.7 1.7M325.6 255.2l1.7 1.7m0 -1.7l-1.7 1.7M326.0 254.7l1.7 1.7m0 -1.7l-1.7 1.7M326.4 257.1l1.7 1.7m0 -1.7l-1.7 1.7M326.8 254.7l1.7 1.7m0 -1.7l-1.7 1.7M327.2 255.1l1.7 1.7m0 -1.7l-1.7 1.7M327.6 256.3l1.7 1.7m0 -1.7l-1.7 1.7M328.0 252.3l1.7 1.7m0 -1.7l-1.7 1.7M328.4 254.5l1.7 1.7m0 -1.7l-1.7 1.7M328.8 255.5l1.7 1.7m0 -1.7l-1.7 1.7M329.2 254.8l1.7 1.7m0 -1.7l-1.7 1.7M329.6 253.7l1.7 1.7m0 -1.7l-1.7 1.7M330.0 253.3l1.7 1.7m0 -1.7l-1.7 1.7M330.4 254.1l1.7 1.7m0 -1.7l-1.7 1.7M330.9 253.2l1.7 1.7m0 -1.7l-1.7 1.7M331.3 252.8l1.7 1.7m0 -1.7l-1.7 1.7M331.7 256.5l1.7 1.7m0 -1.7l-1.7 1.7M332.1 255.4l1.7 1.7m0 -1.7l-1.7 1.7M332.5 256.0l1.7 1.7m0 -1.7l-1.7 1.7M332.9 254.6l1.7 1.7m0 -1.7l-1.7 1.7M333.3 252.7l1.7 1.7m0 -1.7l-1.7 1.7M333.7 253.7l1.7 1.7m0 -1.7l-1.7 1.7M334.1 256.0l1.7 1.7m0 -1.7l-1.7 1.7M334.5 255.0l1.7 1.7m0 -1.7l-1.7 1.7M334.9 253.1l1.7 1.7m0 -1.7l-1.7 1.7M335.3 255.2l1.7 1.7m0 -1.7l-1.7 1.7M335.7 254.6l1.7 1.7m0 -1.7l-1.7 1.7M336.1 254.0l1.7 1.7m0 -1.7l-1.7 1.7M336.5 256.9l1.7 1.7m0 -1.7l-1.7 1.7M336.9 253.3l1.7 1.7m0 -1.7l-1.7 1.7M337.3 253.9l1.7 1.7m0 -1.7l-1.7 1.7M337.7 253.6l1.7 1.7m0 -1.7l-1.7 1.7M338.1 255.7l1.7 1.7m0 -1.7l-1.7 1.7M338.5 255.3l1.7 1.7m0 -1.7l-1.7 1.7M338.9 255.1l1.7 1.7m0 -1.7l-1.7 1.7M339.4 253.9l1.7 1.7m0 -1.7l-1.7 1.7M339.8 254.1l1.7 1.7m0 -1.7l-1.7 1.7M340.2 254.0l1.7 1.7m0 -1.7l-1.7 1.7M340.6 251.7l1.7 1.7m0 -1.7l-1.7 1.7M341.0 252.3l1.7 1.7m0 -1.7l-1.7 1.7M341.4 255.1l1.7 1.7m0 -1.7l-1.7 1.7M341.8 254.9l1.7 1.7m0 -1.7l-1.7 1.7M342.2 251.6l1.7 1.7m0 -1.7l-1.7 1.7M342.6 254.4l1.7 1.7m0 -1.7l-1.7 1.7M343.0 252.0l1.7 1.7m0 -1.7l-1.7 1.7M343.4 251.7l1.7 1.7m0 -1.7l-1.7 1.7M343.8 254.6l1.7 1.7m0 -1.7l-1.7 1.7M344.2 254.2l1.7 1.7m0 -1.7l-1.7 1.7M344.6 253.7l1.7 1.7m0 -1.7l-1.7 1.7M345.0 255.0l1.7 1.7m0 -1.7l-1.7 1.7M345.4 255.1l1.7 1.7m0 -1.7l-1.7 1.7M345.8 254.3l1.7 1.7m0 -1.7l-1.7 1.7M346.2 252.5l1.7 1.7m0 -1.7l-1.7 1.7M346.6 254.3l1.7 1.7m0 -1.7l-1.7 1.7M347.0 253.9l1.7 1.7m0 -1.7l-1.7 1.7M347.4 254.3l1.7 1.7m0 -1.7l-1.7 1.7M347.9 255.5l1.7 1.7m0 -1.7l-1.7 1.7M348.3 251.5l1.7 1.7m0 -1.7l-1.7 1.7M348.7 256.8l1.7 1.7m0 -1.7l-1.7 1.7M349.1 254.4l1.7 1.7m0 -1.7l-1.7 1.7M349.5 252.7l1.7 1.7m0 -1.7l-1.7 1.7M349.9 255.4l1.7 1.7m0 -1.7l-1.7 1.7M350.3 252.6l1.7 1.7m0 -1.7l-1.7 1.7M350.7 251.7l1.7 1.7m0 -1.7l-1.7 1.7M351.1 254.5l1.7 1.7m0 -1.7l-1.7 1.7M351.5 253.0l1.7 1.7m0 -1.7l-1.7 1.7M351.9 254.8l1.7 1.7m0 -1.7l-1.7 1.7M352.3 252.6l1.7 1.7m0 -1.7l-1.7 1.7M352.7 253.1l1.7 1.7m0 -1.7l-1.7 1.7M353.1 252.9l1.7 1.7m0 -1.7l-1.7 1.7M353.5 251.3l1.7 1.7m0 -1.7l-1.7 1.7M353.9 252.5l1.7 1.7m0 -1.7l-1.7 1.7M354.3 251.3l1.7 1.7m0 -1.7l-1.7 1.7M354.7 252.2l1.7 1.7m0 -1.7l-1.7 1.7M355.1 254.7l1.7 1.7m0 -1.7l-1.7 1.7M355.5 252.7l1.7 1.7m0 -1.7l-1.7 1.7M356.0 252.3l1.7 1.7m0 -1.7l-1.7 1.7M356.4 255.0l1.7 1.7m0 -1.7l-1.7 1.7M356.8 251.1l1.7 1.7m0 -1.7l-1.7 1.7M357.2 252.8l1.7 1.7m0 -1.7l-1.7 1.7M357.6 252.4l1.7 1.7m0 -1.7l-1.7 1.7M358.0 254.1l1.7 1.7m0 -1.7l-1.7 1.7M358.4 252.7l1.7 1.7m0 -1.7l-1.7 1.7M358.8 252.4l1.7 1.7m0 -1.7l-1.7 1.7M359.2 253.2l1.7 1.7m0 -1.7l-1.7 1.7M359.6 252.6l1.7 1.7m0 -1.7l-1.7 1.7M360.0 255.6l1.7 1.7m0 -1.7l-1.7 1.7M360.4 250.8l1.7 1.7m0 -1.7l-1.7 1.7M360.8 254.2l1.7 1.7m0 -1.7l-1.7 1.7M361.2 255.6l1.7 1.7m0 -1.7l-1.7 1.7M361.6 253.9l1.7 1.7m0 -1.7l-1.7 1.7M362.0 253.7l1.7 1.7m0 -1.7l-1.7 1.7M362.4 251.8l1.7 1.7m0 -1.7l-1.7 1.7M362.8 253.8l1.7 1.7m0 -1.7l-1.7 1.7M363.2 252.1l1.7 1.7m0 -1.7l-1.7 1.7M363.6 253.8l1.7 1.7m0 -1.7l-1.7 1.7M364.0 249.4l1.7 1.7m0 -1.7l-1.7 1.7M364.5 251.6l1.7 1.7m0 -1.7l-1.7 1.7M364.9 249.7l1.7 1.7m0 -1.7l-1.7 1.7M365.3 253.7l1.7 1.7m0 -1.7l-1.7 1.7M365.7 251.4l1.7 1.7m0 -1.7l-1.7 1.7M366.1 253.6l1.7 1.7m0 -1.7l-1.7 1.7M366.5 251.4l1.7 1.7m0 -1.7l-1.7 1.7M366.9 251.3l1.7 1.7m0 -1.7l-1.7 1.7M367.3 254.4l1.7 1.7m0 -1.7l-1.7 1.7M367.7 253.7l1.7 1.7m0 -1.7l-1.7 1.7M368.1 253.7l1.7 1.7m0 -1.7l-1.7 1.7M368.5 254.2l1.7 1.7m0 -1.7l-1.7 1.7M368.9 253.1l1.7 1.7m0 -1.7l-1.7 1.7M369.3 253.4l1.7 1.7m0 -1.7l-1.7 1.7M369.7 254.0l1.7 1.7m0 -1.7l-1.7 1.7M370.1 251.8l1.7 1.7m0 -1.7l-1.7 1.7M370.5 251.2l1.7 1.7m0 -1.7l-1.7 1.7M370.9 253.7l1.7 1.7m0 -1.7l-1.7 1.7M371.3 252.7l1.7 1.7m0 -1.7l-1.7 1.7M371.7 251.8l1.7 1.7m0 -1.7l-1.7 1.7M372.1 252.1l1.7 1.7m0 -1.7l-1.7 1.7M372.6 252.8l1.7 1.7m0 -1.7l-1.7 1.7M373.0 250.6l1.7 1.7m0 -1.7l-1.7 1.7M373.4 250.6l1.7 1.7m0 -1.7l-1.7 1.7M373.8 250.8l1.7 1.7m0 -1.7l-1.7 1.7M374.2 252.0l1.7 1.7m0 -1.7l-1.7 1.7M374.6 248.9l1.7 1.7m0 -1.7l-1.7 1.7M375.0 249.2l1.7 1.7m0 -1.7l-1.7 1.7M375.4 252.1l1.7 1.7m0 -1.7l-1.7 1.7M375.8 251.7l1.7 1.7m0 -1.7l-1.7 1.7M376.2 249.9l1.7 1.7m0 -1.7l-1.7 1.7M376.6 252.6l1.7 1.7m0 -1.7l-1.7 1.7M377.0 250.9l1.7 1.7m0 -1.7l-1.7 1.7M377.4 251.4l1.7 1.7m0 -1.7l-1.7 1.7M377.8 252.4l1.7 1.7m0 -1.7l-1.7 1.7M378.2 251.7l1.7 1.7m0 -1.7l-1.7 1.7M378.6 253.5l1.7 1.7m0 -1.7l-1.7 1.7M379.0 252.1l1.7 1.7m0 -1.7l-1.7 1.7M379.4 254.0l1.7 1.7m0 -1.7l-1.7 1.7M379.8 248.1l1.7 1.7m0 -1.7l-1.7 1.7M380.2 249.2l1.7 1.7m0 -1.7l-1.7 1.7M380.6 249.5l1.7 1.7m0 -1.7l-1.7 1.7M381.1 250.8l1.7 1.7m0 -1.7l-1.7 1.7M381.5 249.8l1.7 1.7m0 -1.7l-1.7 1.7M381.9 249.4l1.7 1.7m0 -1.7l-1.7 1.7M382.3 249.7l1.7 1.7m0 -1.7l-1.7 1.7M382.7 249.8l1.7 1.7m0 -1.7l-1.7 1.7M383.1 252.3l1.7 1.7m0 -1.7l-1.7 1.7M383.5 250.4l1.7 1.7m0 -1.7l-1.7 1.7M383.9 251.7l1.7 1.7m0 -1.7l-1.7 1.7M384.3 252.6l1.7 1.7m0 -1.7l-1.7 1.7M384.7 252.5l1.7 1.7m0 -1.7l-1.7 1.7M385.1 250.3l1.7 1.7m0 -1.7l-1.7 1.7M385.5 249.4l1.7 1.7m0 -1.7l-1.7 1.7M385.9 252.7l1.7 1.7m0 -1.7l-1.7 1.7M386.3 248.4l1.7 1.7m0 -1.7l-1.7 1.7M386.7 248.7l1.7 1.7m0 -1.7l-1.7 1.7M387.1 251.3l1.7 1.7m0 -1.7l-1.7 1.7M387.5 251.4l1.7 1.7m0 -1.7l-1.7 1.7M387.9 250.8l1.7 1.7m0 -1.7l-1.7 1.7M388.3 249.3l1.7 1.7m0 -1.7l-1.7 1.7M388.7 251.2l1.7 1.7m0 -1.7l-1.7 1.7M389.2 252.1l1.7 1.7m0 -1.7l-1.7 1.7M389.6 250.1l1.7 1.7m0 -1.7l-1.7 1.7M390.0 253.4l1.7 1.7m0 -1.7l-1.7 1.7M390.4 250.3l1.7 1.7m0 -1.7l-1.7 1.7M390.8 248.9l1.7 1.7m0 -1.7l-1.7 1.7M391.2 250.0l1.7 1.7m0 -1.7l-1.7 1.7M391.6 249.3l1.7 1.7m0 -1.7l-1.7 1.7M392.0 249.7l1.7 1.7m0 -1.7l-1.7 1.7M392.4 249.4l1.7 1.7m0 -1.7l-1.7 1.7M392.8 250.1l1.7 1.7m0 -1.7l-1.7 1.7M393.2 251.4l1.7 1.7m0 -1.7l-1.7 1.7M393.6 250.6l1.7 1.7m0 -1.7l-1.7 1.7M394.0 250.3l1.7 1.7m0 -1.7l-1.7 1.7M394.4 248.5l1.7 1.7m0 -1.7l-1.7 1.7M394.8 247.9l1.7 1.7m0 -1.7l-1.7 1.7M395.2 249.6l1.7 1.7m0 -1.7l-1.7 1.7M395.6 251.2l1.7 1.7m0 -1.7l-1.7 1.7M396.0 251.1l1.7 1.7m0 -1.7l-1.7 1.7M396.4 250.3l1.7 1.7m0 -1.7l-1.7 1.7M396.8 248.1l1.7 1.7m0 -1.7l-1.7 1.7M397.2 249.5l1.7 1.7m0 -1.7l-1.7 1.7M397.7 250.1l1.7 1.7m0 -1.7l-1.7 1.7M398.1 251.0l1.7 1.7m0 -1.7l-1.7 1.7M398.5 248.7l1.7 1.7m0 -1.7l-1.7 1.7M398.9 249.5l1.7 1.7m0 -1.7l-1.7 1.7M399.3 249.9l1.7 1.7m0 -1.7l-1.7 1.7M399.7 249.7l1.7 1.7m0 -1.7l-1.7 1.7M400.1 247.5l1.7 1.7m0 -1.7l-1.7 1.7M400.5 250.0l1.7 1.7m0 -1.7l-1.7 1.7M400.9 247.4l1.7 1.7m0 -1.7l-1.7 1.7M401.3 248.0l1.7 1.7m0 -1.7l-1.7 1.7M401.7 249.6l1.7 1.7m0 -1.7l-1.7 1.7M402.1 248.4l1.7 1.7m0 -1.7l-1.7 1.7M402.5 249.8l1.7 1.7m0 -1.7l-1.7 1.7M402.9 250.7l1.7 1.7m0 -1.7l-1.7 1.7M403.3 249.9l1.7 1.7m0 -1.7l-1.7 1.7M403.7 250.8l1.7 1.7m0 -1.7l-1.7 1.7M404.1 248.8l1.7 1.7m0 -1.7l-1.7 1.7M404.5 249.5l1.7 1.7m0 -1.7l-1.7 1.7M404.9 248.7l1.7 1.7m0 -1.7l-1.7 1.7M405.3 248.3l1.7 1.7m0 -1.7l-1.7 1.7M405.7 253.7l1.7 1.7m0 -1.7l-1.7 1.7M406.2 249.0l1.7 1.7m0 -1.7l-1.7 1.7M406.6 251.9l1.7 1.7m0 -1.7l-1.7 1.7M407.0 249.2l1.7 1.7m0 -1.7l-1.7 1.7M407.4 250.6l1.7 1.7m0 -1.7l-1.7 1.7M407.8 249.3l1.7 1.7m0 -1.7l-1.7 1.7M408.2 247.5l1.7 1.7m0 -1.7l-1.7 1.7M408.6 251.8l1.7 1.7m0 -1.7l-1.7 1.7M409.0 249.2l1.7 1.7m0 -1.7l-1.7 1.7M409.4 249.5l1.7 1.7m0 -1.7l-1.7 1.7M409.8 252.0l1.7 1.7m0 -1.7l-1.7 1.7M410.2 248.5l1.7 1.7m0 -1.7l-1.7 1.7M410.6 249.4l1.7 1.7m0 -1.7l-1.7 1.7M411.0 250.1l1.7 1.7m0 -1.7l-1.7 1.7M411.4 250.4l1.7 1.7m0 -1.7l-1.7 1.7M411.8 245.0l1.7 1.7m0 -1.7l-1.7 1.7M412.2 250.0l1.7 1.7m0 -1.7l-1.7 1.7M412.6 251.9l1.7 1.7m0 -1.7l-1.7 1.7M413.0 250.7l1.7 1.7m0 -1.7l-1.7 1.7M413.4 249.9l1.7 1.7m0 -1.7l-1.7 1.7M413.8 250.0l1.7 1.7m0 -1.7l-1.7 1.7M414.3 249.5l1.7 1.7m0 -1.7l-1.7 1.7M414.7 250.9l1.7 1.7m0 -1.7l-1.7 1.7M415.1 248.7l1.7 1.7m0 -1.7l-1.7 1.7M415.5 250.1l1.7 1.7m0 -1.7l-1.7 1.7M415.9 251.3l1.7 1.7m0 -1.7l-1.7 1.7M416.3 250.6l1.7 1.7m0 -1.7l-1.7 1.7M416.7 250.0l1.7 1.7m0 -1.7l-1.7 1.7M417.1 248.3l1.7 1.7m0 -1.7l-1.7 1.7M417.5 248.8l1.7 1.7m0 -1.7l-1.7 1.7M417.9 249.9l1.7 1.7m0 -1.7l-1.7 1.7M418.3 249.4l1.7 1.7m0 -1.7l-1.7 1.7M418.7 249.1l1.7 1.7m0 -1.7l-1.7 1.7M419.1 246.6l1.7 1.7m0 -1.7l-1.7 1.7M419.5 250.3l1.7 1.7m0 -1.7l-1.7 1.7M419.9 248.8l1.7 1.7m0 -1.7l-1.7 1.7M420.3 248.4l1.7 1.7m0 -1.7l-1.7 1.7M420.7 250.7l1.7 1.7m0 -1.7l-1.7 1.7M421.1 249.2l1.7 1.7m0 -1.7l-1.7 1.7M421.5 249.2l1.7 1.7m0 -1.7l-1.7 1.7M421.9 250.1l1.7 1.7m0 -1.7l-1.7 1.7M422.3 248.6l1.7 1.7m0 -1.7l-1.7 1.7M422.8 248.0l1.7 1.7m0 -1.7l-1.7 1.7M423.2 247.9l1.7 1.7m0 -1.7l-1.7 1.7M423.6 249.7l1.7 1.7m0 -1.7l-1.7 1.7M424.0 249.2l1.7 1.7m0 -1.7l-1.7 1.7" stroke="#ffa500" stroke-width="1.45" fill="none" opacity="1.0"/><polyline points="319.3,277.9 322.0,279.0 324.7,280.1 327.4,281.1 330.1,282.2 332.8,283.2 335.5,284.3 338.2,285.3 340.9,286.2 343.6,287.2 346.3,288.2 349.0,289.1 351.7,290.1 354.5,291.0 357.2,291.9 359.9,292.8 362.6,293.7 365.3,294.5 368.0,295.4 370.7,296.2 373.4,297.1 376.1,297.9 378.8,298.7 381.5,299.5 384.2,300.3 386.9,301.0 389.6,301.8 392.3,302.5 395.0,303.3 397.8,304.0 400.5,304.7 403.2,305.4 405.9,306.1 408.6,306.8 411.3,307.4 414.0,308.1 416.7,308.8 419.4,309.4 422.1,310.0 424.8,310.6" stroke="#14144a" stroke-width="1.3" fill="none" opacity="1.0" stroke-dasharray="3.2,2"/><rect x="246.7" y="224.2" width="186.6" height="127.5" fill="none" stroke="#333" stroke-width="1.3"/><path d="M255.2 351.7v3.3M255.2 224.2v-3.3M330.6 351.7v3.3M330.6 224.2v-3.3M406.0 351.7v3.3M406.0 224.2v-3.3M246.7 351.7h-3.3M433.3 351.7h3.3M246.7 282.7h-3.3M433.3 282.7h3.3" stroke="#333" stroke-width="1"/><text x="248.3" y="239.2" font-family="Liberation Serif" font-weight="bold" font-size="16.2" letter-spacing="0.3">(e)</text><text x="290.2" y="219.3" font-family="Liberation Serif" font-style="italic" font-size="21" fill="#191970" stroke="#191970" stroke-width="0.55">T</text><text x="300.4" y="223.2" font-family="Liberation Serif" font-style="italic" font-size="16" fill="#191970" stroke="#191970" stroke-width="0.15">stab</text><path d="M332.4 211.7h14.5M332.4 215.6h14.5" stroke="#191970" stroke-width="1.3"/><text x="352.1" y="219.3" font-family="Liberation Serif" font-size="21.7" fill="#191970" stroke="#191970" stroke-width="0.1">3.21</text><text x="255.2" y="370.1" text-anchor="middle" font-family="Liberation Serif" font-size="18" stroke="#000" stroke-width="0.35">0</text><text x="330.6" y="370.1" text-anchor="middle" font-family="Liberation Serif" font-size="18" stroke="#000" stroke-width="0.35">2</text><text x="406.0" y="370.1" text-anchor="middle" font-family="Liberation Serif" font-size="18" stroke="#000" stroke-width="0.35">4</text><text x="318.2" y="389.8" font-family="Liberation Serif" font-style="italic" font-size="17.5" stroke="#000" stroke-width="0.4">t</text><path d="M324.5 394.6L332.1 377.2" stroke="#000" stroke-width="1.3"/><text x="333.3" y="389.8" font-family="Liberation Serif" font-style="italic" font-size="16" stroke="#000" stroke-width="0.4">T</text><text x="342.9" y="392.6" font-family="Liberation Serif" font-style="italic" font-size="12.8" letter-spacing="0.6" stroke="#000" stroke-width="0.3">TM</text><rect x="495.3" y="224.2" width="50.1" height="127.5" fill="#fffac8"/><path d="M456.7 344.8l1.7 1.7m0 -1.7l-1.7 1.7M457.1 347.4l1.7 1.7m0 -1.7l-1.7 1.7M457.5 346.1l1.7 1.7m0 -1.7l-1.7 1.7M457.9 345.3l1.7 1.7m0 -1.7l-1.7 1.7M458.4 345.7l1.7 1.7m0 -1.7l-1.7 1.7M458.8 345.0l1.7 1.7m0 -1.7l-1.7 1.7M459.2 345.2l1.7 1.7m0 -1.7l-1.7 1.7M459.6 344.5l1.7 1.7m0 -1.7l-1.7 1.7M460.0 343.8l1.7 1.7m0 -1.7l-1.7 1.7M460.4 344.8l1.7 1.7m0 -1.7l-1.7 1.7M460.8 344.2l1.7 1.7m0 -1.7l-1.7 1.7M461.2 344.2l1.7 1.7m0 -1.7l-1.7 1.7M461.6 344.3l1.7 1.7m0 -1.7l-1.7 1.7M462.0 343.7l1.7 1.7m0 -1.7l-1.7 1.7M462.4 344.4l1.7 1.7m0 -1.7l-1.7 1.7M462.8 342.6l1.7 1.7m0 -1.7l-1.7 1.7M463.2 341.6l1.7 1.7m0 -1.7l-1.7 1.7M463.6 341.4l1.7 1.7m0 -1.7l-1.7 1.7M464.0 341.5l1.7 1.7m0 -1.7l-1.7 1.7M464.4 343.1l1.7 1.7m0 -1.7l-1.7 1.7M464.8 340.9l1.7 1.7m0 -1.7l-1.7 1.7M465.2 342.5l1.7 1.7m0 -1.7l-1.7 1.7M465.6 341.7l1.7 1.7m0 -1.7l-1.7 1.7M466.0 339.9l1.7 1.7m0 -1.7l-1.7 1.7M466.4 342.1l1.7 1.7m0 -1.7l-1.7 1.7M466.9 340.3l1.7 1.7m0 -1.7l-1.7 1.7M467.3 340.5l1.7 1.7m0 -1.7l-1.7 1.7M467.7 340.6l1.7 1.7m0 -1.7l-1.7 1.7M468.1 340.8l1.7 1.7m0 -1.7l-1.7 1.7M468.5 339.3l1.7 1.7m0 -1.7l-1.7 1.7M468.9 339.6l1.7 1.7m0 -1.7l-1.7 1.7M469.3 337.9l1.7 1.7m0 -1.7l-1.7 1.7M469.7 337.4l1.7 1.7m0 -1.7l-1.7 1.7M470.1 339.1l1.7 1.7m0 -1.7l-1.7 1.7M470.5 338.0l1.7 1.7m0 -1.7l-1.7 1.7M470.9 337.4l1.7 1.7m0 -1.7l-1.7 1.7M471.3 337.7l1.7 1.7m0 -1.7l-1.7 1.7M471.7 337.2l1.7 1.7m0 -1.7l-1.7 1.7M472.1 335.8l1.7 1.7m0 -1.7l-1.7 1.7M472.5 335.6l1.7 1.7m0 -1.7l-1.7 1.7M472.9 336.4l1.7 1.7m0 -1.7l-1.7 1.7M473.3 335.0l1.7 1.7m0 -1.7l-1.7 1.7M473.7 333.7l1.7 1.7m0 -1.7l-1.7 1.7M474.1 334.7l1.7 1.7m0 -1.7l-1.7 1.7M474.5 334.1l1.7 1.7m0 -1.7l-1.7 1.7M475.0 331.6l1.7 1.7m0 -1.7l-1.7 1.7M475.4 331.4l1.7 1.7m0 -1.7l-1.7 1.7M475.8 333.3l1.7 1.7m0 -1.7l-1.7 1.7M476.2 332.3l1.7 1.7m0 -1.7l-1.7 1.7M476.6 330.2l1.7 1.7m0 -1.7l-1.7 1.7M477.0 330.8l1.7 1.7m0 -1.7l-1.7 1.7M477.4 329.4l1.7 1.7m0 -1.7l-1.7 1.7M477.8 328.8l1.7 1.7m0 -1.7l-1.7 1.7M478.2 327.3l1.7 1.7m0 -1.7l-1.7 1.7M478.6 329.2l1.7 1.7m0 -1.7l-1.7 1.7M479.0 328.2l1.7 1.7m0 -1.7l-1.7 1.7M479.4 326.7l1.7 1.7m0 -1.7l-1.7 1.7M479.8 324.2l1.7 1.7m0 -1.7l-1.7 1.7M480.2 324.4l1.7 1.7m0 -1.7l-1.7 1.7M480.6 325.0l1.7 1.7m0 -1.7l-1.7 1.7M481.0 322.5l1.7 1.7m0 -1.7l-1.7 1.7M481.4 321.7l1.7 1.7m0 -1.7l-1.7 1.7M481.8 321.8l1.7 1.7m0 -1.7l-1.7 1.7M482.2 321.1l1.7 1.7m0 -1.7l-1.7 1.7M482.6 319.8l1.7 1.7m0 -1.7l-1.7 1.7M483.0 318.5l1.7 1.7m0 -1.7l-1.7 1.7M483.5 318.7l1.7 1.7m0 -1.7l-1.7 1.7M483.9 317.7l1.7 1.7m0 -1.7l-1.7 1.7M484.3 317.5l1.7 1.7m0 -1.7l-1.7 1.7M484.7 317.2l1.7 1.7m0 -1.7l-1.7 1.7M485.1 317.1l1.7 1.7m0 -1.7l-1.7 1.7M485.5 315.5l1.7 1.7m0 -1.7l-1.7 1.7M485.9 315.4l1.7 1.7m0 -1.7l-1.7 1.7M486.3 314.7l1.7 1.7m0 -1.7l-1.7 1.7M486.7 313.2l1.7 1.7m0 -1.7l-1.7 1.7M487.1 312.9l1.7 1.7m0 -1.7l-1.7 1.7M487.5 312.0l1.7 1.7m0 -1.7l-1.7 1.7M487.9 313.4l1.7 1.7m0 -1.7l-1.7 1.7M488.3 311.1l1.7 1.7m0 -1.7l-1.7 1.7M488.7 311.4l1.7 1.7m0 -1.7l-1.7 1.7M489.1 311.0l1.7 1.7m0 -1.7l-1.7 1.7M489.5 310.5l1.7 1.7m0 -1.7l-1.7 1.7M489.9 308.1l1.7 1.7m0 -1.7l-1.7 1.7M490.3 307.9l1.7 1.7m0 -1.7l-1.7 1.7M490.7 308.5l1.7 1.7m0 -1.7l-1.7 1.7M491.1 308.2l1.7 1.7m0 -1.7l-1.7 1.7M491.5 306.6l1.7 1.7m0 -1.7l-1.7 1.7M492.0 306.3l1.7 1.7m0 -1.7l-1.7 1.7M492.4 303.9l1.7 1.7m0 -1.7l-1.7 1.7M492.8 305.8l1.7 1.7m0 -1.7l-1.7 1.7M493.2 305.5l1.7 1.7m0 -1.7l-1.7 1.7M493.6 303.5l1.7 1.7m0 -1.7l-1.7 1.7M494.0 302.6l1.7 1.7m0 -1.7l-1.7 1.7M494.4 301.8l1.7 1.7m0 -1.7l-1.7 1.7M494.8 301.5l1.7 1.7m0 -1.7l-1.7 1.7M495.2 300.6l1.7 1.7m0 -1.7l-1.7 1.7M495.6 302.9l1.7 1.7m0 -1.7l-1.7 1.7M496.0 303.3l1.7 1.7m0 -1.7l-1.7 1.7M496.4 304.6l1.7 1.7m0 -1.7l-1.7 1.7M496.8 303.1l1.7 1.7m0 -1.7l-1.7 1.7M497.2 302.9l1.7 1.7m0 -1.7l-1.7 1.7M497.6 304.1l1.7 1.7m0 -1.7l-1.7 1.7M498.0 303.1l1.7 1.7m0 -1.7l-1.7 1.7M498.4 304.3l1.7 1.7m0 -1.7l-1.7 1.7M498.8 303.4l1.7 1.7m0 -1.7l-1.7 1.7M499.2 304.6l1.7 1.7m0 -1.7l-1.7 1.7M499.6 306.0l1.7 1.7m0 -1.7l-1.7 1.7M500.1 305.9l1.7 1.7m0 -1.7l-1.7 1.7M500.5 306.9l1.7 1.7m0 -1.7l-1.7 1.7M500.9 307.3l1.7 1.7m0 -1.7l-1.7 1.7M501.3 305.9l1.7 1.7m0 -1.7l-1.7 1.7M501.7 305.7l1.7 1.7m0 -1.7l-1.7 1.7M502.1 305.0l1.7 1.7m0 -1.7l-1.7 1.7M502.5 306.9l1.7 1.7m0 -1.7l-1.7 1.7M502.9 307.3l1.7 1.7m0 -1.7l-1.7 1.7M503.3 308.3l1.7 1.7m0 -1.7l-1.7 1.7M503.7 306.8l1.7 1.7m0 -1.7l-1.7 1.7M504.1 307.6l1.7 1.7m0 -1.7l-1.7 1.7M504.5 308.6l1.7 1.7m0 -1.7l-1.7 1.7M504.9 307.8l1.7 1.7m0 -1.7l-1.7 1.7M505.3 308.2l1.7 1.7m0 -1.7l-1.7 1.7M505.7 310.4l1.7 1.7m0 -1.7l-1.7 1.7M506.1 308.5l1.7 1.7m0 -1.7l-1.7 1.7M506.5 309.3l1.7 1.7m0 -1.7l-1.7 1.7M506.9 310.0l1.7 1.7m0 -1.7l-1.7 1.7M507.3 310.2l1.7 1.7m0 -1.7l-1.7 1.7M507.7 308.7l1.7 1.7m0 -1.7l-1.7 1.7M508.1 309.1l1.7 1.7m0 -1.7l-1.7 1.7M508.6 309.1l1.7 1.7m0 -1.7l-1.7 1.7M509.0 311.9l1.7 1.7m0 -1.7l-1.7 1.7M509.4 311.7l1.7 1.7m0 -1.7l-1.7 1.7M509.8 310.7l1.7 1.7m0 -1.7l-1.7 1.7M510.2 312.7l1.7 1.7m0 -1.7l-1.7 1.7M510.6 312.5l1.7 1.7m0 -1.7l-1.7 1.7M511.0 313.7l1.7 1.7m0 -1.7l-1.7 1.7M511.4 310.9l1.7 1.7m0 -1.7l-1.7 1.7M511.8 311.8l1.7 1.7m0 -1.7l-1.7 1.7M512.2 312.5l1.7 1.7m0 -1.7l-1.7 1.7M512.6 313.0l1.7 1.7m0 -1.7l-1.7 1.7M513.0 313.8l1.7 1.7m0 -1.7l-1.7 1.7M513.4 314.0l1.7 1.7m0 -1.7l-1.7 1.7M513.8 313.3l1.7 1.7m0 -1.7l-1.7 1.7M514.2 314.6l1.7 1.7m0 -1.7l-1.7 1.7M514.6 313.2l1.7 1.7m0 -1.7l-1.7 1.7M515.0 314.8l1.7 1.7m0 -1.7l-1.7 1.7M515.4 315.3l1.7 1.7m0 -1.7l-1.7 1.7M515.8 313.7l1.7 1.7m0 -1.7l-1.7 1.7M516.2 315.1l1.7 1.7m0 -1.7l-1.7 1.7M516.7 314.7l1.7 1.7m0 -1.7l-1.7 1.7M517.1 315.7l1.7 1.7m0 -1.7l-1.7 1.7M517.5 317.4l1.7 1.7m0 -1.7l-1.7 1.7M517.9 315.3l1.7 1.7m0 -1.7l-1.7 1.7M518.3 317.1l1.7 1.7m0 -1.7l-1.7 1.7M518.7 315.3l1.7 1.7m0 -1.7l-1.7 1.7M519.1 317.6l1.7 1.7m0 -1.7l-1.7 1.7M519.5 318.1l1.7 1.7m0 -1.7l-1.7 1.7M519.9 316.5l1.7 1.7m0 -1.7l-1.7 1.7M520.3 316.6l1.7 1.7m0 -1.7l-1.7 1.7M520.7 317.0l1.7 1.7m0 -1.7l-1.7 1.7M521.1 318.3l1.7 1.7m0 -1.7l-1.7 1.7M521.5 316.8l1.7 1.7m0 -1.7l-1.7 1.7M521.9 318.9l1.7 1.7m0 -1.7l-1.7 1.7M522.3 318.3l1.7 1.7m0 -1.7l-1.7 1.7M522.7 318.7l1.7 1.7m0 -1.7l-1.7 1.7M523.1 318.6l1.7 1.7m0 -1.7l-1.7 1.7M523.5 317.8l1.7 1.7m0 -1.7l-1.7 1.7M523.9 319.2l1.7 1.7m0 -1.7l-1.7 1.7M524.3 318.4l1.7 1.7m0 -1.7l-1.7 1.7M524.7 318.5l1.7 1.7m0 -1.7l-1.7 1.7M525.2 320.7l1.7 1.7m0 -1.7l-1.7 1.7M525.6 320.4l1.7 1.7m0 -1.7l-1.7 1.7M526.0 319.9l1.7 1.7m0 -1.7l-1.7 1.7M526.4 320.3l1.7 1.7m0 -1.7l-1.7 1.7M526.8 319.8l1.7 1.7m0 -1.7l-1.7 1.7M527.2 321.8l1.7 1.7m0 -1.7l-1.7 1.7M527.6 319.8l1.7 1.7m0 -1.7l-1.7 1.7M528.0 320.0l1.7 1.7m0 -1.7l-1.7 1.7M528.4 320.9l1.7 1.7m0 -1.7l-1.7 1.7M528.8 322.1l1.7 1.7m0 -1.7l-1.7 1.7M529.2 321.2l1.7 1.7m0 -1.7l-1.7 1.7M529.6 321.8l1.7 1.7m0 -1.7l-1.7 1.7M530.0 321.1l1.7 1.7m0 -1.7l-1.7 1.7M530.4 321.8l1.7 1.7m0 -1.7l-1.7 1.7M530.8 321.3l1.7 1.7m0 -1.7l-1.7 1.7M531.2 322.5l1.7 1.7m0 -1.7l-1.7 1.7M531.6 321.1l1.7 1.7m0 -1.7l-1.7 1.7M532.0 324.4l1.7 1.7m0 -1.7l-1.7 1.7M532.4 323.5l1.7 1.7m0 -1.7l-1.7 1.7M532.8 322.3l1.7 1.7m0 -1.7l-1.7 1.7M533.3 324.1l1.7 1.7m0 -1.7l-1.7 1.7M533.7 322.3l1.7 1.7m0 -1.7l-1.7 1.7M534.1 324.0l1.7 1.7m0 -1.7l-1.7 1.7M534.5 323.0l1.7 1.7m0 -1.7l-1.7 1.7M534.9 323.9l1.7 1.7m0 -1.7l-1.7 1.7M535.3 323.6l1.7 1.7m0 -1.7l-1.7 1.7M535.7 323.2l1.7 1.7m0 -1.7l-1.7 1.7M536.1 323.5l1.7 1.7m0 -1.7l-1.7 1.7M536.5 323.8l1.7 1.7m0 -1.7l-1.7 1.7M536.9 321.8l1.7 1.7m0 -1.7l-1.7 1.7M537.3 323.7l1.7 1.7m0 -1.7l-1.7 1.7M537.7 324.6l1.7 1.7m0 -1.7l-1.7 1.7M538.1 323.1l1.7 1.7m0 -1.7l-1.7 1.7M538.5 323.3l1.7 1.7m0 -1.7l-1.7 1.7M538.9 323.0l1.7 1.7m0 -1.7l-1.7 1.7M539.3 322.7l1.7 1.7m0 -1.7l-1.7 1.7M539.7 325.0l1.7 1.7m0 -1.7l-1.7 1.7M540.1 323.4l1.7 1.7m0 -1.7l-1.7 1.7M540.5 323.5l1.7 1.7m0 -1.7l-1.7 1.7M540.9 324.5l1.7 1.7m0 -1.7l-1.7 1.7M541.3 324.4l1.7 1.7m0 -1.7l-1.7 1.7M541.8 327.2l1.7 1.7m0 -1.7l-1.7 1.7M542.2 325.2l1.7 1.7m0 -1.7l-1.7 1.7M542.6 323.4l1.7 1.7m0 -1.7l-1.7 1.7M543.0 326.4l1.7 1.7m0 -1.7l-1.7 1.7M543.4 325.5l1.7 1.7m0 -1.7l-1.7 1.7M543.8 324.9l1.7 1.7m0 -1.7l-1.7 1.7M544.2 324.7l1.7 1.7m0 -1.7l-1.7 1.7M544.6 323.9l1.7 1.7m0 -1.7l-1.7 1.7M545.0 326.8l1.7 1.7m0 -1.7l-1.7 1.7M545.4 325.4l1.7 1.7m0 -1.7l-1.7 1.7M545.8 324.9l1.7 1.7m0 -1.7l-1.7 1.7M546.2 326.7l1.7 1.7m0 -1.7l-1.7 1.7M546.6 325.8l1.7 1.7m0 -1.7l-1.7 1.7M547.0 324.3l1.7 1.7m0 -1.7l-1.7 1.7M547.4 324.8l1.7 1.7m0 -1.7l-1.7 1.7M547.8 325.6l1.7 1.7m0 -1.7l-1.7 1.7M548.2 328.3l1.7 1.7m0 -1.7l-1.7 1.7M548.6 326.3l1.7 1.7m0 -1.7l-1.7 1.7M549.0 326.0l1.7 1.7m0 -1.7l-1.7 1.7M549.4 326.6l1.7 1.7m0 -1.7l-1.7 1.7M549.8 326.5l1.7 1.7m0 -1.7l-1.7 1.7M550.3 324.0l1.7 1.7m0 -1.7l-1.7 1.7M550.7 326.8l1.7 1.7m0 -1.7l-1.7 1.7M551.1 327.5l1.7 1.7m0 -1.7l-1.7 1.7M551.5 326.6l1.7 1.7m0 -1.7l-1.7 1.7M551.9 327.2l1.7 1.7m0 -1.7l-1.7 1.7M552.3 327.2l1.7 1.7m0 -1.7l-1.7 1.7M552.7 327.1l1.7 1.7m0 -1.7l-1.7 1.7M553.1 326.5l1.7 1.7m0 -1.7l-1.7 1.7M553.5 327.1l1.7 1.7m0 -1.7l-1.7 1.7M553.9 328.3l1.7 1.7m0 -1.7l-1.7 1.7M554.3 327.5l1.7 1.7m0 -1.7l-1.7 1.7M554.7 327.1l1.7 1.7m0 -1.7l-1.7 1.7M555.1 328.0l1.7 1.7m0 -1.7l-1.7 1.7M555.5 326.7l1.7 1.7m0 -1.7l-1.7 1.7M555.9 327.1l1.7 1.7m0 -1.7l-1.7 1.7M556.3 328.7l1.7 1.7m0 -1.7l-1.7 1.7M556.7 327.7l1.7 1.7m0 -1.7l-1.7 1.7M557.1 326.4l1.7 1.7m0 -1.7l-1.7 1.7M557.5 326.9l1.7 1.7m0 -1.7l-1.7 1.7M557.9 328.3l1.7 1.7m0 -1.7l-1.7 1.7M558.4 327.6l1.7 1.7m0 -1.7l-1.7 1.7M558.8 329.0l1.7 1.7m0 -1.7l-1.7 1.7M559.2 329.7l1.7 1.7m0 -1.7l-1.7 1.7M559.6 328.1l1.7 1.7m0 -1.7l-1.7 1.7M560.0 328.5l1.7 1.7m0 -1.7l-1.7 1.7M560.4 328.3l1.7 1.7m0 -1.7l-1.7 1.7M560.8 328.9l1.7 1.7m0 -1.7l-1.7 1.7M561.2 328.7l1.7 1.7m0 -1.7l-1.7 1.7M561.6 329.5l1.7 1.7m0 -1.7l-1.7 1.7M562.0 328.7l1.7 1.7m0 -1.7l-1.7 1.7M562.4 328.5l1.7 1.7m0 -1.7l-1.7 1.7M562.8 329.3l1.7 1.7m0 -1.7l-1.7 1.7M563.2 328.7l1.7 1.7m0 -1.7l-1.7 1.7M563.6 330.9l1.7 1.7m0 -1.7l-1.7 1.7M564.0 330.2l1.7 1.7m0 -1.7l-1.7 1.7M564.4 328.5l1.7 1.7m0 -1.7l-1.7 1.7M564.8 328.3l1.7 1.7m0 -1.7l-1.7 1.7M565.2 329.6l1.7 1.7m0 -1.7l-1.7 1.7M565.6 330.0l1.7 1.7m0 -1.7l-1.7 1.7M566.0 331.1l1.7 1.7m0 -1.7l-1.7 1.7M566.4 329.8l1.7 1.7m0 -1.7l-1.7 1.7M566.9 329.5l1.7 1.7m0 -1.7l-1.7 1.7M567.3 331.5l1.7 1.7m0 -1.7l-1.7 1.7M567.7 329.9l1.7 1.7m0 -1.7l-1.7 1.7M568.1 330.1l1.7 1.7m0 -1.7l-1.7 1.7M568.5 330.2l1.7 1.7m0 -1.7l-1.7 1.7M568.9 331.6l1.7 1.7m0 -1.7l-1.7 1.7M569.3 330.3l1.7 1.7m0 -1.7l-1.7 1.7M569.7 332.1l1.7 1.7m0 -1.7l-1.7 1.7M570.1 329.6l1.7 1.7m0 -1.7l-1.7 1.7M570.5 330.8l1.7 1.7m0 -1.7l-1.7 1.7M570.9 332.0l1.7 1.7m0 -1.7l-1.7 1.7M571.3 329.9l1.7 1.7m0 -1.7l-1.7 1.7M571.7 330.2l1.7 1.7m0 -1.7l-1.7 1.7M572.1 331.7l1.7 1.7m0 -1.7l-1.7 1.7M572.5 329.4l1.7 1.7m0 -1.7l-1.7 1.7M572.9 332.1l1.7 1.7m0 -1.7l-1.7 1.7M573.3 331.1l1.7 1.7m0 -1.7l-1.7 1.7M573.7 330.4l1.7 1.7m0 -1.7l-1.7 1.7M574.1 333.4l1.7 1.7m0 -1.7l-1.7 1.7M574.5 330.7l1.7 1.7m0 -1.7l-1.7 1.7M575.0 331.6l1.7 1.7m0 -1.7l-1.7 1.7M575.4 331.7l1.7 1.7m0 -1.7l-1.7 1.7M575.8 332.6l1.7 1.7m0 -1.7l-1.7 1.7M576.2 331.5l1.7 1.7m0 -1.7l-1.7 1.7M576.6 332.7l1.7 1.7m0 -1.7l-1.7 1.7M577.0 332.7l1.7 1.7m0 -1.7l-1.7 1.7M577.4 332.3l1.7 1.7m0 -1.7l-1.7 1.7M577.8 333.0l1.7 1.7m0 -1.7l-1.7 1.7M578.2 330.8l1.7 1.7m0 -1.7l-1.7 1.7M578.6 333.2l1.7 1.7m0 -1.7l-1.7 1.7M579.0 332.8l1.7 1.7m0 -1.7l-1.7 1.7M579.4 332.5l1.7 1.7m0 -1.7l-1.7 1.7M579.8 332.3l1.7 1.7m0 -1.7l-1.7 1.7M580.2 331.7l1.7 1.7m0 -1.7l-1.7 1.7M580.6 331.7l1.7 1.7m0 -1.7l-1.7 1.7M581.0 332.7l1.7 1.7m0 -1.7l-1.7 1.7M581.4 332.9l1.7 1.7m0 -1.7l-1.7 1.7M581.8 332.6l1.7 1.7m0 -1.7l-1.7 1.7M582.2 332.0l1.7 1.7m0 -1.7l-1.7 1.7M582.6 332.1l1.7 1.7m0 -1.7l-1.7 1.7M583.0 333.2l1.7 1.7m0 -1.7l-1.7 1.7M583.5 334.5l1.7 1.7m0 -1.7l-1.7 1.7M583.9 331.1l1.7 1.7m0 -1.7l-1.7 1.7M584.3 332.2l1.7 1.7m0 -1.7l-1.7 1.7M584.7 332.8l1.7 1.7m0 -1.7l-1.7 1.7M585.1 332.8l1.7 1.7m0 -1.7l-1.7 1.7M585.5 333.6l1.7 1.7m0 -1.7l-1.7 1.7M585.9 334.0l1.7 1.7m0 -1.7l-1.7 1.7M586.3 333.5l1.7 1.7m0 -1.7l-1.7 1.7M586.7 333.5l1.7 1.7m0 -1.7l-1.7 1.7M587.1 333.9l1.7 1.7m0 -1.7l-1.7 1.7M587.5 334.6l1.7 1.7m0 -1.7l-1.7 1.7M587.9 333.7l1.7 1.7m0 -1.7l-1.7 1.7M588.3 333.1l1.7 1.7m0 -1.7l-1.7 1.7M588.7 334.0l1.7 1.7m0 -1.7l-1.7 1.7M589.1 333.6l1.7 1.7m0 -1.7l-1.7 1.7M589.5 335.4l1.7 1.7m0 -1.7l-1.7 1.7M589.9 334.0l1.7 1.7m0 -1.7l-1.7 1.7M590.3 333.9l1.7 1.7m0 -1.7l-1.7 1.7M590.7 334.9l1.7 1.7m0 -1.7l-1.7 1.7M591.1 335.4l1.7 1.7m0 -1.7l-1.7 1.7M591.6 333.7l1.7 1.7m0 -1.7l-1.7 1.7M592.0 334.8l1.7 1.7m0 -1.7l-1.7 1.7M592.4 333.7l1.7 1.7m0 -1.7l-1.7 1.7M592.8 334.5l1.7 1.7m0 -1.7l-1.7 1.7M593.2 333.7l1.7 1.7m0 -1.7l-1.7 1.7M593.6 334.6l1.7 1.7m0 -1.7l-1.7 1.7M594.0 335.6l1.7 1.7m0 -1.7l-1.7 1.7M594.4 334.5l1.7 1.7m0 -1.7l-1.7 1.7M594.8 334.8l1.7 1.7m0 -1.7l-1.7 1.7M595.2 334.0l1.7 1.7m0 -1.7l-1.7 1.7M595.6 335.0l1.7 1.7m0 -1.7l-1.7 1.7M596.0 335.0l1.7 1.7m0 -1.7l-1.7 1.7M596.4 334.0l1.7 1.7m0 -1.7l-1.7 1.7M596.8 333.8l1.7 1.7m0 -1.7l-1.7 1.7M597.2 334.2l1.7 1.7m0 -1.7l-1.7 1.7M597.6 334.1l1.7 1.7m0 -1.7l-1.7 1.7M598.0 334.6l1.7 1.7m0 -1.7l-1.7 1.7M598.4 334.4l1.7 1.7m0 -1.7l-1.7 1.7M598.8 334.4l1.7 1.7m0 -1.7l-1.7 1.7M599.2 334.8l1.7 1.7m0 -1.7l-1.7 1.7M599.6 335.2l1.7 1.7m0 -1.7l-1.7 1.7M600.1 335.2l1.7 1.7m0 -1.7l-1.7 1.7M600.5 333.3l1.7 1.7m0 -1.7l-1.7 1.7M600.9 335.4l1.7 1.7m0 -1.7l-1.7 1.7M601.3 335.6l1.7 1.7m0 -1.7l-1.7 1.7M601.7 335.8l1.7 1.7m0 -1.7l-1.7 1.7M602.1 335.6l1.7 1.7m0 -1.7l-1.7 1.7M602.5 335.4l1.7 1.7m0 -1.7l-1.7 1.7M602.9 336.6l1.7 1.7m0 -1.7l-1.7 1.7M603.3 337.4l1.7 1.7m0 -1.7l-1.7 1.7M603.7 335.6l1.7 1.7m0 -1.7l-1.7 1.7M604.1 337.2l1.7 1.7m0 -1.7l-1.7 1.7M604.5 335.7l1.7 1.7m0 -1.7l-1.7 1.7M604.9 335.9l1.7 1.7m0 -1.7l-1.7 1.7M605.3 335.1l1.7 1.7m0 -1.7l-1.7 1.7M605.7 334.7l1.7 1.7m0 -1.7l-1.7 1.7M606.1 335.9l1.7 1.7m0 -1.7l-1.7 1.7M606.5 336.7l1.7 1.7m0 -1.7l-1.7 1.7M606.9 337.2l1.7 1.7m0 -1.7l-1.7 1.7M607.3 337.0l1.7 1.7m0 -1.7l-1.7 1.7M607.7 336.4l1.7 1.7m0 -1.7l-1.7 1.7M608.1 338.2l1.7 1.7m0 -1.7l-1.7 1.7M608.6 336.5l1.7 1.7m0 -1.7l-1.7 1.7M609.0 336.6l1.7 1.7m0 -1.7l-1.7 1.7M609.4 336.1l1.7 1.7m0 -1.7l-1.7 1.7M609.8 337.0l1.7 1.7m0 -1.7l-1.7 1.7M610.2 336.7l1.7 1.7m0 -1.7l-1.7 1.7M610.6 337.4l1.7 1.7m0 -1.7l-1.7 1.7M611.0 337.3l1.7 1.7m0 -1.7l-1.7 1.7M611.4 338.4l1.7 1.7m0 -1.7l-1.7 1.7M611.8 336.9l1.7 1.7m0 -1.7l-1.7 1.7M612.2 335.8l1.7 1.7m0 -1.7l-1.7 1.7M612.6 337.0l1.7 1.7m0 -1.7l-1.7 1.7M613.0 336.9l1.7 1.7m0 -1.7l-1.7 1.7M613.4 338.0l1.7 1.7m0 -1.7l-1.7 1.7M613.8 336.1l1.7 1.7m0 -1.7l-1.7 1.7M614.2 338.0l1.7 1.7m0 -1.7l-1.7 1.7M614.6 336.7l1.7 1.7m0 -1.7l-1.7 1.7M615.0 337.4l1.7 1.7m0 -1.7l-1.7 1.7M615.4 338.3l1.7 1.7m0 -1.7l-1.7 1.7M615.8 336.7l1.7 1.7m0 -1.7l-1.7 1.7M616.2 337.6l1.7 1.7m0 -1.7l-1.7 1.7M616.7 337.6l1.7 1.7m0 -1.7l-1.7 1.7M617.1 337.4l1.7 1.7m0 -1.7l-1.7 1.7M617.5 337.8l1.7 1.7m0 -1.7l-1.7 1.7M617.9 338.2l1.7 1.7m0 -1.7l-1.7 1.7M618.3 337.5l1.7 1.7m0 -1.7l-1.7 1.7M618.7 338.3l1.7 1.7m0 -1.7l-1.7 1.7M619.1 338.0l1.7 1.7m0 -1.7l-1.7 1.7M619.5 338.7l1.7 1.7m0 -1.7l-1.7 1.7M619.9 339.4l1.7 1.7m0 -1.7l-1.7 1.7M620.3 338.8l1.7 1.7m0 -1.7l-1.7 1.7M620.7 338.7l1.7 1.7m0 -1.7l-1.7 1.7M621.1 338.3l1.7 1.7m0 -1.7l-1.7 1.7M621.5 337.4l1.7 1.7m0 -1.7l-1.7 1.7M621.9 339.9l1.7 1.7m0 -1.7l-1.7 1.7M622.3 338.4l1.7 1.7m0 -1.7l-1.7 1.7M622.7 340.4l1.7 1.7m0 -1.7l-1.7 1.7M623.1 339.5l1.7 1.7m0 -1.7l-1.7 1.7M623.5 339.1l1.7 1.7m0 -1.7l-1.7 1.7M623.9 340.6l1.7 1.7m0 -1.7l-1.7 1.7M624.3 340.4l1.7 1.7m0 -1.7l-1.7 1.7M624.7 338.8l1.7 1.7m0 -1.7l-1.7 1.7M625.2 338.9l1.7 1.7m0 -1.7l-1.7 1.7M625.6 339.1l1.7 1.7m0 -1.7l-1.7 1.7M626.0 339.7l1.7 1.7m0 -1.7l-1.7 1.7M626.4 337.3l1.7 1.7m0 -1.7l-1.7 1.7" stroke="#6495ed" stroke-width="1.45" fill="none" opacity="1.0"/><path d="M456.7 346.9l1.7 1.7m0 -1.7l-1.7 1.7M457.1 346.8l1.7 1.7m0 -1.7l-1.7 1.7M457.5 343.5l1.7 1.7m0 -1.7l-1.7 1.7M457.9 343.8l1.7 1.7m0 -1.7l-1.7 1.7M458.4 344.1l1.7 1.7m0 -1.7l-1.7 1.7M458.8 341.7l1.7 1.7m0 -1.7l-1.7 1.7M459.2 342.0l1.7 1.7m0 -1.7l-1.7 1.7M459.6 340.7l1.7 1.7m0 -1.7l-1.7 1.7M460.0 340.4l1.7 1.7m0 -1.7l-1.7 1.7M460.4 340.9l1.7 1.7m0 -1.7l-1.7 1.7M460.8 338.1l1.7 1.7m0 -1.7l-1.7 1.7M461.2 338.2l1.7 1.7m0 -1.7l-1.7 1.7M461.6 338.6l1.7 1.7m0 -1.7l-1.7 1.7M462.0 337.6l1.7 1.7m0 -1.7l-1.7 1.7M462.4 335.1l1.7 1.7m0 -1.7l-1.7 1.7M462.8 335.7l1.7 1.7m0 -1.7l-1.7 1.7M463.2 334.5l1.7 1.7m0 -1.7l-1.7 1.7M463.6 333.1l1.7 1.7m0 -1.7l-1.7 1.7M464.0 332.9l1.7 1.7m0 -1.7l-1.7 1.7M464.4 333.9l1.7 1.7m0 -1.7l-1.7 1.7M464.8 331.0l1.7 1.7m0 -1.7l-1.7 1.7M465.2 330.1l1.7 1.7m0 -1.7l-1.7 1.7M465.6 329.6l1.7 1.7m0 -1.7l-1.7 1.7M466.0 328.3l1.7 1.7m0 -1.7l-1.7 1.7M466.4 329.0l1.7 1.7m0 -1.7l-1.7 1.7M466.9 328.0l1.7 1.7m0 -1.7l-1.7 1.7M467.3 326.5l1.7 1.7m0 -1.7l-1.7 1.7M467.7 327.9l1.7 1.7m0 -1.7l-1.7 1.7M468.1 325.2l1.7 1.7m0 -1.7l-1.7 1.7M468.5 324.6l1.7 1.7m0 -1.7l-1.7 1.7M468.9 325.0l1.7 1.7m0 -1.7l-1.7 1.7M469.3 323.3l1.7 1.7m0 -1.7l-1.7 1.7M469.7 323.8l1.7 1.7m0 -1.7l-1.7 1.7M470.1 325.0l1.7 1.7m0 -1.7l-1.7 1.7M470.5 322.3l1.7 1.7m0 -1.7l-1.7 1.7M470.9 322.6l1.7 1.7m0 -1.7l-1.7 1.7M471.3 321.9l1.7 1.7m0 -1.7l-1.7 1.7M471.7 321.6l1.7 1.7m0 -1.7l-1.7 1.7M472.1 319.7l1.7 1.7m0 -1.7l-1.7 1.7M472.5 320.0l1.7 1.7m0 -1.7l-1.7 1.7M472.9 320.8l1.7 1.7m0 -1.7l-1.7 1.7M473.3 319.1l1.7 1.7m0 -1.7l-1.7 1.7M473.7 318.4l1.7 1.7m0 -1.7l-1.7 1.7M474.1 319.4l1.7 1.7m0 -1.7l-1.7 1.7M474.5 318.6l1.7 1.7m0 -1.7l-1.7 1.7M475.0 318.1l1.7 1.7m0 -1.7l-1.7 1.7M475.4 317.9l1.7 1.7m0 -1.7l-1.7 1.7M475.8 316.4l1.7 1.7m0 -1.7l-1.7 1.7M476.2 315.2l1.7 1.7m0 -1.7l-1.7 1.7M476.6 313.9l1.7 1.7m0 -1.7l-1.7 1.7M477.0 314.1l1.7 1.7m0 -1.7l-1.7 1.7M477.4 313.8l1.7 1.7m0 -1.7l-1.7 1.7M477.8 313.2l1.7 1.7m0 -1.7l-1.7 1.7M478.2 312.6l1.7 1.7m0 -1.7l-1.7 1.7M478.6 313.9l1.7 1.7m0 -1.7l-1.7 1.7M479.0 312.3l1.7 1.7m0 -1.7l-1.7 1.7M479.4 312.2l1.7 1.7m0 -1.7l-1.7 1.7M479.8 312.2l1.7 1.7m0 -1.7l-1.7 1.7M480.2 312.1l1.7 1.7m0 -1.7l-1.7 1.7M480.6 311.6l1.7 1.7m0 -1.7l-1.7 1.7M481.0 311.0l1.7 1.7m0 -1.7l-1.7 1.7M481.4 311.6l1.7 1.7m0 -1.7l-1.7 1.7M481.8 309.4l1.7 1.7m0 -1.7l-1.7 1.7M482.2 309.6l1.7 1.7m0 -1.7l-1.7 1.7M482.6 309.1l1.7 1.7m0 -1.7l-1.7 1.7M483.0 308.5l1.7 1.7m0 -1.7l-1.7 1.7M483.5 307.7l1.7 1.7m0 -1.7l-1.7 1.7M483.9 308.7l1.7 1.7m0 -1.7l-1.7 1.7M484.3 307.8l1.7 1.7m0 -1.7l-1.7 1.7M484.7 309.0l1.7 1.7m0 -1.7l-1.7 1.7M485.1 309.3l1.7 1.7m0 -1.7l-1.7 1.7M485.5 308.6l1.7 1.7m0 -1.7l-1.7 1.7M485.9 304.6l1.7 1.7m0 -1.7l-1.7 1.7M486.3 307.8l1.7 1.7m0 -1.7l-1.7 1.7M486.7 305.0l1.7 1.7m0 -1.7l-1.7 1.7M487.1 303.6l1.7 1.7m0 -1.7l-1.7 1.7M487.5 305.2l1.7 1.7m0 -1.7l-1.7 1.7M487.9 302.7l1.7 1.7m0 -1.7l-1.7 1.7M488.3 302.1l1.7 1.7m0 -1.7l-1.7 1.7M488.7 302.7l1.7 1.7m0 -1.7l-1.7 1.7M489.1 300.9l1.7 1.7m0 -1.7l-1.7 1.7M489.5 302.4l1.7 1.7m0 -1.7l-1.7 1.7M489.9 303.6l1.7 1.7m0 -1.7l-1.7 1.7M490.3 302.0l1.7 1.7m0 -1.7l-1.7 1.7M490.7 302.7l1.7 1.7m0 -1.7l-1.7 1.7M491.1 303.3l1.7 1.7m0 -1.7l-1.7 1.7M491.5 303.0l1.7 1.7m0 -1.7l-1.7 1.7M492.0 299.1l1.7 1.7m0 -1.7l-1.7 1.7M492.4 301.7l1.7 1.7m0 -1.7l-1.7 1.7M492.8 300.9l1.7 1.7m0 -1.7l-1.7 1.7M493.2 301.3l1.7 1.7m0 -1.7l-1.7 1.7M493.6 300.2l1.7 1.7m0 -1.7l-1.7 1.7M494.0 300.3l1.7 1.7m0 -1.7l-1.7 1.7M494.4 300.2l1.7 1.7m0 -1.7l-1.7 1.7M494.8 301.0l1.7 1.7m0 -1.7l-1.7 1.7M495.2 301.1l1.7 1.7m0 -1.7l-1.7 1.7M495.6 300.3l1.7 1.7m0 -1.7l-1.7 1.7M496.0 299.2l1.7 1.7m0 -1.7l-1.7 1.7M496.4 297.3l1.7 1.7m0 -1.7l-1.7 1.7M496.8 298.3l1.7 1.7m0 -1.7l-1.7 1.7M497.2 297.4l1.7 1.7m0 -1.7l-1.7 1.7M497.6 298.7l1.7 1.7m0 -1.7l-1.7 1.7M498.0 299.2l1.7 1.7m0 -1.7l-1.7 1.7M498.4 300.4l1.7 1.7m0 -1.7l-1.7 1.7M498.8 299.0l1.7 1.7m0 -1.7l-1.7 1.7M499.2 301.1l1.7 1.7m0 -1.7l-1.7 1.7M499.6 299.1l1.7 1.7m0 -1.7l-1.7 1.7M500.1 297.1l1.7 1.7m0 -1.7l-1.7 1.7M500.5 298.3l1.7 1.7m0 -1.7l-1.7 1.7M500.9 297.4l1.7 1.7m0 -1.7l-1.7 1.7M501.3 298.9l1.7 1.7m0 -1.7l-1.7 1.7M501.7 299.9l1.7 1.7m0 -1.7l-1.7 1.7M502.1 298.9l1.7 1.7m0 -1.7l-1.7 1.7M502.5 298.7l1.7 1.7m0 -1.7l-1.7 1.7M502.9 297.0l1.7 1.7m0 -1.7l-1.7 1.7M503.3 296.1l1.7 1.7m0 -1.7l-1.7 1.7M503.7 298.8l1.7 1.7m0 -1.7l-1.7 1.7M504.1 298.4l1.7 1.7m0 -1.7l-1.7 1.7M504.5 298.1l1.7 1.7m0 -1.7l-1.7 1.7M504.9 298.2l1.7 1.7m0 -1.7l-1.7 1.7M505.3 299.1l1.7 1.7m0 -1.7l-1.7 1.7M505.7 297.6l1.7 1.7m0 -1.7l-1.7 1.7M506.1 297.3l1.7 1.7m0 -1.7l-1.7 1.7M506.5 297.2l1.7 1.7m0 -1.7l-1.7 1.7M506.9 298.7l1.7 1.7m0 -1.7l-1.7 1.7M507.3 297.5l1.7 1.7m0 -1.7l-1.7 1.7M507.7 299.1l1.7 1.7m0 -1.7l-1.7 1.7M508.1 296.3l1.7 1.7m0 -1.7l-1.7 1.7M508.6 298.2l1.7 1.7m0 -1.7l-1.7 1.7M509.0 297.4l1.7 1.7m0 -1.7l-1.7 1.7M509.4 297.5l1.7 1.7m0 -1.7l-1.7 1.7M509.8 297.6l1.7 1.7m0 -1.7l-1.7 1.7M510.2 298.0l1.7 1.7m0 -1.7l-1.7 1.7M510.6 298.6l1.7 1.7m0 -1.7l-1.7 1.7M511.0 294.9l1.7 1.7m0 -1.7l-1.7 1.7M511.4 296.4l1.7 1.7m0 -1.7l-1.7 1.7M511.8 296.3l1.7 1.7m0 -1.7l-1.7 1.7M512.2 294.3l1.7 1.7m0 -1.7l-1.7 1.7M512.6 296.5l1.7 1.7m0 -1.7l-1.7 1.7M513.0 295.8l1.7 1.7m0 -1.7l-1.7 1.7M513.4 296.3l1.7 1.7m0 -1.7l-1.7 1.7M513.8 295.0l1.7 1.7m0 -1.7l-1.7 1.7M514.2 295.7l1.7 1.7m0 -1.7l-1.7 1.7M514.6 295.8l1.7 1.7m0 -1.7l-1.7 1.7M515.0 296.3l1.7 1.7m0 -1.7l-1.7 1.7M515.4 295.7l1.7 1.7m0 -1.7l-1.7 1.7M515.8 294.8l1.7 1.7m0 -1.7l-1.7 1.7M516.2 298.1l1.7 1.7m0 -1.7l-1.7 1.7M516.7 296.0l1.7 1.7m0 -1.7l-1.7 1.7M517.1 296.2l1.7 1.7m0 -1.7l-1.7 1.7M517.5 296.1l1.7 1.7m0 -1.7l-1.7 1.7M517.9 297.8l1.7 1.7m0 -1.7l-1.7 1.7M518.3 294.9l1.7 1.7m0 -1.7l-1.7 1.7M518.7 296.5l1.7 1.7m0 -1.7l-1.7 1.7M519.1 295.8l1.7 1.7m0 -1.7l-1.7 1.7M519.5 296.0l1.7 1.7m0 -1.7l-1.7 1.7M519.9 297.2l1.7 1.7m0 -1.7l-1.7 1.7M520.3 295.8l1.7 1.7m0 -1.7l-1.7 1.7M520.7 297.2l1.7 1.7m0 -1.7l-1.7 1.7M521.1 296.3l1.7 1.7m0 -1.7l-1.7 1.7M521.5 295.6l1.7 1.7m0 -1.7l-1.7 1.7M521.9 295.2l1.7 1.7m0 -1.7l-1.7 1.7M522.3 295.1l1.7 1.7m0 -1.7l-1.7 1.7M522.7 295.2l1.7 1.7m0 -1.7l-1.7 1.7M523.1 292.8l1.7 1.7m0 -1.7l-1.7 1.7M523.5 294.5l1.7 1.7m0 -1.7l-1.7 1.7M523.9 296.2l1.7 1.7m0 -1.7l-1.7 1.7M524.3 295.5l1.7 1.7m0 -1.7l-1.7 1.7M524.7 295.5l1.7 1.7m0 -1.7l-1.7 1.7M525.2 294.9l1.7 1.7m0 -1.7l-1.7 1.7M525.6 295.3l1.7 1.7m0 -1.7l-1.7 1.7M526.0 295.5l1.7 1.7m0 -1.7l-1.7 1.7M526.4 292.9l1.7 1.7m0 -1.7l-1.7 1.7M526.8 294.5l1.7 1.7m0 -1.7l-1.7 1.7M527.2 294.8l1.7 1.7m0 -1.7l-1.7 1.7M527.6 294.7l1.7 1.7m0 -1.7l-1.7 1.7M528.0 294.6l1.7 1.7m0 -1.7l-1.7 1.7M528.4 292.9l1.7 1.7m0 -1.7l-1.7 1.7M528.8 293.8l1.7 1.7m0 -1.7l-1.7 1.7M529.2 293.0l1.7 1.7m0 -1.7l-1.7 1.7M529.6 297.4l1.7 1.7m0 -1.7l-1.7 1.7M530.0 293.8l1.7 1.7m0 -1.7l-1.7 1.7M530.4 293.0l1.7 1.7m0 -1.7l-1.7 1.7M530.8 292.0l1.7 1.7m0 -1.7l-1.7 1.7M531.2 293.9l1.7 1.7m0 -1.7l-1.7 1.7M531.6 295.7l1.7 1.7m0 -1.7l-1.7 1.7M532.0 293.2l1.7 1.7m0 -1.7l-1.7 1.7M532.4 294.4l1.7 1.7m0 -1.7l-1.7 1.7M532.8 295.7l1.7 1.7m0 -1.7l-1.7 1.7M533.3 294.4l1.7 1.7m0 -1.7l-1.7 1.7M533.7 292.7l1.7 1.7m0 -1.7l-1.7 1.7M534.1 292.5l1.7 1.7m0 -1.7l-1.7 1.7M534.5 293.0l1.7 1.7m0 -1.7l-1.7 1.7M534.9 294.8l1.7 1.7m0 -1.7l-1.7 1.7M535.3 291.1l1.7 1.7m0 -1.7l-1.7 1.7M535.7 294.9l1.7 1.7m0 -1.7l-1.7 1.7M536.1 293.8l1.7 1.7m0 -1.7l-1.7 1.7M536.5 295.2l1.7 1.7m0 -1.7l-1.7 1.7M536.9 292.3l1.7 1.7m0 -1.7l-1.7 1.7M537.3 293.2l1.7 1.7m0 -1.7l-1.7 1.7M537.7 292.8l1.7 1.7m0 -1.7l-1.7 1.7M538.1 293.6l1.7 1.7m0 -1.7l-1.7 1.7M538.5 293.7l1.7 1.7m0 -1.7l-1.7 1.7M538.9 293.5l1.7 1.7m0 -1.7l-1.7 1.7M539.3 295.6l1.7 1.7m0 -1.7l-1.7 1.7M539.7 292.6l1.7 1.7m0 -1.7l-1.7 1.7M540.1 292.7l1.7 1.7m0 -1.7l-1.7 1.7M540.5 294.0l1.7 1.7m0 -1.7l-1.7 1.7M540.9 293.6l1.7 1.7m0 -1.7l-1.7 1.7M541.3 293.3l1.7 1.7m0 -1.7l-1.7 1.7M541.8 291.9l1.7 1.7m0 -1.7l-1.7 1.7M542.2 293.1l1.7 1.7m0 -1.7l-1.7 1.7M542.6 293.5l1.7 1.7m0 -1.7l-1.7 1.7M543.0 294.1l1.7 1.7m0 -1.7l-1.7 1.7M543.4 295.1l1.7 1.7m0 -1.7l-1.7 1.7M543.8 294.1l1.7 1.7m0 -1.7l-1.7 1.7M544.2 293.4l1.7 1.7m0 -1.7l-1.7 1.7M544.6 293.8l1.7 1.7m0 -1.7l-1.7 1.7M545.0 293.4l1.7 1.7m0 -1.7l-1.7 1.7M545.4 292.7l1.7 1.7m0 -1.7l-1.7 1.7M545.8 293.0l1.7 1.7m0 -1.7l-1.7 1.7M546.2 293.2l1.7 1.7m0 -1.7l-1.7 1.7M546.6 292.8l1.7 1.7m0 -1.7l-1.7 1.7M547.0 293.2l1.7 1.7m0 -1.7l-1.7 1.7M547.4 293.5l1.7 1.7m0 -1.7l-1.7 1.7M547.8 292.9l1.7 1.7m0 -1.7l-1.7 1.7M548.2 295.2l1.7 1.7m0 -1.7l-1.7 1.7M548.6 292.1l1.7 1.7m0 -1.7l-1.7 1.7M549.0 294.7l1.7 1.7m0 -1.7l-1.7 1.7M549.4 292.5l1.7 1.7m0 -1.7l-1.7 1.7M549.8 293.3l1.7 1.7m0 -1.7l-1.7 1.7M550.3 292.2l1.7 1.7m0 -1.7l-1.7 1.7M550.7 293.3l1.7 1.7m0 -1.7l-1.7 1.7M551.1 294.3l1.7 1.7m0 -1.7l-1.7 1.7M551.5 292.2l1.7 1.7m0 -1.7l-1.7 1.7M551.9 293.1l1.7 1.7m0 -1.7l-1.7 1.7M552.3 293.2l1.7 1.7m0 -1.7l-1.7 1.7M552.7 293.2l1.7 1.7m0 -1.7l-1.7 1.7M553.1 292.2l1.7 1.7m0 -1.7l-1.7 1.7M553.5 292.4l1.7 1.7m0 -1.7l-1.7 1.7M553.9 293.0l1.7 1.7m0 -1.7l-1.7 1.7M554.3 294.8l1.7 1.7m0 -1.7l-1.7 1.7M554.7 293.6l1.7 1.7m0 -1.7l-1.7 1.7M555.1 293.1l1.7 1.7m0 -1.7l-1.7 1.7M555.5 291.4l1.7 1.7m0 -1.7l-1.7 1.7M555.9 292.8l1.7 1.7m0 -1.7l-1.7 1.7M556.3 293.3l1.7 1.7m0 -1.7l-1.7 1.7M556.7 291.9l1.7 1.7m0 -1.7l-1.7 1.7M557.1 293.3l1.7 1.7m0 -1.7l-1.7 1.7M557.5 293.2l1.7 1.7m0 -1.7l-1.7 1.7M557.9 293.0l1.7 1.7m0 -1.7l-1.7 1.7M558.4 294.7l1.7 1.7m0 -1.7l-1.7 1.7M558.8 292.1l1.7 1.7m0 -1.7l-1.7 1.7M559.2 292.7l1.7 1.7m0 -1.7l-1.7 1.7M559.6 293.4l1.7 1.7m0 -1.7l-1.7 1.7M560.0 294.3l1.7 1.7m0 -1.7l-1.7 1.7M560.4 292.9l1.7 1.7m0 -1.7l-1.7 1.7M560.8 291.6l1.7 1.7m0 -1.7l-1.7 1.7M561.2 293.7l1.7 1.7m0 -1.7l-1.7 1.7M561.6 294.1l1.7 1.7m0 -1.7l-1.7 1.7M562.0 292.6l1.7 1.7m0 -1.7l-1.7 1.7M562.4 294.7l1.7 1.7m0 -1.7l-1.7 1.7M562.8 295.3l1.7 1.7m0 -1.7l-1.7 1.7M563.2 293.5l1.7 1.7m0 -1.7l-1.7 1.7M563.6 293.7l1.7 1.7m0 -1.7l-1.7 1.7M564.0 293.3l1.7 1.7m0 -1.7l-1.7 1.7M564.4 293.5l1.7 1.7m0 -1.7l-1.7 1.7M564.8 292.6l1.7 1.7m0 -1.7l-1.7 1.7M565.2 293.2l1.7 1.7m0 -1.7l-1.7 1.7M565.6 293.6l1.7 1.7m0 -1.7l-1.7 1.7M566.0 293.4l1.7 1.7m0 -1.7l-1.7 1.7M566.4 292.3l1.7 1.7m0 -1.7l-1.7 1.7M566.9 291.9l1.7 1.7m0 -1.7l-1.7 1.7M567.3 292.0l1.7 1.7m0 -1.7l-1.7 1.7M567.7 292.2l1.7 1.7m0 -1.7l-1.7 1.7M568.1 296.3l1.7 1.7m0 -1.7l-1.7 1.7M568.5 293.9l1.7 1.7m0 -1.7l-1.7 1.7M568.9 293.2l1.7 1.7m0 -1.7l-1.7 1.7M569.3 292.6l1.7 1.7m0 -1.7l-1.7 1.7M569.7 294.5l1.7 1.7m0 -1.7l-1.7 1.7M570.1 291.4l1.7 1.7m0 -1.7l-1.7 1.7M570.5 292.5l1.7 1.7m0 -1.7l-1.7 1.7M570.9 293.5l1.7 1.7m0 -1.7l-1.7 1.7M571.3 292.6l1.7 1.7m0 -1.7l-1.7 1.7M571.7 293.2l1.7 1.7m0 -1.7l-1.7 1.7M572.1 293.6l1.7 1.7m0 -1.7l-1.7 1.7M572.5 292.3l1.7 1.7m0 -1.7l-1.7 1.7M572.9 293.2l1.7 1.7m0 -1.7l-1.7 1.7M573.3 294.2l1.7 1.7m0 -1.7l-1.7 1.7M573.7 293.4l1.7 1.7m0 -1.7l-1.7 1.7M574.1 292.9l1.7 1.7m0 -1.7l-1.7 1.7M574.5 293.9l1.7 1.7m0 -1.7l-1.7 1.7M575.0 291.4l1.7 1.7m0 -1.7l-1.7 1.7M575.4 293.9l1.7 1.7m0 -1.7l-1.7 1.7M575.8 290.9l1.7 1.7m0 -1.7l-1.7 1.7M576.2 291.8l1.7 1.7m0 -1.7l-1.7 1.7M576.6 293.7l1.7 1.7m0 -1.7l-1.7 1.7M577.0 292.6l1.7 1.7m0 -1.7l-1.7 1.7M577.4 291.5l1.7 1.7m0 -1.7l-1.7 1.7M577.8 292.9l1.7 1.7m0 -1.7l-1.7 1.7M578.2 293.9l1.7 1.7m0 -1.7l-1.7 1.7M578.6 292.6l1.7 1.7m0 -1.7l-1.7 1.7M579.0 290.6l1.7 1.7m0 -1.7l-1.7 1.7M579.4 294.2l1.7 1.7m0 -1.7l-1.7 1.7M579.8 292.1l1.7 1.7m0 -1.7l-1.7 1.7M580.2 292.6l1.7 1.7m0 -1.7l-1.7 1.7M580.6 292.8l1.7 1.7m0 -1.7l-1.7 1.7M581.0 293.0l1.7 1.7m0 -1.7l-1.7 1.7M581.4 292.9l1.7 1.7m0 -1.7l-1.7 1.7M581.8 291.5l1.7 1.7m0 -1.7l-1.7 1.7M582.2 292.0l1.7 1.7m0 -1.7l-1.7 1.7M582.6 293.6l1.7 1.7m0 -1.7l-1.7 1.7M583.0 291.0l1.7 1.7m0 -1.7l-1.7 1.7M583.5 293.9l1.7 1.7m0 -1.7l-1.7 1.7M583.9 291.9l1.7 1.7m0 -1.7l-1.7 1.7M584.3 292.4l1.7 1.7m0 -1.7l-1.7 1.7M584.7 291.3l1.7 1.7m0 -1.7l-1.7 1.7M585.1 292.2l1.7 1.7m0 -1.7l-1.7 1.7M585.5 291.4l1.7 1.7m0 -1.7l-1.7 1.7M585.9 292.6l1.7 1.7m0 -1.7l-1.7 1.7M586.3 291.5l1.7 1.7m0 -1.7l-1.7 1.7M586.7 292.2l1.7 1.7m0 -1.7l-1.7 1.7M587.1 290.3l1.7 1.7m0 -1.7l-1.7 1.7M587.5 293.2l1.7 1.7m0 -1.7l-1.7 1.7M587.9 291.3l1.7 1.7m0 -1.7l-1.7 1.7M588.3 292.0l1.7 1.7m0 -1.7l-1.7 1.7M588.7 292.3l1.7 1.7m0 -1.7l-1.7 1.7M589.1 293.1l1.7 1.7m0 -1.7l-1.7 1.7M589.5 292.0l1.7 1.7m0 -1.7l-1.7 1.7M589.9 294.0l1.7 1.7m0 -1.7l-1.7 1.7M590.3 293.9l1.7 1.7m0 -1.7l-1.7 1.7M590.7 291.7l1.7 1.7m0 -1.7l-1.7 1.7M591.1 294.0l1.7 1.7m0 -1.7l-1.7 1.7M591.6 290.9l1.7 1.7m0 -1.7l-1.7 1.7M592.0 292.7l1.7 1.7m0 -1.7l-1.7 1.7M592.4 292.1l1.7 1.7m0 -1.7l-1.7 1.7M592.8 292.3l1.7 1.7m0 -1.7l-1.7 1.7M593.2 292.0l1.7 1.7m0 -1.7l-1.7 1.7M593.6 292.7l1.7 1.7m0 -1.7l-1.7 1.7M594.0 292.8l1.7 1.7m0 -1.7l-1.7 1.7M594.4 292.5l1.7 1.7m0 -1.7l-1.7 1.7M594.8 291.3l1.7 1.7m0 -1.7l-1.7 1.7M595.2 291.2l1.7 1.7m0 -1.7l-1.7 1.7M595.6 291.0l1.7 1.7m0 -1.7l-1.7 1.7M596.0 292.0l1.7 1.7m0 -1.7l-1.7 1.7M596.4 292.5l1.7 1.7m0 -1.7l-1.7 1.7M596.8 294.1l1.7 1.7m0 -1.7l-1.7 1.7M597.2 291.7l1.7 1.7m0 -1.7l-1.7 1.7M597.6 291.4l1.7 1.7m0 -1.7l-1.7 1.7M598.0 292.7l1.7 1.7m0 -1.7l-1.7 1.7M598.4 291.5l1.7 1.7m0 -1.7l-1.7 1.7M598.8 291.0l1.7 1.7m0 -1.7l-1.7 1.7M599.2 292.2l1.7 1.7m0 -1.7l-1.7 1.7M599.6 291.2l1.7 1.7m0 -1.7l-1.7 1.7M600.1 291.9l1.7 1.7m0 -1.7l-1.7 1.7M600.5 294.1l1.7 1.7m0 -1.7l-1.7 1.7M600.9 292.7l1.7 1.7m0 -1.7l-1.7 1.7M601.3 292.7l1.7 1.7m0 -1.7l-1.7 1.7M601.7 291.7l1.7 1.7m0 -1.7l-1.7 1.7M602.1 293.1l1.7 1.7m0 -1.7l-1.7 1.7M602.5 292.7l1.7 1.7m0 -1.7l-1.7 1.7M602.9 293.2l1.7 1.7m0 -1.7l-1.7 1.7M603.3 292.2l1.7 1.7m0 -1.7l-1.7 1.7M603.7 292.1l1.7 1.7m0 -1.7l-1.7 1.7M604.1 291.2l1.7 1.7m0 -1.7l-1.7 1.7M604.5 291.4l1.7 1.7m0 -1.7l-1.7 1.7M604.9 292.0l1.7 1.7m0 -1.7l-1.7 1.7M605.3 291.9l1.7 1.7m0 -1.7l-1.7 1.7M605.7 292.0l1.7 1.7m0 -1.7l-1.7 1.7M606.1 292.0l1.7 1.7m0 -1.7l-1.7 1.7M606.5 290.5l1.7 1.7m0 -1.7l-1.7 1.7M606.9 294.7l1.7 1.7m0 -1.7l-1.7 1.7M607.3 292.3l1.7 1.7m0 -1.7l-1.7 1.7M607.7 291.8l1.7 1.7m0 -1.7l-1.7 1.7M608.1 291.0l1.7 1.7m0 -1.7l-1.7 1.7M608.6 293.3l1.7 1.7m0 -1.7l-1.7 1.7M609.0 291.8l1.7 1.7m0 -1.7l-1.7 1.7M609.4 291.3l1.7 1.7m0 -1.7l-1.7 1.7M609.8 292.7l1.7 1.7m0 -1.7l-1.7 1.7M610.2 294.2l1.7 1.7m0 -1.7l-1.7 1.7M610.6 292.6l1.7 1.7m0 -1.7l-1.7 1.7M611.0 293.5l1.7 1.7m0 -1.7l-1.7 1.7M611.4 291.6l1.7 1.7m0 -1.7l-1.7 1.7M611.8 293.2l1.7 1.7m0 -1.7l-1.7 1.7M612.2 290.5l1.7 1.7m0 -1.7l-1.7 1.7M612.6 292.2l1.7 1.7m0 -1.7l-1.7 1.7M613.0 293.2l1.7 1.7m0 -1.7l-1.7 1.7M613.4 292.9l1.7 1.7m0 -1.7l-1.7 1.7M613.8 293.5l1.7 1.7m0 -1.7l-1.7 1.7M614.2 292.0l1.7 1.7m0 -1.7l-1.7 1.7M614.6 290.8l1.7 1.7m0 -1.7l-1.7 1.7M615.0 292.6l1.7 1.7m0 -1.7l-1.7 1.7M615.4 291.5l1.7 1.7m0 -1.7l-1.7 1.7M615.8 293.4l1.7 1.7m0 -1.7l-1.7 1.7M616.2 292.1l1.7 1.7m0 -1.7l-1.7 1.7M616.7 290.1l1.7 1.7m0 -1.7l-1.7 1.7M617.1 293.9l1.7 1.7m0 -1.7l-1.7 1.7M617.5 291.2l1.7 1.7m0 -1.7l-1.7 1.7M617.9 291.3l1.7 1.7m0 -1.7l-1.7 1.7M618.3 294.5l1.7 1.7m0 -1.7l-1.7 1.7M618.7 294.0l1.7 1.7m0 -1.7l-1.7 1.7M619.1 293.6l1.7 1.7m0 -1.7l-1.7 1.7M619.5 291.6l1.7 1.7m0 -1.7l-1.7 1.7M619.9 293.0l1.7 1.7m0 -1.7l-1.7 1.7M620.3 292.8l1.7 1.7m0 -1.7l-1.7 1.7M620.7 291.9l1.7 1.7m0 -1.7l-1.7 1.7M621.1 292.5l1.7 1.7m0 -1.7l-1.7 1.7M621.5 292.4l1.7 1.7m0 -1.7l-1.7 1.7M621.9 293.0l1.7 1.7m0 -1.7l-1.7 1.7M622.3 291.5l1.7 1.7m0 -1.7l-1.7 1.7M622.7 293.5l1.7 1.7m0 -1.7l-1.7 1.7M623.1 291.0l1.7 1.7m0 -1.7l-1.7 1.7M623.5 293.1l1.7 1.7m0 -1.7l-1.7 1.7M623.9 293.6l1.7 1.7m0 -1.7l-1.7 1.7M624.3 292.1l1.7 1.7m0 -1.7l-1.7 1.7M624.7 292.3l1.7 1.7m0 -1.7l-1.7 1.7M625.2 294.8l1.7 1.7m0 -1.7l-1.7 1.7M625.6 292.6l1.7 1.7m0 -1.7l-1.7 1.7M626.0 294.2l1.7 1.7m0 -1.7l-1.7 1.7M626.4 293.7l1.7 1.7m0 -1.7l-1.7 1.7" stroke="#ffa500" stroke-width="1.45" fill="none" opacity="1.0"/><polyline points="514.1,314.4 517.0,315.8 519.9,317.2 522.8,318.6 525.7,320.0 528.6,321.3 531.5,322.7 534.4,323.7 537.3,324.4 540.2,325.0 543.1,325.6 546.0,326.3 548.9,326.9 551.8,327.6 554.7,328.2 557.6,328.8 560.5,329.5 563.4,330.1 566.3,330.7 569.2,331.4 572.1,331.9 575.0,332.3 577.9,332.8 580.8,333.2 583.7,333.6 586.6,334.0 589.5,334.5 592.4,334.9 595.3,335.3 598.2,335.7 601.1,336.1 604.0,336.6 606.9,337.0 609.8,337.4 612.7,337.8 615.6,338.3 618.5,338.7 621.4,339.1 624.3,339.5 627.2,340.0" stroke="#14144a" stroke-width="1.3" fill="none" opacity="1.0" stroke-dasharray="3.2,2"/><rect x="449.1" y="224.2" width="186.6" height="127.5" fill="none" stroke="#333" stroke-width="1.3"/><path d="M457.6 351.7v3.3M457.6 224.2v-3.3M533.0 351.7v3.3M533.0 224.2v-3.3M608.4 351.7v3.3M608.4 224.2v-3.3M449.1 351.7h-3.3M635.7 351.7h3.3M449.1 282.7h-3.3M635.7 282.7h3.3" stroke="#333" stroke-width="1"/><text x="450.7" y="239.2" font-family="Liberation Serif" font-weight="bold" font-size="16.2" letter-spacing="0.3">(f)</text><text x="492.6" y="219.3" font-family="Liberation Serif" font-style="italic" font-size="21" fill="#191970" stroke="#191970" stroke-width="0.55">T</text><text x="502.8" y="223.2" font-family="Liberation Serif" font-style="italic" font-size="16" fill="#191970" stroke="#191970" stroke-width="0.15">stab</text><path d="M534.8 211.7h14.5M534.8 215.6h14.5" stroke="#191970" stroke-width="1.3"/><text x="554.5" y="219.3" font-family="Liberation Serif" font-size="21.7" fill="#191970" stroke="#191970" stroke-width="0.1">1.33</text><text x="457.6" y="370.1" text-anchor="middle" font-family="Liberation Serif" font-size="18" stroke="#000" stroke-width="0.35">0</text><text x="533.0" y="370.1" text-anchor="middle" font-family="Liberation Serif" font-size="18" stroke="#000" stroke-width="0.35">2</text><text x="608.4" y="370.1" text-anchor="middle" font-family="Liberation Serif" font-size="18" stroke="#000" stroke-width="0.35">4</text><text x="520.6" y="389.8" font-family="Liberation Serif" font-style="italic" font-size="17.5" stroke="#000" stroke-width="0.4">t</text><path d="M526.9 394.6L534.5 377.2" stroke="#000" stroke-width="1.3"/><text x="535.7" y="389.8" font-family="Liberation Serif" font-style="italic" font-size="16" stroke="#000" stroke-width="0.4">T</text><text x="545.3" y="392.6" font-family="Liberation Serif" font-style="italic" font-size="12.8" letter-spacing="0.6" stroke="#000" stroke-width="0.3">TM</text></svg>
</body></html>
